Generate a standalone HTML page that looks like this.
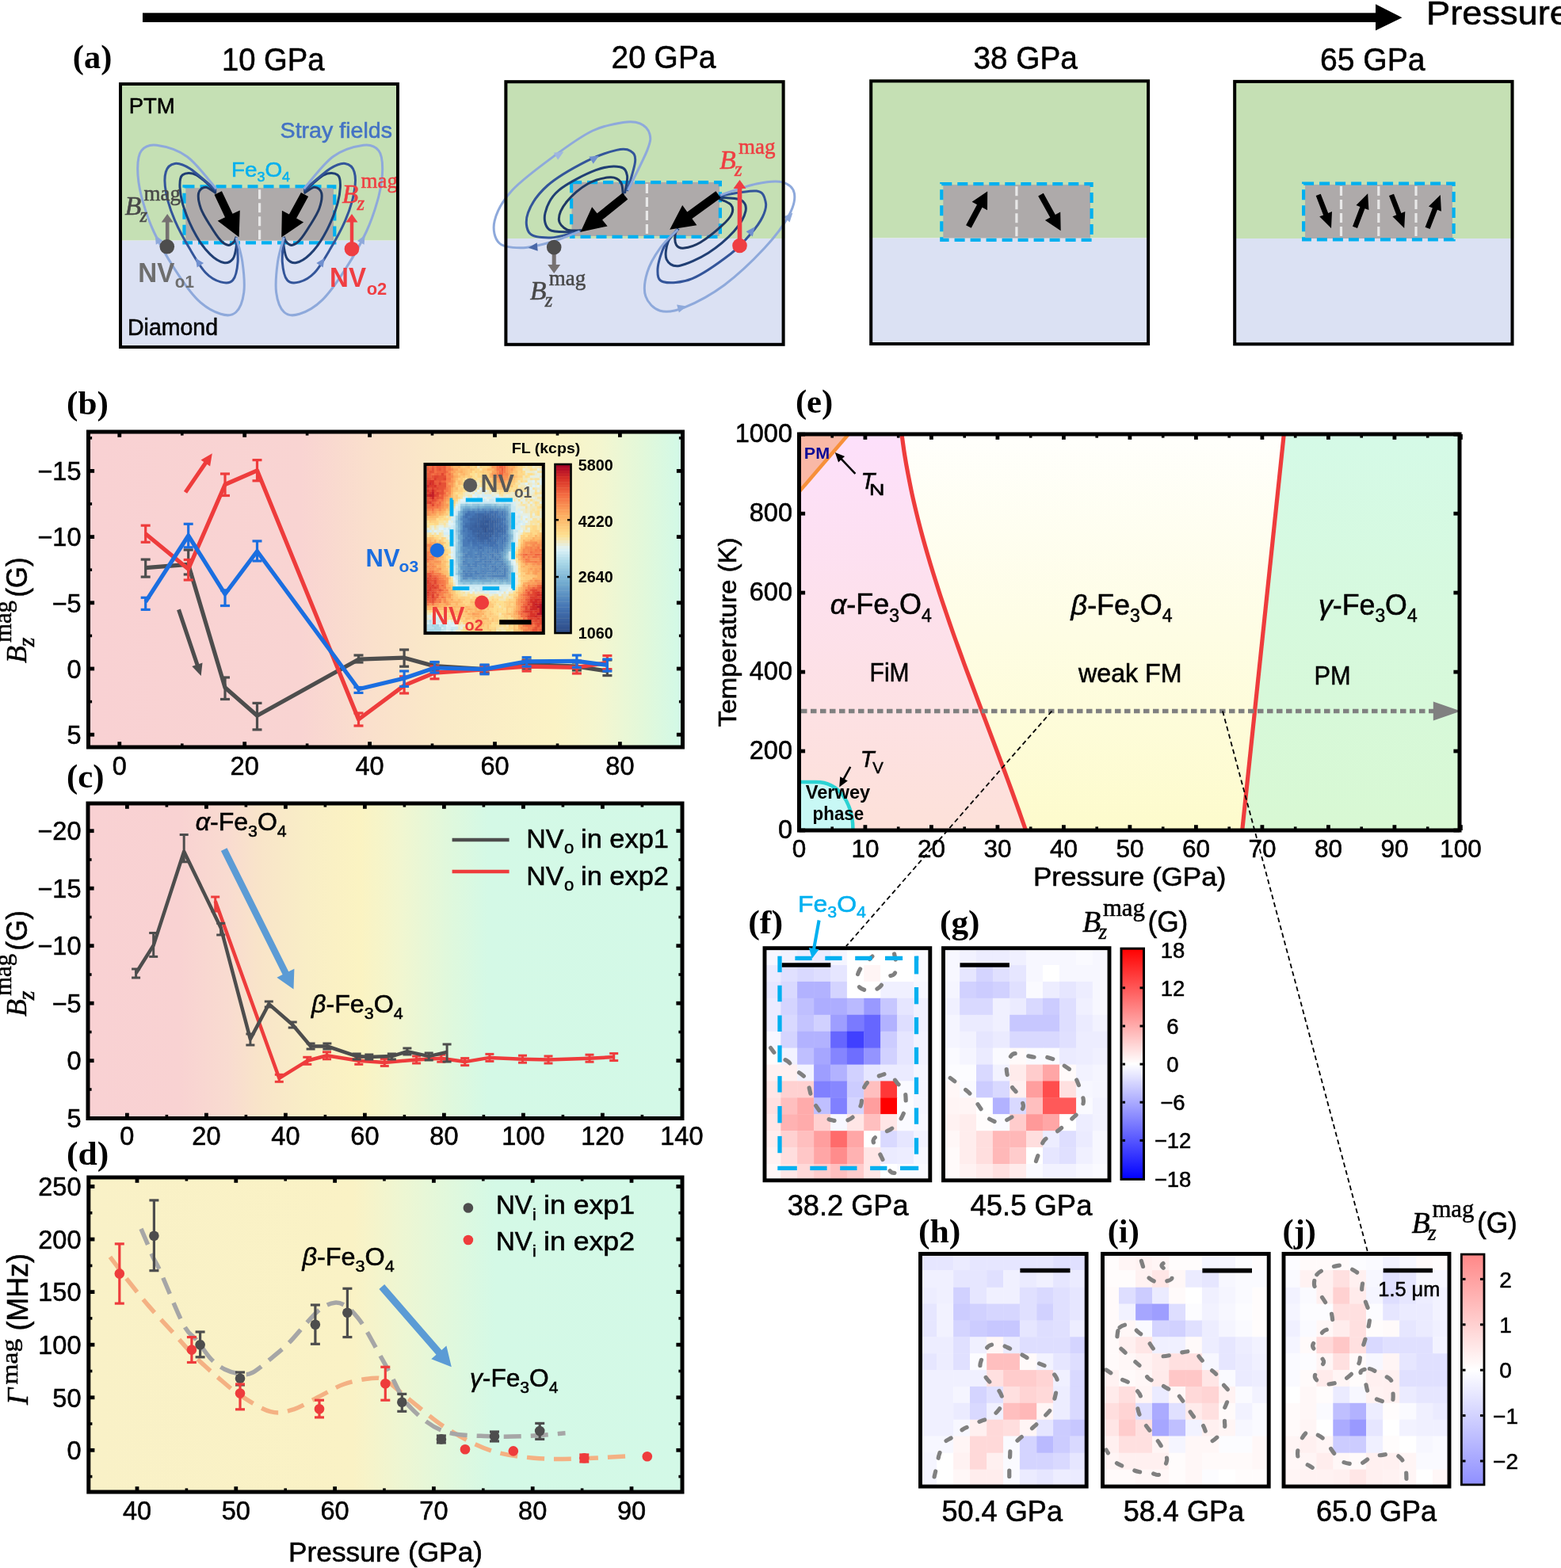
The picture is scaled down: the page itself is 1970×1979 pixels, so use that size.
<!DOCTYPE html>
<html><head><meta charset="utf-8"><title>Fe3O4 figure</title>
<style>html,body{margin:0;padding:0;background:#fff;}svg{display:block;}
</style></head>
<body><svg width="1970" height="1979" viewBox="0 0 1970 1979" font-family='"Liberation Sans", Arial, sans-serif'>
<rect width="1970" height="1979" fill="#fff"/>
<rect x="180.0" y="16.3" width="1557.0" height="11.7" fill="#000"/>
<polygon points="1736.0,5.3 1769.5,22.2 1736.0,38.5" fill="#000" />
<text x="1800.0" y="30.8" font-size="43" textLength="181.0" lengthAdjust="spacingAndGlyphs" stroke="#000" stroke-width="0.55">Pressure</text>
<text x="91.8" y="85.5" font-size="43" font-family='"Liberation Serif", "Times New Roman", serif' font-weight="bold" textLength="49.5" lengthAdjust="spacingAndGlyphs">(a)</text>
<text x="280.0" y="89.0" font-size="40" textLength="129.6" lengthAdjust="spacingAndGlyphs" stroke="#000" stroke-width="0.55">10 GPa</text>
<text x="771.5" y="86.2" font-size="40" textLength="132.0" lengthAdjust="spacingAndGlyphs" stroke="#000" stroke-width="0.55">20 GPa</text>
<text x="1228.4" y="87.3" font-size="40" textLength="131.5" lengthAdjust="spacingAndGlyphs" stroke="#000" stroke-width="0.55">38 GPa</text>
<text x="1666.0" y="89.0" font-size="40" textLength="132.6" lengthAdjust="spacingAndGlyphs" stroke="#000" stroke-width="0.55">65 GPa</text>
<rect x="150.0" y="104.0" width="354.0" height="199.6" fill="#c5e0b4"/>
<rect x="150.0" y="303.6" width="354.0" height="136.4" fill="#dbe1f3"/>
<rect x="636.4" y="101.2" width="354.2" height="199.8" fill="#c5e0b4"/>
<rect x="636.4" y="301.0" width="354.2" height="135.8" fill="#dbe1f3"/>
<rect x="1097.2" y="100.3" width="353.9" height="200.2" fill="#c5e0b4"/>
<rect x="1097.2" y="300.5" width="353.9" height="135.5" fill="#dbe1f3"/>
<rect x="1556.2" y="100.9" width="354.3" height="200.1" fill="#c5e0b4"/>
<rect x="1556.2" y="301.0" width="354.3" height="135.3" fill="#dbe1f3"/>
<rect x="234.3" y="237.2" width="186.7" height="66.4" fill="#aeaaaa"/>
<line x1="327.6" y1="239.2" x2="327.6" y2="303.6" stroke="#e8e8e8" stroke-width="3.2" stroke-dasharray="12 5"/>
<rect x="232.5" y="235.4" width="189.8" height="70.9" fill="none" stroke="#00b0f0" stroke-width="4.2" stroke-dasharray="13 7"/>
<rect x="721.5" y="230.0" width="186.5" height="68.0" fill="#aeaaaa"/>
<line x1="816.4" y1="232.0" x2="816.4" y2="298.0" stroke="#e8e8e8" stroke-width="3.2" stroke-dasharray="12 5"/>
<rect x="721.1" y="230.1" width="187.8" height="68.8" fill="none" stroke="#00b0f0" stroke-width="4.2" stroke-dasharray="13 7"/>
<rect x="1190.3" y="233.2" width="185.7" height="67.3" fill="#aeaaaa"/>
<line x1="1282.9" y1="235.2" x2="1282.9" y2="300.5" stroke="#e8e8e8" stroke-width="3.2" stroke-dasharray="12 5"/>
<rect x="1188.3" y="232.2" width="189.3" height="70.7" fill="none" stroke="#00b0f0" stroke-width="4.2" stroke-dasharray="13 7"/>
<rect x="1647.1" y="233.1" width="185.9" height="67.9" fill="#aeaaaa"/>
<line x1="1692.5" y1="235.1" x2="1692.5" y2="301.0" stroke="#e8e8e8" stroke-width="3.2" stroke-dasharray="12 5"/>
<line x1="1739.8" y1="235.1" x2="1739.8" y2="301.0" stroke="#e8e8e8" stroke-width="3.2" stroke-dasharray="12 5"/>
<line x1="1787.0" y1="235.1" x2="1787.0" y2="301.0" stroke="#e8e8e8" stroke-width="3.2" stroke-dasharray="12 5"/>
<rect x="1645.1" y="231.6" width="189.5" height="70.8" fill="none" stroke="#00b0f0" stroke-width="4.2" stroke-dasharray="13 7"/>
<path d="M272.8,243.9 C270.5,242.7 263.0,236.2 259.3,236.2 C255.6,236.2 251.6,239.4 250.6,243.9 C249.7,248.4 251.1,256.4 253.5,263.2 C255.9,269.9 260.9,277.6 265.1,284.3 C269.2,291.1 274.7,299.4 278.5,303.6 C282.4,307.8 285.3,309.1 288.2,309.4 C291.0,309.6 293.8,306.9 295.5,305.1 C297.1,303.4 297.7,299.8 298.2,298.8" fill="none" stroke="#1f3864" stroke-width="3.0"/>
<path d="M383.6,243.9 C385.9,242.7 393.4,236.2 397.1,236.2 C400.8,236.2 404.8,239.4 405.8,243.9 C406.7,248.4 405.3,256.4 402.9,263.2 C400.5,269.9 395.5,277.6 391.3,284.3 C387.2,291.1 381.7,299.4 377.9,303.6 C374.0,307.8 371.1,309.1 368.2,309.4 C365.4,309.6 362.6,306.9 360.9,305.1 C359.3,303.4 358.7,299.8 358.2,298.8" fill="none" stroke="#1f3864" stroke-width="3.0"/>
<path d="M272.8,242.0 C268.6,238.5 254.8,224.4 247.8,220.8 C240.7,217.3 233.9,218.3 230.4,220.8 C227.0,223.4 226.7,229.2 227.0,236.2 C227.3,243.3 228.9,252.9 232.4,263.2 C235.8,273.4 242.3,288.2 247.8,297.8 C253.2,307.4 259.3,315.3 265.1,320.9 C270.8,326.5 277.6,330.5 282.4,331.5 C287.2,332.4 291.3,330.0 293.9,326.7 C296.6,323.3 297.5,315.8 298.2,311.3 C298.9,306.7 298.2,301.3 298.2,299.4" fill="none" stroke="#203f74" stroke-width="3.0"/>
<path d="M383.6,242.0 C387.8,238.5 401.6,224.4 408.6,220.8 C415.7,217.3 422.5,218.3 426.0,220.8 C429.4,223.4 429.7,229.2 429.4,236.2 C429.1,243.3 427.5,252.9 424.0,263.2 C420.6,273.4 414.1,288.2 408.6,297.8 C403.2,307.4 397.1,315.3 391.3,320.9 C385.6,326.5 378.8,330.5 374.0,331.5 C369.2,332.4 365.1,330.0 362.5,326.7 C359.8,323.3 358.9,315.8 358.2,311.3 C357.5,306.7 358.2,301.3 358.2,299.4" fill="none" stroke="#203f74" stroke-width="3.0"/>
<path d="M272.8,240.1 C267.3,235.6 248.7,218.8 240.1,213.1 C231.4,207.5 225.9,205.8 220.8,206.4 C215.7,207.1 211.1,210.7 209.3,217.0 C207.4,223.2 207.7,233.7 209.7,243.9 C211.6,254.2 215.7,266.7 220.8,278.6 C225.9,290.4 233.6,304.2 240.1,315.1 C246.5,326.0 252.9,337.2 259.3,344.0 C265.7,350.8 272.8,354.3 278.5,355.9 C284.3,357.5 290.3,357.8 293.9,353.6 C297.5,349.4 299.4,339.5 300.1,330.5 C300.8,321.5 298.5,304.9 298.2,299.7" fill="none" stroke="#33559a" stroke-width="3.0"/>
<path d="M383.6,240.1 C389.1,235.6 407.7,218.8 416.3,213.1 C425.0,207.5 430.5,205.8 435.6,206.4 C440.7,207.1 445.3,210.7 447.1,217.0 C449.0,223.2 448.7,233.7 446.7,243.9 C444.8,254.2 440.7,266.7 435.6,278.6 C430.5,290.4 422.8,304.2 416.3,315.1 C409.9,326.0 403.5,337.2 397.1,344.0 C390.7,350.8 383.6,354.3 377.9,355.9 C372.1,357.5 366.1,357.8 362.5,353.6 C358.9,349.4 357.0,339.5 356.3,330.5 C355.6,321.5 357.9,304.9 358.2,299.7" fill="none" stroke="#33559a" stroke-width="3.0"/>
<path d="M272.8,238.2 C266.7,231.4 248.7,206.9 236.2,197.8 C223.7,188.6 207.3,184.6 197.7,183.3 C188.1,182.0 182.5,185.1 178.5,190.1 C174.5,195.0 173.7,203.5 173.7,213.1 C173.7,222.8 175.1,234.6 178.5,247.8 C181.9,260.9 186.8,276.6 193.9,292.0 C200.9,307.4 211.5,325.7 220.8,340.1 C230.1,354.6 240.1,369.3 249.7,378.6 C259.3,388.0 270.5,393.8 278.5,396.3 C286.6,398.9 292.9,398.6 297.8,394.0 C302.7,389.5 306.4,379.6 307.8,369.0 C309.1,358.4 307.5,342.1 305.9,330.5 C304.3,319.0 299.5,304.9 298.2,299.7" fill="none" stroke="#8ea9db" stroke-width="3.0"/>
<path d="M383.6,238.2 C389.7,231.4 407.7,206.9 420.2,197.8 C432.7,188.6 449.1,184.6 458.7,183.3 C468.3,182.0 473.9,185.1 477.9,190.1 C481.9,195.0 482.7,203.5 482.7,213.1 C482.7,222.8 481.3,234.6 477.9,247.8 C474.5,260.9 469.6,276.6 462.5,292.0 C455.5,307.4 444.9,325.7 435.6,340.1 C426.3,354.6 416.3,369.3 406.7,378.6 C397.1,388.0 385.9,393.8 377.9,396.3 C369.8,398.9 363.5,398.6 358.6,394.0 C353.7,389.5 350.0,379.6 348.6,369.0 C347.3,358.4 348.9,342.1 350.5,330.5 C352.1,319.0 356.9,304.9 358.2,299.7" fill="none" stroke="#8ea9db" stroke-width="3.0"/>
<polygon points="205.5,303.9 195.8,296.8 196.8,308.8" fill="#8ea9db" />
<polygon points="459.6,308.8 460.6,296.8 450.9,303.9" fill="#8ea9db" />
<polygon points="257.1,332.1 246.8,325.7 248.7,337.6" fill="#6f8fcf" />
<polygon points="407.7,337.6 409.6,325.7 399.3,332.1" fill="#6f8fcf" />
<polygon points="270.5,245.7 284.0,274.3 274.7,278.7 301.6,299.2 302.8,265.5 293.5,269.8 279.9,241.3" fill="#000" />
<polygon points="379.9,243.0 364.9,270.6 355.9,265.7 355.2,299.5 383.1,280.5 374.1,275.6 389.1,248.0" fill="#000" />
<polygon points="213.5,303.0 213.5,280.6 218.7,280.6 211.2,270.0 203.7,280.6 208.9,280.6 208.9,303.0" fill="#767171" />
<circle cx="210.8" cy="311.3" r="9.3" fill="#4d4d4d"/>
<polygon points="446.2,306.0 446.2,280.6 451.5,280.6 444.0,270.0 436.5,280.6 441.8,280.6 441.8,306.0" fill="#ef3e42" />
<circle cx="444.0" cy="314.2" r="9.3" fill="#ef3e42"/>
<text x="162.7" y="142.9" font-size="28" textLength="58.0" lengthAdjust="spacingAndGlyphs" stroke="#000" stroke-width="0.55">PTM</text>
<text x="353.6" y="173.7" font-size="28.5" fill="#4472c4" textLength="141.4" lengthAdjust="spacingAndGlyphs" stroke="#4472c4" stroke-width="0.55">Stray fields</text>
<text x="292.0" y="222.8" font-size="26.5" fill="#00b0f0" textLength="74.0" lengthAdjust="spacingAndGlyphs" stroke="#00b0f0" stroke-width="0.55">Fe<tspan font-size="17" dy="6">3</tspan><tspan dy="-6">O</tspan><tspan font-size="17" dy="6">4</tspan></text>
<text x="161.0" y="422.9" font-size="29" textLength="114.0" lengthAdjust="spacingAndGlyphs" stroke="#000" stroke-width="0.55">Diamond</text>
<text x="174.3" y="355.5" font-size="35" font-weight="bold" fill="#6e6e6e" textLength="46.0" lengthAdjust="spacingAndGlyphs">NV</text>
<text x="220.8" y="363.2" font-size="21.5" font-weight="bold" fill="#6e6e6e" textLength="24.1" lengthAdjust="spacingAndGlyphs">o1</text>
<text x="416.1" y="362.3" font-size="35" font-weight="bold" fill="#ef3e42" textLength="46.0" lengthAdjust="spacingAndGlyphs">NV</text>
<text x="462.7" y="371.9" font-size="21.5" font-weight="bold" fill="#ef3e42" textLength="25.6" lengthAdjust="spacingAndGlyphs">o2</text>
<text x="157.5" y="270.9" font-size="34" font-family='"Liberation Serif", "Times New Roman", serif' font-style="italic" fill="#484848" stroke="#484848" stroke-width="0.5">B</text>
<text x="176.5" y="280.2" font-size="24.5" font-family='"Liberation Serif", "Times New Roman", serif' font-style="italic" fill="#484848" stroke="#484848" stroke-width="0.5">z</text>
<text x="181.5" y="252.6" font-size="28" font-family='"Liberation Serif", "Times New Roman", serif' fill="#484848" textLength="46.5" lengthAdjust="spacingAndGlyphs" stroke="#484848" stroke-width="0.5">mag</text>
<text x="431.5" y="255.5" font-size="34" font-family='"Liberation Serif", "Times New Roman", serif' font-style="italic" fill="#ef3e42" stroke="#ef3e42" stroke-width="0.5">B</text>
<text x="450.5" y="264.8" font-size="24.5" font-family='"Liberation Serif", "Times New Roman", serif' font-style="italic" fill="#ef3e42" stroke="#ef3e42" stroke-width="0.5">z</text>
<text x="455.5" y="237.2" font-size="28" font-family='"Liberation Serif", "Times New Roman", serif' fill="#ef3e42" textLength="46.5" lengthAdjust="spacingAndGlyphs" stroke="#ef3e42" stroke-width="0.5">mag</text>
<path d="M786.4,246.2 C785.9,243.5 786.1,233.6 783.4,229.9 C780.7,226.2 777.1,223.5 770.2,223.8 C763.3,224.2 750.9,226.9 741.8,232.0 C732.7,237.0 721.5,246.8 715.5,254.3 C709.4,261.7 705.3,270.7 705.3,276.6 C705.3,282.5 710.7,287.4 715.5,289.8 C720.2,292.1 730.7,290.6 733.7,290.8" fill="none" stroke="#1f3864" stroke-width="3.0"/>
<path d="M788.5,244.1 C789.0,240.4 792.5,227.4 791.5,221.8 C790.5,216.2 789.0,211.8 782.4,210.7 C775.8,209.5 764.8,209.8 752.0,214.7 C739.1,219.6 716.0,231.1 705.3,240.1 C694.7,249.0 690.1,260.2 688.1,268.5 C686.0,276.7 687.9,285.7 693.1,289.8 C698.4,293.8 712.8,292.6 719.5,292.8 C726.3,293.0 731.3,291.1 733.7,290.8" fill="none" stroke="#203f74" stroke-width="3.0"/>
<path d="M791.5,241.1 C793.2,234.8 801.0,212.0 801.6,203.6 C802.3,195.1 799.4,192.8 795.6,190.4 C791.7,188.0 787.6,187.2 778.3,189.4 C769.0,191.6 754.3,196.1 739.8,203.6 C725.3,211.0 703.4,223.2 691.1,234.0 C678.9,244.8 670.1,258.3 666.4,268.5 C662.7,278.6 664.0,289.6 668.8,294.8 C673.6,300.1 686.0,300.1 695.2,299.9 C704.3,299.7 718.8,294.8 723.6,293.8" fill="none" stroke="#33559a" stroke-width="3.0"/>
<path d="M792.5,240.1 C796.6,231.6 812.3,201.2 816.9,189.4 C821.4,177.5 821.4,174.7 819.9,169.1 C818.4,163.5 813.3,158.3 807.7,155.9 C802.2,153.5 796.4,153.0 786.4,154.5 C776.5,156.0 762.1,158.2 747.9,165.0 C733.7,171.9 718.2,182.9 701.3,195.5 C684.4,208.0 659.3,226.2 646.5,240.1 C633.7,253.9 626.9,267.4 624.2,278.6 C621.5,289.8 624.2,301.3 630.3,307.0 C636.4,312.7 649.5,313.0 660.7,312.7 C671.9,312.3 685.4,308.4 697.2,305.0 C709.0,301.5 725.9,294.0 731.7,291.8" fill="none" stroke="#8ea9db" stroke-width="3.0"/>
<path d="M906.1,250.2 C908.8,251.6 919.4,254.9 922.3,258.3 C925.2,261.7 925.4,265.9 923.3,270.5 C921.3,275.1 916.7,279.8 910.1,285.7 C903.6,291.6 891.6,301.4 883.8,306.0 C876.0,310.5 868.6,312.6 863.5,313.1 C858.4,313.6 855.2,312.1 853.4,309.0 C851.5,306.0 851.8,298.2 852.3,294.8 C852.9,291.4 855.7,289.8 856.4,288.7" fill="none" stroke="#1f3864" stroke-width="3.0"/>
<path d="M907.1,249.2 C911.7,249.7 928.8,249.4 934.5,252.2 C940.1,255.1 942.3,259.8 941.0,266.4 C939.6,273.0 934.2,283.0 926.4,291.8 C918.5,300.6 905.4,311.9 893.9,319.2 C882.4,326.4 866.2,334.0 857.4,335.4 C848.6,336.7 843.6,332.3 841.2,327.3 C838.8,322.2 840.8,311.4 843.2,305.0 C845.7,298.5 853.7,291.4 855.8,288.7" fill="none" stroke="#203f74" stroke-width="3.0"/>
<path d="M908.1,247.2 C915.9,246.2 945.1,239.7 954.8,241.1 C964.5,242.4 965.0,249.9 966.3,255.3 C967.6,260.7 965.6,266.9 962.5,273.5 C959.4,280.1 954.4,287.1 947.7,294.8 C941.0,302.6 934.6,310.7 922.3,320.2 C910.0,329.6 887.8,345.7 873.6,351.6 C859.4,357.5 844.4,357.7 837.1,355.7 C829.9,353.6 829.7,347.2 830.0,339.4 C830.4,331.7 834.9,317.3 839.2,309.0 C843.4,300.7 852.7,293.0 855.4,289.8" fill="none" stroke="#33559a" stroke-width="3.0"/>
<path d="M909.1,246.2 C916.7,243.8 941.7,234.7 954.8,232.0 C967.8,229.3 979.3,227.9 987.2,229.9 C995.1,232.0 1001.1,237.0 1002.4,244.1 C1003.8,251.2 1001.6,261.0 995.3,272.5 C989.1,284.0 978.4,298.5 964.9,313.1 C951.4,327.6 931.1,347.2 914.2,359.7 C897.3,372.2 877.0,382.7 863.5,388.1 C850.0,393.5 841.2,394.5 833.1,392.2 C825.0,389.8 817.5,382.0 814.8,373.9 C812.1,365.8 813.8,353.6 816.9,343.5 C819.9,333.4 826.7,322.0 833.1,313.1 C839.5,304.1 851.7,293.6 855.4,289.8" fill="none" stroke="#8ea9db" stroke-width="3.0"/>
<polygon points="704.1,201.7 711.4,191.4 698.8,192.7" fill="#9fb6e0" />
<polygon points="748.7,206.8 756.0,196.5 743.4,197.7" fill="#6f8fcf" />
<polygon points="677.7,306.3 666.8,312.7 678.7,316.8" fill="#4a68a8" />
<polygon points="949.8,298.6 952.7,286.3 941.5,292.2" fill="#6f8fcf" />
<polygon points="856.9,394.6 866.5,386.5 854.1,384.5" fill="#8ea9db" />
<polygon points="996.6,280.5 1000.4,268.5 988.8,273.5" fill="#8ea9db" />
<polygon points="785.7,243.4 753.6,269.3 747.1,261.3 732.7,292.8 766.6,285.4 760.1,277.5 792.3,251.6" fill="#000" />
<polygon points="903.4,241.2 867.3,267.4 861.2,259.1 845.2,289.8 879.4,284.2 873.4,275.9 909.6,249.8" fill="#000" />
<polygon points="696.7,318.0 696.7,334.0 691.2,334.0 699.2,345.0 707.2,334.0 701.7,334.0 701.7,318.0" fill="#767171" />
<circle cx="699.2" cy="312.1" r="9.3" fill="#4d4d4d"/>
<polygon points="936.3,305.0 936.3,237.9 941.5,237.9 933.5,226.9 925.5,237.9 930.7,237.9 930.7,305.0" fill="#ef3e42" />
<circle cx="933.5" cy="310.0" r="9.3" fill="#ef3e42"/>
<text x="668.8" y="378.0" font-size="34" font-family='"Liberation Serif", "Times New Roman", serif' font-style="italic" fill="#484848" stroke="#484848" stroke-width="0.5">B</text>
<text x="687.8" y="387.3" font-size="24.5" font-family='"Liberation Serif", "Times New Roman", serif' font-style="italic" fill="#484848" stroke="#484848" stroke-width="0.5">z</text>
<text x="692.8" y="359.7" font-size="28" font-family='"Liberation Serif", "Times New Roman", serif' fill="#484848" textLength="46.5" lengthAdjust="spacingAndGlyphs" stroke="#484848" stroke-width="0.5">mag</text>
<text x="908.1" y="212.7" font-size="34" font-family='"Liberation Serif", "Times New Roman", serif' font-style="italic" fill="#ef3e42" stroke="#ef3e42" stroke-width="0.5">B</text>
<text x="927.1" y="222.0" font-size="24.5" font-family='"Liberation Serif", "Times New Roman", serif' font-style="italic" fill="#ef3e42" stroke="#ef3e42" stroke-width="0.5">z</text>
<text x="932.1" y="194.4" font-size="28" font-family='"Liberation Serif", "Times New Roman", serif' fill="#ef3e42" textLength="46.5" lengthAdjust="spacingAndGlyphs" stroke="#ef3e42" stroke-width="0.5">mag</text>
<polygon points="1225.7,287.8 1239.6,261.8 1246.0,265.2 1246.2,241.5 1226.6,254.8 1233.0,258.2 1219.1,284.2" fill="#000" />
<polygon points="1310.2,247.4 1325.3,274.6 1318.9,278.1 1338.7,291.2 1338.2,267.5 1331.8,271.0 1316.8,243.8" fill="#000" />
<polygon points="1660.7,247.1 1670.1,271.4 1665.2,273.3 1680.0,287.9 1681.0,267.1 1676.2,269.0 1666.7,244.7" fill="#000" />
<polygon points="1713.0,288.1 1722.5,263.2 1727.4,265.1 1726.2,244.3 1711.5,259.0 1716.4,260.9 1707.0,285.7" fill="#000" />
<polygon points="1753.0,247.1 1762.3,271.3 1757.4,273.2 1772.2,287.9 1773.3,267.1 1768.4,269.0 1759.0,244.7" fill="#000" />
<polygon points="1804.6,289.1 1814.0,264.8 1818.9,266.7 1817.8,245.9 1803.0,260.6 1807.9,262.5 1798.6,286.7" fill="#000" />
<rect x="152.0" y="106.0" width="350.0" height="332.0" fill="none" stroke="#000" stroke-width="4"/>
<rect x="638.4" y="103.2" width="350.2" height="331.6" fill="none" stroke="#000" stroke-width="4"/>
<rect x="1099.2" y="102.3" width="349.9" height="331.7" fill="none" stroke="#000" stroke-width="4"/>
<rect x="1558.2" y="102.9" width="350.3" height="331.4" fill="none" stroke="#000" stroke-width="4"/>
<defs><linearGradient id="gb" gradientUnits="userSpaceOnUse" x1="111.5" y1="0" x2="861.5" y2="0"><stop offset="0.0033" stop-color="#f9d1d3"/><stop offset="0.3580" stop-color="#f9d4d2"/><stop offset="0.4780" stop-color="#fae0cc"/><stop offset="0.5980" stop-color="#faeac7"/><stop offset="0.7847" stop-color="#fbf3c5"/><stop offset="0.8647" stop-color="#f3f6d0"/><stop offset="0.9340" stop-color="#e2f8da"/><stop offset="0.9967" stop-color="#d2f9e7"/></linearGradient></defs>
<rect x="111.5" y="545.0" width="750.0" height="398.0" fill="url(#gb)"/>
<line x1="183.7" y1="706.1" x2="183.7" y2="728.1" stroke="#4d4d4d" stroke-width="3.2" />
<line x1="177.7" y1="706.1" x2="189.7" y2="706.1" stroke="#4d4d4d" stroke-width="3.2" />
<line x1="177.7" y1="728.1" x2="189.7" y2="728.1" stroke="#4d4d4d" stroke-width="3.2" />
<line x1="237.7" y1="694.0" x2="237.7" y2="725.0" stroke="#4d4d4d" stroke-width="3.2" />
<line x1="231.7" y1="694.0" x2="243.7" y2="694.0" stroke="#4d4d4d" stroke-width="3.2" />
<line x1="231.7" y1="725.0" x2="243.7" y2="725.0" stroke="#4d4d4d" stroke-width="3.2" />
<line x1="284.0" y1="855.0" x2="284.0" y2="882.5" stroke="#4d4d4d" stroke-width="3.2" />
<line x1="278.0" y1="855.0" x2="290.0" y2="855.0" stroke="#4d4d4d" stroke-width="3.2" />
<line x1="278.0" y1="882.5" x2="290.0" y2="882.5" stroke="#4d4d4d" stroke-width="3.2" />
<line x1="324.5" y1="887.4" x2="324.5" y2="920.9" stroke="#4d4d4d" stroke-width="3.2" />
<line x1="318.5" y1="887.4" x2="330.5" y2="887.4" stroke="#4d4d4d" stroke-width="3.2" />
<line x1="318.5" y1="920.9" x2="330.5" y2="920.9" stroke="#4d4d4d" stroke-width="3.2" />
<line x1="452.5" y1="827.0" x2="452.5" y2="836.0" stroke="#4d4d4d" stroke-width="3.2" />
<line x1="446.5" y1="827.0" x2="458.5" y2="827.0" stroke="#4d4d4d" stroke-width="3.2" />
<line x1="446.5" y1="836.0" x2="458.5" y2="836.0" stroke="#4d4d4d" stroke-width="3.2" />
<line x1="510.1" y1="820.0" x2="510.1" y2="841.2" stroke="#4d4d4d" stroke-width="3.2" />
<line x1="504.1" y1="820.0" x2="516.1" y2="820.0" stroke="#4d4d4d" stroke-width="3.2" />
<line x1="504.1" y1="841.2" x2="516.1" y2="841.2" stroke="#4d4d4d" stroke-width="3.2" />
<line x1="548.5" y1="836.0" x2="548.5" y2="846.0" stroke="#4d4d4d" stroke-width="3.2" />
<line x1="542.5" y1="836.0" x2="554.5" y2="836.0" stroke="#4d4d4d" stroke-width="3.2" />
<line x1="542.5" y1="846.0" x2="554.5" y2="846.0" stroke="#4d4d4d" stroke-width="3.2" />
<line x1="611.5" y1="840.0" x2="611.5" y2="849.0" stroke="#4d4d4d" stroke-width="3.2" />
<line x1="605.5" y1="840.0" x2="617.5" y2="840.0" stroke="#4d4d4d" stroke-width="3.2" />
<line x1="605.5" y1="849.0" x2="617.5" y2="849.0" stroke="#4d4d4d" stroke-width="3.2" />
<line x1="664.6" y1="833.0" x2="664.6" y2="844.0" stroke="#4d4d4d" stroke-width="3.2" />
<line x1="658.6" y1="833.0" x2="670.6" y2="833.0" stroke="#4d4d4d" stroke-width="3.2" />
<line x1="658.6" y1="844.0" x2="670.6" y2="844.0" stroke="#4d4d4d" stroke-width="3.2" />
<line x1="727.9" y1="836.0" x2="727.9" y2="846.0" stroke="#4d4d4d" stroke-width="3.2" />
<line x1="721.9" y1="836.0" x2="733.9" y2="836.0" stroke="#4d4d4d" stroke-width="3.2" />
<line x1="721.9" y1="846.0" x2="733.9" y2="846.0" stroke="#4d4d4d" stroke-width="3.2" />
<line x1="766.4" y1="833.0" x2="766.4" y2="852.6" stroke="#4d4d4d" stroke-width="3.2" />
<line x1="760.4" y1="833.0" x2="772.4" y2="833.0" stroke="#4d4d4d" stroke-width="3.2" />
<line x1="760.4" y1="852.6" x2="772.4" y2="852.6" stroke="#4d4d4d" stroke-width="3.2" />
<polyline points="183.7,716.7 237.7,712.4 284.0,867.8 324.5,903.2 452.5,832.2 510.1,830.2 548.5,840.7 611.5,844.6 664.6,838.4 727.9,841.2 766.4,846.9" fill="none" stroke="#4d4d4d" stroke-width="5.2" stroke-linejoin="round" />
<line x1="183.7" y1="663.2" x2="183.7" y2="684.3" stroke="#ee3c3c" stroke-width="3.2" />
<line x1="177.7" y1="663.2" x2="189.7" y2="663.2" stroke="#ee3c3c" stroke-width="3.2" />
<line x1="177.7" y1="684.3" x2="189.7" y2="684.3" stroke="#ee3c3c" stroke-width="3.2" />
<line x1="237.7" y1="706.5" x2="237.7" y2="732.0" stroke="#ee3c3c" stroke-width="3.2" />
<line x1="231.7" y1="706.5" x2="243.7" y2="706.5" stroke="#ee3c3c" stroke-width="3.2" />
<line x1="231.7" y1="732.0" x2="243.7" y2="732.0" stroke="#ee3c3c" stroke-width="3.2" />
<line x1="284.0" y1="598.0" x2="284.0" y2="625.5" stroke="#ee3c3c" stroke-width="3.2" />
<line x1="278.0" y1="598.0" x2="290.0" y2="598.0" stroke="#ee3c3c" stroke-width="3.2" />
<line x1="278.0" y1="625.5" x2="290.0" y2="625.5" stroke="#ee3c3c" stroke-width="3.2" />
<line x1="324.5" y1="580.6" x2="324.5" y2="606.8" stroke="#ee3c3c" stroke-width="3.2" />
<line x1="318.5" y1="580.6" x2="330.5" y2="580.6" stroke="#ee3c3c" stroke-width="3.2" />
<line x1="318.5" y1="606.8" x2="330.5" y2="606.8" stroke="#ee3c3c" stroke-width="3.2" />
<line x1="452.5" y1="900.0" x2="452.5" y2="916.0" stroke="#ee3c3c" stroke-width="3.2" />
<line x1="446.5" y1="900.0" x2="458.5" y2="900.0" stroke="#ee3c3c" stroke-width="3.2" />
<line x1="446.5" y1="916.0" x2="458.5" y2="916.0" stroke="#ee3c3c" stroke-width="3.2" />
<line x1="510.1" y1="853.8" x2="510.1" y2="875.0" stroke="#ee3c3c" stroke-width="3.2" />
<line x1="504.1" y1="853.8" x2="516.1" y2="853.8" stroke="#ee3c3c" stroke-width="3.2" />
<line x1="504.1" y1="875.0" x2="516.1" y2="875.0" stroke="#ee3c3c" stroke-width="3.2" />
<line x1="548.5" y1="841.0" x2="548.5" y2="856.8" stroke="#ee3c3c" stroke-width="3.2" />
<line x1="542.5" y1="841.0" x2="554.5" y2="841.0" stroke="#ee3c3c" stroke-width="3.2" />
<line x1="542.5" y1="856.8" x2="554.5" y2="856.8" stroke="#ee3c3c" stroke-width="3.2" />
<line x1="611.5" y1="840.0" x2="611.5" y2="850.0" stroke="#ee3c3c" stroke-width="3.2" />
<line x1="605.5" y1="840.0" x2="617.5" y2="840.0" stroke="#ee3c3c" stroke-width="3.2" />
<line x1="605.5" y1="850.0" x2="617.5" y2="850.0" stroke="#ee3c3c" stroke-width="3.2" />
<line x1="664.6" y1="834.0" x2="664.6" y2="847.0" stroke="#ee3c3c" stroke-width="3.2" />
<line x1="658.6" y1="834.0" x2="670.6" y2="834.0" stroke="#ee3c3c" stroke-width="3.2" />
<line x1="658.6" y1="847.0" x2="670.6" y2="847.0" stroke="#ee3c3c" stroke-width="3.2" />
<line x1="727.9" y1="834.0" x2="727.9" y2="850.0" stroke="#ee3c3c" stroke-width="3.2" />
<line x1="721.9" y1="834.0" x2="733.9" y2="834.0" stroke="#ee3c3c" stroke-width="3.2" />
<line x1="721.9" y1="850.0" x2="733.9" y2="850.0" stroke="#ee3c3c" stroke-width="3.2" />
<line x1="766.4" y1="827.5" x2="766.4" y2="844.6" stroke="#ee3c3c" stroke-width="3.2" />
<line x1="760.4" y1="827.5" x2="772.4" y2="827.5" stroke="#ee3c3c" stroke-width="3.2" />
<line x1="760.4" y1="844.6" x2="772.4" y2="844.6" stroke="#ee3c3c" stroke-width="3.2" />
<polyline points="183.7,673.7 237.7,718.3 284.0,611.5 324.5,593.8 452.5,908.0 510.1,865.2 548.5,849.2 611.5,845.0 664.6,841.2 727.9,842.3 766.4,836.6" fill="none" stroke="#ee3c3c" stroke-width="5.2" stroke-linejoin="round" />
<line x1="183.7" y1="754.3" x2="183.7" y2="769.4" stroke="#1b6ee0" stroke-width="3.2" />
<line x1="177.7" y1="754.3" x2="189.7" y2="754.3" stroke="#1b6ee0" stroke-width="3.2" />
<line x1="177.7" y1="769.4" x2="189.7" y2="769.4" stroke="#1b6ee0" stroke-width="3.2" />
<line x1="237.7" y1="661.3" x2="237.7" y2="690.8" stroke="#1b6ee0" stroke-width="3.2" />
<line x1="231.7" y1="661.3" x2="243.7" y2="661.3" stroke="#1b6ee0" stroke-width="3.2" />
<line x1="231.7" y1="690.8" x2="243.7" y2="690.8" stroke="#1b6ee0" stroke-width="3.2" />
<line x1="284.0" y1="744.9" x2="284.0" y2="764.5" stroke="#1b6ee0" stroke-width="3.2" />
<line x1="278.0" y1="744.9" x2="290.0" y2="744.9" stroke="#1b6ee0" stroke-width="3.2" />
<line x1="278.0" y1="764.5" x2="290.0" y2="764.5" stroke="#1b6ee0" stroke-width="3.2" />
<line x1="324.5" y1="682.9" x2="324.5" y2="708.0" stroke="#1b6ee0" stroke-width="3.2" />
<line x1="318.5" y1="682.9" x2="330.5" y2="682.9" stroke="#1b6ee0" stroke-width="3.2" />
<line x1="318.5" y1="708.0" x2="330.5" y2="708.0" stroke="#1b6ee0" stroke-width="3.2" />
<line x1="452.5" y1="867.5" x2="452.5" y2="874.4" stroke="#1b6ee0" stroke-width="3.2" />
<line x1="446.5" y1="867.5" x2="458.5" y2="867.5" stroke="#1b6ee0" stroke-width="3.2" />
<line x1="446.5" y1="874.4" x2="458.5" y2="874.4" stroke="#1b6ee0" stroke-width="3.2" />
<line x1="510.1" y1="847.0" x2="510.1" y2="866.4" stroke="#1b6ee0" stroke-width="3.2" />
<line x1="504.1" y1="847.0" x2="516.1" y2="847.0" stroke="#1b6ee0" stroke-width="3.2" />
<line x1="504.1" y1="866.4" x2="516.1" y2="866.4" stroke="#1b6ee0" stroke-width="3.2" />
<line x1="548.5" y1="835.5" x2="548.5" y2="849.0" stroke="#1b6ee0" stroke-width="3.2" />
<line x1="542.5" y1="835.5" x2="554.5" y2="835.5" stroke="#1b6ee0" stroke-width="3.2" />
<line x1="542.5" y1="849.0" x2="554.5" y2="849.0" stroke="#1b6ee0" stroke-width="3.2" />
<line x1="611.5" y1="839.0" x2="611.5" y2="850.8" stroke="#1b6ee0" stroke-width="3.2" />
<line x1="605.5" y1="839.0" x2="617.5" y2="839.0" stroke="#1b6ee0" stroke-width="3.2" />
<line x1="605.5" y1="850.8" x2="617.5" y2="850.8" stroke="#1b6ee0" stroke-width="3.2" />
<line x1="664.6" y1="829.7" x2="664.6" y2="841.2" stroke="#1b6ee0" stroke-width="3.2" />
<line x1="658.6" y1="829.7" x2="670.6" y2="829.7" stroke="#1b6ee0" stroke-width="3.2" />
<line x1="658.6" y1="841.2" x2="670.6" y2="841.2" stroke="#1b6ee0" stroke-width="3.2" />
<line x1="727.9" y1="827.0" x2="727.9" y2="842.3" stroke="#1b6ee0" stroke-width="3.2" />
<line x1="721.9" y1="827.0" x2="733.9" y2="827.0" stroke="#1b6ee0" stroke-width="3.2" />
<line x1="721.9" y1="842.3" x2="733.9" y2="842.3" stroke="#1b6ee0" stroke-width="3.2" />
<line x1="766.4" y1="832.0" x2="766.4" y2="847.0" stroke="#1b6ee0" stroke-width="3.2" />
<line x1="760.4" y1="832.0" x2="772.4" y2="832.0" stroke="#1b6ee0" stroke-width="3.2" />
<line x1="760.4" y1="847.0" x2="772.4" y2="847.0" stroke="#1b6ee0" stroke-width="3.2" />
<polyline points="183.7,759.6 237.7,676.0 284.0,749.8 324.5,695.7 452.5,869.7 510.1,856.0 548.5,843.0 611.5,844.6 664.6,834.8 727.9,834.3 766.4,839.4" fill="none" stroke="#1b6ee0" stroke-width="5.2" stroke-linejoin="round" />
<polygon points="236.1,622.8 261.4,586.0 265.1,588.5 267.8,572.2 253.5,580.6 257.2,583.1 231.9,620.0" fill="#ee3c3c" />
<polygon points="223.1,770.2 246.5,839.6 242.3,841.0 253.7,853.0 255.5,836.5 251.3,838.0 227.9,768.6" fill="#4d4d4d" />
<path fill="#f0653f" d="M538.5,588.0h3.33v3.29h-3.33zM556.7,588.0h3.33v3.29h-3.33zM629.3,588.0h3.33v3.29h-3.33zM632.3,588.0h3.33v3.29h-3.33zM541.5,591.0h3.33v3.29h-3.33zM556.7,591.0h3.33v3.29h-3.33zM538.5,594.0h3.33v3.29h-3.33zM550.6,594.0h3.33v3.29h-3.33zM553.6,594.0h3.33v3.29h-3.33zM556.7,594.0h3.33v3.29h-3.33zM632.3,594.0h3.33v3.29h-3.33zM547.6,597.0h3.33v3.29h-3.33zM553.6,597.0h3.33v3.29h-3.33zM559.7,597.0h3.33v3.29h-3.33zM629.3,597.0h3.33v3.29h-3.33zM632.3,597.0h3.33v3.29h-3.33zM556.7,605.9h3.33v3.29h-3.33zM559.7,605.9h3.33v3.29h-3.33zM559.7,620.9h3.33v3.29h-3.33zM550.6,629.8h3.33v3.29h-3.33zM547.6,632.8h3.33v3.29h-3.33zM553.6,632.8h3.33v3.29h-3.33zM541.5,635.8h3.33v3.29h-3.33zM550.6,635.8h3.33v3.29h-3.33zM662.6,698.5h3.33v3.29h-3.33zM674.7,698.5h3.33v3.29h-3.33zM677.7,698.5h3.33v3.29h-3.33zM544.6,725.4h3.33v3.29h-3.33zM547.6,725.4h3.33v3.29h-3.33zM550.6,728.4h3.33v3.29h-3.33zM550.6,731.4h3.33v3.29h-3.33zM550.6,734.4h3.33v3.29h-3.33zM556.7,737.4h3.33v3.29h-3.33zM677.7,737.4h3.33v3.29h-3.33zM680.8,737.4h3.33v3.29h-3.33zM550.6,743.3h3.33v3.29h-3.33zM556.7,743.3h3.33v3.29h-3.33zM662.6,743.3h3.33v3.29h-3.33zM662.6,749.3h3.33v3.29h-3.33zM665.6,752.3h3.33v3.29h-3.33zM538.5,758.3h3.33v3.29h-3.33zM662.6,758.3h3.33v3.29h-3.33zM659.6,761.3h3.33v3.29h-3.33zM662.6,761.3h3.33v3.29h-3.33zM656.6,773.2h3.33v3.29h-3.33zM662.6,773.2h3.33v3.29h-3.33zM659.6,779.2h3.33v3.29h-3.33zM662.6,782.2h3.33v3.29h-3.33zM665.6,785.2h3.33v3.29h-3.33zM671.7,785.2h3.33v3.29h-3.33zM674.7,788.1h3.33v3.29h-3.33zM680.8,788.1h3.33v3.29h-3.33zM671.7,791.1h3.33v3.29h-3.33zM677.7,791.1h3.33v3.29h-3.33zM680.8,791.1h3.33v3.29h-3.33zM677.7,794.1h3.33v3.29h-3.33z"/>
<path fill="#f46f44" d="M541.5,588.0h3.33v3.29h-3.33zM547.6,588.0h3.33v3.29h-3.33zM635.4,588.0h3.33v3.29h-3.33zM547.6,591.0h3.33v3.29h-3.33zM547.6,594.0h3.33v3.29h-3.33zM562.7,594.0h3.33v3.29h-3.33zM629.3,594.0h3.33v3.29h-3.33zM544.6,597.0h3.33v3.29h-3.33zM565.7,597.0h3.33v3.29h-3.33zM629.3,599.9h3.33v3.29h-3.33zM553.6,623.8h3.33v3.29h-3.33zM556.7,629.8h3.33v3.29h-3.33zM538.5,635.8h3.33v3.29h-3.33zM547.6,635.8h3.33v3.29h-3.33zM553.6,635.8h3.33v3.29h-3.33zM538.5,638.8h3.33v3.29h-3.33zM541.5,638.8h3.33v3.29h-3.33zM544.6,638.8h3.33v3.29h-3.33zM550.6,638.8h3.33v3.29h-3.33zM544.6,641.8h3.33v3.29h-3.33zM680.8,692.6h3.33v3.29h-3.33zM668.7,695.5h3.33v3.29h-3.33zM544.6,698.5h3.33v3.29h-3.33zM659.6,698.5h3.33v3.29h-3.33zM680.8,698.5h3.33v3.29h-3.33zM671.7,701.5h3.33v3.29h-3.33zM674.7,701.5h3.33v3.29h-3.33zM538.5,704.5h3.33v3.29h-3.33zM544.6,719.4h3.33v3.29h-3.33zM544.6,722.4h3.33v3.29h-3.33zM550.6,725.4h3.33v3.29h-3.33zM553.6,731.4h3.33v3.29h-3.33zM553.6,734.4h3.33v3.29h-3.33zM674.7,740.3h3.33v3.29h-3.33zM550.6,746.3h3.33v3.29h-3.33zM553.6,746.3h3.33v3.29h-3.33zM662.6,746.3h3.33v3.29h-3.33zM668.7,746.3h3.33v3.29h-3.33zM547.6,749.3h3.33v3.29h-3.33zM659.6,749.3h3.33v3.29h-3.33zM556.7,752.3h3.33v3.29h-3.33zM662.6,752.3h3.33v3.29h-3.33zM547.6,758.3h3.33v3.29h-3.33zM553.6,758.3h3.33v3.29h-3.33zM659.6,758.3h3.33v3.29h-3.33zM656.6,764.2h3.33v3.29h-3.33zM659.6,767.2h3.33v3.29h-3.33zM656.6,770.2h3.33v3.29h-3.33zM659.6,773.2h3.33v3.29h-3.33zM656.6,776.2h3.33v3.29h-3.33zM659.6,776.2h3.33v3.29h-3.33zM665.6,782.2h3.33v3.29h-3.33zM662.6,788.1h3.33v3.29h-3.33zM665.6,788.1h3.33v3.29h-3.33zM668.7,788.1h3.33v3.29h-3.33zM668.7,794.1h3.33v3.29h-3.33z"/>
<path fill="#eb5b3b" d="M544.6,588.0h3.33v3.29h-3.33zM550.6,588.0h3.33v3.29h-3.33zM553.6,588.0h3.33v3.29h-3.33zM559.7,588.0h3.33v3.29h-3.33zM538.5,591.0h3.33v3.29h-3.33zM550.6,591.0h3.33v3.29h-3.33zM559.7,591.0h3.33v3.29h-3.33zM632.3,591.0h3.33v3.29h-3.33zM559.7,594.0h3.33v3.29h-3.33zM538.5,597.0h3.33v3.29h-3.33zM541.5,597.0h3.33v3.29h-3.33zM550.6,597.0h3.33v3.29h-3.33zM538.5,599.9h3.33v3.29h-3.33zM541.5,599.9h3.33v3.29h-3.33zM544.6,602.9h3.33v3.29h-3.33zM547.6,605.9h3.33v3.29h-3.33zM550.6,605.9h3.33v3.29h-3.33zM550.6,608.9h3.33v3.29h-3.33zM559.7,614.9h3.33v3.29h-3.33zM550.6,617.9h3.33v3.29h-3.33zM553.6,617.9h3.33v3.29h-3.33zM556.7,623.8h3.33v3.29h-3.33zM547.6,626.8h3.33v3.29h-3.33zM553.6,626.8h3.33v3.29h-3.33zM556.7,626.8h3.33v3.29h-3.33zM541.5,629.8h3.33v3.29h-3.33zM544.6,632.8h3.33v3.29h-3.33zM538.5,722.4h3.33v3.29h-3.33zM541.5,722.4h3.33v3.29h-3.33zM538.5,725.4h3.33v3.29h-3.33zM544.6,728.4h3.33v3.29h-3.33zM544.6,734.4h3.33v3.29h-3.33zM547.6,737.4h3.33v3.29h-3.33zM671.7,740.3h3.33v3.29h-3.33zM677.7,740.3h3.33v3.29h-3.33zM547.6,743.3h3.33v3.29h-3.33zM677.7,743.3h3.33v3.29h-3.33zM680.8,743.3h3.33v3.29h-3.33zM541.5,752.3h3.33v3.29h-3.33zM547.6,752.3h3.33v3.29h-3.33zM550.6,752.3h3.33v3.29h-3.33zM541.5,755.3h3.33v3.29h-3.33zM547.6,755.3h3.33v3.29h-3.33zM662.6,755.3h3.33v3.29h-3.33zM541.5,758.3h3.33v3.29h-3.33zM659.6,764.2h3.33v3.29h-3.33zM665.6,764.2h3.33v3.29h-3.33zM662.6,776.2h3.33v3.29h-3.33zM668.7,782.2h3.33v3.29h-3.33z"/>
<path fill="#f7814c" d="M562.7,588.0h3.33v3.29h-3.33zM565.7,588.0h3.33v3.29h-3.33zM562.7,591.0h3.33v3.29h-3.33zM562.7,597.0h3.33v3.29h-3.33zM626.3,597.0h3.33v3.29h-3.33zM562.7,599.9h3.33v3.29h-3.33zM565.7,599.9h3.33v3.29h-3.33zM562.7,605.9h3.33v3.29h-3.33zM565.7,605.9h3.33v3.29h-3.33zM562.7,608.9h3.33v3.29h-3.33zM562.7,611.9h3.33v3.29h-3.33zM565.7,611.9h3.33v3.29h-3.33zM562.7,623.8h3.33v3.29h-3.33zM553.6,638.8h3.33v3.29h-3.33zM538.5,641.8h3.33v3.29h-3.33zM541.5,641.8h3.33v3.29h-3.33zM541.5,689.6h3.33v3.29h-3.33zM668.7,689.6h3.33v3.29h-3.33zM668.7,692.6h3.33v3.29h-3.33zM677.7,692.6h3.33v3.29h-3.33zM538.5,695.5h3.33v3.29h-3.33zM541.5,695.5h3.33v3.29h-3.33zM671.7,695.5h3.33v3.29h-3.33zM674.7,695.5h3.33v3.29h-3.33zM677.7,695.5h3.33v3.29h-3.33zM680.8,695.5h3.33v3.29h-3.33zM538.5,698.5h3.33v3.29h-3.33zM665.6,698.5h3.33v3.29h-3.33zM671.7,698.5h3.33v3.29h-3.33zM538.5,701.5h3.33v3.29h-3.33zM677.7,701.5h3.33v3.29h-3.33zM541.5,704.5h3.33v3.29h-3.33zM544.6,704.5h3.33v3.29h-3.33zM665.6,704.5h3.33v3.29h-3.33zM538.5,707.5h3.33v3.29h-3.33zM662.6,707.5h3.33v3.29h-3.33zM665.6,707.5h3.33v3.29h-3.33zM668.7,707.5h3.33v3.29h-3.33zM671.7,707.5h3.33v3.29h-3.33zM680.8,707.5h3.33v3.29h-3.33zM547.6,722.4h3.33v3.29h-3.33zM550.6,722.4h3.33v3.29h-3.33zM553.6,722.4h3.33v3.29h-3.33zM553.6,725.4h3.33v3.29h-3.33zM556.7,728.4h3.33v3.29h-3.33zM559.7,731.4h3.33v3.29h-3.33zM559.7,734.4h3.33v3.29h-3.33zM559.7,737.4h3.33v3.29h-3.33zM665.6,737.4h3.33v3.29h-3.33zM674.7,737.4h3.33v3.29h-3.33zM556.7,740.3h3.33v3.29h-3.33zM562.7,743.3h3.33v3.29h-3.33zM556.7,746.3h3.33v3.29h-3.33zM559.7,746.3h3.33v3.29h-3.33zM556.7,749.3h3.33v3.29h-3.33zM559.7,752.3h3.33v3.29h-3.33zM659.6,752.3h3.33v3.29h-3.33zM550.6,755.3h3.33v3.29h-3.33zM656.6,755.3h3.33v3.29h-3.33zM659.6,755.3h3.33v3.29h-3.33zM550.6,758.3h3.33v3.29h-3.33zM653.5,770.2h3.33v3.29h-3.33zM653.5,773.2h3.33v3.29h-3.33zM662.6,785.2h3.33v3.29h-3.33zM659.6,794.1h3.33v3.29h-3.33zM665.6,794.1h3.33v3.29h-3.33z"/>
<path fill="#fca55d" d="M568.8,588.0h3.33v3.29h-3.33zM641.4,588.0h3.33v3.29h-3.33zM571.8,591.0h3.33v3.29h-3.33zM574.8,591.0h3.33v3.29h-3.33zM641.4,591.0h3.33v3.29h-3.33zM568.8,594.0h3.33v3.29h-3.33zM571.8,594.0h3.33v3.29h-3.33zM620.2,594.0h3.33v3.29h-3.33zM623.3,594.0h3.33v3.29h-3.33zM641.4,594.0h3.33v3.29h-3.33zM641.4,597.0h3.33v3.29h-3.33zM571.8,599.9h3.33v3.29h-3.33zM626.3,602.9h3.33v3.29h-3.33zM641.4,602.9h3.33v3.29h-3.33zM571.8,605.9h3.33v3.29h-3.33zM635.4,605.9h3.33v3.29h-3.33zM632.3,611.9h3.33v3.29h-3.33zM562.7,629.8h3.33v3.29h-3.33zM559.7,638.8h3.33v3.29h-3.33zM562.7,638.8h3.33v3.29h-3.33zM556.7,641.8h3.33v3.29h-3.33zM559.7,641.8h3.33v3.29h-3.33zM553.6,644.8h3.33v3.29h-3.33zM544.6,647.7h3.33v3.29h-3.33zM547.6,647.7h3.33v3.29h-3.33zM668.7,680.6h3.33v3.29h-3.33zM680.8,680.6h3.33v3.29h-3.33zM541.5,683.6h3.33v3.29h-3.33zM544.6,683.6h3.33v3.29h-3.33zM677.7,683.6h3.33v3.29h-3.33zM544.6,686.6h3.33v3.29h-3.33zM659.6,689.6h3.33v3.29h-3.33zM656.6,695.5h3.33v3.29h-3.33zM550.6,698.5h3.33v3.29h-3.33zM553.6,698.5h3.33v3.29h-3.33zM653.5,698.5h3.33v3.29h-3.33zM656.6,701.5h3.33v3.29h-3.33zM656.6,704.5h3.33v3.29h-3.33zM538.5,710.5h3.33v3.29h-3.33zM547.6,710.5h3.33v3.29h-3.33zM550.6,710.5h3.33v3.29h-3.33zM553.6,710.5h3.33v3.29h-3.33zM668.7,710.5h3.33v3.29h-3.33zM671.7,713.5h3.33v3.29h-3.33zM674.7,713.5h3.33v3.29h-3.33zM677.7,713.5h3.33v3.29h-3.33zM680.8,713.5h3.33v3.29h-3.33zM547.6,716.4h3.33v3.29h-3.33zM677.7,716.4h3.33v3.29h-3.33zM671.7,719.4h3.33v3.29h-3.33zM556.7,722.4h3.33v3.29h-3.33zM671.7,722.4h3.33v3.29h-3.33zM671.7,728.4h3.33v3.29h-3.33zM662.6,734.4h3.33v3.29h-3.33zM668.7,734.4h3.33v3.29h-3.33zM562.7,740.3h3.33v3.29h-3.33zM565.7,740.3h3.33v3.29h-3.33zM659.6,740.3h3.33v3.29h-3.33zM562.7,749.3h3.33v3.29h-3.33zM653.5,749.3h3.33v3.29h-3.33zM562.7,752.3h3.33v3.29h-3.33zM653.5,752.3h3.33v3.29h-3.33zM568.8,755.3h3.33v3.29h-3.33zM556.7,758.3h3.33v3.29h-3.33zM650.5,758.3h3.33v3.29h-3.33zM565.7,761.3h3.33v3.29h-3.33zM650.5,761.3h3.33v3.29h-3.33zM547.6,764.2h3.33v3.29h-3.33zM550.6,764.2h3.33v3.29h-3.33zM599.0,773.2h3.33v3.29h-3.33zM602.1,773.2h3.33v3.29h-3.33zM650.5,773.2h3.33v3.29h-3.33zM650.5,782.2h3.33v3.29h-3.33zM653.5,788.1h3.33v3.29h-3.33zM656.6,788.1h3.33v3.29h-3.33z"/>
<path fill="#fdb568" d="M571.8,588.0h3.33v3.29h-3.33zM574.8,588.0h3.33v3.29h-3.33zM580.9,591.0h3.33v3.29h-3.33zM614.2,591.0h3.33v3.29h-3.33zM617.2,591.0h3.33v3.29h-3.33zM620.2,591.0h3.33v3.29h-3.33zM574.8,594.0h3.33v3.29h-3.33zM577.9,594.0h3.33v3.29h-3.33zM571.8,597.0h3.33v3.29h-3.33zM574.8,597.0h3.33v3.29h-3.33zM583.9,597.0h3.33v3.29h-3.33zM617.2,597.0h3.33v3.29h-3.33zM617.2,599.9h3.33v3.29h-3.33zM623.3,599.9h3.33v3.29h-3.33zM641.4,599.9h3.33v3.29h-3.33zM647.5,599.9h3.33v3.29h-3.33zM623.3,602.9h3.33v3.29h-3.33zM638.4,605.9h3.33v3.29h-3.33zM571.8,608.9h3.33v3.29h-3.33zM635.4,608.9h3.33v3.29h-3.33zM571.8,611.9h3.33v3.29h-3.33zM568.8,620.9h3.33v3.29h-3.33zM568.8,629.8h3.33v3.29h-3.33zM562.7,632.8h3.33v3.29h-3.33zM541.5,650.7h3.33v3.29h-3.33zM544.6,650.7h3.33v3.29h-3.33zM674.7,674.6h3.33v3.29h-3.33zM680.8,677.6h3.33v3.29h-3.33zM547.6,680.6h3.33v3.29h-3.33zM659.6,680.6h3.33v3.29h-3.33zM674.7,680.6h3.33v3.29h-3.33zM538.5,683.6h3.33v3.29h-3.33zM659.6,683.6h3.33v3.29h-3.33zM550.6,689.6h3.33v3.29h-3.33zM556.7,689.6h3.33v3.29h-3.33zM553.6,692.6h3.33v3.29h-3.33zM556.7,701.5h3.33v3.29h-3.33zM553.6,704.5h3.33v3.29h-3.33zM653.5,704.5h3.33v3.29h-3.33zM656.6,707.5h3.33v3.29h-3.33zM550.6,713.5h3.33v3.29h-3.33zM665.6,713.5h3.33v3.29h-3.33zM556.7,719.4h3.33v3.29h-3.33zM668.7,719.4h3.33v3.29h-3.33zM662.6,722.4h3.33v3.29h-3.33zM665.6,731.4h3.33v3.29h-3.33zM656.6,740.3h3.33v3.29h-3.33zM565.7,743.3h3.33v3.29h-3.33zM568.8,743.3h3.33v3.29h-3.33zM656.6,743.3h3.33v3.29h-3.33zM565.7,755.3h3.33v3.29h-3.33zM568.8,758.3h3.33v3.29h-3.33zM571.8,758.3h3.33v3.29h-3.33zM574.8,758.3h3.33v3.29h-3.33zM574.8,761.3h3.33v3.29h-3.33zM608.1,761.3h3.33v3.29h-3.33zM544.6,764.2h3.33v3.29h-3.33zM556.7,764.2h3.33v3.29h-3.33zM571.8,764.2h3.33v3.29h-3.33zM586.9,764.2h3.33v3.29h-3.33zM599.0,764.2h3.33v3.29h-3.33zM608.1,764.2h3.33v3.29h-3.33zM538.5,767.2h3.33v3.29h-3.33zM541.5,767.2h3.33v3.29h-3.33zM547.6,767.2h3.33v3.29h-3.33zM593.0,767.2h3.33v3.29h-3.33zM599.0,767.2h3.33v3.29h-3.33zM574.8,770.2h3.33v3.29h-3.33zM580.9,770.2h3.33v3.29h-3.33zM599.0,770.2h3.33v3.29h-3.33zM647.5,770.2h3.33v3.29h-3.33zM593.0,773.2h3.33v3.29h-3.33zM605.1,773.2h3.33v3.29h-3.33zM596.0,776.2h3.33v3.29h-3.33zM605.1,776.2h3.33v3.29h-3.33zM647.5,776.2h3.33v3.29h-3.33zM650.5,776.2h3.33v3.29h-3.33zM596.0,779.2h3.33v3.29h-3.33zM602.1,779.2h3.33v3.29h-3.33zM608.1,779.2h3.33v3.29h-3.33zM611.1,779.2h3.33v3.29h-3.33zM650.5,779.2h3.33v3.29h-3.33zM599.0,782.2h3.33v3.29h-3.33zM602.1,782.2h3.33v3.29h-3.33zM602.1,785.2h3.33v3.29h-3.33zM605.1,788.1h3.33v3.29h-3.33zM605.1,794.1h3.33v3.29h-3.33z"/>
<path fill="#fdae61" d="M577.9,588.0h3.33v3.29h-3.33zM644.4,588.0h3.33v3.29h-3.33zM647.5,588.0h3.33v3.29h-3.33zM580.9,594.0h3.33v3.29h-3.33zM644.4,594.0h3.33v3.29h-3.33zM574.8,599.9h3.33v3.29h-3.33zM620.2,599.9h3.33v3.29h-3.33zM571.8,602.9h3.33v3.29h-3.33zM626.3,605.9h3.33v3.29h-3.33zM632.3,605.9h3.33v3.29h-3.33zM632.3,608.9h3.33v3.29h-3.33zM635.4,611.9h3.33v3.29h-3.33zM568.8,614.9h3.33v3.29h-3.33zM568.8,617.9h3.33v3.29h-3.33zM565.7,626.8h3.33v3.29h-3.33zM565.7,629.8h3.33v3.29h-3.33zM550.6,644.8h3.33v3.29h-3.33zM556.7,644.8h3.33v3.29h-3.33zM553.6,647.7h3.33v3.29h-3.33zM671.7,677.6h3.33v3.29h-3.33zM541.5,680.6h3.33v3.29h-3.33zM671.7,680.6h3.33v3.29h-3.33zM677.7,680.6h3.33v3.29h-3.33zM547.6,683.6h3.33v3.29h-3.33zM547.6,686.6h3.33v3.29h-3.33zM550.6,686.6h3.33v3.29h-3.33zM659.6,686.6h3.33v3.29h-3.33zM665.6,686.6h3.33v3.29h-3.33zM656.6,689.6h3.33v3.29h-3.33zM556.7,692.6h3.33v3.29h-3.33zM656.6,692.6h3.33v3.29h-3.33zM553.6,701.5h3.33v3.29h-3.33zM550.6,704.5h3.33v3.29h-3.33zM665.6,710.5h3.33v3.29h-3.33zM553.6,713.5h3.33v3.29h-3.33zM659.6,713.5h3.33v3.29h-3.33zM668.7,713.5h3.33v3.29h-3.33zM665.6,716.4h3.33v3.29h-3.33zM671.7,716.4h3.33v3.29h-3.33zM553.6,719.4h3.33v3.29h-3.33zM665.6,719.4h3.33v3.29h-3.33zM680.8,719.4h3.33v3.29h-3.33zM665.6,722.4h3.33v3.29h-3.33zM677.7,722.4h3.33v3.29h-3.33zM680.8,722.4h3.33v3.29h-3.33zM677.7,725.4h3.33v3.29h-3.33zM680.8,725.4h3.33v3.29h-3.33zM674.7,728.4h3.33v3.29h-3.33zM677.7,728.4h3.33v3.29h-3.33zM680.8,728.4h3.33v3.29h-3.33zM671.7,731.4h3.33v3.29h-3.33zM659.6,734.4h3.33v3.29h-3.33zM562.7,737.4h3.33v3.29h-3.33zM662.6,737.4h3.33v3.29h-3.33zM565.7,746.3h3.33v3.29h-3.33zM653.5,746.3h3.33v3.29h-3.33zM656.6,746.3h3.33v3.29h-3.33zM568.8,749.3h3.33v3.29h-3.33zM562.7,755.3h3.33v3.29h-3.33zM650.5,755.3h3.33v3.29h-3.33zM565.7,758.3h3.33v3.29h-3.33zM553.6,761.3h3.33v3.29h-3.33zM556.7,761.3h3.33v3.29h-3.33zM559.7,761.3h3.33v3.29h-3.33zM599.0,761.3h3.33v3.29h-3.33zM538.5,764.2h3.33v3.29h-3.33zM541.5,764.2h3.33v3.29h-3.33zM553.6,764.2h3.33v3.29h-3.33zM559.7,764.2h3.33v3.29h-3.33zM650.5,764.2h3.33v3.29h-3.33zM590.0,767.2h3.33v3.29h-3.33zM605.1,767.2h3.33v3.29h-3.33zM650.5,767.2h3.33v3.29h-3.33zM586.9,770.2h3.33v3.29h-3.33zM602.1,770.2h3.33v3.29h-3.33zM605.1,770.2h3.33v3.29h-3.33zM590.0,773.2h3.33v3.29h-3.33zM608.1,773.2h3.33v3.29h-3.33zM647.5,773.2h3.33v3.29h-3.33zM599.0,776.2h3.33v3.29h-3.33zM602.1,776.2h3.33v3.29h-3.33zM653.5,782.2h3.33v3.29h-3.33zM653.5,785.2h3.33v3.29h-3.33zM653.5,791.1h3.33v3.29h-3.33zM656.6,794.1h3.33v3.29h-3.33z"/>
<path fill="#fdc375" d="M580.9,588.0h3.33v3.29h-3.33zM586.9,588.0h3.33v3.29h-3.33zM617.2,588.0h3.33v3.29h-3.33zM650.5,588.0h3.33v3.29h-3.33zM586.9,591.0h3.33v3.29h-3.33zM593.0,591.0h3.33v3.29h-3.33zM586.9,594.0h3.33v3.29h-3.33zM647.5,594.0h3.33v3.29h-3.33zM650.5,594.0h3.33v3.29h-3.33zM586.9,597.0h3.33v3.29h-3.33zM583.9,599.9h3.33v3.29h-3.33zM644.4,599.9h3.33v3.29h-3.33zM650.5,599.9h3.33v3.29h-3.33zM647.5,602.9h3.33v3.29h-3.33zM620.2,605.9h3.33v3.29h-3.33zM626.3,611.9h3.33v3.29h-3.33zM629.3,611.9h3.33v3.29h-3.33zM638.4,611.9h3.33v3.29h-3.33zM644.4,611.9h3.33v3.29h-3.33zM571.8,614.9h3.33v3.29h-3.33zM626.3,614.9h3.33v3.29h-3.33zM629.3,614.9h3.33v3.29h-3.33zM632.3,614.9h3.33v3.29h-3.33zM571.8,617.9h3.33v3.29h-3.33zM565.7,638.8h3.33v3.29h-3.33zM562.7,641.8h3.33v3.29h-3.33zM565.7,641.8h3.33v3.29h-3.33zM538.5,653.7h3.33v3.29h-3.33zM541.5,653.7h3.33v3.29h-3.33zM544.6,653.7h3.33v3.29h-3.33zM547.6,653.7h3.33v3.29h-3.33zM680.8,671.6h3.33v3.29h-3.33zM538.5,677.6h3.33v3.29h-3.33zM544.6,677.6h3.33v3.29h-3.33zM668.7,677.6h3.33v3.29h-3.33zM544.6,680.6h3.33v3.29h-3.33zM553.6,680.6h3.33v3.29h-3.33zM662.6,680.6h3.33v3.29h-3.33zM550.6,683.6h3.33v3.29h-3.33zM556.7,683.6h3.33v3.29h-3.33zM553.6,686.6h3.33v3.29h-3.33zM556.7,686.6h3.33v3.29h-3.33zM553.6,689.6h3.33v3.29h-3.33zM556.7,695.5h3.33v3.29h-3.33zM556.7,698.5h3.33v3.29h-3.33zM556.7,707.5h3.33v3.29h-3.33zM559.7,710.5h3.33v3.29h-3.33zM656.6,710.5h3.33v3.29h-3.33zM559.7,716.4h3.33v3.29h-3.33zM659.6,716.4h3.33v3.29h-3.33zM562.7,719.4h3.33v3.29h-3.33zM562.7,722.4h3.33v3.29h-3.33zM562.7,725.4h3.33v3.29h-3.33zM659.6,725.4h3.33v3.29h-3.33zM668.7,725.4h3.33v3.29h-3.33zM671.7,725.4h3.33v3.29h-3.33zM565.7,728.4h3.33v3.29h-3.33zM662.6,731.4h3.33v3.29h-3.33zM653.5,740.3h3.33v3.29h-3.33zM571.8,743.3h3.33v3.29h-3.33zM568.8,746.3h3.33v3.29h-3.33zM650.5,746.3h3.33v3.29h-3.33zM571.8,755.3h3.33v3.29h-3.33zM599.0,755.3h3.33v3.29h-3.33zM580.9,758.3h3.33v3.29h-3.33zM605.1,758.3h3.33v3.29h-3.33zM614.2,758.3h3.33v3.29h-3.33zM568.8,761.3h3.33v3.29h-3.33zM571.8,761.3h3.33v3.29h-3.33zM596.0,761.3h3.33v3.29h-3.33zM602.1,761.3h3.33v3.29h-3.33zM614.2,761.3h3.33v3.29h-3.33zM562.7,764.2h3.33v3.29h-3.33zM565.7,764.2h3.33v3.29h-3.33zM593.0,764.2h3.33v3.29h-3.33zM596.0,764.2h3.33v3.29h-3.33zM605.1,764.2h3.33v3.29h-3.33zM611.1,764.2h3.33v3.29h-3.33zM620.2,764.2h3.33v3.29h-3.33zM647.5,764.2h3.33v3.29h-3.33zM559.7,767.2h3.33v3.29h-3.33zM568.8,767.2h3.33v3.29h-3.33zM602.1,767.2h3.33v3.29h-3.33zM608.1,767.2h3.33v3.29h-3.33zM614.2,767.2h3.33v3.29h-3.33zM583.9,770.2h3.33v3.29h-3.33zM596.0,770.2h3.33v3.29h-3.33zM611.1,770.2h3.33v3.29h-3.33zM577.9,773.2h3.33v3.29h-3.33zM586.9,773.2h3.33v3.29h-3.33zM617.2,773.2h3.33v3.29h-3.33zM638.4,773.2h3.33v3.29h-3.33zM644.4,773.2h3.33v3.29h-3.33zM574.8,776.2h3.33v3.29h-3.33zM583.9,776.2h3.33v3.29h-3.33zM590.0,776.2h3.33v3.29h-3.33zM599.0,779.2h3.33v3.29h-3.33zM605.1,779.2h3.33v3.29h-3.33zM620.2,779.2h3.33v3.29h-3.33zM608.1,782.2h3.33v3.29h-3.33zM614.2,782.2h3.33v3.29h-3.33zM620.2,782.2h3.33v3.29h-3.33zM644.4,782.2h3.33v3.29h-3.33zM593.0,785.2h3.33v3.29h-3.33zM605.1,785.2h3.33v3.29h-3.33zM617.2,785.2h3.33v3.29h-3.33zM650.5,785.2h3.33v3.29h-3.33zM602.1,788.1h3.33v3.29h-3.33zM608.1,788.1h3.33v3.29h-3.33zM614.2,788.1h3.33v3.29h-3.33zM647.5,788.1h3.33v3.29h-3.33zM596.0,791.1h3.33v3.29h-3.33zM602.1,791.1h3.33v3.29h-3.33zM605.1,791.1h3.33v3.29h-3.33zM614.2,791.1h3.33v3.29h-3.33zM647.5,791.1h3.33v3.29h-3.33zM617.2,794.1h3.33v3.29h-3.33zM647.5,794.1h3.33v3.29h-3.33zM650.5,794.1h3.33v3.29h-3.33z"/>
<path fill="#feca7b" d="M583.9,588.0h3.33v3.29h-3.33zM599.0,588.0h3.33v3.29h-3.33zM590.0,591.0h3.33v3.29h-3.33zM596.0,591.0h3.33v3.29h-3.33zM608.1,591.0h3.33v3.29h-3.33zM611.1,591.0h3.33v3.29h-3.33zM650.5,591.0h3.33v3.29h-3.33zM590.0,594.0h3.33v3.29h-3.33zM593.0,594.0h3.33v3.29h-3.33zM608.1,594.0h3.33v3.29h-3.33zM614.2,594.0h3.33v3.29h-3.33zM617.2,594.0h3.33v3.29h-3.33zM577.9,597.0h3.33v3.29h-3.33zM590.0,597.0h3.33v3.29h-3.33zM647.5,597.0h3.33v3.29h-3.33zM650.5,597.0h3.33v3.29h-3.33zM580.9,599.9h3.33v3.29h-3.33zM590.0,599.9h3.33v3.29h-3.33zM593.0,599.9h3.33v3.29h-3.33zM580.9,602.9h3.33v3.29h-3.33zM614.2,602.9h3.33v3.29h-3.33zM574.8,605.9h3.33v3.29h-3.33zM580.9,605.9h3.33v3.29h-3.33zM617.2,605.9h3.33v3.29h-3.33zM641.4,605.9h3.33v3.29h-3.33zM644.4,605.9h3.33v3.29h-3.33zM647.5,605.9h3.33v3.29h-3.33zM580.9,608.9h3.33v3.29h-3.33zM623.3,608.9h3.33v3.29h-3.33zM574.8,611.9h3.33v3.29h-3.33zM574.8,617.9h3.33v3.29h-3.33zM574.8,623.8h3.33v3.29h-3.33zM574.8,626.8h3.33v3.29h-3.33zM559.7,647.7h3.33v3.29h-3.33zM562.7,647.7h3.33v3.29h-3.33zM541.5,656.7h3.33v3.29h-3.33zM668.7,671.6h3.33v3.29h-3.33zM677.7,671.6h3.33v3.29h-3.33zM665.6,674.6h3.33v3.29h-3.33zM668.7,674.6h3.33v3.29h-3.33zM677.7,674.6h3.33v3.29h-3.33zM662.6,677.6h3.33v3.29h-3.33zM665.6,677.6h3.33v3.29h-3.33zM559.7,683.6h3.33v3.29h-3.33zM656.6,683.6h3.33v3.29h-3.33zM559.7,692.6h3.33v3.29h-3.33zM559.7,698.5h3.33v3.29h-3.33zM562.7,698.5h3.33v3.29h-3.33zM650.5,698.5h3.33v3.29h-3.33zM559.7,701.5h3.33v3.29h-3.33zM650.5,701.5h3.33v3.29h-3.33zM559.7,704.5h3.33v3.29h-3.33zM562.7,707.5h3.33v3.29h-3.33zM562.7,716.4h3.33v3.29h-3.33zM656.6,716.4h3.33v3.29h-3.33zM656.6,719.4h3.33v3.29h-3.33zM565.7,725.4h3.33v3.29h-3.33zM662.6,725.4h3.33v3.29h-3.33zM665.6,725.4h3.33v3.29h-3.33zM662.6,728.4h3.33v3.29h-3.33zM665.6,728.4h3.33v3.29h-3.33zM668.7,728.4h3.33v3.29h-3.33zM656.6,731.4h3.33v3.29h-3.33zM659.6,731.4h3.33v3.29h-3.33zM565.7,734.4h3.33v3.29h-3.33zM568.8,737.4h3.33v3.29h-3.33zM656.6,737.4h3.33v3.29h-3.33zM568.8,740.3h3.33v3.29h-3.33zM571.8,746.3h3.33v3.29h-3.33zM571.8,749.3h3.33v3.29h-3.33zM571.8,752.3h3.33v3.29h-3.33zM574.8,752.3h3.33v3.29h-3.33zM647.5,752.3h3.33v3.29h-3.33zM574.8,755.3h3.33v3.29h-3.33zM580.9,755.3h3.33v3.29h-3.33zM583.9,755.3h3.33v3.29h-3.33zM593.0,755.3h3.33v3.29h-3.33zM605.1,755.3h3.33v3.29h-3.33zM599.0,758.3h3.33v3.29h-3.33zM611.1,758.3h3.33v3.29h-3.33zM617.2,758.3h3.33v3.29h-3.33zM641.4,758.3h3.33v3.29h-3.33zM644.4,758.3h3.33v3.29h-3.33zM647.5,758.3h3.33v3.29h-3.33zM577.9,761.3h3.33v3.29h-3.33zM580.9,761.3h3.33v3.29h-3.33zM583.9,761.3h3.33v3.29h-3.33zM593.0,761.3h3.33v3.29h-3.33zM605.1,761.3h3.33v3.29h-3.33zM611.1,761.3h3.33v3.29h-3.33zM617.2,761.3h3.33v3.29h-3.33zM620.2,761.3h3.33v3.29h-3.33zM641.4,761.3h3.33v3.29h-3.33zM647.5,761.3h3.33v3.29h-3.33zM583.9,764.2h3.33v3.29h-3.33zM614.2,764.2h3.33v3.29h-3.33zM617.2,764.2h3.33v3.29h-3.33zM638.4,764.2h3.33v3.29h-3.33zM641.4,764.2h3.33v3.29h-3.33zM644.4,764.2h3.33v3.29h-3.33zM550.6,767.2h3.33v3.29h-3.33zM562.7,767.2h3.33v3.29h-3.33zM574.8,767.2h3.33v3.29h-3.33zM577.9,767.2h3.33v3.29h-3.33zM580.9,767.2h3.33v3.29h-3.33zM583.9,767.2h3.33v3.29h-3.33zM638.4,767.2h3.33v3.29h-3.33zM565.7,770.2h3.33v3.29h-3.33zM590.0,770.2h3.33v3.29h-3.33zM617.2,770.2h3.33v3.29h-3.33zM638.4,770.2h3.33v3.29h-3.33zM644.4,770.2h3.33v3.29h-3.33zM580.9,773.2h3.33v3.29h-3.33zM583.9,773.2h3.33v3.29h-3.33zM611.1,773.2h3.33v3.29h-3.33zM620.2,773.2h3.33v3.29h-3.33zM586.9,776.2h3.33v3.29h-3.33zM608.1,776.2h3.33v3.29h-3.33zM617.2,776.2h3.33v3.29h-3.33zM580.9,779.2h3.33v3.29h-3.33zM593.0,779.2h3.33v3.29h-3.33zM583.9,782.2h3.33v3.29h-3.33zM586.9,782.2h3.33v3.29h-3.33zM611.1,782.2h3.33v3.29h-3.33zM617.2,782.2h3.33v3.29h-3.33zM647.5,782.2h3.33v3.29h-3.33zM590.0,785.2h3.33v3.29h-3.33zM596.0,785.2h3.33v3.29h-3.33zM611.1,785.2h3.33v3.29h-3.33zM614.2,785.2h3.33v3.29h-3.33zM644.4,785.2h3.33v3.29h-3.33zM593.0,794.1h3.33v3.29h-3.33zM596.0,794.1h3.33v3.29h-3.33zM602.1,794.1h3.33v3.29h-3.33z"/>
<path fill="#fdbc6e" d="M590.0,588.0h3.33v3.29h-3.33zM577.9,591.0h3.33v3.29h-3.33zM583.9,591.0h3.33v3.29h-3.33zM647.5,591.0h3.33v3.29h-3.33zM583.9,594.0h3.33v3.29h-3.33zM580.9,597.0h3.33v3.29h-3.33zM644.4,597.0h3.33v3.29h-3.33zM577.9,599.9h3.33v3.29h-3.33zM574.8,602.9h3.33v3.29h-3.33zM620.2,602.9h3.33v3.29h-3.33zM644.4,602.9h3.33v3.29h-3.33zM577.9,605.9h3.33v3.29h-3.33zM623.3,605.9h3.33v3.29h-3.33zM577.9,608.9h3.33v3.29h-3.33zM626.3,608.9h3.33v3.29h-3.33zM629.3,608.9h3.33v3.29h-3.33zM638.4,608.9h3.33v3.29h-3.33zM641.4,608.9h3.33v3.29h-3.33zM574.8,614.9h3.33v3.29h-3.33zM568.8,623.8h3.33v3.29h-3.33zM568.8,626.8h3.33v3.29h-3.33zM565.7,632.8h3.33v3.29h-3.33zM568.8,632.8h3.33v3.29h-3.33zM565.7,635.8h3.33v3.29h-3.33zM559.7,644.8h3.33v3.29h-3.33zM550.6,647.7h3.33v3.29h-3.33zM556.7,647.7h3.33v3.29h-3.33zM538.5,650.7h3.33v3.29h-3.33zM547.6,650.7h3.33v3.29h-3.33zM550.6,650.7h3.33v3.29h-3.33zM680.8,674.6h3.33v3.29h-3.33zM541.5,677.6h3.33v3.29h-3.33zM674.7,677.6h3.33v3.29h-3.33zM677.7,677.6h3.33v3.29h-3.33zM538.5,680.6h3.33v3.29h-3.33zM665.6,680.6h3.33v3.29h-3.33zM553.6,683.6h3.33v3.29h-3.33zM656.6,686.6h3.33v3.29h-3.33zM653.5,692.6h3.33v3.29h-3.33zM553.6,695.5h3.33v3.29h-3.33zM653.5,695.5h3.33v3.29h-3.33zM653.5,701.5h3.33v3.29h-3.33zM556.7,704.5h3.33v3.29h-3.33zM559.7,707.5h3.33v3.29h-3.33zM556.7,710.5h3.33v3.29h-3.33zM659.6,710.5h3.33v3.29h-3.33zM556.7,713.5h3.33v3.29h-3.33zM559.7,713.5h3.33v3.29h-3.33zM656.6,713.5h3.33v3.29h-3.33zM662.6,713.5h3.33v3.29h-3.33zM556.7,716.4h3.33v3.29h-3.33zM662.6,716.4h3.33v3.29h-3.33zM559.7,719.4h3.33v3.29h-3.33zM659.6,719.4h3.33v3.29h-3.33zM662.6,719.4h3.33v3.29h-3.33zM559.7,722.4h3.33v3.29h-3.33zM668.7,722.4h3.33v3.29h-3.33zM674.7,725.4h3.33v3.29h-3.33zM565.7,737.4h3.33v3.29h-3.33zM653.5,743.3h3.33v3.29h-3.33zM568.8,752.3h3.33v3.29h-3.33zM650.5,752.3h3.33v3.29h-3.33zM577.9,755.3h3.33v3.29h-3.33zM577.9,758.3h3.33v3.29h-3.33zM593.0,758.3h3.33v3.29h-3.33zM596.0,758.3h3.33v3.29h-3.33zM602.1,758.3h3.33v3.29h-3.33zM568.8,764.2h3.33v3.29h-3.33zM574.8,764.2h3.33v3.29h-3.33zM577.9,764.2h3.33v3.29h-3.33zM580.9,764.2h3.33v3.29h-3.33zM590.0,764.2h3.33v3.29h-3.33zM602.1,764.2h3.33v3.29h-3.33zM544.6,767.2h3.33v3.29h-3.33zM553.6,767.2h3.33v3.29h-3.33zM556.7,767.2h3.33v3.29h-3.33zM571.8,767.2h3.33v3.29h-3.33zM586.9,767.2h3.33v3.29h-3.33zM596.0,767.2h3.33v3.29h-3.33zM647.5,767.2h3.33v3.29h-3.33zM571.8,770.2h3.33v3.29h-3.33zM577.9,770.2h3.33v3.29h-3.33zM593.0,770.2h3.33v3.29h-3.33zM608.1,770.2h3.33v3.29h-3.33zM571.8,773.2h3.33v3.29h-3.33zM574.8,773.2h3.33v3.29h-3.33zM641.4,773.2h3.33v3.29h-3.33zM593.0,776.2h3.33v3.29h-3.33zM611.1,776.2h3.33v3.29h-3.33zM644.4,776.2h3.33v3.29h-3.33zM586.9,779.2h3.33v3.29h-3.33zM590.0,779.2h3.33v3.29h-3.33zM614.2,779.2h3.33v3.29h-3.33zM647.5,779.2h3.33v3.29h-3.33zM605.1,782.2h3.33v3.29h-3.33zM608.1,785.2h3.33v3.29h-3.33zM653.5,794.1h3.33v3.29h-3.33z"/>
<path fill="#fed182" d="M593.0,588.0h3.33v3.29h-3.33zM605.1,588.0h3.33v3.29h-3.33zM614.2,588.0h3.33v3.29h-3.33zM653.5,588.0h3.33v3.29h-3.33zM653.5,591.0h3.33v3.29h-3.33zM656.6,591.0h3.33v3.29h-3.33zM599.0,594.0h3.33v3.29h-3.33zM605.1,594.0h3.33v3.29h-3.33zM611.1,594.0h3.33v3.29h-3.33zM656.6,594.0h3.33v3.29h-3.33zM608.1,597.0h3.33v3.29h-3.33zM611.1,597.0h3.33v3.29h-3.33zM614.2,597.0h3.33v3.29h-3.33zM586.9,599.9h3.33v3.29h-3.33zM653.5,599.9h3.33v3.29h-3.33zM656.6,599.9h3.33v3.29h-3.33zM577.9,602.9h3.33v3.29h-3.33zM590.0,602.9h3.33v3.29h-3.33zM617.2,602.9h3.33v3.29h-3.33zM650.5,602.9h3.33v3.29h-3.33zM586.9,605.9h3.33v3.29h-3.33zM590.0,605.9h3.33v3.29h-3.33zM574.8,608.9h3.33v3.29h-3.33zM583.9,608.9h3.33v3.29h-3.33zM617.2,608.9h3.33v3.29h-3.33zM620.2,608.9h3.33v3.29h-3.33zM644.4,608.9h3.33v3.29h-3.33zM647.5,608.9h3.33v3.29h-3.33zM577.9,611.9h3.33v3.29h-3.33zM620.2,611.9h3.33v3.29h-3.33zM623.3,611.9h3.33v3.29h-3.33zM641.4,611.9h3.33v3.29h-3.33zM580.9,614.9h3.33v3.29h-3.33zM620.2,614.9h3.33v3.29h-3.33zM623.3,614.9h3.33v3.29h-3.33zM635.4,614.9h3.33v3.29h-3.33zM577.9,617.9h3.33v3.29h-3.33zM580.9,617.9h3.33v3.29h-3.33zM641.4,617.9h3.33v3.29h-3.33zM647.5,617.9h3.33v3.29h-3.33zM571.8,620.9h3.33v3.29h-3.33zM571.8,623.8h3.33v3.29h-3.33zM571.8,626.8h3.33v3.29h-3.33zM571.8,629.8h3.33v3.29h-3.33zM571.8,632.8h3.33v3.29h-3.33zM562.7,644.8h3.33v3.29h-3.33zM553.6,650.7h3.33v3.29h-3.33zM556.7,650.7h3.33v3.29h-3.33zM544.6,656.7h3.33v3.29h-3.33zM547.6,656.7h3.33v3.29h-3.33zM674.7,668.7h3.33v3.29h-3.33zM677.7,668.7h3.33v3.29h-3.33zM544.6,674.6h3.33v3.29h-3.33zM659.6,674.6h3.33v3.29h-3.33zM671.7,674.6h3.33v3.29h-3.33zM547.6,677.6h3.33v3.29h-3.33zM556.7,677.6h3.33v3.29h-3.33zM656.6,677.6h3.33v3.29h-3.33zM659.6,677.6h3.33v3.29h-3.33zM550.6,680.6h3.33v3.29h-3.33zM556.7,680.6h3.33v3.29h-3.33zM656.6,680.6h3.33v3.29h-3.33zM559.7,689.6h3.33v3.29h-3.33zM559.7,695.5h3.33v3.29h-3.33zM653.5,707.5h3.33v3.29h-3.33zM562.7,713.5h3.33v3.29h-3.33zM656.6,722.4h3.33v3.29h-3.33zM659.6,722.4h3.33v3.29h-3.33zM656.6,725.4h3.33v3.29h-3.33zM659.6,728.4h3.33v3.29h-3.33zM565.7,731.4h3.33v3.29h-3.33zM568.8,734.4h3.33v3.29h-3.33zM656.6,734.4h3.33v3.29h-3.33zM574.8,749.3h3.33v3.29h-3.33zM647.5,749.3h3.33v3.29h-3.33zM650.5,749.3h3.33v3.29h-3.33zM580.9,752.3h3.33v3.29h-3.33zM583.9,752.3h3.33v3.29h-3.33zM605.1,752.3h3.33v3.29h-3.33zM596.0,755.3h3.33v3.29h-3.33zM620.2,755.3h3.33v3.29h-3.33zM641.4,755.3h3.33v3.29h-3.33zM647.5,755.3h3.33v3.29h-3.33zM586.9,758.3h3.33v3.29h-3.33zM608.1,758.3h3.33v3.29h-3.33zM623.3,758.3h3.33v3.29h-3.33zM635.4,758.3h3.33v3.29h-3.33zM638.4,758.3h3.33v3.29h-3.33zM590.0,761.3h3.33v3.29h-3.33zM638.4,761.3h3.33v3.29h-3.33zM565.7,767.2h3.33v3.29h-3.33zM611.1,767.2h3.33v3.29h-3.33zM644.4,767.2h3.33v3.29h-3.33zM550.6,770.2h3.33v3.29h-3.33zM553.6,770.2h3.33v3.29h-3.33zM556.7,770.2h3.33v3.29h-3.33zM562.7,770.2h3.33v3.29h-3.33zM568.8,770.2h3.33v3.29h-3.33zM614.2,770.2h3.33v3.29h-3.33zM626.3,770.2h3.33v3.29h-3.33zM556.7,773.2h3.33v3.29h-3.33zM568.8,773.2h3.33v3.29h-3.33zM614.2,773.2h3.33v3.29h-3.33zM632.3,773.2h3.33v3.29h-3.33zM635.4,773.2h3.33v3.29h-3.33zM577.9,776.2h3.33v3.29h-3.33zM580.9,776.2h3.33v3.29h-3.33zM614.2,776.2h3.33v3.29h-3.33zM620.2,776.2h3.33v3.29h-3.33zM623.3,776.2h3.33v3.29h-3.33zM626.3,776.2h3.33v3.29h-3.33zM635.4,776.2h3.33v3.29h-3.33zM638.4,776.2h3.33v3.29h-3.33zM623.3,779.2h3.33v3.29h-3.33zM626.3,779.2h3.33v3.29h-3.33zM638.4,779.2h3.33v3.29h-3.33zM593.0,782.2h3.33v3.29h-3.33zM596.0,782.2h3.33v3.29h-3.33zM623.3,782.2h3.33v3.29h-3.33zM626.3,782.2h3.33v3.29h-3.33zM641.4,782.2h3.33v3.29h-3.33zM586.9,785.2h3.33v3.29h-3.33zM599.0,785.2h3.33v3.29h-3.33zM638.4,785.2h3.33v3.29h-3.33zM641.4,785.2h3.33v3.29h-3.33zM599.0,788.1h3.33v3.29h-3.33zM611.1,788.1h3.33v3.29h-3.33zM641.4,788.1h3.33v3.29h-3.33zM650.5,788.1h3.33v3.29h-3.33zM599.0,791.1h3.33v3.29h-3.33zM608.1,791.1h3.33v3.29h-3.33zM611.1,791.1h3.33v3.29h-3.33zM623.3,791.1h3.33v3.29h-3.33zM650.5,791.1h3.33v3.29h-3.33zM599.0,794.1h3.33v3.29h-3.33zM608.1,794.1h3.33v3.29h-3.33zM614.2,794.1h3.33v3.29h-3.33zM623.3,794.1h3.33v3.29h-3.33z"/>
<path fill="#fed888" d="M596.0,588.0h3.33v3.29h-3.33zM608.1,588.0h3.33v3.29h-3.33zM611.1,588.0h3.33v3.29h-3.33zM656.6,588.0h3.33v3.29h-3.33zM599.0,591.0h3.33v3.29h-3.33zM602.1,591.0h3.33v3.29h-3.33zM602.1,594.0h3.33v3.29h-3.33zM653.5,594.0h3.33v3.29h-3.33zM602.1,597.0h3.33v3.29h-3.33zM653.5,597.0h3.33v3.29h-3.33zM656.6,597.0h3.33v3.29h-3.33zM659.6,597.0h3.33v3.29h-3.33zM602.1,599.9h3.33v3.29h-3.33zM605.1,599.9h3.33v3.29h-3.33zM614.2,599.9h3.33v3.29h-3.33zM583.9,602.9h3.33v3.29h-3.33zM611.1,602.9h3.33v3.29h-3.33zM653.5,602.9h3.33v3.29h-3.33zM596.0,605.9h3.33v3.29h-3.33zM605.1,605.9h3.33v3.29h-3.33zM608.1,605.9h3.33v3.29h-3.33zM614.2,605.9h3.33v3.29h-3.33zM650.5,605.9h3.33v3.29h-3.33zM656.6,605.9h3.33v3.29h-3.33zM590.0,608.9h3.33v3.29h-3.33zM608.1,608.9h3.33v3.29h-3.33zM577.9,614.9h3.33v3.29h-3.33zM583.9,614.9h3.33v3.29h-3.33zM617.2,614.9h3.33v3.29h-3.33zM650.5,614.9h3.33v3.29h-3.33zM629.3,617.9h3.33v3.29h-3.33zM632.3,617.9h3.33v3.29h-3.33zM635.4,617.9h3.33v3.29h-3.33zM650.5,617.9h3.33v3.29h-3.33zM577.9,620.9h3.33v3.29h-3.33zM629.3,620.9h3.33v3.29h-3.33zM577.9,626.8h3.33v3.29h-3.33zM574.8,629.8h3.33v3.29h-3.33zM568.8,635.8h3.33v3.29h-3.33zM680.8,638.8h3.33v3.29h-3.33zM565.7,644.8h3.33v3.29h-3.33zM553.6,653.7h3.33v3.29h-3.33zM559.7,653.7h3.33v3.29h-3.33zM550.6,656.7h3.33v3.29h-3.33zM547.6,659.7h3.33v3.29h-3.33zM550.6,659.7h3.33v3.29h-3.33zM680.8,659.7h3.33v3.29h-3.33zM671.7,662.7h3.33v3.29h-3.33zM674.7,662.7h3.33v3.29h-3.33zM680.8,662.7h3.33v3.29h-3.33zM671.7,665.7h3.33v3.29h-3.33zM674.7,665.7h3.33v3.29h-3.33zM668.7,668.7h3.33v3.29h-3.33zM671.7,668.7h3.33v3.29h-3.33zM662.6,671.6h3.33v3.29h-3.33zM665.6,671.6h3.33v3.29h-3.33zM671.7,671.6h3.33v3.29h-3.33zM674.7,671.6h3.33v3.29h-3.33zM541.5,674.6h3.33v3.29h-3.33zM656.6,674.6h3.33v3.29h-3.33zM550.6,677.6h3.33v3.29h-3.33zM559.7,677.6h3.33v3.29h-3.33zM653.5,689.6h3.33v3.29h-3.33zM562.7,692.6h3.33v3.29h-3.33zM562.7,695.5h3.33v3.29h-3.33zM562.7,704.5h3.33v3.29h-3.33zM562.7,710.5h3.33v3.29h-3.33zM653.5,710.5h3.33v3.29h-3.33zM653.5,716.4h3.33v3.29h-3.33zM565.7,722.4h3.33v3.29h-3.33zM656.6,728.4h3.33v3.29h-3.33zM641.4,749.3h3.33v3.29h-3.33zM577.9,752.3h3.33v3.29h-3.33zM586.9,752.3h3.33v3.29h-3.33zM590.0,752.3h3.33v3.29h-3.33zM596.0,752.3h3.33v3.29h-3.33zM599.0,752.3h3.33v3.29h-3.33zM602.1,752.3h3.33v3.29h-3.33zM608.1,752.3h3.33v3.29h-3.33zM586.9,755.3h3.33v3.29h-3.33zM590.0,755.3h3.33v3.29h-3.33zM602.1,755.3h3.33v3.29h-3.33zM611.1,755.3h3.33v3.29h-3.33zM626.3,755.3h3.33v3.29h-3.33zM644.4,755.3h3.33v3.29h-3.33zM583.9,758.3h3.33v3.29h-3.33zM590.0,758.3h3.33v3.29h-3.33zM620.2,758.3h3.33v3.29h-3.33zM586.9,761.3h3.33v3.29h-3.33zM623.3,761.3h3.33v3.29h-3.33zM629.3,761.3h3.33v3.29h-3.33zM635.4,761.3h3.33v3.29h-3.33zM644.4,761.3h3.33v3.29h-3.33zM635.4,764.2h3.33v3.29h-3.33zM617.2,767.2h3.33v3.29h-3.33zM620.2,767.2h3.33v3.29h-3.33zM626.3,767.2h3.33v3.29h-3.33zM632.3,767.2h3.33v3.29h-3.33zM641.4,767.2h3.33v3.29h-3.33zM541.5,770.2h3.33v3.29h-3.33zM544.6,770.2h3.33v3.29h-3.33zM559.7,770.2h3.33v3.29h-3.33zM620.2,770.2h3.33v3.29h-3.33zM641.4,770.2h3.33v3.29h-3.33zM623.3,773.2h3.33v3.29h-3.33zM565.7,776.2h3.33v3.29h-3.33zM641.4,776.2h3.33v3.29h-3.33zM568.8,779.2h3.33v3.29h-3.33zM583.9,779.2h3.33v3.29h-3.33zM617.2,779.2h3.33v3.29h-3.33zM635.4,779.2h3.33v3.29h-3.33zM644.4,779.2h3.33v3.29h-3.33zM580.9,782.2h3.33v3.29h-3.33zM590.0,782.2h3.33v3.29h-3.33zM629.3,782.2h3.33v3.29h-3.33zM632.3,782.2h3.33v3.29h-3.33zM635.4,782.2h3.33v3.29h-3.33zM583.9,785.2h3.33v3.29h-3.33zM623.3,785.2h3.33v3.29h-3.33zM626.3,785.2h3.33v3.29h-3.33zM632.3,785.2h3.33v3.29h-3.33zM647.5,785.2h3.33v3.29h-3.33zM593.0,788.1h3.33v3.29h-3.33zM596.0,788.1h3.33v3.29h-3.33zM617.2,788.1h3.33v3.29h-3.33zM590.0,791.1h3.33v3.29h-3.33zM617.2,791.1h3.33v3.29h-3.33zM620.2,791.1h3.33v3.29h-3.33zM641.4,791.1h3.33v3.29h-3.33zM644.4,791.1h3.33v3.29h-3.33zM586.9,794.1h3.33v3.29h-3.33zM611.1,794.1h3.33v3.29h-3.33zM620.2,794.1h3.33v3.29h-3.33z"/>
<path fill="#f3e7b7" d="M602.1,588.0h3.33v3.29h-3.33zM662.6,588.0h3.33v3.29h-3.33zM674.7,588.0h3.33v3.29h-3.33zM677.7,588.0h3.33v3.29h-3.33zM662.6,591.0h3.33v3.29h-3.33zM665.6,591.0h3.33v3.29h-3.33zM662.6,597.0h3.33v3.29h-3.33zM659.6,599.9h3.33v3.29h-3.33zM680.8,599.9h3.33v3.29h-3.33zM659.6,602.9h3.33v3.29h-3.33zM662.6,602.9h3.33v3.29h-3.33zM671.7,602.9h3.33v3.29h-3.33zM593.0,605.9h3.33v3.29h-3.33zM599.0,605.9h3.33v3.29h-3.33zM602.1,605.9h3.33v3.29h-3.33zM653.5,605.9h3.33v3.29h-3.33zM674.7,605.9h3.33v3.29h-3.33zM586.9,608.9h3.33v3.29h-3.33zM599.0,608.9h3.33v3.29h-3.33zM665.6,608.9h3.33v3.29h-3.33zM586.9,611.9h3.33v3.29h-3.33zM602.1,611.9h3.33v3.29h-3.33zM611.1,611.9h3.33v3.29h-3.33zM656.6,611.9h3.33v3.29h-3.33zM659.6,611.9h3.33v3.29h-3.33zM596.0,614.9h3.33v3.29h-3.33zM599.0,614.9h3.33v3.29h-3.33zM602.1,614.9h3.33v3.29h-3.33zM608.1,614.9h3.33v3.29h-3.33zM611.1,614.9h3.33v3.29h-3.33zM659.6,614.9h3.33v3.29h-3.33zM662.6,614.9h3.33v3.29h-3.33zM674.7,614.9h3.33v3.29h-3.33zM599.0,617.9h3.33v3.29h-3.33zM656.6,617.9h3.33v3.29h-3.33zM680.8,617.9h3.33v3.29h-3.33zM583.9,620.9h3.33v3.29h-3.33zM596.0,620.9h3.33v3.29h-3.33zM611.1,620.9h3.33v3.29h-3.33zM617.2,620.9h3.33v3.29h-3.33zM626.3,620.9h3.33v3.29h-3.33zM635.4,620.9h3.33v3.29h-3.33zM641.4,620.9h3.33v3.29h-3.33zM665.6,620.9h3.33v3.29h-3.33zM583.9,623.8h3.33v3.29h-3.33zM590.0,623.8h3.33v3.29h-3.33zM593.0,623.8h3.33v3.29h-3.33zM629.3,623.8h3.33v3.29h-3.33zM647.5,623.8h3.33v3.29h-3.33zM659.6,623.8h3.33v3.29h-3.33zM671.7,623.8h3.33v3.29h-3.33zM674.7,623.8h3.33v3.29h-3.33zM644.4,626.8h3.33v3.29h-3.33zM650.5,626.8h3.33v3.29h-3.33zM665.6,626.8h3.33v3.29h-3.33zM647.5,629.8h3.33v3.29h-3.33zM671.7,629.8h3.33v3.29h-3.33zM680.8,629.8h3.33v3.29h-3.33zM574.8,632.8h3.33v3.29h-3.33zM671.7,632.8h3.33v3.29h-3.33zM656.6,635.8h3.33v3.29h-3.33zM662.6,635.8h3.33v3.29h-3.33zM677.7,635.8h3.33v3.29h-3.33zM571.8,638.8h3.33v3.29h-3.33zM668.7,638.8h3.33v3.29h-3.33zM671.7,638.8h3.33v3.29h-3.33zM674.7,638.8h3.33v3.29h-3.33zM662.6,641.8h3.33v3.29h-3.33zM668.7,641.8h3.33v3.29h-3.33zM674.7,641.8h3.33v3.29h-3.33zM680.8,641.8h3.33v3.29h-3.33zM662.6,644.8h3.33v3.29h-3.33zM671.7,644.8h3.33v3.29h-3.33zM562.7,650.7h3.33v3.29h-3.33zM565.7,653.7h3.33v3.29h-3.33zM662.6,653.7h3.33v3.29h-3.33zM559.7,656.7h3.33v3.29h-3.33zM553.6,659.7h3.33v3.29h-3.33zM556.7,659.7h3.33v3.29h-3.33zM671.7,659.7h3.33v3.29h-3.33zM677.7,659.7h3.33v3.29h-3.33zM541.5,662.7h3.33v3.29h-3.33zM559.7,662.7h3.33v3.29h-3.33zM541.5,665.7h3.33v3.29h-3.33zM547.6,665.7h3.33v3.29h-3.33zM659.6,668.7h3.33v3.29h-3.33zM538.5,671.6h3.33v3.29h-3.33zM556.7,671.6h3.33v3.29h-3.33zM556.7,674.6h3.33v3.29h-3.33zM565.7,686.6h3.33v3.29h-3.33zM565.7,689.6h3.33v3.29h-3.33zM650.5,689.6h3.33v3.29h-3.33zM647.5,695.5h3.33v3.29h-3.33zM647.5,698.5h3.33v3.29h-3.33zM565.7,710.5h3.33v3.29h-3.33zM565.7,716.4h3.33v3.29h-3.33zM653.5,722.4h3.33v3.29h-3.33zM653.5,728.4h3.33v3.29h-3.33zM653.5,734.4h3.33v3.29h-3.33zM571.8,737.4h3.33v3.29h-3.33zM580.9,746.3h3.33v3.29h-3.33zM590.0,746.3h3.33v3.29h-3.33zM596.0,746.3h3.33v3.29h-3.33zM635.4,746.3h3.33v3.29h-3.33zM641.4,746.3h3.33v3.29h-3.33zM583.9,749.3h3.33v3.29h-3.33zM586.9,749.3h3.33v3.29h-3.33zM599.0,749.3h3.33v3.29h-3.33zM602.1,749.3h3.33v3.29h-3.33zM611.1,749.3h3.33v3.29h-3.33zM614.2,749.3h3.33v3.29h-3.33zM623.3,749.3h3.33v3.29h-3.33zM626.3,749.3h3.33v3.29h-3.33zM632.3,749.3h3.33v3.29h-3.33zM623.3,752.3h3.33v3.29h-3.33zM641.4,752.3h3.33v3.29h-3.33zM629.3,755.3h3.33v3.29h-3.33zM632.3,755.3h3.33v3.29h-3.33zM635.4,755.3h3.33v3.29h-3.33zM629.3,764.2h3.33v3.29h-3.33zM538.5,773.2h3.33v3.29h-3.33zM541.5,773.2h3.33v3.29h-3.33zM629.3,773.2h3.33v3.29h-3.33zM544.6,776.2h3.33v3.29h-3.33zM553.6,779.2h3.33v3.29h-3.33zM559.7,779.2h3.33v3.29h-3.33zM562.7,782.2h3.33v3.29h-3.33zM577.9,782.2h3.33v3.29h-3.33zM580.9,785.2h3.33v3.29h-3.33zM586.9,788.1h3.33v3.29h-3.33zM590.0,788.1h3.33v3.29h-3.33zM638.4,788.1h3.33v3.29h-3.33zM577.9,791.1h3.33v3.29h-3.33zM629.3,791.1h3.33v3.29h-3.33zM632.3,791.1h3.33v3.29h-3.33zM626.3,794.1h3.33v3.29h-3.33zM632.3,794.1h3.33v3.29h-3.33zM635.4,794.1h3.33v3.29h-3.33z"/>
<path fill="#fa9c59" d="M620.2,588.0h3.33v3.29h-3.33zM623.3,588.0h3.33v3.29h-3.33zM623.3,591.0h3.33v3.29h-3.33zM644.4,591.0h3.33v3.29h-3.33zM620.2,597.0h3.33v3.29h-3.33zM568.8,602.9h3.33v3.29h-3.33zM638.4,602.9h3.33v3.29h-3.33zM565.7,608.9h3.33v3.29h-3.33zM568.8,608.9h3.33v3.29h-3.33zM568.8,611.9h3.33v3.29h-3.33zM565.7,623.8h3.33v3.29h-3.33zM562.7,626.8h3.33v3.29h-3.33zM559.7,632.8h3.33v3.29h-3.33zM559.7,635.8h3.33v3.29h-3.33zM562.7,635.8h3.33v3.29h-3.33zM550.6,641.8h3.33v3.29h-3.33zM541.5,644.8h3.33v3.29h-3.33zM547.6,644.8h3.33v3.29h-3.33zM541.5,647.7h3.33v3.29h-3.33zM662.6,683.6h3.33v3.29h-3.33zM665.6,683.6h3.33v3.29h-3.33zM680.8,683.6h3.33v3.29h-3.33zM662.6,686.6h3.33v3.29h-3.33zM668.7,686.6h3.33v3.29h-3.33zM674.7,686.6h3.33v3.29h-3.33zM538.5,689.6h3.33v3.29h-3.33zM544.6,689.6h3.33v3.29h-3.33zM680.8,689.6h3.33v3.29h-3.33zM538.5,692.6h3.33v3.29h-3.33zM550.6,692.6h3.33v3.29h-3.33zM547.6,695.5h3.33v3.29h-3.33zM547.6,701.5h3.33v3.29h-3.33zM547.6,704.5h3.33v3.29h-3.33zM544.6,707.5h3.33v3.29h-3.33zM553.6,707.5h3.33v3.29h-3.33zM659.6,707.5h3.33v3.29h-3.33zM662.6,710.5h3.33v3.29h-3.33zM674.7,710.5h3.33v3.29h-3.33zM538.5,716.4h3.33v3.29h-3.33zM550.6,716.4h3.33v3.29h-3.33zM668.7,716.4h3.33v3.29h-3.33zM674.7,716.4h3.33v3.29h-3.33zM550.6,719.4h3.33v3.29h-3.33zM674.7,719.4h3.33v3.29h-3.33zM677.7,719.4h3.33v3.29h-3.33zM674.7,722.4h3.33v3.29h-3.33zM562.7,728.4h3.33v3.29h-3.33zM562.7,731.4h3.33v3.29h-3.33zM668.7,731.4h3.33v3.29h-3.33zM680.8,731.4h3.33v3.29h-3.33zM562.7,734.4h3.33v3.29h-3.33zM665.6,734.4h3.33v3.29h-3.33zM671.7,734.4h3.33v3.29h-3.33zM674.7,734.4h3.33v3.29h-3.33zM659.6,737.4h3.33v3.29h-3.33zM659.6,743.3h3.33v3.29h-3.33zM559.7,749.3h3.33v3.29h-3.33zM565.7,749.3h3.33v3.29h-3.33zM565.7,752.3h3.33v3.29h-3.33zM556.7,755.3h3.33v3.29h-3.33zM562.7,758.3h3.33v3.29h-3.33zM547.6,761.3h3.33v3.29h-3.33zM550.6,761.3h3.33v3.29h-3.33zM562.7,761.3h3.33v3.29h-3.33zM653.5,764.2h3.33v3.29h-3.33zM653.5,767.2h3.33v3.29h-3.33zM650.5,770.2h3.33v3.29h-3.33zM596.0,773.2h3.33v3.29h-3.33zM653.5,776.2h3.33v3.29h-3.33zM653.5,779.2h3.33v3.29h-3.33zM656.6,779.2h3.33v3.29h-3.33z"/>
<path fill="#f67848" d="M626.3,588.0h3.33v3.29h-3.33zM565.7,591.0h3.33v3.29h-3.33zM626.3,591.0h3.33v3.29h-3.33zM629.3,591.0h3.33v3.29h-3.33zM635.4,591.0h3.33v3.29h-3.33zM635.4,594.0h3.33v3.29h-3.33zM632.3,599.9h3.33v3.29h-3.33zM562.7,602.9h3.33v3.29h-3.33zM565.7,602.9h3.33v3.29h-3.33zM562.7,614.9h3.33v3.29h-3.33zM559.7,617.9h3.33v3.29h-3.33zM562.7,617.9h3.33v3.29h-3.33zM559.7,623.8h3.33v3.29h-3.33zM553.6,629.8h3.33v3.29h-3.33zM550.6,632.8h3.33v3.29h-3.33zM547.6,638.8h3.33v3.29h-3.33zM677.7,689.6h3.33v3.29h-3.33zM674.7,692.6h3.33v3.29h-3.33zM668.7,698.5h3.33v3.29h-3.33zM541.5,701.5h3.33v3.29h-3.33zM544.6,701.5h3.33v3.29h-3.33zM659.6,701.5h3.33v3.29h-3.33zM665.6,701.5h3.33v3.29h-3.33zM680.8,701.5h3.33v3.29h-3.33zM662.6,704.5h3.33v3.29h-3.33zM680.8,704.5h3.33v3.29h-3.33zM674.7,707.5h3.33v3.29h-3.33zM541.5,719.4h3.33v3.29h-3.33zM553.6,728.4h3.33v3.29h-3.33zM556.7,731.4h3.33v3.29h-3.33zM556.7,734.4h3.33v3.29h-3.33zM553.6,737.4h3.33v3.29h-3.33zM553.6,740.3h3.33v3.29h-3.33zM559.7,740.3h3.33v3.29h-3.33zM665.6,740.3h3.33v3.29h-3.33zM668.7,740.3h3.33v3.29h-3.33zM665.6,743.3h3.33v3.29h-3.33zM553.6,749.3h3.33v3.29h-3.33zM553.6,755.3h3.33v3.29h-3.33zM656.6,758.3h3.33v3.29h-3.33zM538.5,761.3h3.33v3.29h-3.33zM544.6,761.3h3.33v3.29h-3.33zM656.6,767.2h3.33v3.29h-3.33zM662.6,779.2h3.33v3.29h-3.33zM656.6,782.2h3.33v3.29h-3.33zM659.6,782.2h3.33v3.29h-3.33zM659.6,788.1h3.33v3.29h-3.33zM671.7,788.1h3.33v3.29h-3.33zM665.6,791.1h3.33v3.29h-3.33zM668.7,791.1h3.33v3.29h-3.33zM662.6,794.1h3.33v3.29h-3.33z"/>
<path fill="#f99354" d="M638.4,588.0h3.33v3.29h-3.33zM638.4,591.0h3.33v3.29h-3.33zM638.4,594.0h3.33v3.29h-3.33zM568.8,597.0h3.33v3.29h-3.33zM623.3,597.0h3.33v3.29h-3.33zM635.4,599.9h3.33v3.29h-3.33zM638.4,599.9h3.33v3.29h-3.33zM635.4,602.9h3.33v3.29h-3.33zM568.8,605.9h3.33v3.29h-3.33zM629.3,605.9h3.33v3.29h-3.33zM562.7,620.9h3.33v3.29h-3.33zM559.7,629.8h3.33v3.29h-3.33zM556.7,638.8h3.33v3.29h-3.33zM547.6,641.8h3.33v3.29h-3.33zM538.5,644.8h3.33v3.29h-3.33zM538.5,647.7h3.33v3.29h-3.33zM668.7,683.6h3.33v3.29h-3.33zM671.7,683.6h3.33v3.29h-3.33zM680.8,686.6h3.33v3.29h-3.33zM547.6,689.6h3.33v3.29h-3.33zM671.7,689.6h3.33v3.29h-3.33zM662.6,692.6h3.33v3.29h-3.33zM544.6,695.5h3.33v3.29h-3.33zM550.6,695.5h3.33v3.29h-3.33zM662.6,695.5h3.33v3.29h-3.33zM547.6,698.5h3.33v3.29h-3.33zM550.6,701.5h3.33v3.29h-3.33zM662.6,701.5h3.33v3.29h-3.33zM659.6,704.5h3.33v3.29h-3.33zM668.7,704.5h3.33v3.29h-3.33zM671.7,704.5h3.33v3.29h-3.33zM674.7,704.5h3.33v3.29h-3.33zM677.7,704.5h3.33v3.29h-3.33zM541.5,707.5h3.33v3.29h-3.33zM547.6,707.5h3.33v3.29h-3.33zM550.6,707.5h3.33v3.29h-3.33zM544.6,710.5h3.33v3.29h-3.33zM671.7,710.5h3.33v3.29h-3.33zM680.8,710.5h3.33v3.29h-3.33zM541.5,713.5h3.33v3.29h-3.33zM547.6,713.5h3.33v3.29h-3.33zM544.6,716.4h3.33v3.29h-3.33zM553.6,716.4h3.33v3.29h-3.33zM680.8,716.4h3.33v3.29h-3.33zM547.6,719.4h3.33v3.29h-3.33zM559.7,725.4h3.33v3.29h-3.33zM559.7,728.4h3.33v3.29h-3.33zM677.7,731.4h3.33v3.29h-3.33zM668.7,737.4h3.33v3.29h-3.33zM662.6,740.3h3.33v3.29h-3.33zM562.7,746.3h3.33v3.29h-3.33zM656.6,752.3h3.33v3.29h-3.33zM653.5,755.3h3.33v3.29h-3.33zM653.5,758.3h3.33v3.29h-3.33zM541.5,761.3h3.33v3.29h-3.33zM653.5,761.3h3.33v3.29h-3.33zM659.6,785.2h3.33v3.29h-3.33zM656.6,791.1h3.33v3.29h-3.33zM659.6,791.1h3.33v3.29h-3.33z"/>
<path fill="#f9e3a1" d="M659.6,588.0h3.33v3.29h-3.33zM665.6,588.0h3.33v3.29h-3.33zM668.7,588.0h3.33v3.29h-3.33zM680.8,588.0h3.33v3.29h-3.33zM605.1,591.0h3.33v3.29h-3.33zM671.7,591.0h3.33v3.29h-3.33zM674.7,591.0h3.33v3.29h-3.33zM677.7,594.0h3.33v3.29h-3.33zM680.8,594.0h3.33v3.29h-3.33zM599.0,597.0h3.33v3.29h-3.33zM671.7,597.0h3.33v3.29h-3.33zM599.0,599.9h3.33v3.29h-3.33zM608.1,599.9h3.33v3.29h-3.33zM665.6,599.9h3.33v3.29h-3.33zM586.9,602.9h3.33v3.29h-3.33zM593.0,602.9h3.33v3.29h-3.33zM602.1,602.9h3.33v3.29h-3.33zM605.1,602.9h3.33v3.29h-3.33zM668.7,602.9h3.33v3.29h-3.33zM674.7,602.9h3.33v3.29h-3.33zM677.7,602.9h3.33v3.29h-3.33zM611.1,605.9h3.33v3.29h-3.33zM659.6,605.9h3.33v3.29h-3.33zM605.1,608.9h3.33v3.29h-3.33zM611.1,608.9h3.33v3.29h-3.33zM650.5,608.9h3.33v3.29h-3.33zM653.5,608.9h3.33v3.29h-3.33zM677.7,608.9h3.33v3.29h-3.33zM583.9,611.9h3.33v3.29h-3.33zM605.1,611.9h3.33v3.29h-3.33zM608.1,611.9h3.33v3.29h-3.33zM614.2,611.9h3.33v3.29h-3.33zM647.5,614.9h3.33v3.29h-3.33zM653.5,614.9h3.33v3.29h-3.33zM656.6,614.9h3.33v3.29h-3.33zM671.7,614.9h3.33v3.29h-3.33zM586.9,617.9h3.33v3.29h-3.33zM617.2,617.9h3.33v3.29h-3.33zM620.2,617.9h3.33v3.29h-3.33zM626.3,617.9h3.33v3.29h-3.33zM638.4,617.9h3.33v3.29h-3.33zM644.4,617.9h3.33v3.29h-3.33zM659.6,617.9h3.33v3.29h-3.33zM662.6,617.9h3.33v3.29h-3.33zM674.7,617.9h3.33v3.29h-3.33zM632.3,620.9h3.33v3.29h-3.33zM638.4,620.9h3.33v3.29h-3.33zM677.7,620.9h3.33v3.29h-3.33zM680.8,620.9h3.33v3.29h-3.33zM577.9,623.8h3.33v3.29h-3.33zM580.9,623.8h3.33v3.29h-3.33zM632.3,623.8h3.33v3.29h-3.33zM662.6,623.8h3.33v3.29h-3.33zM665.6,623.8h3.33v3.29h-3.33zM580.9,626.8h3.33v3.29h-3.33zM656.6,626.8h3.33v3.29h-3.33zM662.6,626.8h3.33v3.29h-3.33zM677.7,626.8h3.33v3.29h-3.33zM680.8,626.8h3.33v3.29h-3.33zM653.5,629.8h3.33v3.29h-3.33zM662.6,629.8h3.33v3.29h-3.33zM656.6,632.8h3.33v3.29h-3.33zM665.6,632.8h3.33v3.29h-3.33zM677.7,632.8h3.33v3.29h-3.33zM659.6,635.8h3.33v3.29h-3.33zM668.7,635.8h3.33v3.29h-3.33zM674.7,635.8h3.33v3.29h-3.33zM680.8,635.8h3.33v3.29h-3.33zM662.6,638.8h3.33v3.29h-3.33zM671.7,641.8h3.33v3.29h-3.33zM677.7,641.8h3.33v3.29h-3.33zM668.7,644.8h3.33v3.29h-3.33zM674.7,644.8h3.33v3.29h-3.33zM565.7,647.7h3.33v3.29h-3.33zM668.7,647.7h3.33v3.29h-3.33zM674.7,647.7h3.33v3.29h-3.33zM565.7,650.7h3.33v3.29h-3.33zM668.7,650.7h3.33v3.29h-3.33zM671.7,653.7h3.33v3.29h-3.33zM674.7,653.7h3.33v3.29h-3.33zM680.8,653.7h3.33v3.29h-3.33zM553.6,656.7h3.33v3.29h-3.33zM556.7,656.7h3.33v3.29h-3.33zM562.7,656.7h3.33v3.29h-3.33zM668.7,656.7h3.33v3.29h-3.33zM671.7,656.7h3.33v3.29h-3.33zM674.7,656.7h3.33v3.29h-3.33zM680.8,656.7h3.33v3.29h-3.33zM538.5,659.7h3.33v3.29h-3.33zM559.7,659.7h3.33v3.29h-3.33zM668.7,659.7h3.33v3.29h-3.33zM674.7,659.7h3.33v3.29h-3.33zM547.6,662.7h3.33v3.29h-3.33zM662.6,662.7h3.33v3.29h-3.33zM665.6,662.7h3.33v3.29h-3.33zM677.7,662.7h3.33v3.29h-3.33zM662.6,665.7h3.33v3.29h-3.33zM677.7,665.7h3.33v3.29h-3.33zM680.8,668.7h3.33v3.29h-3.33zM541.5,671.6h3.33v3.29h-3.33zM547.6,671.6h3.33v3.29h-3.33zM553.6,671.6h3.33v3.29h-3.33zM538.5,674.6h3.33v3.29h-3.33zM547.6,674.6h3.33v3.29h-3.33zM553.6,674.6h3.33v3.29h-3.33zM553.6,677.6h3.33v3.29h-3.33zM559.7,680.6h3.33v3.29h-3.33zM562.7,680.6h3.33v3.29h-3.33zM562.7,683.6h3.33v3.29h-3.33zM565.7,683.6h3.33v3.29h-3.33zM653.5,683.6h3.33v3.29h-3.33zM562.7,689.6h3.33v3.29h-3.33zM565.7,692.6h3.33v3.29h-3.33zM650.5,692.6h3.33v3.29h-3.33zM650.5,704.5h3.33v3.29h-3.33zM565.7,707.5h3.33v3.29h-3.33zM650.5,707.5h3.33v3.29h-3.33zM565.7,719.4h3.33v3.29h-3.33zM568.8,728.4h3.33v3.29h-3.33zM653.5,731.4h3.33v3.29h-3.33zM650.5,740.3h3.33v3.29h-3.33zM574.8,743.3h3.33v3.29h-3.33zM577.9,743.3h3.33v3.29h-3.33zM577.9,746.3h3.33v3.29h-3.33zM583.9,746.3h3.33v3.29h-3.33zM580.9,749.3h3.33v3.29h-3.33zM596.0,749.3h3.33v3.29h-3.33zM605.1,749.3h3.33v3.29h-3.33zM608.1,749.3h3.33v3.29h-3.33zM593.0,752.3h3.33v3.29h-3.33zM611.1,752.3h3.33v3.29h-3.33zM617.2,752.3h3.33v3.29h-3.33zM626.3,752.3h3.33v3.29h-3.33zM629.3,752.3h3.33v3.29h-3.33zM632.3,752.3h3.33v3.29h-3.33zM638.4,752.3h3.33v3.29h-3.33zM644.4,752.3h3.33v3.29h-3.33zM614.2,755.3h3.33v3.29h-3.33zM617.2,755.3h3.33v3.29h-3.33zM626.3,761.3h3.33v3.29h-3.33zM635.4,767.2h3.33v3.29h-3.33zM538.5,770.2h3.33v3.29h-3.33zM547.6,770.2h3.33v3.29h-3.33zM559.7,773.2h3.33v3.29h-3.33zM562.7,773.2h3.33v3.29h-3.33zM556.7,776.2h3.33v3.29h-3.33zM562.7,776.2h3.33v3.29h-3.33zM568.8,776.2h3.33v3.29h-3.33zM629.3,776.2h3.33v3.29h-3.33zM565.7,779.2h3.33v3.29h-3.33zM571.8,779.2h3.33v3.29h-3.33zM574.8,779.2h3.33v3.29h-3.33zM577.9,779.2h3.33v3.29h-3.33zM638.4,782.2h3.33v3.29h-3.33zM574.8,785.2h3.33v3.29h-3.33zM635.4,785.2h3.33v3.29h-3.33zM626.3,788.1h3.33v3.29h-3.33zM632.3,788.1h3.33v3.29h-3.33zM586.9,791.1h3.33v3.29h-3.33zM626.3,791.1h3.33v3.29h-3.33zM635.4,791.1h3.33v3.29h-3.33zM638.4,791.1h3.33v3.29h-3.33zM580.9,794.1h3.33v3.29h-3.33zM590.0,794.1h3.33v3.29h-3.33zM629.3,794.1h3.33v3.29h-3.33zM644.4,794.1h3.33v3.29h-3.33z"/>
<path fill="#ecebcd" d="M671.7,588.0h3.33v3.29h-3.33zM659.6,591.0h3.33v3.29h-3.33zM680.8,591.0h3.33v3.29h-3.33zM662.6,594.0h3.33v3.29h-3.33zM665.6,594.0h3.33v3.29h-3.33zM668.7,594.0h3.33v3.29h-3.33zM671.7,594.0h3.33v3.29h-3.33zM674.7,597.0h3.33v3.29h-3.33zM665.6,602.9h3.33v3.29h-3.33zM593.0,608.9h3.33v3.29h-3.33zM602.1,608.9h3.33v3.29h-3.33zM656.6,608.9h3.33v3.29h-3.33zM659.6,608.9h3.33v3.29h-3.33zM668.7,608.9h3.33v3.29h-3.33zM674.7,608.9h3.33v3.29h-3.33zM593.0,611.9h3.33v3.29h-3.33zM596.0,611.9h3.33v3.29h-3.33zM653.5,611.9h3.33v3.29h-3.33zM662.6,611.9h3.33v3.29h-3.33zM668.7,611.9h3.33v3.29h-3.33zM680.8,611.9h3.33v3.29h-3.33zM586.9,614.9h3.33v3.29h-3.33zM665.6,614.9h3.33v3.29h-3.33zM677.7,614.9h3.33v3.29h-3.33zM680.8,614.9h3.33v3.29h-3.33zM605.1,617.9h3.33v3.29h-3.33zM614.2,617.9h3.33v3.29h-3.33zM653.5,617.9h3.33v3.29h-3.33zM665.6,617.9h3.33v3.29h-3.33zM586.9,620.9h3.33v3.29h-3.33zM590.0,620.9h3.33v3.29h-3.33zM602.1,620.9h3.33v3.29h-3.33zM605.1,620.9h3.33v3.29h-3.33zM614.2,620.9h3.33v3.29h-3.33zM623.3,620.9h3.33v3.29h-3.33zM644.4,620.9h3.33v3.29h-3.33zM647.5,620.9h3.33v3.29h-3.33zM653.5,620.9h3.33v3.29h-3.33zM671.7,620.9h3.33v3.29h-3.33zM586.9,623.8h3.33v3.29h-3.33zM620.2,623.8h3.33v3.29h-3.33zM635.4,623.8h3.33v3.29h-3.33zM641.4,623.8h3.33v3.29h-3.33zM644.4,623.8h3.33v3.29h-3.33zM653.5,623.8h3.33v3.29h-3.33zM656.6,623.8h3.33v3.29h-3.33zM668.7,623.8h3.33v3.29h-3.33zM677.7,623.8h3.33v3.29h-3.33zM680.8,623.8h3.33v3.29h-3.33zM590.0,626.8h3.33v3.29h-3.33zM593.0,626.8h3.33v3.29h-3.33zM635.4,626.8h3.33v3.29h-3.33zM638.4,626.8h3.33v3.29h-3.33zM641.4,626.8h3.33v3.29h-3.33zM647.5,626.8h3.33v3.29h-3.33zM668.7,626.8h3.33v3.29h-3.33zM674.7,626.8h3.33v3.29h-3.33zM577.9,629.8h3.33v3.29h-3.33zM665.6,629.8h3.33v3.29h-3.33zM674.7,629.8h3.33v3.29h-3.33zM677.7,629.8h3.33v3.29h-3.33zM662.6,632.8h3.33v3.29h-3.33zM653.5,635.8h3.33v3.29h-3.33zM671.7,635.8h3.33v3.29h-3.33zM665.6,638.8h3.33v3.29h-3.33zM656.6,641.8h3.33v3.29h-3.33zM659.6,641.8h3.33v3.29h-3.33zM665.6,641.8h3.33v3.29h-3.33zM568.8,644.8h3.33v3.29h-3.33zM659.6,644.8h3.33v3.29h-3.33zM665.6,644.8h3.33v3.29h-3.33zM680.8,644.8h3.33v3.29h-3.33zM680.8,647.7h3.33v3.29h-3.33zM656.6,650.7h3.33v3.29h-3.33zM671.7,650.7h3.33v3.29h-3.33zM674.7,650.7h3.33v3.29h-3.33zM677.7,650.7h3.33v3.29h-3.33zM680.8,650.7h3.33v3.29h-3.33zM656.6,653.7h3.33v3.29h-3.33zM677.7,653.7h3.33v3.29h-3.33zM665.6,656.7h3.33v3.29h-3.33zM562.7,659.7h3.33v3.29h-3.33zM662.6,659.7h3.33v3.29h-3.33zM665.6,659.7h3.33v3.29h-3.33zM544.6,662.7h3.33v3.29h-3.33zM550.6,662.7h3.33v3.29h-3.33zM562.7,662.7h3.33v3.29h-3.33zM656.6,662.7h3.33v3.29h-3.33zM659.6,662.7h3.33v3.29h-3.33zM538.5,665.7h3.33v3.29h-3.33zM550.6,665.7h3.33v3.29h-3.33zM659.6,665.7h3.33v3.29h-3.33zM544.6,668.7h3.33v3.29h-3.33zM556.7,668.7h3.33v3.29h-3.33zM662.6,668.7h3.33v3.29h-3.33zM665.6,668.7h3.33v3.29h-3.33zM544.6,671.6h3.33v3.29h-3.33zM656.6,671.6h3.33v3.29h-3.33zM565.7,674.6h3.33v3.29h-3.33zM653.5,674.6h3.33v3.29h-3.33zM562.7,677.6h3.33v3.29h-3.33zM653.5,677.6h3.33v3.29h-3.33zM565.7,680.6h3.33v3.29h-3.33zM565.7,698.5h3.33v3.29h-3.33zM647.5,701.5h3.33v3.29h-3.33zM565.7,704.5h3.33v3.29h-3.33zM647.5,704.5h3.33v3.29h-3.33zM650.5,710.5h3.33v3.29h-3.33zM568.8,722.4h3.33v3.29h-3.33zM650.5,722.4h3.33v3.29h-3.33zM568.8,725.4h3.33v3.29h-3.33zM571.8,734.4h3.33v3.29h-3.33zM650.5,737.4h3.33v3.29h-3.33zM574.8,740.3h3.33v3.29h-3.33zM580.9,743.3h3.33v3.29h-3.33zM647.5,743.3h3.33v3.29h-3.33zM586.9,746.3h3.33v3.29h-3.33zM602.1,746.3h3.33v3.29h-3.33zM644.4,746.3h3.33v3.29h-3.33zM620.2,749.3h3.33v3.29h-3.33zM635.4,749.3h3.33v3.29h-3.33zM638.4,749.3h3.33v3.29h-3.33zM614.2,752.3h3.33v3.29h-3.33zM635.4,752.3h3.33v3.29h-3.33zM547.6,773.2h3.33v3.29h-3.33zM550.6,773.2h3.33v3.29h-3.33zM547.6,776.2h3.33v3.29h-3.33zM553.6,776.2h3.33v3.29h-3.33zM538.5,779.2h3.33v3.29h-3.33zM559.7,782.2h3.33v3.29h-3.33zM568.8,782.2h3.33v3.29h-3.33zM571.8,782.2h3.33v3.29h-3.33zM577.9,788.1h3.33v3.29h-3.33zM580.9,788.1h3.33v3.29h-3.33zM583.9,788.1h3.33v3.29h-3.33zM574.8,794.1h3.33v3.29h-3.33zM577.9,794.1h3.33v3.29h-3.33z"/>
<path fill="#e65136" d="M544.6,591.0h3.33v3.29h-3.33zM553.6,591.0h3.33v3.29h-3.33zM541.5,594.0h3.33v3.29h-3.33zM544.6,594.0h3.33v3.29h-3.33zM544.6,599.9h3.33v3.29h-3.33zM553.6,599.9h3.33v3.29h-3.33zM556.7,599.9h3.33v3.29h-3.33zM559.7,599.9h3.33v3.29h-3.33zM538.5,602.9h3.33v3.29h-3.33zM541.5,602.9h3.33v3.29h-3.33zM550.6,602.9h3.33v3.29h-3.33zM553.6,602.9h3.33v3.29h-3.33zM556.7,602.9h3.33v3.29h-3.33zM553.6,605.9h3.33v3.29h-3.33zM547.6,608.9h3.33v3.29h-3.33zM556.7,608.9h3.33v3.29h-3.33zM559.7,608.9h3.33v3.29h-3.33zM550.6,611.9h3.33v3.29h-3.33zM553.6,611.9h3.33v3.29h-3.33zM556.7,611.9h3.33v3.29h-3.33zM559.7,611.9h3.33v3.29h-3.33zM541.5,614.9h3.33v3.29h-3.33zM547.6,614.9h3.33v3.29h-3.33zM553.6,614.9h3.33v3.29h-3.33zM556.7,614.9h3.33v3.29h-3.33zM556.7,617.9h3.33v3.29h-3.33zM547.6,620.9h3.33v3.29h-3.33zM553.6,620.9h3.33v3.29h-3.33zM556.7,620.9h3.33v3.29h-3.33zM538.5,626.8h3.33v3.29h-3.33zM550.6,626.8h3.33v3.29h-3.33zM538.5,629.8h3.33v3.29h-3.33zM547.6,629.8h3.33v3.29h-3.33zM541.5,728.4h3.33v3.29h-3.33zM547.6,728.4h3.33v3.29h-3.33zM541.5,731.4h3.33v3.29h-3.33zM544.6,731.4h3.33v3.29h-3.33zM550.6,737.4h3.33v3.29h-3.33zM550.6,740.3h3.33v3.29h-3.33zM680.8,740.3h3.33v3.29h-3.33zM544.6,743.3h3.33v3.29h-3.33zM553.6,743.3h3.33v3.29h-3.33zM668.7,743.3h3.33v3.29h-3.33zM541.5,746.3h3.33v3.29h-3.33zM547.6,746.3h3.33v3.29h-3.33zM665.6,746.3h3.33v3.29h-3.33zM541.5,749.3h3.33v3.29h-3.33zM550.6,749.3h3.33v3.29h-3.33zM665.6,749.3h3.33v3.29h-3.33zM538.5,755.3h3.33v3.29h-3.33zM544.6,755.3h3.33v3.29h-3.33zM665.6,755.3h3.33v3.29h-3.33zM544.6,758.3h3.33v3.29h-3.33zM668.7,761.3h3.33v3.29h-3.33zM665.6,767.2h3.33v3.29h-3.33zM659.6,770.2h3.33v3.29h-3.33zM665.6,773.2h3.33v3.29h-3.33zM671.7,782.2h3.33v3.29h-3.33zM677.7,782.2h3.33v3.29h-3.33zM674.7,785.2h3.33v3.29h-3.33zM674.7,791.1h3.33v3.29h-3.33zM671.7,794.1h3.33v3.29h-3.33zM674.7,794.1h3.33v3.29h-3.33zM680.8,794.1h3.33v3.29h-3.33z"/>
<path fill="#f88a50" d="M568.8,591.0h3.33v3.29h-3.33zM565.7,594.0h3.33v3.29h-3.33zM626.3,594.0h3.33v3.29h-3.33zM635.4,597.0h3.33v3.29h-3.33zM638.4,597.0h3.33v3.29h-3.33zM568.8,599.9h3.33v3.29h-3.33zM626.3,599.9h3.33v3.29h-3.33zM629.3,602.9h3.33v3.29h-3.33zM632.3,602.9h3.33v3.29h-3.33zM565.7,614.9h3.33v3.29h-3.33zM565.7,617.9h3.33v3.29h-3.33zM565.7,620.9h3.33v3.29h-3.33zM559.7,626.8h3.33v3.29h-3.33zM556.7,632.8h3.33v3.29h-3.33zM556.7,635.8h3.33v3.29h-3.33zM553.6,641.8h3.33v3.29h-3.33zM544.6,644.8h3.33v3.29h-3.33zM674.7,683.6h3.33v3.29h-3.33zM538.5,686.6h3.33v3.29h-3.33zM541.5,686.6h3.33v3.29h-3.33zM671.7,686.6h3.33v3.29h-3.33zM677.7,686.6h3.33v3.29h-3.33zM662.6,689.6h3.33v3.29h-3.33zM665.6,689.6h3.33v3.29h-3.33zM674.7,689.6h3.33v3.29h-3.33zM541.5,692.6h3.33v3.29h-3.33zM544.6,692.6h3.33v3.29h-3.33zM547.6,692.6h3.33v3.29h-3.33zM659.6,692.6h3.33v3.29h-3.33zM665.6,692.6h3.33v3.29h-3.33zM671.7,692.6h3.33v3.29h-3.33zM659.6,695.5h3.33v3.29h-3.33zM665.6,695.5h3.33v3.29h-3.33zM541.5,698.5h3.33v3.29h-3.33zM656.6,698.5h3.33v3.29h-3.33zM668.7,701.5h3.33v3.29h-3.33zM677.7,707.5h3.33v3.29h-3.33zM541.5,710.5h3.33v3.29h-3.33zM677.7,710.5h3.33v3.29h-3.33zM538.5,713.5h3.33v3.29h-3.33zM544.6,713.5h3.33v3.29h-3.33zM541.5,716.4h3.33v3.29h-3.33zM538.5,719.4h3.33v3.29h-3.33zM556.7,725.4h3.33v3.29h-3.33zM674.7,731.4h3.33v3.29h-3.33zM677.7,734.4h3.33v3.29h-3.33zM680.8,734.4h3.33v3.29h-3.33zM671.7,737.4h3.33v3.29h-3.33zM559.7,743.3h3.33v3.29h-3.33zM659.6,746.3h3.33v3.29h-3.33zM656.6,749.3h3.33v3.29h-3.33zM553.6,752.3h3.33v3.29h-3.33zM559.7,755.3h3.33v3.29h-3.33zM559.7,758.3h3.33v3.29h-3.33zM656.6,761.3h3.33v3.29h-3.33zM656.6,785.2h3.33v3.29h-3.33zM662.6,791.1h3.33v3.29h-3.33z"/>
<path fill="#fedf8f" d="M668.7,591.0h3.33v3.29h-3.33zM596.0,594.0h3.33v3.29h-3.33zM659.6,594.0h3.33v3.29h-3.33zM593.0,597.0h3.33v3.29h-3.33zM596.0,597.0h3.33v3.29h-3.33zM605.1,597.0h3.33v3.29h-3.33zM665.6,597.0h3.33v3.29h-3.33zM668.7,597.0h3.33v3.29h-3.33zM596.0,599.9h3.33v3.29h-3.33zM611.1,599.9h3.33v3.29h-3.33zM662.6,599.9h3.33v3.29h-3.33zM596.0,602.9h3.33v3.29h-3.33zM599.0,602.9h3.33v3.29h-3.33zM608.1,602.9h3.33v3.29h-3.33zM656.6,602.9h3.33v3.29h-3.33zM583.9,605.9h3.33v3.29h-3.33zM662.6,605.9h3.33v3.29h-3.33zM596.0,608.9h3.33v3.29h-3.33zM614.2,608.9h3.33v3.29h-3.33zM580.9,611.9h3.33v3.29h-3.33zM590.0,611.9h3.33v3.29h-3.33zM617.2,611.9h3.33v3.29h-3.33zM647.5,611.9h3.33v3.29h-3.33zM650.5,611.9h3.33v3.29h-3.33zM590.0,614.9h3.33v3.29h-3.33zM593.0,614.9h3.33v3.29h-3.33zM614.2,614.9h3.33v3.29h-3.33zM638.4,614.9h3.33v3.29h-3.33zM641.4,614.9h3.33v3.29h-3.33zM644.4,614.9h3.33v3.29h-3.33zM583.9,617.9h3.33v3.29h-3.33zM623.3,617.9h3.33v3.29h-3.33zM574.8,620.9h3.33v3.29h-3.33zM580.9,620.9h3.33v3.29h-3.33zM650.5,620.9h3.33v3.29h-3.33zM656.6,620.9h3.33v3.29h-3.33zM674.7,620.9h3.33v3.29h-3.33zM668.7,629.8h3.33v3.29h-3.33zM674.7,632.8h3.33v3.29h-3.33zM571.8,635.8h3.33v3.29h-3.33zM568.8,638.8h3.33v3.29h-3.33zM677.7,638.8h3.33v3.29h-3.33zM568.8,641.8h3.33v3.29h-3.33zM677.7,644.8h3.33v3.29h-3.33zM677.7,647.7h3.33v3.29h-3.33zM559.7,650.7h3.33v3.29h-3.33zM550.6,653.7h3.33v3.29h-3.33zM556.7,653.7h3.33v3.29h-3.33zM562.7,653.7h3.33v3.29h-3.33zM538.5,656.7h3.33v3.29h-3.33zM677.7,656.7h3.33v3.29h-3.33zM541.5,659.7h3.33v3.29h-3.33zM544.6,659.7h3.33v3.29h-3.33zM538.5,662.7h3.33v3.29h-3.33zM668.7,662.7h3.33v3.29h-3.33zM668.7,665.7h3.33v3.29h-3.33zM680.8,665.7h3.33v3.29h-3.33zM659.6,671.6h3.33v3.29h-3.33zM550.6,674.6h3.33v3.29h-3.33zM662.6,674.6h3.33v3.29h-3.33zM653.5,680.6h3.33v3.29h-3.33zM559.7,686.6h3.33v3.29h-3.33zM562.7,686.6h3.33v3.29h-3.33zM653.5,686.6h3.33v3.29h-3.33zM565.7,695.5h3.33v3.29h-3.33zM650.5,695.5h3.33v3.29h-3.33zM562.7,701.5h3.33v3.29h-3.33zM565.7,701.5h3.33v3.29h-3.33zM565.7,713.5h3.33v3.29h-3.33zM653.5,713.5h3.33v3.29h-3.33zM653.5,719.4h3.33v3.29h-3.33zM653.5,725.4h3.33v3.29h-3.33zM568.8,731.4h3.33v3.29h-3.33zM653.5,737.4h3.33v3.29h-3.33zM571.8,740.3h3.33v3.29h-3.33zM650.5,743.3h3.33v3.29h-3.33zM574.8,746.3h3.33v3.29h-3.33zM647.5,746.3h3.33v3.29h-3.33zM577.9,749.3h3.33v3.29h-3.33zM590.0,749.3h3.33v3.29h-3.33zM593.0,749.3h3.33v3.29h-3.33zM644.4,749.3h3.33v3.29h-3.33zM620.2,752.3h3.33v3.29h-3.33zM608.1,755.3h3.33v3.29h-3.33zM623.3,755.3h3.33v3.29h-3.33zM638.4,755.3h3.33v3.29h-3.33zM626.3,758.3h3.33v3.29h-3.33zM629.3,758.3h3.33v3.29h-3.33zM632.3,758.3h3.33v3.29h-3.33zM632.3,761.3h3.33v3.29h-3.33zM623.3,764.2h3.33v3.29h-3.33zM626.3,764.2h3.33v3.29h-3.33zM632.3,764.2h3.33v3.29h-3.33zM623.3,767.2h3.33v3.29h-3.33zM629.3,767.2h3.33v3.29h-3.33zM623.3,770.2h3.33v3.29h-3.33zM629.3,770.2h3.33v3.29h-3.33zM632.3,770.2h3.33v3.29h-3.33zM635.4,770.2h3.33v3.29h-3.33zM553.6,773.2h3.33v3.29h-3.33zM565.7,773.2h3.33v3.29h-3.33zM626.3,773.2h3.33v3.29h-3.33zM559.7,776.2h3.33v3.29h-3.33zM571.8,776.2h3.33v3.29h-3.33zM632.3,776.2h3.33v3.29h-3.33zM562.7,779.2h3.33v3.29h-3.33zM629.3,779.2h3.33v3.29h-3.33zM632.3,779.2h3.33v3.29h-3.33zM641.4,779.2h3.33v3.29h-3.33zM574.8,782.2h3.33v3.29h-3.33zM577.9,785.2h3.33v3.29h-3.33zM620.2,785.2h3.33v3.29h-3.33zM629.3,785.2h3.33v3.29h-3.33zM620.2,788.1h3.33v3.29h-3.33zM623.3,788.1h3.33v3.29h-3.33zM629.3,788.1h3.33v3.29h-3.33zM635.4,788.1h3.33v3.29h-3.33zM644.4,788.1h3.33v3.29h-3.33zM583.9,791.1h3.33v3.29h-3.33zM593.0,791.1h3.33v3.29h-3.33zM583.9,794.1h3.33v3.29h-3.33zM638.4,794.1h3.33v3.29h-3.33zM641.4,794.1h3.33v3.29h-3.33z"/>
<path fill="#e6efe2" d="M677.7,591.0h3.33v3.29h-3.33zM674.7,594.0h3.33v3.29h-3.33zM677.7,597.0h3.33v3.29h-3.33zM680.8,597.0h3.33v3.29h-3.33zM668.7,599.9h3.33v3.29h-3.33zM671.7,599.9h3.33v3.29h-3.33zM674.7,599.9h3.33v3.29h-3.33zM677.7,599.9h3.33v3.29h-3.33zM680.8,602.9h3.33v3.29h-3.33zM665.6,605.9h3.33v3.29h-3.33zM668.7,605.9h3.33v3.29h-3.33zM677.7,605.9h3.33v3.29h-3.33zM671.7,608.9h3.33v3.29h-3.33zM599.0,611.9h3.33v3.29h-3.33zM665.6,611.9h3.33v3.29h-3.33zM674.7,611.9h3.33v3.29h-3.33zM590.0,617.9h3.33v3.29h-3.33zM593.0,617.9h3.33v3.29h-3.33zM596.0,617.9h3.33v3.29h-3.33zM668.7,617.9h3.33v3.29h-3.33zM671.7,617.9h3.33v3.29h-3.33zM677.7,617.9h3.33v3.29h-3.33zM593.0,620.9h3.33v3.29h-3.33zM620.2,620.9h3.33v3.29h-3.33zM659.6,620.9h3.33v3.29h-3.33zM662.6,620.9h3.33v3.29h-3.33zM668.7,620.9h3.33v3.29h-3.33zM599.0,623.8h3.33v3.29h-3.33zM623.3,623.8h3.33v3.29h-3.33zM638.4,623.8h3.33v3.29h-3.33zM650.5,623.8h3.33v3.29h-3.33zM583.9,626.8h3.33v3.29h-3.33zM608.1,626.8h3.33v3.29h-3.33zM614.2,626.8h3.33v3.29h-3.33zM617.2,626.8h3.33v3.29h-3.33zM632.3,626.8h3.33v3.29h-3.33zM653.5,626.8h3.33v3.29h-3.33zM659.6,626.8h3.33v3.29h-3.33zM671.7,626.8h3.33v3.29h-3.33zM586.9,629.8h3.33v3.29h-3.33zM650.5,629.8h3.33v3.29h-3.33zM656.6,629.8h3.33v3.29h-3.33zM659.6,629.8h3.33v3.29h-3.33zM577.9,632.8h3.33v3.29h-3.33zM650.5,632.8h3.33v3.29h-3.33zM653.5,632.8h3.33v3.29h-3.33zM659.6,632.8h3.33v3.29h-3.33zM668.7,632.8h3.33v3.29h-3.33zM680.8,632.8h3.33v3.29h-3.33zM574.8,635.8h3.33v3.29h-3.33zM650.5,635.8h3.33v3.29h-3.33zM665.6,635.8h3.33v3.29h-3.33zM650.5,638.8h3.33v3.29h-3.33zM653.5,638.8h3.33v3.29h-3.33zM656.6,638.8h3.33v3.29h-3.33zM659.6,638.8h3.33v3.29h-3.33zM571.8,641.8h3.33v3.29h-3.33zM650.5,641.8h3.33v3.29h-3.33zM653.5,644.8h3.33v3.29h-3.33zM568.8,647.7h3.33v3.29h-3.33zM656.6,647.7h3.33v3.29h-3.33zM659.6,647.7h3.33v3.29h-3.33zM662.6,647.7h3.33v3.29h-3.33zM665.6,647.7h3.33v3.29h-3.33zM671.7,647.7h3.33v3.29h-3.33zM568.8,650.7h3.33v3.29h-3.33zM665.6,650.7h3.33v3.29h-3.33zM665.6,653.7h3.33v3.29h-3.33zM668.7,653.7h3.33v3.29h-3.33zM568.8,656.7h3.33v3.29h-3.33zM659.6,656.7h3.33v3.29h-3.33zM553.6,662.7h3.33v3.29h-3.33zM556.7,662.7h3.33v3.29h-3.33zM565.7,662.7h3.33v3.29h-3.33zM544.6,665.7h3.33v3.29h-3.33zM656.6,665.7h3.33v3.29h-3.33zM665.6,665.7h3.33v3.29h-3.33zM550.6,668.7h3.33v3.29h-3.33zM553.6,668.7h3.33v3.29h-3.33zM653.5,668.7h3.33v3.29h-3.33zM550.6,671.6h3.33v3.29h-3.33zM653.5,671.6h3.33v3.29h-3.33zM559.7,674.6h3.33v3.29h-3.33zM562.7,674.6h3.33v3.29h-3.33zM650.5,683.6h3.33v3.29h-3.33zM650.5,686.6h3.33v3.29h-3.33zM568.8,695.5h3.33v3.29h-3.33zM644.4,698.5h3.33v3.29h-3.33zM568.8,701.5h3.33v3.29h-3.33zM568.8,704.5h3.33v3.29h-3.33zM568.8,710.5h3.33v3.29h-3.33zM650.5,713.5h3.33v3.29h-3.33zM650.5,716.4h3.33v3.29h-3.33zM568.8,719.4h3.33v3.29h-3.33zM650.5,719.4h3.33v3.29h-3.33zM650.5,728.4h3.33v3.29h-3.33zM571.8,731.4h3.33v3.29h-3.33zM650.5,731.4h3.33v3.29h-3.33zM650.5,734.4h3.33v3.29h-3.33zM647.5,740.3h3.33v3.29h-3.33zM638.4,743.3h3.33v3.29h-3.33zM644.4,743.3h3.33v3.29h-3.33zM599.0,746.3h3.33v3.29h-3.33zM605.1,746.3h3.33v3.29h-3.33zM608.1,746.3h3.33v3.29h-3.33zM614.2,746.3h3.33v3.29h-3.33zM629.3,746.3h3.33v3.29h-3.33zM617.2,749.3h3.33v3.29h-3.33zM544.6,773.2h3.33v3.29h-3.33zM538.5,776.2h3.33v3.29h-3.33zM541.5,779.2h3.33v3.29h-3.33zM556.7,782.2h3.33v3.29h-3.33zM574.8,788.1h3.33v3.29h-3.33zM580.9,791.1h3.33v3.29h-3.33z"/>
<path fill="#e24631" d="M556.7,597.0h3.33v3.29h-3.33zM547.6,599.9h3.33v3.29h-3.33zM550.6,599.9h3.33v3.29h-3.33zM559.7,602.9h3.33v3.29h-3.33zM538.5,614.9h3.33v3.29h-3.33zM550.6,614.9h3.33v3.29h-3.33zM541.5,617.9h3.33v3.29h-3.33zM547.6,617.9h3.33v3.29h-3.33zM538.5,620.9h3.33v3.29h-3.33zM550.6,623.8h3.33v3.29h-3.33zM541.5,626.8h3.33v3.29h-3.33zM544.6,629.8h3.33v3.29h-3.33zM538.5,632.8h3.33v3.29h-3.33zM544.6,635.8h3.33v3.29h-3.33zM541.5,725.4h3.33v3.29h-3.33zM538.5,728.4h3.33v3.29h-3.33zM547.6,731.4h3.33v3.29h-3.33zM541.5,734.4h3.33v3.29h-3.33zM547.6,734.4h3.33v3.29h-3.33zM538.5,737.4h3.33v3.29h-3.33zM541.5,737.4h3.33v3.29h-3.33zM538.5,740.3h3.33v3.29h-3.33zM544.6,740.3h3.33v3.29h-3.33zM671.7,743.3h3.33v3.29h-3.33zM674.7,743.3h3.33v3.29h-3.33zM544.6,746.3h3.33v3.29h-3.33zM671.7,746.3h3.33v3.29h-3.33zM680.8,746.3h3.33v3.29h-3.33zM668.7,749.3h3.33v3.29h-3.33zM671.7,749.3h3.33v3.29h-3.33zM538.5,752.3h3.33v3.29h-3.33zM677.7,752.3h3.33v3.29h-3.33zM665.6,758.3h3.33v3.29h-3.33zM662.6,764.2h3.33v3.29h-3.33zM662.6,767.2h3.33v3.29h-3.33zM671.7,770.2h3.33v3.29h-3.33zM665.6,779.2h3.33v3.29h-3.33zM671.7,779.2h3.33v3.29h-3.33zM674.7,779.2h3.33v3.29h-3.33zM680.8,779.2h3.33v3.29h-3.33zM674.7,782.2h3.33v3.29h-3.33zM680.8,782.2h3.33v3.29h-3.33zM668.7,785.2h3.33v3.29h-3.33zM677.7,785.2h3.33v3.29h-3.33zM680.8,785.2h3.33v3.29h-3.33zM677.7,788.1h3.33v3.29h-3.33z"/>
<path fill="#dd3c2d" d="M547.6,602.9h3.33v3.29h-3.33zM538.5,605.9h3.33v3.29h-3.33zM538.5,608.9h3.33v3.29h-3.33zM553.6,608.9h3.33v3.29h-3.33zM541.5,611.9h3.33v3.29h-3.33zM544.6,611.9h3.33v3.29h-3.33zM544.6,614.9h3.33v3.29h-3.33zM550.6,620.9h3.33v3.29h-3.33zM547.6,623.8h3.33v3.29h-3.33zM541.5,632.8h3.33v3.29h-3.33zM538.5,731.4h3.33v3.29h-3.33zM538.5,734.4h3.33v3.29h-3.33zM544.6,737.4h3.33v3.29h-3.33zM541.5,740.3h3.33v3.29h-3.33zM547.6,740.3h3.33v3.29h-3.33zM538.5,743.3h3.33v3.29h-3.33zM541.5,743.3h3.33v3.29h-3.33zM674.7,746.3h3.33v3.29h-3.33zM538.5,749.3h3.33v3.29h-3.33zM544.6,749.3h3.33v3.29h-3.33zM674.7,749.3h3.33v3.29h-3.33zM544.6,752.3h3.33v3.29h-3.33zM668.7,752.3h3.33v3.29h-3.33zM671.7,752.3h3.33v3.29h-3.33zM674.7,752.3h3.33v3.29h-3.33zM680.8,752.3h3.33v3.29h-3.33zM671.7,755.3h3.33v3.29h-3.33zM665.6,761.3h3.33v3.29h-3.33zM677.7,767.2h3.33v3.29h-3.33zM662.6,770.2h3.33v3.29h-3.33zM665.6,770.2h3.33v3.29h-3.33zM677.7,770.2h3.33v3.29h-3.33zM674.7,773.2h3.33v3.29h-3.33zM665.6,776.2h3.33v3.29h-3.33zM677.7,776.2h3.33v3.29h-3.33zM680.8,776.2h3.33v3.29h-3.33zM668.7,779.2h3.33v3.29h-3.33z"/>
<path fill="#d83228" d="M541.5,605.9h3.33v3.29h-3.33zM544.6,605.9h3.33v3.29h-3.33zM544.6,608.9h3.33v3.29h-3.33zM547.6,611.9h3.33v3.29h-3.33zM538.5,617.9h3.33v3.29h-3.33zM541.5,620.9h3.33v3.29h-3.33zM538.5,746.3h3.33v3.29h-3.33zM677.7,746.3h3.33v3.29h-3.33zM680.8,749.3h3.33v3.29h-3.33zM668.7,755.3h3.33v3.29h-3.33zM680.8,755.3h3.33v3.29h-3.33zM668.7,758.3h3.33v3.29h-3.33zM677.7,758.3h3.33v3.29h-3.33zM668.7,764.2h3.33v3.29h-3.33zM668.7,770.2h3.33v3.29h-3.33zM674.7,770.2h3.33v3.29h-3.33zM668.7,773.2h3.33v3.29h-3.33zM671.7,773.2h3.33v3.29h-3.33zM668.7,776.2h3.33v3.29h-3.33zM671.7,776.2h3.33v3.29h-3.33zM677.7,779.2h3.33v3.29h-3.33z"/>
<path fill="#e0f3f8" d="M671.7,605.9h3.33v3.29h-3.33zM680.8,605.9h3.33v3.29h-3.33zM662.6,608.9h3.33v3.29h-3.33zM680.8,608.9h3.33v3.29h-3.33zM671.7,611.9h3.33v3.29h-3.33zM677.7,611.9h3.33v3.29h-3.33zM605.1,614.9h3.33v3.29h-3.33zM668.7,614.9h3.33v3.29h-3.33zM602.1,617.9h3.33v3.29h-3.33zM608.1,617.9h3.33v3.29h-3.33zM611.1,617.9h3.33v3.29h-3.33zM596.0,623.8h3.33v3.29h-3.33zM605.1,623.8h3.33v3.29h-3.33zM626.3,623.8h3.33v3.29h-3.33zM586.9,626.8h3.33v3.29h-3.33zM596.0,626.8h3.33v3.29h-3.33zM599.0,626.8h3.33v3.29h-3.33zM611.1,626.8h3.33v3.29h-3.33zM629.3,626.8h3.33v3.29h-3.33zM580.9,629.8h3.33v3.29h-3.33zM583.9,629.8h3.33v3.29h-3.33zM590.0,629.8h3.33v3.29h-3.33zM614.2,629.8h3.33v3.29h-3.33zM629.3,629.8h3.33v3.29h-3.33zM635.4,629.8h3.33v3.29h-3.33zM638.4,629.8h3.33v3.29h-3.33zM641.4,629.8h3.33v3.29h-3.33zM644.4,629.8h3.33v3.29h-3.33zM574.8,638.8h3.33v3.29h-3.33zM571.8,644.8h3.33v3.29h-3.33zM656.6,644.8h3.33v3.29h-3.33zM571.8,647.7h3.33v3.29h-3.33zM650.5,647.7h3.33v3.29h-3.33zM659.6,650.7h3.33v3.29h-3.33zM662.6,650.7h3.33v3.29h-3.33zM659.6,653.7h3.33v3.29h-3.33zM565.7,656.7h3.33v3.29h-3.33zM662.6,656.7h3.33v3.29h-3.33zM565.7,659.7h3.33v3.29h-3.33zM568.8,659.7h3.33v3.29h-3.33zM656.6,659.7h3.33v3.29h-3.33zM553.6,665.7h3.33v3.29h-3.33zM556.7,665.7h3.33v3.29h-3.33zM562.7,665.7h3.33v3.29h-3.33zM547.6,668.7h3.33v3.29h-3.33zM559.7,668.7h3.33v3.29h-3.33zM562.7,668.7h3.33v3.29h-3.33zM565.7,668.7h3.33v3.29h-3.33zM656.6,668.7h3.33v3.29h-3.33zM565.7,671.6h3.33v3.29h-3.33zM568.8,671.6h3.33v3.29h-3.33zM650.5,671.6h3.33v3.29h-3.33zM568.8,674.6h3.33v3.29h-3.33zM650.5,674.6h3.33v3.29h-3.33zM565.7,677.6h3.33v3.29h-3.33zM650.5,677.6h3.33v3.29h-3.33zM568.8,680.6h3.33v3.29h-3.33zM650.5,680.6h3.33v3.29h-3.33zM568.8,683.6h3.33v3.29h-3.33zM568.8,686.6h3.33v3.29h-3.33zM568.8,689.6h3.33v3.29h-3.33zM647.5,689.6h3.33v3.29h-3.33zM568.8,692.6h3.33v3.29h-3.33zM647.5,692.6h3.33v3.29h-3.33zM568.8,698.5h3.33v3.29h-3.33zM644.4,701.5h3.33v3.29h-3.33zM568.8,707.5h3.33v3.29h-3.33zM647.5,707.5h3.33v3.29h-3.33zM647.5,710.5h3.33v3.29h-3.33zM568.8,713.5h3.33v3.29h-3.33zM568.8,716.4h3.33v3.29h-3.33zM650.5,725.4h3.33v3.29h-3.33zM571.8,728.4h3.33v3.29h-3.33zM574.8,737.4h3.33v3.29h-3.33zM577.9,740.3h3.33v3.29h-3.33zM580.9,740.3h3.33v3.29h-3.33zM641.4,740.3h3.33v3.29h-3.33zM583.9,743.3h3.33v3.29h-3.33zM586.9,743.3h3.33v3.29h-3.33zM590.0,743.3h3.33v3.29h-3.33zM596.0,743.3h3.33v3.29h-3.33zM641.4,743.3h3.33v3.29h-3.33zM593.0,746.3h3.33v3.29h-3.33zM626.3,746.3h3.33v3.29h-3.33zM632.3,746.3h3.33v3.29h-3.33zM638.4,746.3h3.33v3.29h-3.33zM629.3,749.3h3.33v3.29h-3.33zM550.6,776.2h3.33v3.29h-3.33zM556.7,779.2h3.33v3.29h-3.33zM544.6,782.2h3.33v3.29h-3.33zM565.7,782.2h3.33v3.29h-3.33zM553.6,785.2h3.33v3.29h-3.33zM556.7,785.2h3.33v3.29h-3.33zM565.7,785.2h3.33v3.29h-3.33zM571.8,785.2h3.33v3.29h-3.33zM562.7,788.1h3.33v3.29h-3.33zM568.8,788.1h3.33v3.29h-3.33zM571.8,788.1h3.33v3.29h-3.33zM562.7,794.1h3.33v3.29h-3.33z"/>
<path fill="#cf2827" d="M541.5,608.9h3.33v3.29h-3.33zM538.5,611.9h3.33v3.29h-3.33zM544.6,617.9h3.33v3.29h-3.33zM538.5,623.8h3.33v3.29h-3.33zM544.6,626.8h3.33v3.29h-3.33zM677.7,749.3h3.33v3.29h-3.33zM674.7,755.3h3.33v3.29h-3.33zM677.7,755.3h3.33v3.29h-3.33zM671.7,758.3h3.33v3.29h-3.33zM674.7,758.3h3.33v3.29h-3.33zM680.8,758.3h3.33v3.29h-3.33zM671.7,761.3h3.33v3.29h-3.33zM677.7,761.3h3.33v3.29h-3.33zM671.7,764.2h3.33v3.29h-3.33zM674.7,764.2h3.33v3.29h-3.33zM668.7,767.2h3.33v3.29h-3.33zM671.7,767.2h3.33v3.29h-3.33zM674.7,767.2h3.33v3.29h-3.33zM674.7,776.2h3.33v3.29h-3.33z"/>
<path fill="#c41e27" d="M544.6,620.9h3.33v3.29h-3.33zM541.5,623.8h3.33v3.29h-3.33zM544.6,623.8h3.33v3.29h-3.33zM674.7,761.3h3.33v3.29h-3.33z"/>
<path fill="#d5eef5" d="M599.0,620.9h3.33v3.29h-3.33zM608.1,620.9h3.33v3.29h-3.33zM602.1,623.8h3.33v3.29h-3.33zM608.1,623.8h3.33v3.29h-3.33zM611.1,623.8h3.33v3.29h-3.33zM614.2,623.8h3.33v3.29h-3.33zM617.2,623.8h3.33v3.29h-3.33zM605.1,626.8h3.33v3.29h-3.33zM620.2,626.8h3.33v3.29h-3.33zM623.3,626.8h3.33v3.29h-3.33zM626.3,626.8h3.33v3.29h-3.33zM593.0,629.8h3.33v3.29h-3.33zM599.0,629.8h3.33v3.29h-3.33zM602.1,629.8h3.33v3.29h-3.33zM605.1,629.8h3.33v3.29h-3.33zM611.1,629.8h3.33v3.29h-3.33zM623.3,629.8h3.33v3.29h-3.33zM626.3,629.8h3.33v3.29h-3.33zM632.3,629.8h3.33v3.29h-3.33zM580.9,632.8h3.33v3.29h-3.33zM583.9,632.8h3.33v3.29h-3.33zM590.0,632.8h3.33v3.29h-3.33zM593.0,632.8h3.33v3.29h-3.33zM623.3,632.8h3.33v3.29h-3.33zM629.3,632.8h3.33v3.29h-3.33zM638.4,632.8h3.33v3.29h-3.33zM641.4,632.8h3.33v3.29h-3.33zM644.4,632.8h3.33v3.29h-3.33zM647.5,632.8h3.33v3.29h-3.33zM577.9,635.8h3.33v3.29h-3.33zM647.5,635.8h3.33v3.29h-3.33zM574.8,641.8h3.33v3.29h-3.33zM653.5,641.8h3.33v3.29h-3.33zM647.5,644.8h3.33v3.29h-3.33zM650.5,644.8h3.33v3.29h-3.33zM653.5,647.7h3.33v3.29h-3.33zM571.8,650.7h3.33v3.29h-3.33zM650.5,650.7h3.33v3.29h-3.33zM568.8,653.7h3.33v3.29h-3.33zM571.8,653.7h3.33v3.29h-3.33zM650.5,653.7h3.33v3.29h-3.33zM653.5,653.7h3.33v3.29h-3.33zM650.5,656.7h3.33v3.29h-3.33zM656.6,656.7h3.33v3.29h-3.33zM571.8,659.7h3.33v3.29h-3.33zM653.5,659.7h3.33v3.29h-3.33zM659.6,659.7h3.33v3.29h-3.33zM568.8,662.7h3.33v3.29h-3.33zM650.5,662.7h3.33v3.29h-3.33zM653.5,662.7h3.33v3.29h-3.33zM559.7,665.7h3.33v3.29h-3.33zM568.8,665.7h3.33v3.29h-3.33zM650.5,665.7h3.33v3.29h-3.33zM653.5,665.7h3.33v3.29h-3.33zM541.5,668.7h3.33v3.29h-3.33zM568.8,668.7h3.33v3.29h-3.33zM559.7,671.6h3.33v3.29h-3.33zM562.7,671.6h3.33v3.29h-3.33zM568.8,677.6h3.33v3.29h-3.33zM571.8,683.6h3.33v3.29h-3.33zM647.5,683.6h3.33v3.29h-3.33zM647.5,686.6h3.33v3.29h-3.33zM571.8,689.6h3.33v3.29h-3.33zM571.8,692.6h3.33v3.29h-3.33zM644.4,692.6h3.33v3.29h-3.33zM571.8,695.5h3.33v3.29h-3.33zM644.4,695.5h3.33v3.29h-3.33zM571.8,698.5h3.33v3.29h-3.33zM571.8,701.5h3.33v3.29h-3.33zM571.8,704.5h3.33v3.29h-3.33zM644.4,704.5h3.33v3.29h-3.33zM644.4,707.5h3.33v3.29h-3.33zM571.8,713.5h3.33v3.29h-3.33zM647.5,713.5h3.33v3.29h-3.33zM571.8,716.4h3.33v3.29h-3.33zM647.5,716.4h3.33v3.29h-3.33zM571.8,719.4h3.33v3.29h-3.33zM647.5,719.4h3.33v3.29h-3.33zM571.8,722.4h3.33v3.29h-3.33zM647.5,722.4h3.33v3.29h-3.33zM571.8,725.4h3.33v3.29h-3.33zM647.5,725.4h3.33v3.29h-3.33zM574.8,731.4h3.33v3.29h-3.33zM647.5,731.4h3.33v3.29h-3.33zM574.8,734.4h3.33v3.29h-3.33zM647.5,734.4h3.33v3.29h-3.33zM647.5,737.4h3.33v3.29h-3.33zM583.9,740.3h3.33v3.29h-3.33zM586.9,740.3h3.33v3.29h-3.33zM590.0,740.3h3.33v3.29h-3.33zM593.0,740.3h3.33v3.29h-3.33zM599.0,740.3h3.33v3.29h-3.33zM602.1,740.3h3.33v3.29h-3.33zM614.2,740.3h3.33v3.29h-3.33zM629.3,740.3h3.33v3.29h-3.33zM632.3,740.3h3.33v3.29h-3.33zM635.4,740.3h3.33v3.29h-3.33zM638.4,740.3h3.33v3.29h-3.33zM644.4,740.3h3.33v3.29h-3.33zM593.0,743.3h3.33v3.29h-3.33zM602.1,743.3h3.33v3.29h-3.33zM611.1,743.3h3.33v3.29h-3.33zM617.2,743.3h3.33v3.29h-3.33zM620.2,743.3h3.33v3.29h-3.33zM623.3,743.3h3.33v3.29h-3.33zM626.3,743.3h3.33v3.29h-3.33zM632.3,743.3h3.33v3.29h-3.33zM635.4,743.3h3.33v3.29h-3.33zM611.1,746.3h3.33v3.29h-3.33zM617.2,746.3h3.33v3.29h-3.33zM620.2,746.3h3.33v3.29h-3.33zM623.3,746.3h3.33v3.29h-3.33zM541.5,776.2h3.33v3.29h-3.33zM550.6,779.2h3.33v3.29h-3.33zM547.6,782.2h3.33v3.29h-3.33zM550.6,782.2h3.33v3.29h-3.33zM538.5,785.2h3.33v3.29h-3.33zM544.6,785.2h3.33v3.29h-3.33zM550.6,785.2h3.33v3.29h-3.33zM562.7,785.2h3.33v3.29h-3.33zM568.8,785.2h3.33v3.29h-3.33zM565.7,788.1h3.33v3.29h-3.33zM556.7,791.1h3.33v3.29h-3.33zM562.7,791.1h3.33v3.29h-3.33zM565.7,791.1h3.33v3.29h-3.33zM565.7,794.1h3.33v3.29h-3.33zM571.8,794.1h3.33v3.29h-3.33z"/>
<path fill="#cae8f2" d="M602.1,626.8h3.33v3.29h-3.33zM596.0,629.8h3.33v3.29h-3.33zM608.1,629.8h3.33v3.29h-3.33zM617.2,629.8h3.33v3.29h-3.33zM620.2,629.8h3.33v3.29h-3.33zM586.9,632.8h3.33v3.29h-3.33zM596.0,632.8h3.33v3.29h-3.33zM599.0,632.8h3.33v3.29h-3.33zM602.1,632.8h3.33v3.29h-3.33zM605.1,632.8h3.33v3.29h-3.33zM608.1,632.8h3.33v3.29h-3.33zM611.1,632.8h3.33v3.29h-3.33zM614.2,632.8h3.33v3.29h-3.33zM617.2,632.8h3.33v3.29h-3.33zM620.2,632.8h3.33v3.29h-3.33zM626.3,632.8h3.33v3.29h-3.33zM632.3,632.8h3.33v3.29h-3.33zM635.4,632.8h3.33v3.29h-3.33zM644.4,635.8h3.33v3.29h-3.33zM577.9,638.8h3.33v3.29h-3.33zM644.4,638.8h3.33v3.29h-3.33zM647.5,638.8h3.33v3.29h-3.33zM577.9,641.8h3.33v3.29h-3.33zM644.4,641.8h3.33v3.29h-3.33zM647.5,641.8h3.33v3.29h-3.33zM574.8,644.8h3.33v3.29h-3.33zM644.4,644.8h3.33v3.29h-3.33zM574.8,647.7h3.33v3.29h-3.33zM647.5,647.7h3.33v3.29h-3.33zM647.5,650.7h3.33v3.29h-3.33zM653.5,650.7h3.33v3.29h-3.33zM647.5,653.7h3.33v3.29h-3.33zM571.8,656.7h3.33v3.29h-3.33zM647.5,656.7h3.33v3.29h-3.33zM653.5,656.7h3.33v3.29h-3.33zM647.5,659.7h3.33v3.29h-3.33zM650.5,659.7h3.33v3.29h-3.33zM571.8,662.7h3.33v3.29h-3.33zM647.5,662.7h3.33v3.29h-3.33zM565.7,665.7h3.33v3.29h-3.33zM571.8,665.7h3.33v3.29h-3.33zM647.5,665.7h3.33v3.29h-3.33zM538.5,668.7h3.33v3.29h-3.33zM571.8,668.7h3.33v3.29h-3.33zM647.5,668.7h3.33v3.29h-3.33zM650.5,668.7h3.33v3.29h-3.33zM571.8,671.6h3.33v3.29h-3.33zM647.5,671.6h3.33v3.29h-3.33zM571.8,674.6h3.33v3.29h-3.33zM647.5,674.6h3.33v3.29h-3.33zM571.8,677.6h3.33v3.29h-3.33zM647.5,677.6h3.33v3.29h-3.33zM571.8,680.6h3.33v3.29h-3.33zM647.5,680.6h3.33v3.29h-3.33zM571.8,686.6h3.33v3.29h-3.33zM644.4,689.6h3.33v3.29h-3.33zM641.4,695.5h3.33v3.29h-3.33zM641.4,698.5h3.33v3.29h-3.33zM641.4,701.5h3.33v3.29h-3.33zM641.4,704.5h3.33v3.29h-3.33zM571.8,707.5h3.33v3.29h-3.33zM571.8,710.5h3.33v3.29h-3.33zM644.4,710.5h3.33v3.29h-3.33zM574.8,725.4h3.33v3.29h-3.33zM574.8,728.4h3.33v3.29h-3.33zM647.5,728.4h3.33v3.29h-3.33zM577.9,737.4h3.33v3.29h-3.33zM580.9,737.4h3.33v3.29h-3.33zM583.9,737.4h3.33v3.29h-3.33zM586.9,737.4h3.33v3.29h-3.33zM590.0,737.4h3.33v3.29h-3.33zM593.0,737.4h3.33v3.29h-3.33zM596.0,737.4h3.33v3.29h-3.33zM599.0,737.4h3.33v3.29h-3.33zM602.1,737.4h3.33v3.29h-3.33zM605.1,737.4h3.33v3.29h-3.33zM608.1,737.4h3.33v3.29h-3.33zM611.1,737.4h3.33v3.29h-3.33zM614.2,737.4h3.33v3.29h-3.33zM617.2,737.4h3.33v3.29h-3.33zM620.2,737.4h3.33v3.29h-3.33zM623.3,737.4h3.33v3.29h-3.33zM626.3,737.4h3.33v3.29h-3.33zM629.3,737.4h3.33v3.29h-3.33zM632.3,737.4h3.33v3.29h-3.33zM635.4,737.4h3.33v3.29h-3.33zM638.4,737.4h3.33v3.29h-3.33zM641.4,737.4h3.33v3.29h-3.33zM644.4,737.4h3.33v3.29h-3.33zM596.0,740.3h3.33v3.29h-3.33zM605.1,740.3h3.33v3.29h-3.33zM608.1,740.3h3.33v3.29h-3.33zM611.1,740.3h3.33v3.29h-3.33zM617.2,740.3h3.33v3.29h-3.33zM620.2,740.3h3.33v3.29h-3.33zM623.3,740.3h3.33v3.29h-3.33zM626.3,740.3h3.33v3.29h-3.33zM599.0,743.3h3.33v3.29h-3.33zM605.1,743.3h3.33v3.29h-3.33zM614.2,743.3h3.33v3.29h-3.33zM629.3,743.3h3.33v3.29h-3.33zM544.6,779.2h3.33v3.29h-3.33zM547.6,779.2h3.33v3.29h-3.33zM538.5,782.2h3.33v3.29h-3.33zM553.6,782.2h3.33v3.29h-3.33zM547.6,785.2h3.33v3.29h-3.33zM559.7,785.2h3.33v3.29h-3.33zM553.6,788.1h3.33v3.29h-3.33zM568.8,791.1h3.33v3.29h-3.33zM571.8,791.1h3.33v3.29h-3.33zM574.8,791.1h3.33v3.29h-3.33zM559.7,794.1h3.33v3.29h-3.33z"/>
<path fill="#a2d2e5" d="M580.9,635.8h3.33v3.29h-3.33zM583.9,635.8h3.33v3.29h-3.33zM593.0,635.8h3.33v3.29h-3.33zM629.3,635.8h3.33v3.29h-3.33zM632.3,635.8h3.33v3.29h-3.33zM644.4,647.7h3.33v3.29h-3.33zM574.8,650.7h3.33v3.29h-3.33zM574.8,653.7h3.33v3.29h-3.33zM574.8,662.7h3.33v3.29h-3.33zM574.8,674.6h3.33v3.29h-3.33zM574.8,677.6h3.33v3.29h-3.33zM574.8,683.6h3.33v3.29h-3.33zM644.4,683.6h3.33v3.29h-3.33zM574.8,686.6h3.33v3.29h-3.33zM574.8,710.5h3.33v3.29h-3.33zM644.4,713.5h3.33v3.29h-3.33zM574.8,716.4h3.33v3.29h-3.33zM644.4,725.4h3.33v3.29h-3.33zM577.9,734.4h3.33v3.29h-3.33zM544.6,788.1h3.33v3.29h-3.33zM550.6,788.1h3.33v3.29h-3.33zM547.6,791.1h3.33v3.29h-3.33zM541.5,794.1h3.33v3.29h-3.33zM544.6,794.1h3.33v3.29h-3.33z"/>
<path fill="#93c5de" d="M586.9,635.8h3.33v3.29h-3.33zM596.0,635.8h3.33v3.29h-3.33zM599.0,635.8h3.33v3.29h-3.33zM635.4,635.8h3.33v3.29h-3.33zM577.9,644.8h3.33v3.29h-3.33zM574.8,656.7h3.33v3.29h-3.33zM644.4,665.7h3.33v3.29h-3.33zM574.8,668.7h3.33v3.29h-3.33zM641.4,692.6h3.33v3.29h-3.33zM574.8,695.5h3.33v3.29h-3.33zM574.8,698.5h3.33v3.29h-3.33zM638.4,698.5h3.33v3.29h-3.33zM574.8,701.5h3.33v3.29h-3.33zM641.4,707.5h3.33v3.29h-3.33zM641.4,710.5h3.33v3.29h-3.33zM577.9,725.4h3.33v3.29h-3.33zM577.9,731.4h3.33v3.29h-3.33zM586.9,734.4h3.33v3.29h-3.33zM590.0,734.4h3.33v3.29h-3.33zM596.0,734.4h3.33v3.29h-3.33zM599.0,734.4h3.33v3.29h-3.33zM605.1,734.4h3.33v3.29h-3.33zM611.1,734.4h3.33v3.29h-3.33zM614.2,734.4h3.33v3.29h-3.33zM620.2,734.4h3.33v3.29h-3.33zM623.3,734.4h3.33v3.29h-3.33zM626.3,734.4h3.33v3.29h-3.33z"/>
<path fill="#9acce2" d="M590.0,635.8h3.33v3.29h-3.33zM605.1,635.8h3.33v3.29h-3.33zM608.1,635.8h3.33v3.29h-3.33zM620.2,635.8h3.33v3.29h-3.33zM626.3,635.8h3.33v3.29h-3.33zM638.4,635.8h3.33v3.29h-3.33zM641.4,635.8h3.33v3.29h-3.33zM641.4,638.8h3.33v3.29h-3.33zM644.4,653.7h3.33v3.29h-3.33zM574.8,659.7h3.33v3.29h-3.33zM644.4,659.7h3.33v3.29h-3.33zM574.8,665.7h3.33v3.29h-3.33zM644.4,668.7h3.33v3.29h-3.33zM574.8,671.6h3.33v3.29h-3.33zM644.4,671.6h3.33v3.29h-3.33zM644.4,680.6h3.33v3.29h-3.33zM644.4,686.6h3.33v3.29h-3.33zM574.8,689.6h3.33v3.29h-3.33zM574.8,692.6h3.33v3.29h-3.33zM638.4,701.5h3.33v3.29h-3.33zM574.8,704.5h3.33v3.29h-3.33zM574.8,707.5h3.33v3.29h-3.33zM644.4,716.4h3.33v3.29h-3.33zM644.4,719.4h3.33v3.29h-3.33zM574.8,722.4h3.33v3.29h-3.33zM644.4,722.4h3.33v3.29h-3.33zM577.9,728.4h3.33v3.29h-3.33zM644.4,728.4h3.33v3.29h-3.33zM644.4,731.4h3.33v3.29h-3.33zM580.9,734.4h3.33v3.29h-3.33zM635.4,734.4h3.33v3.29h-3.33zM644.4,734.4h3.33v3.29h-3.33z"/>
<path fill="#8bbfdb" d="M602.1,635.8h3.33v3.29h-3.33zM611.1,635.8h3.33v3.29h-3.33zM614.2,635.8h3.33v3.29h-3.33zM617.2,635.8h3.33v3.29h-3.33zM623.3,635.8h3.33v3.29h-3.33zM580.9,638.8h3.33v3.29h-3.33zM580.9,641.8h3.33v3.29h-3.33zM641.4,641.8h3.33v3.29h-3.33zM641.4,644.8h3.33v3.29h-3.33zM644.4,650.7h3.33v3.29h-3.33zM644.4,656.7h3.33v3.29h-3.33zM644.4,677.6h3.33v3.29h-3.33zM577.9,698.5h3.33v3.29h-3.33zM638.4,704.5h3.33v3.29h-3.33zM577.9,716.4h3.33v3.29h-3.33zM583.9,734.4h3.33v3.29h-3.33zM602.1,734.4h3.33v3.29h-3.33zM617.2,734.4h3.33v3.29h-3.33zM632.3,734.4h3.33v3.29h-3.33zM638.4,734.4h3.33v3.29h-3.33zM641.4,734.4h3.33v3.29h-3.33z"/>
<path fill="#83b9d8" d="M583.9,638.8h3.33v3.29h-3.33zM593.0,638.8h3.33v3.29h-3.33zM596.0,638.8h3.33v3.29h-3.33zM632.3,638.8h3.33v3.29h-3.33zM577.9,647.7h3.33v3.29h-3.33zM644.4,662.7h3.33v3.29h-3.33zM577.9,665.7h3.33v3.29h-3.33zM577.9,671.6h3.33v3.29h-3.33zM644.4,674.6h3.33v3.29h-3.33zM577.9,680.6h3.33v3.29h-3.33zM577.9,686.6h3.33v3.29h-3.33zM641.4,686.6h3.33v3.29h-3.33zM577.9,689.6h3.33v3.29h-3.33zM641.4,689.6h3.33v3.29h-3.33zM577.9,692.6h3.33v3.29h-3.33zM638.4,695.5h3.33v3.29h-3.33zM577.9,704.5h3.33v3.29h-3.33zM577.9,707.5h3.33v3.29h-3.33zM593.0,734.4h3.33v3.29h-3.33zM608.1,734.4h3.33v3.29h-3.33zM629.3,734.4h3.33v3.29h-3.33z"/>
<path fill="#74add1" d="M586.9,638.8h3.33v3.29h-3.33zM590.0,638.8h3.33v3.29h-3.33zM608.1,638.8h3.33v3.29h-3.33zM620.2,638.8h3.33v3.29h-3.33zM629.3,638.8h3.33v3.29h-3.33zM635.4,638.8h3.33v3.29h-3.33zM638.4,641.8h3.33v3.29h-3.33zM580.9,647.7h3.33v3.29h-3.33zM577.9,653.7h3.33v3.29h-3.33zM641.4,653.7h3.33v3.29h-3.33zM641.4,656.7h3.33v3.29h-3.33zM641.4,659.7h3.33v3.29h-3.33zM641.4,662.7h3.33v3.29h-3.33zM577.9,668.7h3.33v3.29h-3.33zM577.9,674.6h3.33v3.29h-3.33zM577.9,677.6h3.33v3.29h-3.33zM641.4,680.6h3.33v3.29h-3.33zM580.9,698.5h3.33v3.29h-3.33zM638.4,707.5h3.33v3.29h-3.33zM638.4,710.5h3.33v3.29h-3.33zM580.9,719.4h3.33v3.29h-3.33zM641.4,719.4h3.33v3.29h-3.33zM641.4,722.4h3.33v3.29h-3.33zM580.9,728.4h3.33v3.29h-3.33zM580.9,731.4h3.33v3.29h-3.33zM586.9,731.4h3.33v3.29h-3.33zM590.0,731.4h3.33v3.29h-3.33zM593.0,731.4h3.33v3.29h-3.33zM596.0,731.4h3.33v3.29h-3.33zM602.1,731.4h3.33v3.29h-3.33zM605.1,731.4h3.33v3.29h-3.33zM629.3,731.4h3.33v3.29h-3.33z"/>
<path fill="#7cb3d4" d="M599.0,638.8h3.33v3.29h-3.33zM605.1,638.8h3.33v3.29h-3.33zM626.3,638.8h3.33v3.29h-3.33zM638.4,638.8h3.33v3.29h-3.33zM641.4,647.7h3.33v3.29h-3.33zM577.9,650.7h3.33v3.29h-3.33zM641.4,650.7h3.33v3.29h-3.33zM577.9,656.7h3.33v3.29h-3.33zM577.9,659.7h3.33v3.29h-3.33zM577.9,662.7h3.33v3.29h-3.33zM641.4,665.7h3.33v3.29h-3.33zM641.4,668.7h3.33v3.29h-3.33zM641.4,671.6h3.33v3.29h-3.33zM577.9,683.6h3.33v3.29h-3.33zM641.4,683.6h3.33v3.29h-3.33zM638.4,692.6h3.33v3.29h-3.33zM577.9,695.5h3.33v3.29h-3.33zM577.9,701.5h3.33v3.29h-3.33zM635.4,701.5h3.33v3.29h-3.33zM577.9,710.5h3.33v3.29h-3.33zM577.9,713.5h3.33v3.29h-3.33zM641.4,713.5h3.33v3.29h-3.33zM641.4,716.4h3.33v3.29h-3.33zM577.9,719.4h3.33v3.29h-3.33zM577.9,722.4h3.33v3.29h-3.33zM641.4,725.4h3.33v3.29h-3.33zM641.4,728.4h3.33v3.29h-3.33zM583.9,731.4h3.33v3.29h-3.33zM599.0,731.4h3.33v3.29h-3.33zM620.2,731.4h3.33v3.29h-3.33zM626.3,731.4h3.33v3.29h-3.33zM635.4,731.4h3.33v3.29h-3.33zM641.4,731.4h3.33v3.29h-3.33z"/>
<path fill="#6fa7ce" d="M602.1,638.8h3.33v3.29h-3.33zM611.1,638.8h3.33v3.29h-3.33zM614.2,638.8h3.33v3.29h-3.33zM617.2,638.8h3.33v3.29h-3.33zM623.3,638.8h3.33v3.29h-3.33zM580.9,644.8h3.33v3.29h-3.33zM641.4,674.6h3.33v3.29h-3.33zM641.4,677.6h3.33v3.29h-3.33zM580.9,686.6h3.33v3.29h-3.33zM638.4,689.6h3.33v3.29h-3.33zM635.4,698.5h3.33v3.29h-3.33zM635.4,704.5h3.33v3.29h-3.33zM580.9,707.5h3.33v3.29h-3.33zM608.1,731.4h3.33v3.29h-3.33zM611.1,731.4h3.33v3.29h-3.33zM614.2,731.4h3.33v3.29h-3.33zM617.2,731.4h3.33v3.29h-3.33zM623.3,731.4h3.33v3.29h-3.33zM632.3,731.4h3.33v3.29h-3.33zM638.4,731.4h3.33v3.29h-3.33z"/>
<path fill="#6aa1cb" d="M583.9,641.8h3.33v3.29h-3.33zM593.0,641.8h3.33v3.29h-3.33zM580.9,656.7h3.33v3.29h-3.33zM580.9,674.6h3.33v3.29h-3.33zM580.9,677.6h3.33v3.29h-3.33zM580.9,683.6h3.33v3.29h-3.33zM638.4,686.6h3.33v3.29h-3.33zM635.4,692.6h3.33v3.29h-3.33zM580.9,695.5h3.33v3.29h-3.33zM635.4,695.5h3.33v3.29h-3.33zM580.9,701.5h3.33v3.29h-3.33zM580.9,704.5h3.33v3.29h-3.33zM635.4,707.5h3.33v3.29h-3.33zM580.9,710.5h3.33v3.29h-3.33zM580.9,725.4h3.33v3.29h-3.33zM590.0,728.4h3.33v3.29h-3.33zM614.2,728.4h3.33v3.29h-3.33zM623.3,728.4h3.33v3.29h-3.33z"/>
<path fill="#649ac7" d="M586.9,641.8h3.33v3.29h-3.33zM599.0,641.8h3.33v3.29h-3.33zM605.1,641.8h3.33v3.29h-3.33zM623.3,641.8h3.33v3.29h-3.33zM632.3,641.8h3.33v3.29h-3.33zM635.4,641.8h3.33v3.29h-3.33zM638.4,644.8h3.33v3.29h-3.33zM580.9,650.7h3.33v3.29h-3.33zM638.4,650.7h3.33v3.29h-3.33zM638.4,653.7h3.33v3.29h-3.33zM580.9,662.7h3.33v3.29h-3.33zM580.9,665.7h3.33v3.29h-3.33zM580.9,680.6h3.33v3.29h-3.33zM638.4,683.6h3.33v3.29h-3.33zM580.9,689.6h3.33v3.29h-3.33zM580.9,692.6h3.33v3.29h-3.33zM632.3,695.5h3.33v3.29h-3.33zM632.3,698.5h3.33v3.29h-3.33zM632.3,701.5h3.33v3.29h-3.33zM580.9,713.5h3.33v3.29h-3.33zM638.4,713.5h3.33v3.29h-3.33zM580.9,716.4h3.33v3.29h-3.33zM580.9,722.4h3.33v3.29h-3.33zM638.4,722.4h3.33v3.29h-3.33zM638.4,725.4h3.33v3.29h-3.33zM593.0,728.4h3.33v3.29h-3.33zM602.1,728.4h3.33v3.29h-3.33zM617.2,728.4h3.33v3.29h-3.33zM626.3,728.4h3.33v3.29h-3.33zM635.4,728.4h3.33v3.29h-3.33zM638.4,728.4h3.33v3.29h-3.33z"/>
<path fill="#5f94c4" d="M590.0,641.8h3.33v3.29h-3.33zM596.0,641.8h3.33v3.29h-3.33zM614.2,641.8h3.33v3.29h-3.33zM629.3,641.8h3.33v3.29h-3.33zM638.4,647.7h3.33v3.29h-3.33zM580.9,659.7h3.33v3.29h-3.33zM638.4,659.7h3.33v3.29h-3.33zM638.4,668.7h3.33v3.29h-3.33zM638.4,671.6h3.33v3.29h-3.33zM638.4,677.6h3.33v3.29h-3.33zM635.4,689.6h3.33v3.29h-3.33zM583.9,698.5h3.33v3.29h-3.33zM583.9,704.5h3.33v3.29h-3.33zM632.3,704.5h3.33v3.29h-3.33zM583.9,713.5h3.33v3.29h-3.33zM583.9,716.4h3.33v3.29h-3.33zM638.4,716.4h3.33v3.29h-3.33zM638.4,719.4h3.33v3.29h-3.33zM608.1,728.4h3.33v3.29h-3.33zM611.1,728.4h3.33v3.29h-3.33zM620.2,728.4h3.33v3.29h-3.33zM629.3,728.4h3.33v3.29h-3.33zM632.3,728.4h3.33v3.29h-3.33z"/>
<path fill="#5588be" d="M602.1,641.8h3.33v3.29h-3.33zM608.1,641.8h3.33v3.29h-3.33zM617.2,641.8h3.33v3.29h-3.33zM586.9,644.8h3.33v3.29h-3.33zM629.3,644.8h3.33v3.29h-3.33zM635.4,644.8h3.33v3.29h-3.33zM638.4,662.7h3.33v3.29h-3.33zM638.4,665.7h3.33v3.29h-3.33zM638.4,674.6h3.33v3.29h-3.33zM583.9,677.6h3.33v3.29h-3.33zM635.4,683.6h3.33v3.29h-3.33zM593.0,686.6h3.33v3.29h-3.33zM635.4,686.6h3.33v3.29h-3.33zM586.9,689.6h3.33v3.29h-3.33zM583.9,692.6h3.33v3.29h-3.33zM586.9,692.6h3.33v3.29h-3.33zM596.0,692.6h3.33v3.29h-3.33zM605.1,692.6h3.33v3.29h-3.33zM611.1,692.6h3.33v3.29h-3.33zM617.2,692.6h3.33v3.29h-3.33zM629.3,692.6h3.33v3.29h-3.33zM583.9,695.5h3.33v3.29h-3.33zM596.0,695.5h3.33v3.29h-3.33zM608.1,695.5h3.33v3.29h-3.33zM611.1,695.5h3.33v3.29h-3.33zM617.2,695.5h3.33v3.29h-3.33zM620.2,695.5h3.33v3.29h-3.33zM596.0,698.5h3.33v3.29h-3.33zM611.1,698.5h3.33v3.29h-3.33zM614.2,698.5h3.33v3.29h-3.33zM626.3,698.5h3.33v3.29h-3.33zM629.3,698.5h3.33v3.29h-3.33zM583.9,701.5h3.33v3.29h-3.33zM590.0,701.5h3.33v3.29h-3.33zM596.0,701.5h3.33v3.29h-3.33zM602.1,701.5h3.33v3.29h-3.33zM608.1,701.5h3.33v3.29h-3.33zM614.2,701.5h3.33v3.29h-3.33zM586.9,704.5h3.33v3.29h-3.33zM596.0,704.5h3.33v3.29h-3.33zM599.0,704.5h3.33v3.29h-3.33zM614.2,704.5h3.33v3.29h-3.33zM620.2,704.5h3.33v3.29h-3.33zM586.9,707.5h3.33v3.29h-3.33zM596.0,707.5h3.33v3.29h-3.33zM623.3,707.5h3.33v3.29h-3.33zM626.3,707.5h3.33v3.29h-3.33zM629.3,707.5h3.33v3.29h-3.33zM632.3,707.5h3.33v3.29h-3.33zM583.9,710.5h3.33v3.29h-3.33zM586.9,710.5h3.33v3.29h-3.33zM602.1,710.5h3.33v3.29h-3.33zM605.1,710.5h3.33v3.29h-3.33zM614.2,710.5h3.33v3.29h-3.33zM617.2,710.5h3.33v3.29h-3.33zM620.2,710.5h3.33v3.29h-3.33zM623.3,710.5h3.33v3.29h-3.33zM593.0,713.5h3.33v3.29h-3.33zM596.0,713.5h3.33v3.29h-3.33zM605.1,713.5h3.33v3.29h-3.33zM614.2,713.5h3.33v3.29h-3.33zM635.4,713.5h3.33v3.29h-3.33zM590.0,716.4h3.33v3.29h-3.33zM605.1,716.4h3.33v3.29h-3.33zM608.1,716.4h3.33v3.29h-3.33zM611.1,716.4h3.33v3.29h-3.33zM620.2,716.4h3.33v3.29h-3.33zM632.3,716.4h3.33v3.29h-3.33zM593.0,719.4h3.33v3.29h-3.33zM596.0,719.4h3.33v3.29h-3.33zM605.1,719.4h3.33v3.29h-3.33zM611.1,719.4h3.33v3.29h-3.33zM614.2,719.4h3.33v3.29h-3.33zM617.2,719.4h3.33v3.29h-3.33zM626.3,719.4h3.33v3.29h-3.33zM590.0,722.4h3.33v3.29h-3.33zM605.1,722.4h3.33v3.29h-3.33zM608.1,722.4h3.33v3.29h-3.33zM611.1,722.4h3.33v3.29h-3.33zM620.2,722.4h3.33v3.29h-3.33zM626.3,722.4h3.33v3.29h-3.33zM632.3,722.4h3.33v3.29h-3.33zM583.9,725.4h3.33v3.29h-3.33zM599.0,725.4h3.33v3.29h-3.33zM614.2,725.4h3.33v3.29h-3.33zM617.2,725.4h3.33v3.29h-3.33z"/>
<path fill="#5a8ec1" d="M611.1,641.8h3.33v3.29h-3.33zM620.2,641.8h3.33v3.29h-3.33zM626.3,641.8h3.33v3.29h-3.33zM583.9,644.8h3.33v3.29h-3.33zM583.9,647.7h3.33v3.29h-3.33zM580.9,653.7h3.33v3.29h-3.33zM638.4,656.7h3.33v3.29h-3.33zM580.9,668.7h3.33v3.29h-3.33zM580.9,671.6h3.33v3.29h-3.33zM638.4,680.6h3.33v3.29h-3.33zM583.9,689.6h3.33v3.29h-3.33zM590.0,692.6h3.33v3.29h-3.33zM586.9,695.5h3.33v3.29h-3.33zM599.0,695.5h3.33v3.29h-3.33zM629.3,695.5h3.33v3.29h-3.33zM623.3,698.5h3.33v3.29h-3.33zM617.2,701.5h3.33v3.29h-3.33zM626.3,701.5h3.33v3.29h-3.33zM590.0,704.5h3.33v3.29h-3.33zM593.0,704.5h3.33v3.29h-3.33zM602.1,704.5h3.33v3.29h-3.33zM629.3,704.5h3.33v3.29h-3.33zM590.0,707.5h3.33v3.29h-3.33zM593.0,707.5h3.33v3.29h-3.33zM608.1,707.5h3.33v3.29h-3.33zM620.2,707.5h3.33v3.29h-3.33zM593.0,710.5h3.33v3.29h-3.33zM626.3,710.5h3.33v3.29h-3.33zM629.3,710.5h3.33v3.29h-3.33zM635.4,710.5h3.33v3.29h-3.33zM586.9,713.5h3.33v3.29h-3.33zM602.1,713.5h3.33v3.29h-3.33zM608.1,713.5h3.33v3.29h-3.33zM617.2,713.5h3.33v3.29h-3.33zM626.3,713.5h3.33v3.29h-3.33zM632.3,713.5h3.33v3.29h-3.33zM586.9,716.4h3.33v3.29h-3.33zM596.0,716.4h3.33v3.29h-3.33zM599.0,716.4h3.33v3.29h-3.33zM602.1,716.4h3.33v3.29h-3.33zM617.2,716.4h3.33v3.29h-3.33zM629.3,716.4h3.33v3.29h-3.33zM586.9,719.4h3.33v3.29h-3.33zM602.1,719.4h3.33v3.29h-3.33zM632.3,719.4h3.33v3.29h-3.33zM583.9,722.4h3.33v3.29h-3.33zM596.0,722.4h3.33v3.29h-3.33zM614.2,722.4h3.33v3.29h-3.33zM617.2,722.4h3.33v3.29h-3.33zM623.3,722.4h3.33v3.29h-3.33zM629.3,722.4h3.33v3.29h-3.33zM596.0,725.4h3.33v3.29h-3.33zM602.1,725.4h3.33v3.29h-3.33zM605.1,725.4h3.33v3.29h-3.33zM611.1,725.4h3.33v3.29h-3.33zM583.9,728.4h3.33v3.29h-3.33zM586.9,728.4h3.33v3.29h-3.33zM596.0,728.4h3.33v3.29h-3.33zM599.0,728.4h3.33v3.29h-3.33zM605.1,728.4h3.33v3.29h-3.33z"/>
<path fill="#4575b4" d="M590.0,644.8h3.33v3.29h-3.33zM596.0,644.8h3.33v3.29h-3.33zM623.3,644.8h3.33v3.29h-3.33zM626.3,644.8h3.33v3.29h-3.33zM593.0,647.7h3.33v3.29h-3.33zM596.0,647.7h3.33v3.29h-3.33zM620.2,647.7h3.33v3.29h-3.33zM626.3,647.7h3.33v3.29h-3.33zM632.3,647.7h3.33v3.29h-3.33zM593.0,650.7h3.33v3.29h-3.33zM626.3,650.7h3.33v3.29h-3.33zM629.3,650.7h3.33v3.29h-3.33zM635.4,653.7h3.33v3.29h-3.33zM590.0,656.7h3.33v3.29h-3.33zM632.3,656.7h3.33v3.29h-3.33zM583.9,662.7h3.33v3.29h-3.33zM632.3,662.7h3.33v3.29h-3.33zM635.4,665.7h3.33v3.29h-3.33zM583.9,668.7h3.33v3.29h-3.33zM590.0,671.6h3.33v3.29h-3.33zM629.3,671.6h3.33v3.29h-3.33zM635.4,671.6h3.33v3.29h-3.33zM593.0,674.6h3.33v3.29h-3.33zM586.9,677.6h3.33v3.29h-3.33zM596.0,677.6h3.33v3.29h-3.33zM623.3,677.6h3.33v3.29h-3.33zM635.4,677.6h3.33v3.29h-3.33zM593.0,680.6h3.33v3.29h-3.33zM626.3,680.6h3.33v3.29h-3.33zM632.3,680.6h3.33v3.29h-3.33zM590.0,683.6h3.33v3.29h-3.33zM602.1,683.6h3.33v3.29h-3.33zM611.1,683.6h3.33v3.29h-3.33zM632.3,683.6h3.33v3.29h-3.33zM596.0,686.6h3.33v3.29h-3.33zM599.0,686.6h3.33v3.29h-3.33zM602.1,686.6h3.33v3.29h-3.33zM608.1,686.6h3.33v3.29h-3.33zM611.1,686.6h3.33v3.29h-3.33zM614.2,686.6h3.33v3.29h-3.33zM623.3,686.6h3.33v3.29h-3.33zM626.3,686.6h3.33v3.29h-3.33zM602.1,689.6h3.33v3.29h-3.33z"/>
<path fill="#4a7bb7" d="M593.0,644.8h3.33v3.29h-3.33zM602.1,644.8h3.33v3.29h-3.33zM605.1,644.8h3.33v3.29h-3.33zM608.1,644.8h3.33v3.29h-3.33zM614.2,644.8h3.33v3.29h-3.33zM632.3,644.8h3.33v3.29h-3.33zM629.3,647.7h3.33v3.29h-3.33zM583.9,650.7h3.33v3.29h-3.33zM590.0,650.7h3.33v3.29h-3.33zM586.9,653.7h3.33v3.29h-3.33zM583.9,656.7h3.33v3.29h-3.33zM586.9,656.7h3.33v3.29h-3.33zM635.4,659.7h3.33v3.29h-3.33zM583.9,665.7h3.33v3.29h-3.33zM586.9,665.7h3.33v3.29h-3.33zM586.9,668.7h3.33v3.29h-3.33zM586.9,671.6h3.33v3.29h-3.33zM586.9,674.6h3.33v3.29h-3.33zM632.3,674.6h3.33v3.29h-3.33zM590.0,677.6h3.33v3.29h-3.33zM629.3,677.6h3.33v3.29h-3.33zM632.3,677.6h3.33v3.29h-3.33zM583.9,680.6h3.33v3.29h-3.33zM586.9,680.6h3.33v3.29h-3.33zM629.3,680.6h3.33v3.29h-3.33zM635.4,680.6h3.33v3.29h-3.33zM583.9,683.6h3.33v3.29h-3.33zM586.9,683.6h3.33v3.29h-3.33zM629.3,683.6h3.33v3.29h-3.33zM583.9,686.6h3.33v3.29h-3.33zM586.9,686.6h3.33v3.29h-3.33zM590.0,686.6h3.33v3.29h-3.33zM605.1,686.6h3.33v3.29h-3.33zM596.0,689.6h3.33v3.29h-3.33zM608.1,689.6h3.33v3.29h-3.33zM614.2,689.6h3.33v3.29h-3.33zM620.2,689.6h3.33v3.29h-3.33zM623.3,689.6h3.33v3.29h-3.33zM626.3,689.6h3.33v3.29h-3.33zM602.1,692.6h3.33v3.29h-3.33zM608.1,692.6h3.33v3.29h-3.33zM620.2,692.6h3.33v3.29h-3.33zM626.3,692.6h3.33v3.29h-3.33zM605.1,695.5h3.33v3.29h-3.33zM614.2,695.5h3.33v3.29h-3.33zM626.3,695.5h3.33v3.29h-3.33zM605.1,698.5h3.33v3.29h-3.33zM620.2,698.5h3.33v3.29h-3.33zM599.0,701.5h3.33v3.29h-3.33zM605.1,701.5h3.33v3.29h-3.33zM620.2,701.5h3.33v3.29h-3.33zM626.3,704.5h3.33v3.29h-3.33zM611.1,707.5h3.33v3.29h-3.33zM617.2,707.5h3.33v3.29h-3.33zM620.2,713.5h3.33v3.29h-3.33z"/>
<path fill="#4f81ba" d="M599.0,644.8h3.33v3.29h-3.33zM635.4,647.7h3.33v3.29h-3.33zM632.3,650.7h3.33v3.29h-3.33zM635.4,650.7h3.33v3.29h-3.33zM583.9,653.7h3.33v3.29h-3.33zM635.4,656.7h3.33v3.29h-3.33zM583.9,659.7h3.33v3.29h-3.33zM583.9,671.6h3.33v3.29h-3.33zM583.9,674.6h3.33v3.29h-3.33zM635.4,674.6h3.33v3.29h-3.33zM593.0,683.6h3.33v3.29h-3.33zM626.3,683.6h3.33v3.29h-3.33zM629.3,686.6h3.33v3.29h-3.33zM632.3,686.6h3.33v3.29h-3.33zM590.0,689.6h3.33v3.29h-3.33zM593.0,689.6h3.33v3.29h-3.33zM599.0,689.6h3.33v3.29h-3.33zM611.1,689.6h3.33v3.29h-3.33zM617.2,689.6h3.33v3.29h-3.33zM629.3,689.6h3.33v3.29h-3.33zM632.3,689.6h3.33v3.29h-3.33zM593.0,692.6h3.33v3.29h-3.33zM599.0,692.6h3.33v3.29h-3.33zM614.2,692.6h3.33v3.29h-3.33zM623.3,692.6h3.33v3.29h-3.33zM632.3,692.6h3.33v3.29h-3.33zM590.0,695.5h3.33v3.29h-3.33zM593.0,695.5h3.33v3.29h-3.33zM602.1,695.5h3.33v3.29h-3.33zM623.3,695.5h3.33v3.29h-3.33zM586.9,698.5h3.33v3.29h-3.33zM590.0,698.5h3.33v3.29h-3.33zM593.0,698.5h3.33v3.29h-3.33zM599.0,698.5h3.33v3.29h-3.33zM602.1,698.5h3.33v3.29h-3.33zM608.1,698.5h3.33v3.29h-3.33zM617.2,698.5h3.33v3.29h-3.33zM586.9,701.5h3.33v3.29h-3.33zM593.0,701.5h3.33v3.29h-3.33zM611.1,701.5h3.33v3.29h-3.33zM623.3,701.5h3.33v3.29h-3.33zM629.3,701.5h3.33v3.29h-3.33zM605.1,704.5h3.33v3.29h-3.33zM608.1,704.5h3.33v3.29h-3.33zM611.1,704.5h3.33v3.29h-3.33zM617.2,704.5h3.33v3.29h-3.33zM623.3,704.5h3.33v3.29h-3.33zM583.9,707.5h3.33v3.29h-3.33zM599.0,707.5h3.33v3.29h-3.33zM602.1,707.5h3.33v3.29h-3.33zM605.1,707.5h3.33v3.29h-3.33zM614.2,707.5h3.33v3.29h-3.33zM590.0,710.5h3.33v3.29h-3.33zM596.0,710.5h3.33v3.29h-3.33zM599.0,710.5h3.33v3.29h-3.33zM608.1,710.5h3.33v3.29h-3.33zM611.1,710.5h3.33v3.29h-3.33zM632.3,710.5h3.33v3.29h-3.33zM590.0,713.5h3.33v3.29h-3.33zM599.0,713.5h3.33v3.29h-3.33zM611.1,713.5h3.33v3.29h-3.33zM623.3,713.5h3.33v3.29h-3.33zM629.3,713.5h3.33v3.29h-3.33zM593.0,716.4h3.33v3.29h-3.33zM614.2,716.4h3.33v3.29h-3.33zM623.3,716.4h3.33v3.29h-3.33zM626.3,716.4h3.33v3.29h-3.33zM635.4,716.4h3.33v3.29h-3.33zM583.9,719.4h3.33v3.29h-3.33zM590.0,719.4h3.33v3.29h-3.33zM599.0,719.4h3.33v3.29h-3.33zM608.1,719.4h3.33v3.29h-3.33zM620.2,719.4h3.33v3.29h-3.33zM623.3,719.4h3.33v3.29h-3.33zM629.3,719.4h3.33v3.29h-3.33zM635.4,719.4h3.33v3.29h-3.33zM586.9,722.4h3.33v3.29h-3.33zM593.0,722.4h3.33v3.29h-3.33zM599.0,722.4h3.33v3.29h-3.33zM602.1,722.4h3.33v3.29h-3.33zM635.4,722.4h3.33v3.29h-3.33zM586.9,725.4h3.33v3.29h-3.33zM590.0,725.4h3.33v3.29h-3.33zM593.0,725.4h3.33v3.29h-3.33zM608.1,725.4h3.33v3.29h-3.33zM620.2,725.4h3.33v3.29h-3.33zM623.3,725.4h3.33v3.29h-3.33zM626.3,725.4h3.33v3.29h-3.33zM629.3,725.4h3.33v3.29h-3.33zM632.3,725.4h3.33v3.29h-3.33zM635.4,725.4h3.33v3.29h-3.33z"/>
<path fill="#4270af" d="M611.1,644.8h3.33v3.29h-3.33zM617.2,644.8h3.33v3.29h-3.33zM620.2,644.8h3.33v3.29h-3.33zM586.9,647.7h3.33v3.29h-3.33zM590.0,647.7h3.33v3.29h-3.33zM586.9,650.7h3.33v3.29h-3.33zM590.0,653.7h3.33v3.29h-3.33zM632.3,653.7h3.33v3.29h-3.33zM586.9,659.7h3.33v3.29h-3.33zM590.0,659.7h3.33v3.29h-3.33zM629.3,659.7h3.33v3.29h-3.33zM632.3,659.7h3.33v3.29h-3.33zM635.4,662.7h3.33v3.29h-3.33zM590.0,668.7h3.33v3.29h-3.33zM593.0,668.7h3.33v3.29h-3.33zM635.4,668.7h3.33v3.29h-3.33zM593.0,671.6h3.33v3.29h-3.33zM632.3,671.6h3.33v3.29h-3.33zM590.0,674.6h3.33v3.29h-3.33zM620.2,674.6h3.33v3.29h-3.33zM629.3,674.6h3.33v3.29h-3.33zM593.0,677.6h3.33v3.29h-3.33zM617.2,677.6h3.33v3.29h-3.33zM620.2,677.6h3.33v3.29h-3.33zM626.3,677.6h3.33v3.29h-3.33zM590.0,680.6h3.33v3.29h-3.33zM599.0,680.6h3.33v3.29h-3.33zM611.1,680.6h3.33v3.29h-3.33zM620.2,680.6h3.33v3.29h-3.33zM596.0,683.6h3.33v3.29h-3.33zM599.0,683.6h3.33v3.29h-3.33zM605.1,683.6h3.33v3.29h-3.33zM617.2,683.6h3.33v3.29h-3.33zM620.2,683.6h3.33v3.29h-3.33zM623.3,683.6h3.33v3.29h-3.33zM617.2,686.6h3.33v3.29h-3.33zM620.2,686.6h3.33v3.29h-3.33zM605.1,689.6h3.33v3.29h-3.33z"/>
<path fill="#406caa" d="M599.0,647.7h3.33v3.29h-3.33zM611.1,647.7h3.33v3.29h-3.33zM617.2,647.7h3.33v3.29h-3.33zM623.3,647.7h3.33v3.29h-3.33zM596.0,650.7h3.33v3.29h-3.33zM599.0,650.7h3.33v3.29h-3.33zM617.2,650.7h3.33v3.29h-3.33zM623.3,650.7h3.33v3.29h-3.33zM620.2,653.7h3.33v3.29h-3.33zM623.3,653.7h3.33v3.29h-3.33zM629.3,653.7h3.33v3.29h-3.33zM593.0,656.7h3.33v3.29h-3.33zM596.0,656.7h3.33v3.29h-3.33zM629.3,656.7h3.33v3.29h-3.33zM626.3,659.7h3.33v3.29h-3.33zM586.9,662.7h3.33v3.29h-3.33zM590.0,662.7h3.33v3.29h-3.33zM626.3,662.7h3.33v3.29h-3.33zM590.0,665.7h3.33v3.29h-3.33zM629.3,665.7h3.33v3.29h-3.33zM632.3,665.7h3.33v3.29h-3.33zM623.3,668.7h3.33v3.29h-3.33zM632.3,668.7h3.33v3.29h-3.33zM599.0,671.6h3.33v3.29h-3.33zM623.3,671.6h3.33v3.29h-3.33zM626.3,671.6h3.33v3.29h-3.33zM596.0,674.6h3.33v3.29h-3.33zM623.3,674.6h3.33v3.29h-3.33zM626.3,674.6h3.33v3.29h-3.33zM599.0,677.6h3.33v3.29h-3.33zM596.0,680.6h3.33v3.29h-3.33zM602.1,680.6h3.33v3.29h-3.33zM623.3,680.6h3.33v3.29h-3.33zM608.1,683.6h3.33v3.29h-3.33zM614.2,683.6h3.33v3.29h-3.33z"/>
<path fill="#3d67a5" d="M602.1,647.7h3.33v3.29h-3.33zM605.1,647.7h3.33v3.29h-3.33zM608.1,647.7h3.33v3.29h-3.33zM614.2,647.7h3.33v3.29h-3.33zM602.1,650.7h3.33v3.29h-3.33zM605.1,650.7h3.33v3.29h-3.33zM620.2,650.7h3.33v3.29h-3.33zM593.0,653.7h3.33v3.29h-3.33zM596.0,653.7h3.33v3.29h-3.33zM599.0,653.7h3.33v3.29h-3.33zM605.1,653.7h3.33v3.29h-3.33zM626.3,653.7h3.33v3.29h-3.33zM599.0,656.7h3.33v3.29h-3.33zM626.3,656.7h3.33v3.29h-3.33zM593.0,659.7h3.33v3.29h-3.33zM596.0,659.7h3.33v3.29h-3.33zM602.1,659.7h3.33v3.29h-3.33zM623.3,659.7h3.33v3.29h-3.33zM593.0,662.7h3.33v3.29h-3.33zM623.3,662.7h3.33v3.29h-3.33zM629.3,662.7h3.33v3.29h-3.33zM596.0,665.7h3.33v3.29h-3.33zM623.3,665.7h3.33v3.29h-3.33zM626.3,665.7h3.33v3.29h-3.33zM626.3,668.7h3.33v3.29h-3.33zM629.3,668.7h3.33v3.29h-3.33zM596.0,671.6h3.33v3.29h-3.33zM602.1,671.6h3.33v3.29h-3.33zM608.1,671.6h3.33v3.29h-3.33zM617.2,671.6h3.33v3.29h-3.33zM599.0,674.6h3.33v3.29h-3.33zM602.1,677.6h3.33v3.29h-3.33zM605.1,680.6h3.33v3.29h-3.33zM608.1,680.6h3.33v3.29h-3.33zM614.2,680.6h3.33v3.29h-3.33zM617.2,680.6h3.33v3.29h-3.33z"/>
<path fill="#3a62a0" d="M608.1,650.7h3.33v3.29h-3.33zM614.2,650.7h3.33v3.29h-3.33zM602.1,653.7h3.33v3.29h-3.33zM611.1,653.7h3.33v3.29h-3.33zM614.2,653.7h3.33v3.29h-3.33zM617.2,653.7h3.33v3.29h-3.33zM602.1,656.7h3.33v3.29h-3.33zM617.2,656.7h3.33v3.29h-3.33zM623.3,656.7h3.33v3.29h-3.33zM599.0,659.7h3.33v3.29h-3.33zM611.1,659.7h3.33v3.29h-3.33zM617.2,659.7h3.33v3.29h-3.33zM620.2,659.7h3.33v3.29h-3.33zM596.0,662.7h3.33v3.29h-3.33zM602.1,662.7h3.33v3.29h-3.33zM617.2,662.7h3.33v3.29h-3.33zM620.2,662.7h3.33v3.29h-3.33zM593.0,665.7h3.33v3.29h-3.33zM599.0,665.7h3.33v3.29h-3.33zM602.1,665.7h3.33v3.29h-3.33zM605.1,665.7h3.33v3.29h-3.33zM617.2,665.7h3.33v3.29h-3.33zM596.0,668.7h3.33v3.29h-3.33zM599.0,668.7h3.33v3.29h-3.33zM605.1,668.7h3.33v3.29h-3.33zM611.1,671.6h3.33v3.29h-3.33zM614.2,671.6h3.33v3.29h-3.33zM620.2,671.6h3.33v3.29h-3.33zM605.1,674.6h3.33v3.29h-3.33zM608.1,674.6h3.33v3.29h-3.33zM614.2,674.6h3.33v3.29h-3.33zM605.1,677.6h3.33v3.29h-3.33zM608.1,677.6h3.33v3.29h-3.33zM611.1,677.6h3.33v3.29h-3.33zM614.2,677.6h3.33v3.29h-3.33z"/>
<path fill="#385e9b" d="M611.1,650.7h3.33v3.29h-3.33zM608.1,653.7h3.33v3.29h-3.33zM605.1,656.7h3.33v3.29h-3.33zM608.1,656.7h3.33v3.29h-3.33zM620.2,656.7h3.33v3.29h-3.33zM605.1,659.7h3.33v3.29h-3.33zM614.2,659.7h3.33v3.29h-3.33zM599.0,662.7h3.33v3.29h-3.33zM614.2,665.7h3.33v3.29h-3.33zM620.2,665.7h3.33v3.29h-3.33zM602.1,668.7h3.33v3.29h-3.33zM608.1,668.7h3.33v3.29h-3.33zM614.2,668.7h3.33v3.29h-3.33zM617.2,668.7h3.33v3.29h-3.33zM620.2,668.7h3.33v3.29h-3.33zM605.1,671.6h3.33v3.29h-3.33zM602.1,674.6h3.33v3.29h-3.33zM611.1,674.6h3.33v3.29h-3.33zM617.2,674.6h3.33v3.29h-3.33z"/>
<path fill="#355996" d="M611.1,656.7h3.33v3.29h-3.33zM614.2,656.7h3.33v3.29h-3.33zM608.1,659.7h3.33v3.29h-3.33zM605.1,662.7h3.33v3.29h-3.33zM608.1,662.7h3.33v3.29h-3.33zM611.1,662.7h3.33v3.29h-3.33zM614.2,662.7h3.33v3.29h-3.33zM608.1,665.7h3.33v3.29h-3.33z"/>
<path fill="#325491" d="M611.1,665.7h3.33v3.29h-3.33zM611.1,668.7h3.33v3.29h-3.33z"/>
<path fill="#a9d8e8" d="M574.8,680.6h3.33v3.29h-3.33zM574.8,713.5h3.33v3.29h-3.33zM574.8,719.4h3.33v3.29h-3.33zM547.6,788.1h3.33v3.29h-3.33zM550.6,791.1h3.33v3.29h-3.33zM553.6,791.1h3.33v3.29h-3.33zM538.5,794.1h3.33v3.29h-3.33zM547.6,794.1h3.33v3.29h-3.33zM550.6,794.1h3.33v3.29h-3.33zM553.6,794.1h3.33v3.29h-3.33z"/>
<path fill="#bfe3ef" d="M608.1,743.3h3.33v3.29h-3.33zM541.5,785.2h3.33v3.29h-3.33zM559.7,788.1h3.33v3.29h-3.33zM559.7,791.1h3.33v3.29h-3.33zM556.7,794.1h3.33v3.29h-3.33zM568.8,794.1h3.33v3.29h-3.33z"/>
<path fill="#ba1426" d="M680.8,761.3h3.33v3.29h-3.33zM677.7,764.2h3.33v3.29h-3.33zM680.8,764.2h3.33v3.29h-3.33zM680.8,767.2h3.33v3.29h-3.33zM680.8,770.2h3.33v3.29h-3.33zM677.7,773.2h3.33v3.29h-3.33zM680.8,773.2h3.33v3.29h-3.33z"/>
<path fill="#b4ddec" d="M541.5,782.2h3.33v3.29h-3.33zM538.5,788.1h3.33v3.29h-3.33zM541.5,788.1h3.33v3.29h-3.33zM556.7,788.1h3.33v3.29h-3.33zM538.5,791.1h3.33v3.29h-3.33zM541.5,791.1h3.33v3.29h-3.33zM544.6,791.1h3.33v3.29h-3.33z"/>
<rect x="570.0" y="631.0" width="77.6" height="111.7" fill="none" stroke="#00b0f0" stroke-width="4.8" stroke-dasharray="21.2 16.6" stroke-dashoffset="20"/>
<line x1="630.2" y1="785.2" x2="670.5" y2="785.2" stroke="#000" stroke-width="6" />
<rect x="536.5" y="586.0" width="149.3" height="213.1" fill="none" stroke="#000" stroke-width="4"/>
<circle cx="593.4" cy="612.4" r="8.8" fill="#595959"/>
<text x="606.4" y="620.7" font-size="31" font-weight="bold" fill="#595959" textLength="42.5" lengthAdjust="spacingAndGlyphs">NV</text>
<text x="648.9" y="628.2" font-size="20" font-weight="bold" fill="#595959" textLength="22.4" lengthAdjust="spacingAndGlyphs">o1</text>
<circle cx="551.8" cy="694.5" r="9" fill="#1b6ee0"/>
<text x="461.6" y="714.8" font-size="31" font-weight="bold" fill="#1b6ee0" textLength="43.0" lengthAdjust="spacingAndGlyphs">NV</text>
<text x="503.5" y="722.2" font-size="20" font-weight="bold" fill="#1b6ee0" textLength="24.7" lengthAdjust="spacingAndGlyphs">o3</text>
<circle cx="608.1" cy="760.5" r="9" fill="#ee3c3c"/>
<text x="544.0" y="788.0" font-size="31" font-weight="bold" fill="#ee3c3c" textLength="42.5" lengthAdjust="spacingAndGlyphs">NV</text>
<text x="586.5" y="795.5" font-size="20" font-weight="bold" fill="#ee3c3c" textLength="23.2" lengthAdjust="spacingAndGlyphs">o2</text>
<rect x="701.5" y="587.00" width="18" height="3.92" fill="#aa0526"/>
<rect x="701.5" y="590.52" width="18" height="3.92" fill="#b50f26"/>
<rect x="701.5" y="594.03" width="18" height="3.92" fill="#bf1927"/>
<rect x="701.5" y="597.55" width="18" height="3.92" fill="#c92327"/>
<rect x="701.5" y="601.07" width="18" height="3.92" fill="#d42d27"/>
<rect x="701.5" y="604.58" width="18" height="3.92" fill="#da372a"/>
<rect x="701.5" y="608.10" width="18" height="3.92" fill="#df412f"/>
<rect x="701.5" y="611.62" width="18" height="3.92" fill="#e44b34"/>
<rect x="701.5" y="615.13" width="18" height="3.92" fill="#e95638"/>
<rect x="701.5" y="618.65" width="18" height="3.92" fill="#ee603d"/>
<rect x="701.5" y="622.17" width="18" height="3.92" fill="#f36a42"/>
<rect x="701.5" y="625.68" width="18" height="3.92" fill="#f57346"/>
<rect x="701.5" y="629.20" width="18" height="3.92" fill="#f67c4a"/>
<rect x="701.5" y="632.72" width="18" height="3.92" fill="#f7854e"/>
<rect x="701.5" y="636.23" width="18" height="3.92" fill="#f98e52"/>
<rect x="701.5" y="639.75" width="18" height="3.92" fill="#fa9757"/>
<rect x="701.5" y="643.27" width="18" height="3.92" fill="#fba05b"/>
<rect x="701.5" y="646.78" width="18" height="3.92" fill="#fca95f"/>
<rect x="701.5" y="650.30" width="18" height="3.92" fill="#fdb164"/>
<rect x="701.5" y="653.82" width="18" height="3.92" fill="#fdb86b"/>
<rect x="701.5" y="657.33" width="18" height="3.92" fill="#fdbf71"/>
<rect x="701.5" y="660.85" width="18" height="3.92" fill="#fdc678"/>
<rect x="701.5" y="664.37" width="18" height="3.92" fill="#fecd7e"/>
<rect x="701.5" y="667.88" width="18" height="3.92" fill="#fed485"/>
<rect x="701.5" y="671.40" width="18" height="3.92" fill="#fedb8b"/>
<rect x="701.5" y="674.92" width="18" height="3.92" fill="#fce196"/>
<rect x="701.5" y="678.43" width="18" height="3.92" fill="#f6e5ac"/>
<rect x="701.5" y="681.95" width="18" height="3.92" fill="#f0e9c2"/>
<rect x="701.5" y="685.47" width="18" height="3.92" fill="#e9edd7"/>
<rect x="701.5" y="688.98" width="18" height="3.92" fill="#e3f1ed"/>
<rect x="701.5" y="692.50" width="18" height="3.92" fill="#daf0f6"/>
<rect x="701.5" y="696.02" width="18" height="3.92" fill="#cfebf3"/>
<rect x="701.5" y="699.53" width="18" height="3.92" fill="#c4e5f0"/>
<rect x="701.5" y="703.05" width="18" height="3.92" fill="#b9e0ed"/>
<rect x="701.5" y="706.57" width="18" height="3.92" fill="#aedbea"/>
<rect x="701.5" y="710.08" width="18" height="3.92" fill="#a6d5e7"/>
<rect x="701.5" y="713.60" width="18" height="3.92" fill="#9ecfe3"/>
<rect x="701.5" y="717.12" width="18" height="3.92" fill="#96c8e0"/>
<rect x="701.5" y="720.63" width="18" height="3.92" fill="#8fc2dd"/>
<rect x="701.5" y="724.15" width="18" height="3.92" fill="#87bcd9"/>
<rect x="701.5" y="727.67" width="18" height="3.92" fill="#7fb6d6"/>
<rect x="701.5" y="731.18" width="18" height="3.92" fill="#78b0d3"/>
<rect x="701.5" y="734.70" width="18" height="3.92" fill="#71aacf"/>
<rect x="701.5" y="738.22" width="18" height="3.92" fill="#6ca4cc"/>
<rect x="701.5" y="741.73" width="18" height="3.92" fill="#679dc9"/>
<rect x="701.5" y="745.25" width="18" height="3.92" fill="#6297c6"/>
<rect x="701.5" y="748.77" width="18" height="3.92" fill="#5c91c2"/>
<rect x="701.5" y="752.28" width="18" height="3.92" fill="#578bbf"/>
<rect x="701.5" y="755.80" width="18" height="3.92" fill="#5285bc"/>
<rect x="701.5" y="759.32" width="18" height="3.92" fill="#4d7eb9"/>
<rect x="701.5" y="762.83" width="18" height="3.92" fill="#4878b6"/>
<rect x="701.5" y="766.35" width="18" height="3.92" fill="#4473b2"/>
<rect x="701.5" y="769.87" width="18" height="3.92" fill="#416eac"/>
<rect x="701.5" y="773.38" width="18" height="3.92" fill="#3e69a8"/>
<rect x="701.5" y="776.90" width="18" height="3.92" fill="#3c65a2"/>
<rect x="701.5" y="780.42" width="18" height="3.92" fill="#39609e"/>
<rect x="701.5" y="783.93" width="18" height="3.92" fill="#365b98"/>
<rect x="701.5" y="787.45" width="18" height="3.92" fill="#345794"/>
<rect x="701.5" y="790.97" width="18" height="3.92" fill="#31528e"/>
<rect x="701.5" y="794.48" width="18" height="3.92" fill="#2e4d8a"/>
<rect x="700.5" y="586.0" width="20.0" height="213.0" fill="none" stroke="#000" stroke-width="2.6"/>
<line x1="700.5" y1="656.2" x2="705.0" y2="656.2" stroke="#000" stroke-width="2.5" />
<line x1="720.5" y1="656.2" x2="716.0" y2="656.2" stroke="#000" stroke-width="2.5" />
<line x1="700.5" y1="728.1" x2="705.0" y2="728.1" stroke="#000" stroke-width="2.5" />
<line x1="720.5" y1="728.1" x2="716.0" y2="728.1" stroke="#000" stroke-width="2.5" />
<text x="729.7" y="593.6" font-size="19.5" font-weight="bold" textLength="44.0" lengthAdjust="spacingAndGlyphs">5800</text>
<text x="729.7" y="664.6" font-size="19.5" font-weight="bold" textLength="44.0" lengthAdjust="spacingAndGlyphs">4220</text>
<text x="729.7" y="735.3" font-size="19.5" font-weight="bold" textLength="44.0" lengthAdjust="spacingAndGlyphs">2640</text>
<text x="729.7" y="806.3" font-size="19.5" font-weight="bold" textLength="44.0" lengthAdjust="spacingAndGlyphs">1060</text>
<text x="645.7" y="572.3" font-size="17.5" font-weight="bold" textLength="86.6" lengthAdjust="spacingAndGlyphs">FL (kcps)</text>
<line x1="150.8" y1="943.0" x2="150.8" y2="936.2" stroke="#000" stroke-width="4.8" />
<line x1="150.8" y1="545.0" x2="150.8" y2="551.8" stroke="#000" stroke-width="4.8" />
<line x1="308.7" y1="943.0" x2="308.7" y2="936.2" stroke="#000" stroke-width="4.8" />
<line x1="308.7" y1="545.0" x2="308.7" y2="551.8" stroke="#000" stroke-width="4.8" />
<line x1="466.6" y1="943.0" x2="466.6" y2="936.2" stroke="#000" stroke-width="4.8" />
<line x1="466.6" y1="545.0" x2="466.6" y2="551.8" stroke="#000" stroke-width="4.8" />
<line x1="624.5" y1="943.0" x2="624.5" y2="936.2" stroke="#000" stroke-width="4.8" />
<line x1="624.5" y1="545.0" x2="624.5" y2="551.8" stroke="#000" stroke-width="4.8" />
<line x1="782.4" y1="943.0" x2="782.4" y2="936.2" stroke="#000" stroke-width="4.8" />
<line x1="782.4" y1="545.0" x2="782.4" y2="551.8" stroke="#000" stroke-width="4.8" />
<line x1="229.8" y1="943.0" x2="229.8" y2="938.4" stroke="#000" stroke-width="3.6" />
<line x1="229.8" y1="545.0" x2="229.8" y2="549.6" stroke="#000" stroke-width="3.6" />
<line x1="387.6" y1="943.0" x2="387.6" y2="938.4" stroke="#000" stroke-width="3.6" />
<line x1="387.6" y1="545.0" x2="387.6" y2="549.6" stroke="#000" stroke-width="3.6" />
<line x1="545.5" y1="943.0" x2="545.5" y2="938.4" stroke="#000" stroke-width="3.6" />
<line x1="545.5" y1="545.0" x2="545.5" y2="549.6" stroke="#000" stroke-width="3.6" />
<line x1="703.5" y1="943.0" x2="703.5" y2="938.4" stroke="#000" stroke-width="3.6" />
<line x1="703.5" y1="545.0" x2="703.5" y2="549.6" stroke="#000" stroke-width="3.6" />
<line x1="111.5" y1="594.4" x2="119.1" y2="594.4" stroke="#000" stroke-width="4.8" />
<line x1="861.5" y1="594.4" x2="853.9" y2="594.4" stroke="#000" stroke-width="4.8" />
<line x1="111.5" y1="677.6" x2="119.1" y2="677.6" stroke="#000" stroke-width="4.8" />
<line x1="861.5" y1="677.6" x2="853.9" y2="677.6" stroke="#000" stroke-width="4.8" />
<line x1="111.5" y1="760.8" x2="119.1" y2="760.8" stroke="#000" stroke-width="4.8" />
<line x1="861.5" y1="760.8" x2="853.9" y2="760.8" stroke="#000" stroke-width="4.8" />
<line x1="111.5" y1="844.0" x2="119.1" y2="844.0" stroke="#000" stroke-width="4.8" />
<line x1="861.5" y1="844.0" x2="853.9" y2="844.0" stroke="#000" stroke-width="4.8" />
<line x1="111.5" y1="927.2" x2="119.1" y2="927.2" stroke="#000" stroke-width="4.8" />
<line x1="861.5" y1="927.2" x2="853.9" y2="927.2" stroke="#000" stroke-width="4.8" />
<line x1="111.5" y1="552.8" x2="116.1" y2="552.8" stroke="#000" stroke-width="3.6" />
<line x1="861.5" y1="552.8" x2="856.9" y2="552.8" stroke="#000" stroke-width="3.6" />
<line x1="111.5" y1="636.0" x2="116.1" y2="636.0" stroke="#000" stroke-width="3.6" />
<line x1="861.5" y1="636.0" x2="856.9" y2="636.0" stroke="#000" stroke-width="3.6" />
<line x1="111.5" y1="719.2" x2="116.1" y2="719.2" stroke="#000" stroke-width="3.6" />
<line x1="861.5" y1="719.2" x2="856.9" y2="719.2" stroke="#000" stroke-width="3.6" />
<line x1="111.5" y1="802.4" x2="116.1" y2="802.4" stroke="#000" stroke-width="3.6" />
<line x1="861.5" y1="802.4" x2="856.9" y2="802.4" stroke="#000" stroke-width="3.6" />
<line x1="111.5" y1="885.6" x2="116.1" y2="885.6" stroke="#000" stroke-width="3.6" />
<line x1="861.5" y1="885.6" x2="856.9" y2="885.6" stroke="#000" stroke-width="3.6" />
<rect x="111.5" y="545.0" width="750.0" height="398.0" fill="none" stroke="#000" stroke-width="5"/>
<text x="102.5" y="606.1" font-size="32.5" text-anchor="end" stroke="#000" stroke-width="0.55">−15</text>
<text x="102.5" y="689.3" font-size="32.5" text-anchor="end" stroke="#000" stroke-width="0.55">−10</text>
<text x="102.5" y="772.5" font-size="32.5" text-anchor="end" stroke="#000" stroke-width="0.55">−5</text>
<text x="102.5" y="855.7" font-size="32.5" text-anchor="end" stroke="#000" stroke-width="0.55">0</text>
<text x="102.5" y="938.9" font-size="32.5" text-anchor="end" stroke="#000" stroke-width="0.55">5</text>
<text x="150.8" y="978.2" font-size="32.5" text-anchor="middle" stroke="#000" stroke-width="0.55">0</text>
<text x="308.7" y="978.2" font-size="32.5" text-anchor="middle" stroke="#000" stroke-width="0.55">20</text>
<text x="466.6" y="978.2" font-size="32.5" text-anchor="middle" stroke="#000" stroke-width="0.55">40</text>
<text x="624.5" y="978.2" font-size="32.5" text-anchor="middle" stroke="#000" stroke-width="0.55">60</text>
<text x="782.4" y="978.2" font-size="32.5" text-anchor="middle" stroke="#000" stroke-width="0.55">80</text>
<text x="84.0" y="522.6" font-size="43" font-family='"Liberation Serif", "Times New Roman", serif' font-weight="bold" textLength="52.8" lengthAdjust="spacingAndGlyphs">(b)</text>
<g transform="translate(33.1,837.1) rotate(-90)">
<text x="0.0" y="0.0" font-size="36" font-family='"Liberation Serif", "Times New Roman", serif' font-style="italic" stroke="#000" stroke-width="0.5">B</text>
<text x="20.8" y="9.6" font-size="30" font-family='"Liberation Serif", "Times New Roman", serif' font-style="italic" stroke="#000" stroke-width="0.5">z</text>
<text x="26.1" y="-19.4" font-size="30.8" font-family='"Liberation Serif", "Times New Roman", serif' textLength="53.0" lengthAdjust="spacingAndGlyphs" stroke="#000" stroke-width="0.5">mag</text>
<text x="83.3" y="0.9" font-size="37" textLength="50.5" lengthAdjust="spacingAndGlyphs" stroke="#000" stroke-width="0.55">(G)</text>
</g>
<defs><linearGradient id="gc" gradientUnits="userSpaceOnUse" x1="111" y1="0" x2="861" y2="0"><stop offset="0.0027" stop-color="#f9d1d3"/><stop offset="0.1520" stop-color="#f9d2d2"/><stop offset="0.2360" stop-color="#f9dbd0"/><stop offset="0.2880" stop-color="#f9e4c9"/><stop offset="0.3680" stop-color="#f9eec6"/><stop offset="0.4573" stop-color="#fbf3c2"/><stop offset="0.5253" stop-color="#f1f6d0"/><stop offset="0.6053" stop-color="#e0f8dc"/><stop offset="0.6733" stop-color="#d4f9e6"/><stop offset="0.9973" stop-color="#d3f9e7"/></linearGradient></defs>
<rect x="111.0" y="1014.0" width="750.0" height="397.5" fill="url(#gc)"/>
<line x1="271.7" y1="1132.0" x2="271.7" y2="1150.0" stroke="#ee3c3c" stroke-width="3" />
<line x1="266.2" y1="1132.0" x2="277.2" y2="1132.0" stroke="#ee3c3c" stroke-width="3" />
<line x1="266.2" y1="1150.0" x2="277.2" y2="1150.0" stroke="#ee3c3c" stroke-width="3" />
<line x1="352.3" y1="1356.3" x2="352.3" y2="1365.3" stroke="#ee3c3c" stroke-width="3" />
<line x1="346.8" y1="1356.3" x2="357.8" y2="1356.3" stroke="#ee3c3c" stroke-width="3" />
<line x1="346.8" y1="1365.3" x2="357.8" y2="1365.3" stroke="#ee3c3c" stroke-width="3" />
<line x1="387.8" y1="1334.3" x2="387.8" y2="1343.3" stroke="#ee3c3c" stroke-width="3" />
<line x1="382.3" y1="1334.3" x2="393.3" y2="1334.3" stroke="#ee3c3c" stroke-width="3" />
<line x1="382.3" y1="1343.3" x2="393.3" y2="1343.3" stroke="#ee3c3c" stroke-width="3" />
<line x1="412.5" y1="1327.8" x2="412.5" y2="1336.8" stroke="#ee3c3c" stroke-width="3" />
<line x1="407.0" y1="1327.8" x2="418.0" y2="1327.8" stroke="#ee3c3c" stroke-width="3" />
<line x1="407.0" y1="1336.8" x2="418.0" y2="1336.8" stroke="#ee3c3c" stroke-width="3" />
<line x1="452.8" y1="1334.3" x2="452.8" y2="1343.3" stroke="#ee3c3c" stroke-width="3" />
<line x1="447.3" y1="1334.3" x2="458.3" y2="1334.3" stroke="#ee3c3c" stroke-width="3" />
<line x1="447.3" y1="1343.3" x2="458.3" y2="1343.3" stroke="#ee3c3c" stroke-width="3" />
<line x1="485.3" y1="1336.4" x2="485.3" y2="1345.4" stroke="#ee3c3c" stroke-width="3" />
<line x1="479.8" y1="1336.4" x2="490.8" y2="1336.4" stroke="#ee3c3c" stroke-width="3" />
<line x1="479.8" y1="1345.4" x2="490.8" y2="1345.4" stroke="#ee3c3c" stroke-width="3" />
<line x1="525.6" y1="1333.0" x2="525.6" y2="1342.0" stroke="#ee3c3c" stroke-width="3" />
<line x1="520.1" y1="1333.0" x2="531.1" y2="1333.0" stroke="#ee3c3c" stroke-width="3" />
<line x1="520.1" y1="1342.0" x2="531.1" y2="1342.0" stroke="#ee3c3c" stroke-width="3" />
<line x1="556.8" y1="1331.2" x2="556.8" y2="1340.2" stroke="#ee3c3c" stroke-width="3" />
<line x1="551.3" y1="1331.2" x2="562.3" y2="1331.2" stroke="#ee3c3c" stroke-width="3" />
<line x1="551.3" y1="1340.2" x2="562.3" y2="1340.2" stroke="#ee3c3c" stroke-width="3" />
<line x1="586.7" y1="1335.6" x2="586.7" y2="1344.6" stroke="#ee3c3c" stroke-width="3" />
<line x1="581.2" y1="1335.6" x2="592.2" y2="1335.6" stroke="#ee3c3c" stroke-width="3" />
<line x1="581.2" y1="1344.6" x2="592.2" y2="1344.6" stroke="#ee3c3c" stroke-width="3" />
<line x1="617.9" y1="1330.4" x2="617.9" y2="1339.4" stroke="#ee3c3c" stroke-width="3" />
<line x1="612.4" y1="1330.4" x2="623.4" y2="1330.4" stroke="#ee3c3c" stroke-width="3" />
<line x1="612.4" y1="1339.4" x2="623.4" y2="1339.4" stroke="#ee3c3c" stroke-width="3" />
<line x1="659.5" y1="1332.2" x2="659.5" y2="1341.2" stroke="#ee3c3c" stroke-width="3" />
<line x1="654.0" y1="1332.2" x2="665.0" y2="1332.2" stroke="#ee3c3c" stroke-width="3" />
<line x1="654.0" y1="1341.2" x2="665.0" y2="1341.2" stroke="#ee3c3c" stroke-width="3" />
<line x1="692.0" y1="1333.0" x2="692.0" y2="1342.0" stroke="#ee3c3c" stroke-width="3" />
<line x1="686.5" y1="1333.0" x2="697.5" y2="1333.0" stroke="#ee3c3c" stroke-width="3" />
<line x1="686.5" y1="1342.0" x2="697.5" y2="1342.0" stroke="#ee3c3c" stroke-width="3" />
<line x1="744.0" y1="1331.2" x2="744.0" y2="1340.2" stroke="#ee3c3c" stroke-width="3" />
<line x1="738.5" y1="1331.2" x2="749.5" y2="1331.2" stroke="#ee3c3c" stroke-width="3" />
<line x1="738.5" y1="1340.2" x2="749.5" y2="1340.2" stroke="#ee3c3c" stroke-width="3" />
<line x1="774.7" y1="1329.6" x2="774.7" y2="1338.6" stroke="#ee3c3c" stroke-width="3" />
<line x1="769.2" y1="1329.6" x2="780.2" y2="1329.6" stroke="#ee3c3c" stroke-width="3" />
<line x1="769.2" y1="1338.6" x2="780.2" y2="1338.6" stroke="#ee3c3c" stroke-width="3" />
<polyline points="271.7,1137.2 352.3,1360.8 387.8,1338.8 412.5,1332.3 452.8,1338.8 485.3,1340.9 525.6,1337.5 556.8,1335.7 586.7,1340.1 617.9,1334.9 659.5,1336.7 692.0,1337.5 744.0,1335.7 774.7,1334.1" fill="none" stroke="#ee3c3c" stroke-width="4.5" stroke-linejoin="round" />
<line x1="171.6" y1="1223.0" x2="171.6" y2="1234.0" stroke="#4d4d4d" stroke-width="3" />
<line x1="166.1" y1="1223.0" x2="177.1" y2="1223.0" stroke="#4d4d4d" stroke-width="3" />
<line x1="166.1" y1="1234.0" x2="177.1" y2="1234.0" stroke="#4d4d4d" stroke-width="3" />
<line x1="193.7" y1="1177.5" x2="193.7" y2="1207.4" stroke="#4d4d4d" stroke-width="3" />
<line x1="188.2" y1="1177.5" x2="199.2" y2="1177.5" stroke="#4d4d4d" stroke-width="3" />
<line x1="188.2" y1="1207.4" x2="199.2" y2="1207.4" stroke="#4d4d4d" stroke-width="3" />
<line x1="232.2" y1="1053.5" x2="232.2" y2="1087.8" stroke="#4d4d4d" stroke-width="3" />
<line x1="226.7" y1="1053.5" x2="237.7" y2="1053.5" stroke="#4d4d4d" stroke-width="3" />
<line x1="226.7" y1="1087.8" x2="237.7" y2="1087.8" stroke="#4d4d4d" stroke-width="3" />
<line x1="278.7" y1="1165.3" x2="278.7" y2="1180.0" stroke="#4d4d4d" stroke-width="3" />
<line x1="273.2" y1="1165.3" x2="284.2" y2="1165.3" stroke="#4d4d4d" stroke-width="3" />
<line x1="273.2" y1="1180.0" x2="284.2" y2="1180.0" stroke="#4d4d4d" stroke-width="3" />
<line x1="315.9" y1="1305.0" x2="315.9" y2="1319.0" stroke="#4d4d4d" stroke-width="3" />
<line x1="310.4" y1="1305.0" x2="321.4" y2="1305.0" stroke="#4d4d4d" stroke-width="3" />
<line x1="310.4" y1="1319.0" x2="321.4" y2="1319.0" stroke="#4d4d4d" stroke-width="3" />
<line x1="339.3" y1="1264.0" x2="339.3" y2="1271.0" stroke="#4d4d4d" stroke-width="3" />
<line x1="333.8" y1="1264.0" x2="344.8" y2="1264.0" stroke="#4d4d4d" stroke-width="3" />
<line x1="333.8" y1="1271.0" x2="344.8" y2="1271.0" stroke="#4d4d4d" stroke-width="3" />
<line x1="369.2" y1="1290.0" x2="369.2" y2="1297.0" stroke="#4d4d4d" stroke-width="3" />
<line x1="363.7" y1="1290.0" x2="374.7" y2="1290.0" stroke="#4d4d4d" stroke-width="3" />
<line x1="363.7" y1="1297.0" x2="374.7" y2="1297.0" stroke="#4d4d4d" stroke-width="3" />
<line x1="392.1" y1="1317.0" x2="392.1" y2="1324.0" stroke="#4d4d4d" stroke-width="3" />
<line x1="386.6" y1="1317.0" x2="397.6" y2="1317.0" stroke="#4d4d4d" stroke-width="3" />
<line x1="386.6" y1="1324.0" x2="397.6" y2="1324.0" stroke="#4d4d4d" stroke-width="3" />
<line x1="412.9" y1="1317.0" x2="412.9" y2="1324.0" stroke="#4d4d4d" stroke-width="3" />
<line x1="407.4" y1="1317.0" x2="418.4" y2="1317.0" stroke="#4d4d4d" stroke-width="3" />
<line x1="407.4" y1="1324.0" x2="418.4" y2="1324.0" stroke="#4d4d4d" stroke-width="3" />
<line x1="450.2" y1="1330.0" x2="450.2" y2="1337.0" stroke="#4d4d4d" stroke-width="3" />
<line x1="444.7" y1="1330.0" x2="455.7" y2="1330.0" stroke="#4d4d4d" stroke-width="3" />
<line x1="444.7" y1="1337.0" x2="455.7" y2="1337.0" stroke="#4d4d4d" stroke-width="3" />
<line x1="465.8" y1="1331.0" x2="465.8" y2="1337.0" stroke="#4d4d4d" stroke-width="3" />
<line x1="460.3" y1="1331.0" x2="471.3" y2="1331.0" stroke="#4d4d4d" stroke-width="3" />
<line x1="460.3" y1="1337.0" x2="471.3" y2="1337.0" stroke="#4d4d4d" stroke-width="3" />
<line x1="494.4" y1="1330.0" x2="494.4" y2="1337.0" stroke="#4d4d4d" stroke-width="3" />
<line x1="488.9" y1="1330.0" x2="499.9" y2="1330.0" stroke="#4d4d4d" stroke-width="3" />
<line x1="488.9" y1="1337.0" x2="499.9" y2="1337.0" stroke="#4d4d4d" stroke-width="3" />
<line x1="513.9" y1="1323.0" x2="513.9" y2="1331.0" stroke="#4d4d4d" stroke-width="3" />
<line x1="508.4" y1="1323.0" x2="519.4" y2="1323.0" stroke="#4d4d4d" stroke-width="3" />
<line x1="508.4" y1="1331.0" x2="519.4" y2="1331.0" stroke="#4d4d4d" stroke-width="3" />
<line x1="541.2" y1="1329.0" x2="541.2" y2="1338.0" stroke="#4d4d4d" stroke-width="3" />
<line x1="535.7" y1="1329.0" x2="546.7" y2="1329.0" stroke="#4d4d4d" stroke-width="3" />
<line x1="535.7" y1="1338.0" x2="546.7" y2="1338.0" stroke="#4d4d4d" stroke-width="3" />
<line x1="564.1" y1="1318.0" x2="564.1" y2="1340.0" stroke="#4d4d4d" stroke-width="3" />
<line x1="558.6" y1="1318.0" x2="569.6" y2="1318.0" stroke="#4d4d4d" stroke-width="3" />
<line x1="558.6" y1="1340.0" x2="569.6" y2="1340.0" stroke="#4d4d4d" stroke-width="3" />
<polyline points="171.6,1228.2 193.7,1193.1 232.2,1074.8 278.7,1171.0 315.9,1311.4 339.3,1267.2 369.2,1293.2 392.1,1320.5 412.9,1320.5 450.2,1333.1 465.8,1334.1 494.4,1333.1 513.9,1327.1 541.2,1333.1 564.1,1327.9" fill="none" stroke="#4d4d4d" stroke-width="4.5" stroke-linejoin="round" />
<polygon points="278.9,1074.0 356.6,1230.1 349.4,1233.7 370.5,1248.5 371.4,1222.7 364.2,1226.3 286.5,1070.2" fill="#5b9bd5" />
<text x="246.7" y="1047.5" font-size="31.5" textLength="115.0" lengthAdjust="spacingAndGlyphs" stroke="#000" stroke-width="0.55"><tspan font-style="italic">α</tspan>-Fe<tspan font-size="21" dy="8">3</tspan><tspan dy="-8">O</tspan><tspan font-size="21" dy="8">4</tspan></text>
<text x="393.0" y="1277.7" font-size="31.5" textLength="115.7" lengthAdjust="spacingAndGlyphs" stroke="#000" stroke-width="0.55"><tspan font-style="italic">β</tspan>-Fe<tspan font-size="21" dy="8">3</tspan><tspan dy="-8">O</tspan><tspan font-size="21" dy="8">4</tspan></text>
<line x1="570.6" y1="1060.1" x2="642.6" y2="1060.1" stroke="#4d4d4d" stroke-width="4.5" />
<line x1="570.6" y1="1100.1" x2="642.6" y2="1100.1" stroke="#ee3c3c" stroke-width="4.5" />
<text x="664.2" y="1069.7" font-size="34" stroke="#000" stroke-width="0.55">NV</text>
<text x="712.0" y="1076.7" font-size="22" stroke="#000" stroke-width="0.55">o</text>
<text x="733.0" y="1069.7" font-size="34" textLength="111.0" lengthAdjust="spacingAndGlyphs" stroke="#000" stroke-width="0.55">in exp1</text>
<text x="664.2" y="1116.5" font-size="34" stroke="#000" stroke-width="0.55">NV</text>
<text x="712.0" y="1123.5" font-size="22" stroke="#000" stroke-width="0.55">o</text>
<text x="733.0" y="1116.5" font-size="34" textLength="111.0" lengthAdjust="spacingAndGlyphs" stroke="#000" stroke-width="0.55">in exp2</text>
<line x1="160.4" y1="1411.5" x2="160.4" y2="1404.7" stroke="#000" stroke-width="4.8" />
<line x1="160.4" y1="1014.0" x2="160.4" y2="1020.8" stroke="#000" stroke-width="4.8" />
<line x1="260.4" y1="1411.5" x2="260.4" y2="1404.7" stroke="#000" stroke-width="4.8" />
<line x1="260.4" y1="1014.0" x2="260.4" y2="1020.8" stroke="#000" stroke-width="4.8" />
<line x1="360.4" y1="1411.5" x2="360.4" y2="1404.7" stroke="#000" stroke-width="4.8" />
<line x1="360.4" y1="1014.0" x2="360.4" y2="1020.8" stroke="#000" stroke-width="4.8" />
<line x1="460.4" y1="1411.5" x2="460.4" y2="1404.7" stroke="#000" stroke-width="4.8" />
<line x1="460.4" y1="1014.0" x2="460.4" y2="1020.8" stroke="#000" stroke-width="4.8" />
<line x1="560.4" y1="1411.5" x2="560.4" y2="1404.7" stroke="#000" stroke-width="4.8" />
<line x1="560.4" y1="1014.0" x2="560.4" y2="1020.8" stroke="#000" stroke-width="4.8" />
<line x1="660.4" y1="1411.5" x2="660.4" y2="1404.7" stroke="#000" stroke-width="4.8" />
<line x1="660.4" y1="1014.0" x2="660.4" y2="1020.8" stroke="#000" stroke-width="4.8" />
<line x1="760.4" y1="1411.5" x2="760.4" y2="1404.7" stroke="#000" stroke-width="4.8" />
<line x1="760.4" y1="1014.0" x2="760.4" y2="1020.8" stroke="#000" stroke-width="4.8" />
<line x1="210.4" y1="1411.5" x2="210.4" y2="1406.9" stroke="#000" stroke-width="3.6" />
<line x1="210.4" y1="1014.0" x2="210.4" y2="1018.6" stroke="#000" stroke-width="3.6" />
<line x1="310.4" y1="1411.5" x2="310.4" y2="1406.9" stroke="#000" stroke-width="3.6" />
<line x1="310.4" y1="1014.0" x2="310.4" y2="1018.6" stroke="#000" stroke-width="3.6" />
<line x1="410.4" y1="1411.5" x2="410.4" y2="1406.9" stroke="#000" stroke-width="3.6" />
<line x1="410.4" y1="1014.0" x2="410.4" y2="1018.6" stroke="#000" stroke-width="3.6" />
<line x1="510.4" y1="1411.5" x2="510.4" y2="1406.9" stroke="#000" stroke-width="3.6" />
<line x1="510.4" y1="1014.0" x2="510.4" y2="1018.6" stroke="#000" stroke-width="3.6" />
<line x1="610.4" y1="1411.5" x2="610.4" y2="1406.9" stroke="#000" stroke-width="3.6" />
<line x1="610.4" y1="1014.0" x2="610.4" y2="1018.6" stroke="#000" stroke-width="3.6" />
<line x1="710.4" y1="1411.5" x2="710.4" y2="1406.9" stroke="#000" stroke-width="3.6" />
<line x1="710.4" y1="1014.0" x2="710.4" y2="1018.6" stroke="#000" stroke-width="3.6" />
<line x1="810.4" y1="1411.5" x2="810.4" y2="1406.9" stroke="#000" stroke-width="3.6" />
<line x1="810.4" y1="1014.0" x2="810.4" y2="1018.6" stroke="#000" stroke-width="3.6" />
<line x1="111.0" y1="1048.7" x2="118.6" y2="1048.7" stroke="#000" stroke-width="4.8" />
<line x1="861.0" y1="1048.7" x2="853.4" y2="1048.7" stroke="#000" stroke-width="4.8" />
<line x1="111.0" y1="1121.2" x2="118.6" y2="1121.2" stroke="#000" stroke-width="4.8" />
<line x1="861.0" y1="1121.2" x2="853.4" y2="1121.2" stroke="#000" stroke-width="4.8" />
<line x1="111.0" y1="1193.7" x2="118.6" y2="1193.7" stroke="#000" stroke-width="4.8" />
<line x1="861.0" y1="1193.7" x2="853.4" y2="1193.7" stroke="#000" stroke-width="4.8" />
<line x1="111.0" y1="1266.2" x2="118.6" y2="1266.2" stroke="#000" stroke-width="4.8" />
<line x1="861.0" y1="1266.2" x2="853.4" y2="1266.2" stroke="#000" stroke-width="4.8" />
<line x1="111.0" y1="1338.7" x2="118.6" y2="1338.7" stroke="#000" stroke-width="4.8" />
<line x1="861.0" y1="1338.7" x2="853.4" y2="1338.7" stroke="#000" stroke-width="4.8" />
<line x1="111.0" y1="1085.0" x2="115.6" y2="1085.0" stroke="#000" stroke-width="3.6" />
<line x1="861.0" y1="1085.0" x2="856.4" y2="1085.0" stroke="#000" stroke-width="3.6" />
<line x1="111.0" y1="1157.5" x2="115.6" y2="1157.5" stroke="#000" stroke-width="3.6" />
<line x1="861.0" y1="1157.5" x2="856.4" y2="1157.5" stroke="#000" stroke-width="3.6" />
<line x1="111.0" y1="1230.0" x2="115.6" y2="1230.0" stroke="#000" stroke-width="3.6" />
<line x1="861.0" y1="1230.0" x2="856.4" y2="1230.0" stroke="#000" stroke-width="3.6" />
<line x1="111.0" y1="1302.5" x2="115.6" y2="1302.5" stroke="#000" stroke-width="3.6" />
<line x1="861.0" y1="1302.5" x2="856.4" y2="1302.5" stroke="#000" stroke-width="3.6" />
<line x1="111.0" y1="1375.0" x2="115.6" y2="1375.0" stroke="#000" stroke-width="3.6" />
<line x1="861.0" y1="1375.0" x2="856.4" y2="1375.0" stroke="#000" stroke-width="3.6" />
<rect x="111.0" y="1014.0" width="750.0" height="397.5" fill="none" stroke="#000" stroke-width="5"/>
<text x="102.5" y="1060.4" font-size="32.5" text-anchor="end" stroke="#000" stroke-width="0.55">−20</text>
<text x="102.5" y="1132.9" font-size="32.5" text-anchor="end" stroke="#000" stroke-width="0.55">−15</text>
<text x="102.5" y="1205.4" font-size="32.5" text-anchor="end" stroke="#000" stroke-width="0.55">−10</text>
<text x="102.5" y="1277.9" font-size="32.5" text-anchor="end" stroke="#000" stroke-width="0.55">−5</text>
<text x="102.5" y="1350.4" font-size="32.5" text-anchor="end" stroke="#000" stroke-width="0.55">0</text>
<text x="102.5" y="1422.9" font-size="32.5" text-anchor="end" stroke="#000" stroke-width="0.55">5</text>
<text x="160.4" y="1445.2" font-size="32.5" text-anchor="middle" stroke="#000" stroke-width="0.55">0</text>
<text x="260.4" y="1445.2" font-size="32.5" text-anchor="middle" stroke="#000" stroke-width="0.55">20</text>
<text x="360.4" y="1445.2" font-size="32.5" text-anchor="middle" stroke="#000" stroke-width="0.55">40</text>
<text x="460.4" y="1445.2" font-size="32.5" text-anchor="middle" stroke="#000" stroke-width="0.55">60</text>
<text x="560.4" y="1445.2" font-size="32.5" text-anchor="middle" stroke="#000" stroke-width="0.55">80</text>
<text x="660.4" y="1445.2" font-size="32.5" text-anchor="middle" stroke="#000" stroke-width="0.55">100</text>
<text x="760.4" y="1445.2" font-size="32.5" text-anchor="middle" stroke="#000" stroke-width="0.55">120</text>
<text x="860.4" y="1445.2" font-size="32.5" text-anchor="middle" stroke="#000" stroke-width="0.55">140</text>
<text x="84.0" y="993.9" font-size="43" font-family='"Liberation Serif", "Times New Roman", serif' font-weight="bold" textLength="47.5" lengthAdjust="spacingAndGlyphs">(c)</text>
<g transform="translate(33.4,1283.0) rotate(-90)">
<text x="0.0" y="0.0" font-size="36" font-family='"Liberation Serif", "Times New Roman", serif' font-style="italic" stroke="#000" stroke-width="0.5">B</text>
<text x="20.8" y="9.6" font-size="30" font-family='"Liberation Serif", "Times New Roman", serif' font-style="italic" stroke="#000" stroke-width="0.5">z</text>
<text x="26.1" y="-19.4" font-size="30.8" font-family='"Liberation Serif", "Times New Roman", serif' textLength="53.0" lengthAdjust="spacingAndGlyphs" stroke="#000" stroke-width="0.5">mag</text>
<text x="83.3" y="0.9" font-size="37" textLength="50.5" lengthAdjust="spacingAndGlyphs" stroke="#000" stroke-width="0.55">(G)</text>
</g>
<defs><linearGradient id="gd" gradientUnits="userSpaceOnUse" x1="111.8" y1="0" x2="861" y2="0"><stop offset="0.0029" stop-color="#f9f1c7"/><stop offset="0.4461" stop-color="#faf2c5"/><stop offset="0.5248" stop-color="#eef6d2"/><stop offset="0.6049" stop-color="#e1f8dc"/><stop offset="0.6837" stop-color="#d4f9e6"/><stop offset="0.9973" stop-color="#d3f9e7"/></linearGradient></defs>
<rect x="111.8" y="1486.0" width="749.2" height="397.0" fill="url(#gd)"/>
<path d="M138.9,1586.4 C142.8,1591.5 153.8,1606.4 162.0,1616.8 C170.2,1627.2 178.8,1638.0 188.0,1648.6 C197.2,1659.2 207.3,1669.8 217.0,1680.4 C226.7,1691.0 236.3,1702.6 246.0,1712.2 C255.7,1721.8 265.3,1730.1 274.9,1738.3 C284.5,1746.5 292.7,1754.2 303.8,1761.4 C314.9,1768.6 330.3,1778.8 341.4,1781.7 C352.5,1784.6 359.8,1782.2 370.4,1778.8 C381.0,1775.4 394.5,1766.7 405.1,1761.4 C415.7,1756.1 423.9,1750.6 434.0,1747.0 C444.1,1743.4 457.0,1740.8 465.7,1740.0 C474.4,1739.2 477.8,1737.8 486.0,1742.0 C494.2,1746.2 501.9,1754.8 515.0,1765.0 C528.0,1775.2 547.0,1792.3 564.3,1803.2 C581.6,1814.1 600.8,1824.4 619.0,1830.6 C637.2,1836.8 655.5,1838.5 673.8,1840.2 C692.1,1841.9 708.1,1841.5 728.6,1841.0 C749.1,1840.5 785.6,1838.1 797.0,1837.5" fill="none" stroke="#f4b183" stroke-width="5.5" stroke-dasharray="22 12"/>
<path d="M178.0,1550.8 C179.2,1553.6 182.6,1561.5 185.2,1567.6 C187.8,1573.7 190.4,1580.9 193.3,1587.2 C196.2,1593.5 196.1,1591.1 202.5,1605.2 C208.9,1619.3 223.8,1657.2 231.5,1671.7 C239.2,1686.2 243.0,1684.8 248.8,1692.0 C254.6,1699.2 260.4,1709.1 266.2,1715.1 C272.0,1721.1 277.3,1725.0 283.6,1728.2 C289.9,1731.4 298.0,1733.3 303.8,1734.0 C309.6,1734.7 312.0,1735.7 318.3,1732.5 C324.6,1729.3 333.7,1721.4 341.4,1715.1 C349.1,1708.8 356.9,1702.6 364.6,1694.9 C372.3,1687.2 380.9,1676.0 387.7,1668.8 C394.4,1661.6 399.3,1655.6 405.1,1651.5 C410.9,1647.4 417.2,1644.7 422.5,1644.2 C427.8,1643.7 432.1,1645.5 436.9,1648.6 C441.7,1651.7 447.0,1657.7 451.4,1663.0 C455.8,1668.3 458.7,1673.2 463.0,1680.4 C467.3,1687.7 472.6,1697.8 477.4,1706.5 C482.2,1715.2 485.6,1721.4 491.9,1732.5 C498.2,1743.6 503.9,1760.8 515.0,1773.1 C526.1,1785.3 541.5,1799.4 558.8,1806.0 C576.1,1812.6 599.8,1811.8 619.0,1812.8 C638.2,1813.8 658.0,1812.7 673.8,1812.0 C689.5,1811.3 706.9,1809.2 713.5,1808.7" fill="none" stroke="#a6a6a6" stroke-width="5.5" stroke-dasharray="22 12"/>
<line x1="194.4" y1="1514.9" x2="194.4" y2="1603.7" stroke="#4d4d4d" stroke-width="3.2" />
<line x1="188.4" y1="1514.9" x2="200.4" y2="1514.9" stroke="#4d4d4d" stroke-width="3.2" />
<line x1="188.4" y1="1603.7" x2="200.4" y2="1603.7" stroke="#4d4d4d" stroke-width="3.2" />
<circle cx="194.4" cy="1559.8" r="6.3" fill="#4d4d4d"/>
<line x1="252.6" y1="1681.0" x2="252.6" y2="1712.8" stroke="#4d4d4d" stroke-width="3.2" />
<line x1="246.6" y1="1681.0" x2="258.6" y2="1681.0" stroke="#4d4d4d" stroke-width="3.2" />
<line x1="246.6" y1="1712.8" x2="258.6" y2="1712.8" stroke="#4d4d4d" stroke-width="3.2" />
<circle cx="252.6" cy="1697.2" r="6.3" fill="#4d4d4d"/>
<line x1="303.0" y1="1732.0" x2="303.0" y2="1748.0" stroke="#4d4d4d" stroke-width="3.2" />
<line x1="297.0" y1="1732.0" x2="309.0" y2="1732.0" stroke="#4d4d4d" stroke-width="3.2" />
<line x1="297.0" y1="1748.0" x2="309.0" y2="1748.0" stroke="#4d4d4d" stroke-width="3.2" />
<circle cx="303.0" cy="1739.7" r="6.3" fill="#4d4d4d"/>
<line x1="397.9" y1="1647.0" x2="397.9" y2="1696.3" stroke="#4d4d4d" stroke-width="3.2" />
<line x1="391.9" y1="1647.0" x2="403.9" y2="1647.0" stroke="#4d4d4d" stroke-width="3.2" />
<line x1="391.9" y1="1696.3" x2="403.9" y2="1696.3" stroke="#4d4d4d" stroke-width="3.2" />
<circle cx="397.9" cy="1671.7" r="6.3" fill="#4d4d4d"/>
<line x1="438.4" y1="1626.3" x2="438.4" y2="1687.6" stroke="#4d4d4d" stroke-width="3.2" />
<line x1="432.4" y1="1626.3" x2="444.4" y2="1626.3" stroke="#4d4d4d" stroke-width="3.2" />
<line x1="432.4" y1="1687.6" x2="444.4" y2="1687.6" stroke="#4d4d4d" stroke-width="3.2" />
<circle cx="438.4" cy="1656.7" r="6.3" fill="#4d4d4d"/>
<line x1="507.3" y1="1759.4" x2="507.3" y2="1781.3" stroke="#4d4d4d" stroke-width="3.2" />
<line x1="501.3" y1="1759.4" x2="513.3" y2="1759.4" stroke="#4d4d4d" stroke-width="3.2" />
<line x1="501.3" y1="1781.3" x2="513.3" y2="1781.3" stroke="#4d4d4d" stroke-width="3.2" />
<circle cx="507.3" cy="1769.8" r="6.3" fill="#4d4d4d"/>
<line x1="556.9" y1="1812.0" x2="556.9" y2="1821.0" stroke="#4d4d4d" stroke-width="3.2" />
<line x1="550.9" y1="1812.0" x2="562.9" y2="1812.0" stroke="#4d4d4d" stroke-width="3.2" />
<line x1="550.9" y1="1821.0" x2="562.9" y2="1821.0" stroke="#4d4d4d" stroke-width="3.2" />
<circle cx="556.9" cy="1816.4" r="6.3" fill="#4d4d4d"/>
<line x1="624.0" y1="1807.0" x2="624.0" y2="1819.0" stroke="#4d4d4d" stroke-width="3.2" />
<line x1="618.0" y1="1807.0" x2="630.0" y2="1807.0" stroke="#4d4d4d" stroke-width="3.2" />
<line x1="618.0" y1="1819.0" x2="630.0" y2="1819.0" stroke="#4d4d4d" stroke-width="3.2" />
<circle cx="624.0" cy="1812.8" r="6.3" fill="#4d4d4d"/>
<line x1="681.2" y1="1796.4" x2="681.2" y2="1816.4" stroke="#4d4d4d" stroke-width="3.2" />
<line x1="675.2" y1="1796.4" x2="687.2" y2="1796.4" stroke="#4d4d4d" stroke-width="3.2" />
<line x1="675.2" y1="1816.4" x2="687.2" y2="1816.4" stroke="#4d4d4d" stroke-width="3.2" />
<circle cx="681.2" cy="1806.0" r="6.3" fill="#4d4d4d"/>
<line x1="150.8" y1="1569.9" x2="150.8" y2="1645.1" stroke="#ee3c3c" stroke-width="3.2" />
<line x1="144.8" y1="1569.9" x2="156.8" y2="1569.9" stroke="#ee3c3c" stroke-width="3.2" />
<line x1="144.8" y1="1645.1" x2="156.8" y2="1645.1" stroke="#ee3c3c" stroke-width="3.2" />
<circle cx="150.8" cy="1607.5" r="6.3" fill="#ee3c3c"/>
<line x1="241.9" y1="1687.6" x2="241.9" y2="1719.5" stroke="#ee3c3c" stroke-width="3.2" />
<line x1="235.9" y1="1687.6" x2="247.9" y2="1687.6" stroke="#ee3c3c" stroke-width="3.2" />
<line x1="235.9" y1="1719.5" x2="247.9" y2="1719.5" stroke="#ee3c3c" stroke-width="3.2" />
<circle cx="241.9" cy="1703.6" r="6.3" fill="#ee3c3c"/>
<line x1="303.0" y1="1747.0" x2="303.0" y2="1778.8" stroke="#ee3c3c" stroke-width="3.2" />
<line x1="297.0" y1="1747.0" x2="309.0" y2="1747.0" stroke="#ee3c3c" stroke-width="3.2" />
<line x1="297.0" y1="1778.8" x2="309.0" y2="1778.8" stroke="#ee3c3c" stroke-width="3.2" />
<circle cx="303.0" cy="1758.5" r="6.3" fill="#ee3c3c"/>
<line x1="403.0" y1="1767.2" x2="403.0" y2="1788.9" stroke="#ee3c3c" stroke-width="3.2" />
<line x1="397.0" y1="1767.2" x2="409.0" y2="1767.2" stroke="#ee3c3c" stroke-width="3.2" />
<line x1="397.0" y1="1788.9" x2="409.0" y2="1788.9" stroke="#ee3c3c" stroke-width="3.2" />
<circle cx="403.0" cy="1778.2" r="6.3" fill="#ee3c3c"/>
<line x1="486.3" y1="1725.3" x2="486.3" y2="1767.2" stroke="#ee3c3c" stroke-width="3.2" />
<line x1="480.3" y1="1725.3" x2="492.3" y2="1725.3" stroke="#ee3c3c" stroke-width="3.2" />
<line x1="480.3" y1="1767.2" x2="492.3" y2="1767.2" stroke="#ee3c3c" stroke-width="3.2" />
<circle cx="486.3" cy="1746.3" r="6.3" fill="#ee3c3c"/>
<circle cx="587.0" cy="1829.2" r="6.3" fill="#ee3c3c"/>
<circle cx="647.8" cy="1831.4" r="6.3" fill="#ee3c3c"/>
<line x1="737.3" y1="1836.0" x2="737.3" y2="1845.0" stroke="#ee3c3c" stroke-width="3.2" />
<line x1="731.3" y1="1836.0" x2="743.3" y2="1836.0" stroke="#ee3c3c" stroke-width="3.2" />
<line x1="731.3" y1="1845.0" x2="743.3" y2="1845.0" stroke="#ee3c3c" stroke-width="3.2" />
<circle cx="737.3" cy="1840.2" r="6.3" fill="#ee3c3c"/>
<circle cx="816.8" cy="1838.3" r="6.3" fill="#ee3c3c"/>
<polygon points="478.4,1627.0 550.5,1709.8 544.3,1715.2 569.8,1725.2 563.4,1698.5 557.3,1703.9 485.2,1621.0" fill="#5b9bd5" />
<text x="381.4" y="1596.5" font-size="31.5" textLength="116.3" lengthAdjust="spacingAndGlyphs" stroke="#000" stroke-width="0.55"><tspan font-style="italic">β</tspan>-Fe<tspan font-size="21" dy="8">3</tspan><tspan dy="-8">O</tspan><tspan font-size="21" dy="8">4</tspan></text>
<text x="593.0" y="1749.8" font-size="31.5" textLength="111.5" lengthAdjust="spacingAndGlyphs" stroke="#000" stroke-width="0.55"><tspan font-style="italic">γ</tspan>-Fe<tspan font-size="21" dy="8">3</tspan><tspan dy="-8">O</tspan><tspan font-size="21" dy="8">4</tspan></text>
<circle cx="590.9" cy="1524.5" r="6.3" fill="#4d4d4d"/>
<circle cx="590.9" cy="1565.0" r="6.3" fill="#ee3c3c"/>
<text x="625.9" y="1532.1" font-size="33" stroke="#000" stroke-width="0.55">NV</text>
<text x="672.0" y="1540.1" font-size="21" stroke="#000" stroke-width="0.55">i</text>
<text x="686.0" y="1532.1" font-size="33" textLength="115.0" lengthAdjust="spacingAndGlyphs" stroke="#000" stroke-width="0.55">in exp1</text>
<text x="625.9" y="1578.1" font-size="33" stroke="#000" stroke-width="0.55">NV</text>
<text x="672.0" y="1586.1" font-size="21" stroke="#000" stroke-width="0.55">i</text>
<text x="686.0" y="1578.1" font-size="33" textLength="115.0" lengthAdjust="spacingAndGlyphs" stroke="#000" stroke-width="0.55">in exp2</text>
<line x1="173.0" y1="1883.0" x2="173.0" y2="1876.2" stroke="#000" stroke-width="4.8" />
<line x1="173.0" y1="1486.0" x2="173.0" y2="1492.8" stroke="#000" stroke-width="4.8" />
<line x1="297.8" y1="1883.0" x2="297.8" y2="1876.2" stroke="#000" stroke-width="4.8" />
<line x1="297.8" y1="1486.0" x2="297.8" y2="1492.8" stroke="#000" stroke-width="4.8" />
<line x1="422.6" y1="1883.0" x2="422.6" y2="1876.2" stroke="#000" stroke-width="4.8" />
<line x1="422.6" y1="1486.0" x2="422.6" y2="1492.8" stroke="#000" stroke-width="4.8" />
<line x1="547.4" y1="1883.0" x2="547.4" y2="1876.2" stroke="#000" stroke-width="4.8" />
<line x1="547.4" y1="1486.0" x2="547.4" y2="1492.8" stroke="#000" stroke-width="4.8" />
<line x1="672.2" y1="1883.0" x2="672.2" y2="1876.2" stroke="#000" stroke-width="4.8" />
<line x1="672.2" y1="1486.0" x2="672.2" y2="1492.8" stroke="#000" stroke-width="4.8" />
<line x1="797.0" y1="1883.0" x2="797.0" y2="1876.2" stroke="#000" stroke-width="4.8" />
<line x1="797.0" y1="1486.0" x2="797.0" y2="1492.8" stroke="#000" stroke-width="4.8" />
<line x1="235.4" y1="1883.0" x2="235.4" y2="1878.4" stroke="#000" stroke-width="3.6" />
<line x1="235.4" y1="1486.0" x2="235.4" y2="1490.6" stroke="#000" stroke-width="3.6" />
<line x1="360.2" y1="1883.0" x2="360.2" y2="1878.4" stroke="#000" stroke-width="3.6" />
<line x1="360.2" y1="1486.0" x2="360.2" y2="1490.6" stroke="#000" stroke-width="3.6" />
<line x1="485.0" y1="1883.0" x2="485.0" y2="1878.4" stroke="#000" stroke-width="3.6" />
<line x1="485.0" y1="1486.0" x2="485.0" y2="1490.6" stroke="#000" stroke-width="3.6" />
<line x1="609.8" y1="1883.0" x2="609.8" y2="1878.4" stroke="#000" stroke-width="3.6" />
<line x1="609.8" y1="1486.0" x2="609.8" y2="1490.6" stroke="#000" stroke-width="3.6" />
<line x1="734.6" y1="1883.0" x2="734.6" y2="1878.4" stroke="#000" stroke-width="3.6" />
<line x1="734.6" y1="1486.0" x2="734.6" y2="1490.6" stroke="#000" stroke-width="3.6" />
<line x1="111.8" y1="1830.3" x2="119.4" y2="1830.3" stroke="#000" stroke-width="4.8" />
<line x1="861.0" y1="1830.3" x2="853.4" y2="1830.3" stroke="#000" stroke-width="4.8" />
<line x1="111.8" y1="1763.8" x2="119.4" y2="1763.8" stroke="#000" stroke-width="4.8" />
<line x1="861.0" y1="1763.8" x2="853.4" y2="1763.8" stroke="#000" stroke-width="4.8" />
<line x1="111.8" y1="1697.2" x2="119.4" y2="1697.2" stroke="#000" stroke-width="4.8" />
<line x1="861.0" y1="1697.2" x2="853.4" y2="1697.2" stroke="#000" stroke-width="4.8" />
<line x1="111.8" y1="1630.6" x2="119.4" y2="1630.6" stroke="#000" stroke-width="4.8" />
<line x1="861.0" y1="1630.6" x2="853.4" y2="1630.6" stroke="#000" stroke-width="4.8" />
<line x1="111.8" y1="1564.1" x2="119.4" y2="1564.1" stroke="#000" stroke-width="4.8" />
<line x1="861.0" y1="1564.1" x2="853.4" y2="1564.1" stroke="#000" stroke-width="4.8" />
<line x1="111.8" y1="1497.5" x2="119.4" y2="1497.5" stroke="#000" stroke-width="4.8" />
<line x1="861.0" y1="1497.5" x2="853.4" y2="1497.5" stroke="#000" stroke-width="4.8" />
<line x1="111.8" y1="1863.6" x2="116.4" y2="1863.6" stroke="#000" stroke-width="3.6" />
<line x1="861.0" y1="1863.6" x2="856.4" y2="1863.6" stroke="#000" stroke-width="3.6" />
<line x1="111.8" y1="1797.0" x2="116.4" y2="1797.0" stroke="#000" stroke-width="3.6" />
<line x1="861.0" y1="1797.0" x2="856.4" y2="1797.0" stroke="#000" stroke-width="3.6" />
<line x1="111.8" y1="1730.5" x2="116.4" y2="1730.5" stroke="#000" stroke-width="3.6" />
<line x1="861.0" y1="1730.5" x2="856.4" y2="1730.5" stroke="#000" stroke-width="3.6" />
<line x1="111.8" y1="1663.9" x2="116.4" y2="1663.9" stroke="#000" stroke-width="3.6" />
<line x1="861.0" y1="1663.9" x2="856.4" y2="1663.9" stroke="#000" stroke-width="3.6" />
<line x1="111.8" y1="1597.4" x2="116.4" y2="1597.4" stroke="#000" stroke-width="3.6" />
<line x1="861.0" y1="1597.4" x2="856.4" y2="1597.4" stroke="#000" stroke-width="3.6" />
<line x1="111.8" y1="1530.8" x2="116.4" y2="1530.8" stroke="#000" stroke-width="3.6" />
<line x1="861.0" y1="1530.8" x2="856.4" y2="1530.8" stroke="#000" stroke-width="3.6" />
<rect x="111.8" y="1486.0" width="749.2" height="397.0" fill="none" stroke="#000" stroke-width="5"/>
<text x="102.5" y="1842.0" font-size="32.5" text-anchor="end" stroke="#000" stroke-width="0.55">0</text>
<text x="102.5" y="1775.5" font-size="32.5" text-anchor="end" stroke="#000" stroke-width="0.55">50</text>
<text x="102.5" y="1708.9" font-size="32.5" text-anchor="end" stroke="#000" stroke-width="0.55">100</text>
<text x="102.5" y="1642.3" font-size="32.5" text-anchor="end" stroke="#000" stroke-width="0.55">150</text>
<text x="102.5" y="1575.8" font-size="32.5" text-anchor="end" stroke="#000" stroke-width="0.55">200</text>
<text x="102.5" y="1509.2" font-size="32.5" text-anchor="end" stroke="#000" stroke-width="0.55">250</text>
<text x="173.0" y="1918.3" font-size="32.5" text-anchor="middle" stroke="#000" stroke-width="0.55">40</text>
<text x="297.8" y="1918.3" font-size="32.5" text-anchor="middle" stroke="#000" stroke-width="0.55">50</text>
<text x="422.6" y="1918.3" font-size="32.5" text-anchor="middle" stroke="#000" stroke-width="0.55">60</text>
<text x="547.4" y="1918.3" font-size="32.5" text-anchor="middle" stroke="#000" stroke-width="0.55">70</text>
<text x="672.2" y="1918.3" font-size="32.5" text-anchor="middle" stroke="#000" stroke-width="0.55">80</text>
<text x="797.0" y="1918.3" font-size="32.5" text-anchor="middle" stroke="#000" stroke-width="0.55">90</text>
<text x="84.0" y="1470.0" font-size="43" font-family='"Liberation Serif", "Times New Roman", serif' font-weight="bold" textLength="53.3" lengthAdjust="spacingAndGlyphs">(d)</text>
<text x="364.0" y="1971.0" font-size="35" textLength="245.0" lengthAdjust="spacingAndGlyphs" stroke="#000" stroke-width="0.55">Pressure (GPa)</text>
<g transform="translate(35.1,1773.1) rotate(-90)">
<text x="0.0" y="0.0" font-size="37" font-family='"Liberation Serif", "Times New Roman", serif' font-style="italic" stroke="#000" stroke-width="0.5">Γ</text>
<text x="25.6" y="-13.6" font-size="30" font-family='"Liberation Serif", "Times New Roman", serif' textLength="57.7" lengthAdjust="spacingAndGlyphs" stroke="#000" stroke-width="0.5">mag</text>
<text x="93.5" y="0.0" font-size="36" textLength="97.6" lengthAdjust="spacingAndGlyphs" stroke="#000" stroke-width="0.55">(MHz)</text>
</g>
<defs><linearGradient id="ea" gradientUnits="userSpaceOnUse" x1="0" y1="548" x2="0" y2="1048"><stop offset="0" stop-color="#fde0fb"/><stop offset="1" stop-color="#fde1d9"/></linearGradient></defs>
<defs><linearGradient id="eb" gradientUnits="userSpaceOnUse" x1="0" y1="548" x2="0" y2="1048"><stop offset="0" stop-color="#fffffc"/><stop offset="1" stop-color="#fdfbcc"/></linearGradient></defs>
<defs><linearGradient id="ec" gradientUnits="userSpaceOnUse" x1="0" y1="548" x2="0" y2="1048"><stop offset="0" stop-color="#d5fae7"/><stop offset="1" stop-color="#d8f8d3"/></linearGradient></defs>
<rect x="1008.5" y="548.0" width="833.5" height="500.0" fill="url(#eb)"/>
<path d="M1008.5,548 L1138,548 C1138.6,552.2 1140.2,564.7 1141.5,573.0 C1142.8,581.3 1144.3,589.7 1145.9,598.0 C1147.5,606.3 1149.1,614.7 1150.9,623.0 C1152.7,631.3 1154.7,639.7 1156.7,648.0 C1158.7,656.3 1160.9,664.7 1163.1,673.0 C1165.3,681.3 1167.7,689.7 1170.1,698.0 C1172.5,706.3 1175.0,714.7 1177.6,723.0 C1180.2,731.3 1182.8,739.7 1185.5,748.0 C1188.2,756.3 1191.1,764.7 1193.9,773.0 C1196.7,781.3 1199.6,789.7 1202.5,798.0 C1205.4,806.3 1208.5,814.7 1211.5,823.0 C1214.5,831.3 1217.5,839.7 1220.6,848.0 C1223.7,856.3 1226.9,864.7 1230.0,873.0 C1233.1,881.3 1236.3,889.7 1239.4,898.0 C1242.5,906.3 1245.7,914.7 1248.8,923.0 C1251.9,931.3 1255.1,939.7 1258.2,948.0 C1261.3,956.3 1264.5,964.7 1267.6,973.0 C1270.7,981.3 1273.8,989.7 1276.8,998.0 C1279.8,1006.3 1282.8,1014.7 1285.8,1023.0 C1288.8,1031.3 1293.1,1043.8 1294.6,1048.0 L1008.5,1048 Z" fill="url(#ea)"/>
<polygon points="1620.4,548.0 1842.0,548.0 1842.0,1048.0 1567.6,1048.0" fill="url(#ec)" />
<polygon points="1008.5,548.0 1071.7,548.0 1008.5,621.3" fill="#f9b8a6" />
<line x1="1008.0" y1="621.3" x2="1071.7" y2="547.0" stroke="#f7903a" stroke-width="4.5" />
<path d="M1010,987 L1030,987 C1058,987 1076.5,1012 1076.5,1048 L1010,1048 Z" fill="#c8f8f5"/>
<path d="M1010,987 L1030,987 C1058,987 1076.5,1012 1076.5,1048" fill="none" stroke="#2bd3d3" stroke-width="4.5"/>
<path d="M1138.0,548.0 C1138.6,552.2 1140.2,564.7 1141.5,573.0 C1142.8,581.3 1144.3,589.7 1145.9,598.0 C1147.5,606.3 1149.1,614.7 1150.9,623.0 C1152.7,631.3 1154.7,639.7 1156.7,648.0 C1158.7,656.3 1160.9,664.7 1163.1,673.0 C1165.3,681.3 1167.7,689.7 1170.1,698.0 C1172.5,706.3 1175.0,714.7 1177.6,723.0 C1180.2,731.3 1182.8,739.7 1185.5,748.0 C1188.2,756.3 1191.1,764.7 1193.9,773.0 C1196.7,781.3 1199.6,789.7 1202.5,798.0 C1205.4,806.3 1208.5,814.7 1211.5,823.0 C1214.5,831.3 1217.5,839.7 1220.6,848.0 C1223.7,856.3 1226.9,864.7 1230.0,873.0 C1233.1,881.3 1236.3,889.7 1239.4,898.0 C1242.5,906.3 1245.7,914.7 1248.8,923.0 C1251.9,931.3 1255.1,939.7 1258.2,948.0 C1261.3,956.3 1264.5,964.7 1267.6,973.0 C1270.7,981.3 1273.8,989.7 1276.8,998.0 C1279.8,1006.3 1282.8,1014.7 1285.8,1023.0 C1288.8,1031.3 1293.1,1043.8 1294.6,1048.0" fill="none" stroke="#ee3c3c" stroke-width="5.2"/>
<line x1="1620.4" y1="547.0" x2="1567.6" y2="1049.0" stroke="#ee3c3c" stroke-width="5.2" />
<line x1="1011.0" y1="897.5" x2="1812.0" y2="897.5" stroke="#808080" stroke-width="5.5" stroke-dasharray="7.5 4.5"/>
<polygon points="1808.8,885.5 1843.5,897.5 1808.8,909.5" fill="#808080" />
<text x="1047.7" y="775.2" font-size="36" textLength="128.0" lengthAdjust="spacingAndGlyphs" stroke="#000" stroke-width="0.55"><tspan font-style="italic">α</tspan>-Fe<tspan font-size="23" dy="9.4">3</tspan><tspan dy="-9.4">O</tspan><tspan font-size="23" dy="9.4">4</tspan></text>
<text x="1351.6" y="776.0" font-size="36" textLength="128.0" lengthAdjust="spacingAndGlyphs" stroke="#000" stroke-width="0.55"><tspan font-style="italic">β</tspan>-Fe<tspan font-size="23" dy="9.4">3</tspan><tspan dy="-9.4">O</tspan><tspan font-size="23" dy="9.4">4</tspan></text>
<text x="1664.0" y="776.0" font-size="36" textLength="124.6" lengthAdjust="spacingAndGlyphs" stroke="#000" stroke-width="0.55"><tspan font-style="italic">γ</tspan>-Fe<tspan font-size="23" dy="9.4">3</tspan><tspan dy="-9.4">O</tspan><tspan font-size="23" dy="9.4">4</tspan></text>
<text x="1097.6" y="859.5" font-size="32.5" textLength="49.9" lengthAdjust="spacingAndGlyphs" stroke="#000" stroke-width="0.55">FiM</text>
<text x="1361.0" y="860.9" font-size="32.5" textLength="130.5" lengthAdjust="spacingAndGlyphs" stroke="#000" stroke-width="0.55">weak FM</text>
<text x="1658.4" y="863.6" font-size="32.5" textLength="46.1" lengthAdjust="spacingAndGlyphs" stroke="#000" stroke-width="0.55">PM</text>
<text x="1014.8" y="579.0" font-size="21" font-weight="bold" fill="#0a0a96" textLength="32.3" lengthAdjust="spacingAndGlyphs">PM</text>
<text x="1086.5" y="616.7" font-size="29" font-style="italic" stroke="#000" stroke-width="0.55">T</text>
<text x="1096.9" y="624.8" font-size="20" textLength="19.4" lengthAdjust="spacingAndGlyphs" stroke="#000" stroke-width="0.55">N</text>
<polygon points="1080.3,597.0 1063.0,578.8 1066.1,575.9 1053.8,571.0 1058.1,583.5 1061.1,580.6 1078.5,598.8" fill="#000" />
<text x="1085.7" y="968.2" font-size="29" font-style="italic" stroke="#000" stroke-width="0.55">T</text>
<text x="1101.2" y="976.3" font-size="21" textLength="13.5" lengthAdjust="spacingAndGlyphs" stroke="#000" stroke-width="0.55">V</text>
<polygon points="1072.1,967.3 1063.8,982.3 1060.2,980.2 1059.2,993.4 1069.8,985.5 1066.1,983.5 1074.3,968.5" fill="#000" />
<text x="1016.7" y="1008.2" font-size="23" font-weight="bold" textLength="81.5" lengthAdjust="spacingAndGlyphs">Verwey</text>
<text x="1025.6" y="1035.2" font-size="23" font-weight="bold" textLength="64.6" lengthAdjust="spacingAndGlyphs">phase</text>
<line x1="1008.4" y1="1048.0" x2="1008.4" y2="1041.2" stroke="#000" stroke-width="4.8" />
<line x1="1008.4" y1="548.0" x2="1008.4" y2="554.8" stroke="#000" stroke-width="4.8" />
<line x1="1091.9" y1="1048.0" x2="1091.9" y2="1041.2" stroke="#000" stroke-width="4.8" />
<line x1="1091.9" y1="548.0" x2="1091.9" y2="554.8" stroke="#000" stroke-width="4.8" />
<line x1="1175.4" y1="1048.0" x2="1175.4" y2="1041.2" stroke="#000" stroke-width="4.8" />
<line x1="1175.4" y1="548.0" x2="1175.4" y2="554.8" stroke="#000" stroke-width="4.8" />
<line x1="1258.9" y1="1048.0" x2="1258.9" y2="1041.2" stroke="#000" stroke-width="4.8" />
<line x1="1258.9" y1="548.0" x2="1258.9" y2="554.8" stroke="#000" stroke-width="4.8" />
<line x1="1342.4" y1="1048.0" x2="1342.4" y2="1041.2" stroke="#000" stroke-width="4.8" />
<line x1="1342.4" y1="548.0" x2="1342.4" y2="554.8" stroke="#000" stroke-width="4.8" />
<line x1="1425.9" y1="1048.0" x2="1425.9" y2="1041.2" stroke="#000" stroke-width="4.8" />
<line x1="1425.9" y1="548.0" x2="1425.9" y2="554.8" stroke="#000" stroke-width="4.8" />
<line x1="1509.4" y1="1048.0" x2="1509.4" y2="1041.2" stroke="#000" stroke-width="4.8" />
<line x1="1509.4" y1="548.0" x2="1509.4" y2="554.8" stroke="#000" stroke-width="4.8" />
<line x1="1592.9" y1="1048.0" x2="1592.9" y2="1041.2" stroke="#000" stroke-width="4.8" />
<line x1="1592.9" y1="548.0" x2="1592.9" y2="554.8" stroke="#000" stroke-width="4.8" />
<line x1="1676.4" y1="1048.0" x2="1676.4" y2="1041.2" stroke="#000" stroke-width="4.8" />
<line x1="1676.4" y1="548.0" x2="1676.4" y2="554.8" stroke="#000" stroke-width="4.8" />
<line x1="1759.9" y1="1048.0" x2="1759.9" y2="1041.2" stroke="#000" stroke-width="4.8" />
<line x1="1759.9" y1="548.0" x2="1759.9" y2="554.8" stroke="#000" stroke-width="4.8" />
<line x1="1843.4" y1="1048.0" x2="1843.4" y2="1041.2" stroke="#000" stroke-width="4.8" />
<line x1="1843.4" y1="548.0" x2="1843.4" y2="554.8" stroke="#000" stroke-width="4.8" />
<line x1="1050.2" y1="1048.0" x2="1050.2" y2="1043.4" stroke="#000" stroke-width="3.6" />
<line x1="1050.2" y1="548.0" x2="1050.2" y2="552.6" stroke="#000" stroke-width="3.6" />
<line x1="1133.7" y1="1048.0" x2="1133.7" y2="1043.4" stroke="#000" stroke-width="3.6" />
<line x1="1133.7" y1="548.0" x2="1133.7" y2="552.6" stroke="#000" stroke-width="3.6" />
<line x1="1217.2" y1="1048.0" x2="1217.2" y2="1043.4" stroke="#000" stroke-width="3.6" />
<line x1="1217.2" y1="548.0" x2="1217.2" y2="552.6" stroke="#000" stroke-width="3.6" />
<line x1="1300.7" y1="1048.0" x2="1300.7" y2="1043.4" stroke="#000" stroke-width="3.6" />
<line x1="1300.7" y1="548.0" x2="1300.7" y2="552.6" stroke="#000" stroke-width="3.6" />
<line x1="1384.2" y1="1048.0" x2="1384.2" y2="1043.4" stroke="#000" stroke-width="3.6" />
<line x1="1384.2" y1="548.0" x2="1384.2" y2="552.6" stroke="#000" stroke-width="3.6" />
<line x1="1467.7" y1="1048.0" x2="1467.7" y2="1043.4" stroke="#000" stroke-width="3.6" />
<line x1="1467.7" y1="548.0" x2="1467.7" y2="552.6" stroke="#000" stroke-width="3.6" />
<line x1="1551.2" y1="1048.0" x2="1551.2" y2="1043.4" stroke="#000" stroke-width="3.6" />
<line x1="1551.2" y1="548.0" x2="1551.2" y2="552.6" stroke="#000" stroke-width="3.6" />
<line x1="1634.7" y1="1048.0" x2="1634.7" y2="1043.4" stroke="#000" stroke-width="3.6" />
<line x1="1634.7" y1="548.0" x2="1634.7" y2="552.6" stroke="#000" stroke-width="3.6" />
<line x1="1718.2" y1="1048.0" x2="1718.2" y2="1043.4" stroke="#000" stroke-width="3.6" />
<line x1="1718.2" y1="548.0" x2="1718.2" y2="552.6" stroke="#000" stroke-width="3.6" />
<line x1="1801.7" y1="1048.0" x2="1801.7" y2="1043.4" stroke="#000" stroke-width="3.6" />
<line x1="1801.7" y1="548.0" x2="1801.7" y2="552.6" stroke="#000" stroke-width="3.6" />
<line x1="1008.5" y1="1048.0" x2="1016.1" y2="1048.0" stroke="#000" stroke-width="4.8" />
<line x1="1842.0" y1="1048.0" x2="1834.4" y2="1048.0" stroke="#000" stroke-width="4.8" />
<line x1="1008.5" y1="948.0" x2="1016.1" y2="948.0" stroke="#000" stroke-width="4.8" />
<line x1="1842.0" y1="948.0" x2="1834.4" y2="948.0" stroke="#000" stroke-width="4.8" />
<line x1="1008.5" y1="848.1" x2="1016.1" y2="848.1" stroke="#000" stroke-width="4.8" />
<line x1="1842.0" y1="848.1" x2="1834.4" y2="848.1" stroke="#000" stroke-width="4.8" />
<line x1="1008.5" y1="748.1" x2="1016.1" y2="748.1" stroke="#000" stroke-width="4.8" />
<line x1="1842.0" y1="748.1" x2="1834.4" y2="748.1" stroke="#000" stroke-width="4.8" />
<line x1="1008.5" y1="648.2" x2="1016.1" y2="648.2" stroke="#000" stroke-width="4.8" />
<line x1="1842.0" y1="648.2" x2="1834.4" y2="648.2" stroke="#000" stroke-width="4.8" />
<line x1="1008.5" y1="548.2" x2="1016.1" y2="548.2" stroke="#000" stroke-width="4.8" />
<line x1="1842.0" y1="548.2" x2="1834.4" y2="548.2" stroke="#000" stroke-width="4.8" />
<rect x="1008.5" y="548.0" width="833.5" height="500.0" fill="none" stroke="#000" stroke-width="5"/>
<text x="1000.0" y="1057.7" font-size="32.5" text-anchor="end" stroke="#000" stroke-width="0.55">0</text>
<text x="1000.0" y="957.7" font-size="32.5" text-anchor="end" stroke="#000" stroke-width="0.55">200</text>
<text x="1000.0" y="857.8" font-size="32.5" text-anchor="end" stroke="#000" stroke-width="0.55">400</text>
<text x="1000.0" y="757.8" font-size="32.5" text-anchor="end" stroke="#000" stroke-width="0.55">600</text>
<text x="1000.0" y="657.9" font-size="32.5" text-anchor="end" stroke="#000" stroke-width="0.55">800</text>
<text x="1000.0" y="557.9" font-size="32.5" text-anchor="end" stroke="#000" stroke-width="0.55">1000</text>
<text x="1008.4" y="1081.6" font-size="31.5" text-anchor="middle" stroke="#000" stroke-width="0.55">0</text>
<text x="1091.9" y="1081.6" font-size="31.5" text-anchor="middle" stroke="#000" stroke-width="0.55">10</text>
<text x="1175.4" y="1081.6" font-size="31.5" text-anchor="middle" stroke="#000" stroke-width="0.55">20</text>
<text x="1258.9" y="1081.6" font-size="31.5" text-anchor="middle" stroke="#000" stroke-width="0.55">30</text>
<text x="1342.4" y="1081.6" font-size="31.5" text-anchor="middle" stroke="#000" stroke-width="0.55">40</text>
<text x="1425.9" y="1081.6" font-size="31.5" text-anchor="middle" stroke="#000" stroke-width="0.55">50</text>
<text x="1509.4" y="1081.6" font-size="31.5" text-anchor="middle" stroke="#000" stroke-width="0.55">60</text>
<text x="1592.9" y="1081.6" font-size="31.5" text-anchor="middle" stroke="#000" stroke-width="0.55">70</text>
<text x="1676.4" y="1081.6" font-size="31.5" text-anchor="middle" stroke="#000" stroke-width="0.55">80</text>
<text x="1759.9" y="1081.6" font-size="31.5" text-anchor="middle" stroke="#000" stroke-width="0.55">90</text>
<text x="1843.4" y="1081.6" font-size="31.5" text-anchor="middle" stroke="#000" stroke-width="0.55">100</text>
<text x="1003.9" y="520.5" font-size="43" font-family='"Liberation Serif", "Times New Roman", serif' font-weight="bold" textLength="47.4" lengthAdjust="spacingAndGlyphs">(e)</text>
<text x="1304.0" y="1117.6" font-size="33" textLength="243.4" lengthAdjust="spacingAndGlyphs" stroke="#000" stroke-width="0.55">Pressure (GPa)</text>
<g transform="translate(929,917.4) rotate(-90)">
<text x="0.0" y="0.0" font-size="31.5" textLength="239.0" lengthAdjust="spacingAndGlyphs" stroke="#000" stroke-width="0.55">Temperature (K)</text>
</g>
<line x1="1327.4" y1="897.5" x2="1067.9" y2="1194.2" stroke="#000" stroke-width="1.8" stroke-dasharray="6 4"/>
<line x1="1543.0" y1="897.5" x2="1725.7" y2="1578.9" stroke="#000" stroke-width="1.8" stroke-dasharray="6 4"/>
<rect x="966.6" y="1198.7" width="19.1" height="19.8" fill="#f7f7ff"/>
<rect x="985.3" y="1198.7" width="21.2" height="19.8" fill="#f2f2ff"/>
<rect x="1006.1" y="1198.7" width="21.4" height="19.8" fill="#ededff"/>
<rect x="1027.1" y="1198.7" width="21.4" height="19.8" fill="#ebebff"/>
<rect x="1048.1" y="1198.7" width="21.2" height="19.8" fill="#f5f5ff"/>
<rect x="1068.9" y="1198.7" width="21.7" height="19.8" fill="#ffffff"/>
<rect x="1090.2" y="1198.7" width="21.4" height="19.8" fill="#ffffff"/>
<rect x="1111.2" y="1198.7" width="21.2" height="19.8" fill="#ffffff"/>
<rect x="1132.0" y="1198.7" width="21.3" height="19.8" fill="#ffffff"/>
<rect x="1152.9" y="1198.7" width="19.8" height="19.8" fill="#fafaff"/>
<rect x="966.6" y="1218.1" width="19.1" height="21.2" fill="#ebebff"/>
<rect x="985.3" y="1218.1" width="21.2" height="21.2" fill="#e0e0ff"/>
<rect x="1006.1" y="1218.1" width="21.4" height="21.2" fill="#d9d9ff"/>
<rect x="1027.1" y="1218.1" width="21.4" height="21.2" fill="#dedeff"/>
<rect x="1048.1" y="1218.1" width="21.2" height="21.2" fill="#e6e6ff"/>
<rect x="1068.9" y="1218.1" width="21.7" height="21.2" fill="#ffffff"/>
<rect x="1090.2" y="1218.1" width="21.4" height="21.2" fill="#fff5f5"/>
<rect x="1111.2" y="1218.1" width="21.2" height="21.2" fill="#ffffff"/>
<rect x="1132.0" y="1218.1" width="21.3" height="21.2" fill="#ffffff"/>
<rect x="1152.9" y="1218.1" width="19.8" height="21.2" fill="#fafaff"/>
<rect x="966.6" y="1238.9" width="19.1" height="21.3" fill="#e6e6ff"/>
<rect x="985.3" y="1238.9" width="21.2" height="21.3" fill="#d9d9ff"/>
<rect x="1006.1" y="1238.9" width="21.4" height="21.3" fill="#b2b2ff"/>
<rect x="1027.1" y="1238.9" width="21.4" height="21.3" fill="#b2b2ff"/>
<rect x="1048.1" y="1238.9" width="21.2" height="21.3" fill="#d4d4ff"/>
<rect x="1068.9" y="1238.9" width="21.7" height="21.3" fill="#ffffff"/>
<rect x="1090.2" y="1238.9" width="21.4" height="21.3" fill="#ffffff"/>
<rect x="1111.2" y="1238.9" width="21.2" height="21.3" fill="#f0f0ff"/>
<rect x="1132.0" y="1238.9" width="21.3" height="21.3" fill="#f0f0ff"/>
<rect x="1152.9" y="1238.9" width="19.8" height="21.3" fill="#f7f7ff"/>
<rect x="966.6" y="1259.8" width="19.1" height="21.4" fill="#ebebff"/>
<rect x="985.3" y="1259.8" width="21.2" height="21.4" fill="#d4d4ff"/>
<rect x="1006.1" y="1259.8" width="21.4" height="21.4" fill="#bfbfff"/>
<rect x="1027.1" y="1259.8" width="21.4" height="21.4" fill="#adadff"/>
<rect x="1048.1" y="1259.8" width="21.2" height="21.4" fill="#adadff"/>
<rect x="1068.9" y="1259.8" width="21.7" height="21.4" fill="#babaff"/>
<rect x="1090.2" y="1259.8" width="21.4" height="21.4" fill="#9999ff"/>
<rect x="1111.2" y="1259.8" width="21.2" height="21.4" fill="#c7c7ff"/>
<rect x="1132.0" y="1259.8" width="21.3" height="21.4" fill="#e6e6ff"/>
<rect x="1152.9" y="1259.8" width="19.8" height="21.4" fill="#f0f0ff"/>
<rect x="966.6" y="1280.8" width="19.1" height="21.3" fill="#ebebff"/>
<rect x="985.3" y="1280.8" width="21.2" height="21.3" fill="#d9d9ff"/>
<rect x="1006.1" y="1280.8" width="21.4" height="21.3" fill="#c4c4ff"/>
<rect x="1027.1" y="1280.8" width="21.4" height="21.3" fill="#d1d1ff"/>
<rect x="1048.1" y="1280.8" width="21.2" height="21.3" fill="#9e9eff"/>
<rect x="1068.9" y="1280.8" width="21.7" height="21.3" fill="#7a7aff"/>
<rect x="1090.2" y="1280.8" width="21.4" height="21.3" fill="#6666ff"/>
<rect x="1111.2" y="1280.8" width="21.2" height="21.3" fill="#b2b2ff"/>
<rect x="1132.0" y="1280.8" width="21.3" height="21.3" fill="#dedeff"/>
<rect x="1152.9" y="1280.8" width="19.8" height="21.3" fill="#f0f0ff"/>
<rect x="966.6" y="1301.7" width="19.1" height="21.3" fill="#f7f7ff"/>
<rect x="985.3" y="1301.7" width="21.2" height="21.3" fill="#d4d4ff"/>
<rect x="1006.1" y="1301.7" width="21.4" height="21.3" fill="#b2b2ff"/>
<rect x="1027.1" y="1301.7" width="21.4" height="21.3" fill="#b2b2ff"/>
<rect x="1048.1" y="1301.7" width="21.2" height="21.3" fill="#6666ff"/>
<rect x="1068.9" y="1301.7" width="21.7" height="21.3" fill="#4040ff"/>
<rect x="1090.2" y="1301.7" width="21.4" height="21.3" fill="#6666ff"/>
<rect x="1111.2" y="1301.7" width="21.2" height="21.3" fill="#ccccff"/>
<rect x="1132.0" y="1301.7" width="21.3" height="21.3" fill="#e6e6ff"/>
<rect x="1152.9" y="1301.7" width="19.8" height="21.3" fill="#f2f2ff"/>
<rect x="966.6" y="1322.6" width="19.1" height="21.4" fill="#fffcfc"/>
<rect x="985.3" y="1322.6" width="21.2" height="21.4" fill="#f2f2ff"/>
<rect x="1006.1" y="1322.6" width="21.4" height="21.4" fill="#bfbfff"/>
<rect x="1027.1" y="1322.6" width="21.4" height="21.4" fill="#a6a6ff"/>
<rect x="1048.1" y="1322.6" width="21.2" height="21.4" fill="#8585ff"/>
<rect x="1068.9" y="1322.6" width="21.7" height="21.4" fill="#6e6eff"/>
<rect x="1090.2" y="1322.6" width="21.4" height="21.4" fill="#9494ff"/>
<rect x="1111.2" y="1322.6" width="21.2" height="21.4" fill="#d1d1ff"/>
<rect x="1132.0" y="1322.6" width="21.3" height="21.4" fill="#e6e6ff"/>
<rect x="1152.9" y="1322.6" width="19.8" height="21.4" fill="#f2f2ff"/>
<rect x="966.6" y="1343.6" width="19.1" height="21.2" fill="#fff0f0"/>
<rect x="985.3" y="1343.6" width="21.2" height="21.2" fill="#fff0f0"/>
<rect x="1006.1" y="1343.6" width="21.4" height="21.2" fill="#f2f2ff"/>
<rect x="1027.1" y="1343.6" width="21.4" height="21.2" fill="#9e9eff"/>
<rect x="1048.1" y="1343.6" width="21.2" height="21.2" fill="#b2b2ff"/>
<rect x="1068.9" y="1343.6" width="21.7" height="21.2" fill="#d1d1ff"/>
<rect x="1090.2" y="1343.6" width="21.4" height="21.2" fill="#e6e6ff"/>
<rect x="1111.2" y="1343.6" width="21.2" height="21.2" fill="#ebebff"/>
<rect x="1132.0" y="1343.6" width="21.3" height="21.2" fill="#ebebff"/>
<rect x="1152.9" y="1343.6" width="19.8" height="21.2" fill="#f5f5ff"/>
<rect x="966.6" y="1364.4" width="19.1" height="21.4" fill="#ffe6e6"/>
<rect x="985.3" y="1364.4" width="21.2" height="21.4" fill="#ffd1d1"/>
<rect x="1006.1" y="1364.4" width="21.4" height="21.4" fill="#ffd1d1"/>
<rect x="1027.1" y="1364.4" width="21.4" height="21.4" fill="#8080ff"/>
<rect x="1048.1" y="1364.4" width="21.2" height="21.4" fill="#8787ff"/>
<rect x="1068.9" y="1364.4" width="21.7" height="21.4" fill="#ccccff"/>
<rect x="1090.2" y="1364.4" width="21.4" height="21.4" fill="#ffbfbf"/>
<rect x="1111.2" y="1364.4" width="21.2" height="21.4" fill="#ff3838"/>
<rect x="1132.0" y="1364.4" width="21.3" height="21.4" fill="#fafaff"/>
<rect x="1152.9" y="1364.4" width="19.8" height="21.4" fill="#f5f5ff"/>
<rect x="966.6" y="1385.4" width="19.1" height="21.2" fill="#ffe0e0"/>
<rect x="985.3" y="1385.4" width="21.2" height="21.2" fill="#ffbfbf"/>
<rect x="1006.1" y="1385.4" width="21.4" height="21.2" fill="#ffabab"/>
<rect x="1027.1" y="1385.4" width="21.4" height="21.2" fill="#bfbfff"/>
<rect x="1048.1" y="1385.4" width="21.2" height="21.2" fill="#8080ff"/>
<rect x="1068.9" y="1385.4" width="21.7" height="21.2" fill="#d4d4ff"/>
<rect x="1090.2" y="1385.4" width="21.4" height="21.2" fill="#ff9e9e"/>
<rect x="1111.2" y="1385.4" width="21.2" height="21.2" fill="#ff0000"/>
<rect x="1132.0" y="1385.4" width="21.3" height="21.2" fill="#fcfcff"/>
<rect x="1152.9" y="1385.4" width="19.8" height="21.2" fill="#f5f5ff"/>
<rect x="966.6" y="1406.2" width="19.1" height="21.4" fill="#ffe6e6"/>
<rect x="985.3" y="1406.2" width="21.2" height="21.4" fill="#ffb2b2"/>
<rect x="1006.1" y="1406.2" width="21.4" height="21.4" fill="#ffabab"/>
<rect x="1027.1" y="1406.2" width="21.4" height="21.4" fill="#ffd1d1"/>
<rect x="1048.1" y="1406.2" width="21.2" height="21.4" fill="#f7f7ff"/>
<rect x="1068.9" y="1406.2" width="21.7" height="21.4" fill="#ffe6e6"/>
<rect x="1090.2" y="1406.2" width="21.4" height="21.4" fill="#ffbfbf"/>
<rect x="1111.2" y="1406.2" width="21.2" height="21.4" fill="#ffe6e6"/>
<rect x="1132.0" y="1406.2" width="21.3" height="21.4" fill="#fafaff"/>
<rect x="1152.9" y="1406.2" width="19.8" height="21.4" fill="#f7f7ff"/>
<rect x="966.6" y="1427.2" width="19.1" height="21.3" fill="#ffeded"/>
<rect x="985.3" y="1427.2" width="21.2" height="21.3" fill="#ffd1d1"/>
<rect x="1006.1" y="1427.2" width="21.4" height="21.3" fill="#ffbfbf"/>
<rect x="1027.1" y="1427.2" width="21.4" height="21.3" fill="#ff9e9e"/>
<rect x="1048.1" y="1427.2" width="21.2" height="21.3" fill="#ff6b6b"/>
<rect x="1068.9" y="1427.2" width="21.7" height="21.3" fill="#ffa6a6"/>
<rect x="1090.2" y="1427.2" width="21.4" height="21.3" fill="#ffffff"/>
<rect x="1111.2" y="1427.2" width="21.2" height="21.3" fill="#d9d9ff"/>
<rect x="1132.0" y="1427.2" width="21.3" height="21.3" fill="#e6e6ff"/>
<rect x="1152.9" y="1427.2" width="19.8" height="21.3" fill="#f2f2ff"/>
<rect x="966.6" y="1448.1" width="19.1" height="21.3" fill="#fff2f2"/>
<rect x="985.3" y="1448.1" width="21.2" height="21.3" fill="#ffdede"/>
<rect x="1006.1" y="1448.1" width="21.4" height="21.3" fill="#ffc7c7"/>
<rect x="1027.1" y="1448.1" width="21.4" height="21.3" fill="#ffa6a6"/>
<rect x="1048.1" y="1448.1" width="21.2" height="21.3" fill="#ff8c8c"/>
<rect x="1068.9" y="1448.1" width="21.7" height="21.3" fill="#ffb2b2"/>
<rect x="1090.2" y="1448.1" width="21.4" height="21.3" fill="#ffe6e6"/>
<rect x="1111.2" y="1448.1" width="21.2" height="21.3" fill="#ebebff"/>
<rect x="1132.0" y="1448.1" width="21.3" height="21.3" fill="#ededff"/>
<rect x="1152.9" y="1448.1" width="19.8" height="21.3" fill="#f7f7ff"/>
<rect x="966.6" y="1469.0" width="19.1" height="18.9" fill="#fff7f7"/>
<rect x="985.3" y="1469.0" width="21.2" height="18.9" fill="#ffe6e6"/>
<rect x="1006.1" y="1469.0" width="21.4" height="18.9" fill="#ffd9d9"/>
<rect x="1027.1" y="1469.0" width="21.4" height="18.9" fill="#ffcccc"/>
<rect x="1048.1" y="1469.0" width="21.2" height="18.9" fill="#ffbfbf"/>
<rect x="1068.9" y="1469.0" width="21.7" height="18.9" fill="#ffcccc"/>
<rect x="1090.2" y="1469.0" width="21.4" height="18.9" fill="#ffe6e6"/>
<rect x="1111.2" y="1469.0" width="21.2" height="18.9" fill="#ffffff"/>
<rect x="1132.0" y="1469.0" width="21.3" height="18.9" fill="#fafaff"/>
<rect x="1152.9" y="1469.0" width="19.8" height="18.9" fill="#fafaff"/>
<rect x="1192.6" y="1198.7" width="18.9" height="19.8" fill="#f7f7ff"/>
<rect x="1211.1" y="1198.7" width="21.3" height="19.8" fill="#f2f2ff"/>
<rect x="1232.0" y="1198.7" width="21.3" height="19.8" fill="#ededff"/>
<rect x="1252.9" y="1198.7" width="21.7" height="19.8" fill="#ededff"/>
<rect x="1274.2" y="1198.7" width="21.2" height="19.8" fill="#f0f0ff"/>
<rect x="1295.0" y="1198.7" width="21.4" height="19.8" fill="#f7f7ff"/>
<rect x="1316.0" y="1198.7" width="21.4" height="19.8" fill="#f7f7ff"/>
<rect x="1337.0" y="1198.7" width="21.5" height="19.8" fill="#f7f7ff"/>
<rect x="1358.1" y="1198.7" width="21.1" height="19.8" fill="#fafaff"/>
<rect x="1378.8" y="1198.7" width="19.4" height="19.8" fill="#f7f7ff"/>
<rect x="1192.6" y="1218.1" width="18.9" height="21.2" fill="#f7f7ff"/>
<rect x="1211.1" y="1218.1" width="21.3" height="21.2" fill="#e6e6ff"/>
<rect x="1232.0" y="1218.1" width="21.3" height="21.2" fill="#d4d4ff"/>
<rect x="1252.9" y="1218.1" width="21.7" height="21.2" fill="#e0e0ff"/>
<rect x="1274.2" y="1218.1" width="21.2" height="21.2" fill="#e6e6ff"/>
<rect x="1295.0" y="1218.1" width="21.4" height="21.2" fill="#f7f7ff"/>
<rect x="1316.0" y="1218.1" width="21.4" height="21.2" fill="#ffffff"/>
<rect x="1337.0" y="1218.1" width="21.5" height="21.2" fill="#f7f7ff"/>
<rect x="1358.1" y="1218.1" width="21.1" height="21.2" fill="#f7f7ff"/>
<rect x="1378.8" y="1218.1" width="19.4" height="21.2" fill="#f7f7ff"/>
<rect x="1192.6" y="1238.9" width="18.9" height="21.3" fill="#f5f5ff"/>
<rect x="1211.1" y="1238.9" width="21.3" height="21.3" fill="#d1d1ff"/>
<rect x="1232.0" y="1238.9" width="21.3" height="21.3" fill="#ccccff"/>
<rect x="1252.9" y="1238.9" width="21.7" height="21.3" fill="#d1d1ff"/>
<rect x="1274.2" y="1238.9" width="21.2" height="21.3" fill="#e0e0ff"/>
<rect x="1295.0" y="1238.9" width="21.4" height="21.3" fill="#fafaff"/>
<rect x="1316.0" y="1238.9" width="21.4" height="21.3" fill="#ededff"/>
<rect x="1337.0" y="1238.9" width="21.5" height="21.3" fill="#e6e6ff"/>
<rect x="1358.1" y="1238.9" width="21.1" height="21.3" fill="#ededff"/>
<rect x="1378.8" y="1238.9" width="19.4" height="21.3" fill="#f7f7ff"/>
<rect x="1192.6" y="1259.8" width="18.9" height="21.4" fill="#f0f0ff"/>
<rect x="1211.1" y="1259.8" width="21.3" height="21.4" fill="#d9d9ff"/>
<rect x="1232.0" y="1259.8" width="21.3" height="21.4" fill="#d9d9ff"/>
<rect x="1252.9" y="1259.8" width="21.7" height="21.4" fill="#f0f0ff"/>
<rect x="1274.2" y="1259.8" width="21.2" height="21.4" fill="#ebebff"/>
<rect x="1295.0" y="1259.8" width="21.4" height="21.4" fill="#d9d9ff"/>
<rect x="1316.0" y="1259.8" width="21.4" height="21.4" fill="#ccccff"/>
<rect x="1337.0" y="1259.8" width="21.5" height="21.4" fill="#dedeff"/>
<rect x="1358.1" y="1259.8" width="21.1" height="21.4" fill="#f0f0ff"/>
<rect x="1378.8" y="1259.8" width="19.4" height="21.4" fill="#f7f7ff"/>
<rect x="1192.6" y="1280.8" width="18.9" height="21.3" fill="#f5f5ff"/>
<rect x="1211.1" y="1280.8" width="21.3" height="21.3" fill="#ebebff"/>
<rect x="1232.0" y="1280.8" width="21.3" height="21.3" fill="#ebebff"/>
<rect x="1252.9" y="1280.8" width="21.7" height="21.3" fill="#f0f0ff"/>
<rect x="1274.2" y="1280.8" width="21.2" height="21.3" fill="#c7c7ff"/>
<rect x="1295.0" y="1280.8" width="21.4" height="21.3" fill="#c7c7ff"/>
<rect x="1316.0" y="1280.8" width="21.4" height="21.3" fill="#c7c7ff"/>
<rect x="1337.0" y="1280.8" width="21.5" height="21.3" fill="#dedeff"/>
<rect x="1358.1" y="1280.8" width="21.1" height="21.3" fill="#ebebff"/>
<rect x="1378.8" y="1280.8" width="19.4" height="21.3" fill="#f2f2ff"/>
<rect x="1192.6" y="1301.7" width="18.9" height="21.3" fill="#f5f5ff"/>
<rect x="1211.1" y="1301.7" width="21.3" height="21.3" fill="#f2f2ff"/>
<rect x="1232.0" y="1301.7" width="21.3" height="21.3" fill="#e6e6ff"/>
<rect x="1252.9" y="1301.7" width="21.7" height="21.3" fill="#ebebff"/>
<rect x="1274.2" y="1301.7" width="21.2" height="21.3" fill="#d9d9ff"/>
<rect x="1295.0" y="1301.7" width="21.4" height="21.3" fill="#d9d9ff"/>
<rect x="1316.0" y="1301.7" width="21.4" height="21.3" fill="#d9d9ff"/>
<rect x="1337.0" y="1301.7" width="21.5" height="21.3" fill="#e0e0ff"/>
<rect x="1358.1" y="1301.7" width="21.1" height="21.3" fill="#ededff"/>
<rect x="1378.8" y="1301.7" width="19.4" height="21.3" fill="#ededff"/>
<rect x="1192.6" y="1322.6" width="18.9" height="21.4" fill="#fafaff"/>
<rect x="1211.1" y="1322.6" width="21.3" height="21.4" fill="#f5f5ff"/>
<rect x="1232.0" y="1322.6" width="21.3" height="21.4" fill="#ebebff"/>
<rect x="1252.9" y="1322.6" width="21.7" height="21.4" fill="#fafaff"/>
<rect x="1274.2" y="1322.6" width="21.2" height="21.4" fill="#fffafa"/>
<rect x="1295.0" y="1322.6" width="21.4" height="21.4" fill="#fafaff"/>
<rect x="1316.0" y="1322.6" width="21.4" height="21.4" fill="#fafaff"/>
<rect x="1337.0" y="1322.6" width="21.5" height="21.4" fill="#ebebff"/>
<rect x="1358.1" y="1322.6" width="21.1" height="21.4" fill="#ededff"/>
<rect x="1378.8" y="1322.6" width="19.4" height="21.4" fill="#f0f0ff"/>
<rect x="1192.6" y="1343.6" width="18.9" height="21.2" fill="#fcfcff"/>
<rect x="1211.1" y="1343.6" width="21.3" height="21.2" fill="#fcfcff"/>
<rect x="1232.0" y="1343.6" width="21.3" height="21.2" fill="#d9d9ff"/>
<rect x="1252.9" y="1343.6" width="21.7" height="21.2" fill="#f2f2ff"/>
<rect x="1274.2" y="1343.6" width="21.2" height="21.2" fill="#ffebeb"/>
<rect x="1295.0" y="1343.6" width="21.4" height="21.2" fill="#ffcccc"/>
<rect x="1316.0" y="1343.6" width="21.4" height="21.2" fill="#ffa6a6"/>
<rect x="1337.0" y="1343.6" width="21.5" height="21.2" fill="#fffafa"/>
<rect x="1358.1" y="1343.6" width="21.1" height="21.2" fill="#f2f2ff"/>
<rect x="1378.8" y="1343.6" width="19.4" height="21.2" fill="#f5f5ff"/>
<rect x="1192.6" y="1364.4" width="18.9" height="21.4" fill="#fff7f7"/>
<rect x="1211.1" y="1364.4" width="21.3" height="21.4" fill="#fafaff"/>
<rect x="1232.0" y="1364.4" width="21.3" height="21.4" fill="#ccccff"/>
<rect x="1252.9" y="1364.4" width="21.7" height="21.4" fill="#d9d9ff"/>
<rect x="1274.2" y="1364.4" width="21.2" height="21.4" fill="#fff0f0"/>
<rect x="1295.0" y="1364.4" width="21.4" height="21.4" fill="#ff9e9e"/>
<rect x="1316.0" y="1364.4" width="21.4" height="21.4" fill="#ff4d4d"/>
<rect x="1337.0" y="1364.4" width="21.5" height="21.4" fill="#ffe0e0"/>
<rect x="1358.1" y="1364.4" width="21.1" height="21.4" fill="#f7f7ff"/>
<rect x="1378.8" y="1364.4" width="19.4" height="21.4" fill="#f5f5ff"/>
<rect x="1192.6" y="1385.4" width="18.9" height="21.2" fill="#fff5f5"/>
<rect x="1211.1" y="1385.4" width="21.3" height="21.2" fill="#fff5f5"/>
<rect x="1232.0" y="1385.4" width="21.3" height="21.2" fill="#ffffff"/>
<rect x="1252.9" y="1385.4" width="21.7" height="21.2" fill="#b2b2ff"/>
<rect x="1274.2" y="1385.4" width="21.2" height="21.2" fill="#d9d9ff"/>
<rect x="1295.0" y="1385.4" width="21.4" height="21.2" fill="#ffbfbf"/>
<rect x="1316.0" y="1385.4" width="21.4" height="21.2" fill="#ff5959"/>
<rect x="1337.0" y="1385.4" width="21.5" height="21.2" fill="#ff5959"/>
<rect x="1358.1" y="1385.4" width="21.1" height="21.2" fill="#fafaff"/>
<rect x="1378.8" y="1385.4" width="19.4" height="21.2" fill="#f2f2ff"/>
<rect x="1192.6" y="1406.2" width="18.9" height="21.4" fill="#fff2f2"/>
<rect x="1211.1" y="1406.2" width="21.3" height="21.4" fill="#ffeded"/>
<rect x="1232.0" y="1406.2" width="21.3" height="21.4" fill="#fffcfc"/>
<rect x="1252.9" y="1406.2" width="21.7" height="21.4" fill="#fafaff"/>
<rect x="1274.2" y="1406.2" width="21.2" height="21.4" fill="#ffcccc"/>
<rect x="1295.0" y="1406.2" width="21.4" height="21.4" fill="#ff9999"/>
<rect x="1316.0" y="1406.2" width="21.4" height="21.4" fill="#ffa6a6"/>
<rect x="1337.0" y="1406.2" width="21.5" height="21.4" fill="#ffffff"/>
<rect x="1358.1" y="1406.2" width="21.1" height="21.4" fill="#ededff"/>
<rect x="1378.8" y="1406.2" width="19.4" height="21.4" fill="#f2f2ff"/>
<rect x="1192.6" y="1427.2" width="18.9" height="21.3" fill="#fff7f7"/>
<rect x="1211.1" y="1427.2" width="21.3" height="21.3" fill="#ffeded"/>
<rect x="1232.0" y="1427.2" width="21.3" height="21.3" fill="#ffdede"/>
<rect x="1252.9" y="1427.2" width="21.7" height="21.3" fill="#ffb8b8"/>
<rect x="1274.2" y="1427.2" width="21.2" height="21.3" fill="#ffb8b8"/>
<rect x="1295.0" y="1427.2" width="21.4" height="21.3" fill="#ffdede"/>
<rect x="1316.0" y="1427.2" width="21.4" height="21.3" fill="#ededff"/>
<rect x="1337.0" y="1427.2" width="21.5" height="21.3" fill="#dedeff"/>
<rect x="1358.1" y="1427.2" width="21.1" height="21.3" fill="#ebebff"/>
<rect x="1378.8" y="1427.2" width="19.4" height="21.3" fill="#f7f7ff"/>
<rect x="1192.6" y="1448.1" width="18.9" height="21.3" fill="#fffafa"/>
<rect x="1211.1" y="1448.1" width="21.3" height="21.3" fill="#ffeded"/>
<rect x="1232.0" y="1448.1" width="21.3" height="21.3" fill="#ffdede"/>
<rect x="1252.9" y="1448.1" width="21.7" height="21.3" fill="#ffb8b8"/>
<rect x="1274.2" y="1448.1" width="21.2" height="21.3" fill="#ffcccc"/>
<rect x="1295.0" y="1448.1" width="21.4" height="21.3" fill="#ffffff"/>
<rect x="1316.0" y="1448.1" width="21.4" height="21.3" fill="#e6e6ff"/>
<rect x="1337.0" y="1448.1" width="21.5" height="21.3" fill="#e0e0ff"/>
<rect x="1358.1" y="1448.1" width="21.1" height="21.3" fill="#f0f0ff"/>
<rect x="1378.8" y="1448.1" width="19.4" height="21.3" fill="#f7f7ff"/>
<rect x="1192.6" y="1469.0" width="18.9" height="18.9" fill="#fffafa"/>
<rect x="1211.1" y="1469.0" width="21.3" height="18.9" fill="#fff2f2"/>
<rect x="1232.0" y="1469.0" width="21.3" height="18.9" fill="#ffebeb"/>
<rect x="1252.9" y="1469.0" width="21.7" height="18.9" fill="#ffe0e0"/>
<rect x="1274.2" y="1469.0" width="21.2" height="18.9" fill="#ffebeb"/>
<rect x="1295.0" y="1469.0" width="21.4" height="18.9" fill="#fafaff"/>
<rect x="1316.0" y="1469.0" width="21.4" height="18.9" fill="#f2f2ff"/>
<rect x="1337.0" y="1469.0" width="21.5" height="18.9" fill="#f2f2ff"/>
<rect x="1358.1" y="1469.0" width="21.1" height="18.9" fill="#f7f7ff"/>
<rect x="1378.8" y="1469.0" width="19.4" height="18.9" fill="#fafaff"/>
<rect x="1164.1" y="1584.6" width="18.6" height="18.9" fill="#e6e6ff"/>
<rect x="1182.3" y="1584.6" width="21.2" height="18.9" fill="#e6e6ff"/>
<rect x="1203.1" y="1584.6" width="21.3" height="18.9" fill="#ebebff"/>
<rect x="1224.0" y="1584.6" width="21.6" height="18.9" fill="#e6e6ff"/>
<rect x="1245.2" y="1584.6" width="21.3" height="18.9" fill="#e6e6ff"/>
<rect x="1266.1" y="1584.6" width="21.2" height="18.9" fill="#e6e6ff"/>
<rect x="1286.9" y="1584.6" width="21.8" height="18.9" fill="#e6e6ff"/>
<rect x="1308.3" y="1584.6" width="21.2" height="18.9" fill="#e6e6ff"/>
<rect x="1329.1" y="1584.6" width="21.6" height="18.9" fill="#e0e0ff"/>
<rect x="1350.3" y="1584.6" width="19.0" height="18.9" fill="#e0e0ff"/>
<rect x="1164.1" y="1603.1" width="18.6" height="22.1" fill="#f0f0ff"/>
<rect x="1182.3" y="1603.1" width="21.2" height="22.1" fill="#f0f0ff"/>
<rect x="1203.1" y="1603.1" width="21.3" height="22.1" fill="#e6e6ff"/>
<rect x="1224.0" y="1603.1" width="21.6" height="22.1" fill="#e6e6ff"/>
<rect x="1245.2" y="1603.1" width="21.3" height="22.1" fill="#e0e0ff"/>
<rect x="1266.1" y="1603.1" width="21.2" height="22.1" fill="#f0f0ff"/>
<rect x="1286.9" y="1603.1" width="21.8" height="22.1" fill="#ebebff"/>
<rect x="1308.3" y="1603.1" width="21.2" height="22.1" fill="#f0f0ff"/>
<rect x="1329.1" y="1603.1" width="21.6" height="22.1" fill="#e6e6ff"/>
<rect x="1350.3" y="1603.1" width="19.0" height="22.1" fill="#ebebff"/>
<rect x="1164.1" y="1624.8" width="18.6" height="21.2" fill="#ededff"/>
<rect x="1182.3" y="1624.8" width="21.2" height="21.2" fill="#f0f0ff"/>
<rect x="1203.1" y="1624.8" width="21.3" height="21.2" fill="#d1d1ff"/>
<rect x="1224.0" y="1624.8" width="21.6" height="21.2" fill="#e6e6ff"/>
<rect x="1245.2" y="1624.8" width="21.3" height="21.2" fill="#f0f0ff"/>
<rect x="1266.1" y="1624.8" width="21.2" height="21.2" fill="#f0f0ff"/>
<rect x="1286.9" y="1624.8" width="21.8" height="21.2" fill="#e0e0ff"/>
<rect x="1308.3" y="1624.8" width="21.2" height="21.2" fill="#d9d9ff"/>
<rect x="1329.1" y="1624.8" width="21.6" height="21.2" fill="#e0e0ff"/>
<rect x="1350.3" y="1624.8" width="19.0" height="21.2" fill="#e6e6ff"/>
<rect x="1164.1" y="1645.6" width="18.6" height="21.3" fill="#e6e6ff"/>
<rect x="1182.3" y="1645.6" width="21.2" height="21.3" fill="#f2f2ff"/>
<rect x="1203.1" y="1645.6" width="21.3" height="21.3" fill="#ccccff"/>
<rect x="1224.0" y="1645.6" width="21.6" height="21.3" fill="#d1d1ff"/>
<rect x="1245.2" y="1645.6" width="21.3" height="21.3" fill="#d6d6ff"/>
<rect x="1266.1" y="1645.6" width="21.2" height="21.3" fill="#d6d6ff"/>
<rect x="1286.9" y="1645.6" width="21.8" height="21.3" fill="#e0e0ff"/>
<rect x="1308.3" y="1645.6" width="21.2" height="21.3" fill="#d1d1ff"/>
<rect x="1329.1" y="1645.6" width="21.6" height="21.3" fill="#e0e0ff"/>
<rect x="1350.3" y="1645.6" width="19.0" height="21.3" fill="#e6e6ff"/>
<rect x="1164.1" y="1666.5" width="18.6" height="21.2" fill="#e6e6ff"/>
<rect x="1182.3" y="1666.5" width="21.2" height="21.2" fill="#f2f2ff"/>
<rect x="1203.1" y="1666.5" width="21.3" height="21.2" fill="#d4d4ff"/>
<rect x="1224.0" y="1666.5" width="21.6" height="21.2" fill="#ccccff"/>
<rect x="1245.2" y="1666.5" width="21.3" height="21.2" fill="#c7c7ff"/>
<rect x="1266.1" y="1666.5" width="21.2" height="21.2" fill="#c7c7ff"/>
<rect x="1286.9" y="1666.5" width="21.8" height="21.2" fill="#e6e6ff"/>
<rect x="1308.3" y="1666.5" width="21.2" height="21.2" fill="#dedeff"/>
<rect x="1329.1" y="1666.5" width="21.6" height="21.2" fill="#e0e0ff"/>
<rect x="1350.3" y="1666.5" width="19.0" height="21.2" fill="#ededff"/>
<rect x="1164.1" y="1687.3" width="18.6" height="21.3" fill="#ededff"/>
<rect x="1182.3" y="1687.3" width="21.2" height="21.3" fill="#ededff"/>
<rect x="1203.1" y="1687.3" width="21.3" height="21.3" fill="#e0e0ff"/>
<rect x="1224.0" y="1687.3" width="21.6" height="21.3" fill="#f0f0ff"/>
<rect x="1245.2" y="1687.3" width="21.3" height="21.3" fill="#fff7f7"/>
<rect x="1266.1" y="1687.3" width="21.2" height="21.3" fill="#ebebff"/>
<rect x="1286.9" y="1687.3" width="21.8" height="21.3" fill="#dedeff"/>
<rect x="1308.3" y="1687.3" width="21.2" height="21.3" fill="#dedeff"/>
<rect x="1329.1" y="1687.3" width="21.6" height="21.3" fill="#dedeff"/>
<rect x="1350.3" y="1687.3" width="19.0" height="21.3" fill="#d4d4ff"/>
<rect x="1164.1" y="1708.2" width="18.6" height="21.3" fill="#e6e6ff"/>
<rect x="1182.3" y="1708.2" width="21.2" height="21.3" fill="#ededff"/>
<rect x="1203.1" y="1708.2" width="21.3" height="21.3" fill="#e0e0ff"/>
<rect x="1224.0" y="1708.2" width="21.6" height="21.3" fill="#fcfcff"/>
<rect x="1245.2" y="1708.2" width="21.3" height="21.3" fill="#ffbfbf"/>
<rect x="1266.1" y="1708.2" width="21.2" height="21.3" fill="#ffbfbf"/>
<rect x="1286.9" y="1708.2" width="21.8" height="21.3" fill="#fffafa"/>
<rect x="1308.3" y="1708.2" width="21.2" height="21.3" fill="#f2f2ff"/>
<rect x="1329.1" y="1708.2" width="21.6" height="21.3" fill="#e6e6ff"/>
<rect x="1350.3" y="1708.2" width="19.0" height="21.3" fill="#dedeff"/>
<rect x="1164.1" y="1729.1" width="18.6" height="21.2" fill="#f0f0ff"/>
<rect x="1182.3" y="1729.1" width="21.2" height="21.2" fill="#f0f0ff"/>
<rect x="1203.1" y="1729.1" width="21.3" height="21.2" fill="#f0f0ff"/>
<rect x="1224.0" y="1729.1" width="21.6" height="21.2" fill="#f0f0ff"/>
<rect x="1245.2" y="1729.1" width="21.3" height="21.2" fill="#ffe0e0"/>
<rect x="1266.1" y="1729.1" width="21.2" height="21.2" fill="#ffcccc"/>
<rect x="1286.9" y="1729.1" width="21.8" height="21.2" fill="#ffcccc"/>
<rect x="1308.3" y="1729.1" width="21.2" height="21.2" fill="#ffd4d4"/>
<rect x="1329.1" y="1729.1" width="21.6" height="21.2" fill="#f0f0ff"/>
<rect x="1350.3" y="1729.1" width="19.0" height="21.2" fill="#d9d9ff"/>
<rect x="1164.1" y="1749.9" width="18.6" height="21.3" fill="#f0f0ff"/>
<rect x="1182.3" y="1749.9" width="21.2" height="21.3" fill="#f0f0ff"/>
<rect x="1203.1" y="1749.9" width="21.3" height="21.3" fill="#f5f5ff"/>
<rect x="1224.0" y="1749.9" width="21.6" height="21.3" fill="#d4d4ff"/>
<rect x="1245.2" y="1749.9" width="21.3" height="21.3" fill="#e0e0ff"/>
<rect x="1266.1" y="1749.9" width="21.2" height="21.3" fill="#ffe0e0"/>
<rect x="1286.9" y="1749.9" width="21.8" height="21.3" fill="#ffd4d4"/>
<rect x="1308.3" y="1749.9" width="21.2" height="21.3" fill="#ffd9d9"/>
<rect x="1329.1" y="1749.9" width="21.6" height="21.3" fill="#ededff"/>
<rect x="1350.3" y="1749.9" width="19.0" height="21.3" fill="#d9d9ff"/>
<rect x="1164.1" y="1770.8" width="18.6" height="21.3" fill="#f0f0ff"/>
<rect x="1182.3" y="1770.8" width="21.2" height="21.3" fill="#f0f0ff"/>
<rect x="1203.1" y="1770.8" width="21.3" height="21.3" fill="#ebebff"/>
<rect x="1224.0" y="1770.8" width="21.6" height="21.3" fill="#d9d9ff"/>
<rect x="1245.2" y="1770.8" width="21.3" height="21.3" fill="#f0f0ff"/>
<rect x="1266.1" y="1770.8" width="21.2" height="21.3" fill="#ffbfbf"/>
<rect x="1286.9" y="1770.8" width="21.8" height="21.3" fill="#ffb8b8"/>
<rect x="1308.3" y="1770.8" width="21.2" height="21.3" fill="#fff5f5"/>
<rect x="1329.1" y="1770.8" width="21.6" height="21.3" fill="#ededff"/>
<rect x="1350.3" y="1770.8" width="19.0" height="21.3" fill="#d9d9ff"/>
<rect x="1164.1" y="1791.7" width="18.6" height="21.2" fill="#f0f0ff"/>
<rect x="1182.3" y="1791.7" width="21.2" height="21.2" fill="#f0f0ff"/>
<rect x="1203.1" y="1791.7" width="21.3" height="21.2" fill="#f7f7ff"/>
<rect x="1224.0" y="1791.7" width="21.6" height="21.2" fill="#fff0f0"/>
<rect x="1245.2" y="1791.7" width="21.3" height="21.2" fill="#ffd9d9"/>
<rect x="1266.1" y="1791.7" width="21.2" height="21.2" fill="#ffdede"/>
<rect x="1286.9" y="1791.7" width="21.8" height="21.2" fill="#fff5f5"/>
<rect x="1308.3" y="1791.7" width="21.2" height="21.2" fill="#e6e6ff"/>
<rect x="1329.1" y="1791.7" width="21.6" height="21.2" fill="#ccccff"/>
<rect x="1350.3" y="1791.7" width="19.0" height="21.2" fill="#c7c7ff"/>
<rect x="1164.1" y="1812.5" width="18.6" height="21.6" fill="#f7f7ff"/>
<rect x="1182.3" y="1812.5" width="21.2" height="21.6" fill="#f7f7ff"/>
<rect x="1203.1" y="1812.5" width="21.3" height="21.6" fill="#fff5f5"/>
<rect x="1224.0" y="1812.5" width="21.6" height="21.6" fill="#ffd9d9"/>
<rect x="1245.2" y="1812.5" width="21.3" height="21.6" fill="#ffd9d9"/>
<rect x="1266.1" y="1812.5" width="21.2" height="21.6" fill="#fafaff"/>
<rect x="1286.9" y="1812.5" width="21.8" height="21.6" fill="#d4d4ff"/>
<rect x="1308.3" y="1812.5" width="21.2" height="21.6" fill="#babaff"/>
<rect x="1329.1" y="1812.5" width="21.6" height="21.6" fill="#ccccff"/>
<rect x="1350.3" y="1812.5" width="19.0" height="21.6" fill="#d9d9ff"/>
<rect x="1164.1" y="1833.7" width="18.6" height="21.3" fill="#f5f5ff"/>
<rect x="1182.3" y="1833.7" width="21.2" height="21.3" fill="#ffffff"/>
<rect x="1203.1" y="1833.7" width="21.3" height="21.3" fill="#fff2f2"/>
<rect x="1224.0" y="1833.7" width="21.6" height="21.3" fill="#ffd9d9"/>
<rect x="1245.2" y="1833.7" width="21.3" height="21.3" fill="#fff0f0"/>
<rect x="1266.1" y="1833.7" width="21.2" height="21.3" fill="#fafaff"/>
<rect x="1286.9" y="1833.7" width="21.8" height="21.3" fill="#d4d4ff"/>
<rect x="1308.3" y="1833.7" width="21.2" height="21.3" fill="#d4d4ff"/>
<rect x="1329.1" y="1833.7" width="21.6" height="21.3" fill="#d9d9ff"/>
<rect x="1350.3" y="1833.7" width="19.0" height="21.3" fill="#e6e6ff"/>
<rect x="1164.1" y="1854.6" width="18.6" height="19.6" fill="#f5f5ff"/>
<rect x="1182.3" y="1854.6" width="21.2" height="19.6" fill="#ffffff"/>
<rect x="1203.1" y="1854.6" width="21.3" height="19.6" fill="#fff7f7"/>
<rect x="1224.0" y="1854.6" width="21.6" height="19.6" fill="#ffeded"/>
<rect x="1245.2" y="1854.6" width="21.3" height="19.6" fill="#ffeded"/>
<rect x="1266.1" y="1854.6" width="21.2" height="19.6" fill="#fafaff"/>
<rect x="1286.9" y="1854.6" width="21.8" height="19.6" fill="#ebebff"/>
<rect x="1308.3" y="1854.6" width="21.2" height="19.6" fill="#e6e6ff"/>
<rect x="1329.1" y="1854.6" width="21.6" height="19.6" fill="#ededff"/>
<rect x="1350.3" y="1854.6" width="19.0" height="19.6" fill="#ebebff"/>
<rect x="1393.8" y="1584.6" width="18.6" height="18.9" fill="#fffcfc"/>
<rect x="1412.0" y="1584.6" width="21.5" height="18.9" fill="#fff5f5"/>
<rect x="1433.1" y="1584.6" width="21.3" height="18.9" fill="#fff2f2"/>
<rect x="1454.0" y="1584.6" width="21.6" height="18.9" fill="#fff5f5"/>
<rect x="1475.2" y="1584.6" width="21.3" height="18.9" fill="#fffcfc"/>
<rect x="1496.1" y="1584.6" width="21.2" height="18.9" fill="#fffcfc"/>
<rect x="1516.9" y="1584.6" width="21.8" height="18.9" fill="#f5f5ff"/>
<rect x="1538.3" y="1584.6" width="21.2" height="18.9" fill="#f5f5ff"/>
<rect x="1559.1" y="1584.6" width="21.6" height="18.9" fill="#fcfcff"/>
<rect x="1580.3" y="1584.6" width="19.0" height="18.9" fill="#fffcfc"/>
<rect x="1393.8" y="1603.1" width="18.6" height="22.1" fill="#fffcfc"/>
<rect x="1412.0" y="1603.1" width="21.5" height="22.1" fill="#fffcfc"/>
<rect x="1433.1" y="1603.1" width="21.3" height="22.1" fill="#fff2f2"/>
<rect x="1454.0" y="1603.1" width="21.6" height="22.1" fill="#ffe6e6"/>
<rect x="1475.2" y="1603.1" width="21.3" height="22.1" fill="#fff7f7"/>
<rect x="1496.1" y="1603.1" width="21.2" height="22.1" fill="#ebebff"/>
<rect x="1516.9" y="1603.1" width="21.8" height="22.1" fill="#e6e6ff"/>
<rect x="1538.3" y="1603.1" width="21.2" height="22.1" fill="#f7f7ff"/>
<rect x="1559.1" y="1603.1" width="21.6" height="22.1" fill="#fafaff"/>
<rect x="1580.3" y="1603.1" width="19.0" height="22.1" fill="#fafaff"/>
<rect x="1393.8" y="1624.8" width="18.6" height="21.2" fill="#fffafa"/>
<rect x="1412.0" y="1624.8" width="21.5" height="21.2" fill="#dedeff"/>
<rect x="1433.1" y="1624.8" width="21.3" height="21.2" fill="#ccccff"/>
<rect x="1454.0" y="1624.8" width="21.6" height="21.2" fill="#ebebff"/>
<rect x="1475.2" y="1624.8" width="21.3" height="21.2" fill="#fffafa"/>
<rect x="1496.1" y="1624.8" width="21.2" height="21.2" fill="#ffffff"/>
<rect x="1516.9" y="1624.8" width="21.8" height="21.2" fill="#f0f0ff"/>
<rect x="1538.3" y="1624.8" width="21.2" height="21.2" fill="#f5f5ff"/>
<rect x="1559.1" y="1624.8" width="21.6" height="21.2" fill="#fafaff"/>
<rect x="1580.3" y="1624.8" width="19.0" height="21.2" fill="#fffcfc"/>
<rect x="1393.8" y="1645.6" width="18.6" height="21.3" fill="#fffafa"/>
<rect x="1412.0" y="1645.6" width="21.5" height="21.3" fill="#f2f2ff"/>
<rect x="1433.1" y="1645.6" width="21.3" height="21.3" fill="#a6a6ff"/>
<rect x="1454.0" y="1645.6" width="21.6" height="21.3" fill="#9e9eff"/>
<rect x="1475.2" y="1645.6" width="21.3" height="21.3" fill="#dedeff"/>
<rect x="1496.1" y="1645.6" width="21.2" height="21.3" fill="#fcfcff"/>
<rect x="1516.9" y="1645.6" width="21.8" height="21.3" fill="#f2f2ff"/>
<rect x="1538.3" y="1645.6" width="21.2" height="21.3" fill="#f7f7ff"/>
<rect x="1559.1" y="1645.6" width="21.6" height="21.3" fill="#fcfcff"/>
<rect x="1580.3" y="1645.6" width="19.0" height="21.3" fill="#fffcfc"/>
<rect x="1393.8" y="1666.5" width="18.6" height="21.2" fill="#fffafa"/>
<rect x="1412.0" y="1666.5" width="21.5" height="21.2" fill="#fff7f7"/>
<rect x="1433.1" y="1666.5" width="21.3" height="21.2" fill="#fafaff"/>
<rect x="1454.0" y="1666.5" width="21.6" height="21.2" fill="#d4d4ff"/>
<rect x="1475.2" y="1666.5" width="21.3" height="21.2" fill="#d1d1ff"/>
<rect x="1496.1" y="1666.5" width="21.2" height="21.2" fill="#e0e0ff"/>
<rect x="1516.9" y="1666.5" width="21.8" height="21.2" fill="#ededff"/>
<rect x="1538.3" y="1666.5" width="21.2" height="21.2" fill="#f5f5ff"/>
<rect x="1559.1" y="1666.5" width="21.6" height="21.2" fill="#fafaff"/>
<rect x="1580.3" y="1666.5" width="19.0" height="21.2" fill="#fffcfc"/>
<rect x="1393.8" y="1687.3" width="18.6" height="21.3" fill="#fffafa"/>
<rect x="1412.0" y="1687.3" width="21.5" height="21.3" fill="#fff0f0"/>
<rect x="1433.1" y="1687.3" width="21.3" height="21.3" fill="#ffe6e6"/>
<rect x="1454.0" y="1687.3" width="21.6" height="21.3" fill="#f0f0ff"/>
<rect x="1475.2" y="1687.3" width="21.3" height="21.3" fill="#f0f0ff"/>
<rect x="1496.1" y="1687.3" width="21.2" height="21.3" fill="#fffafa"/>
<rect x="1516.9" y="1687.3" width="21.8" height="21.3" fill="#ededff"/>
<rect x="1538.3" y="1687.3" width="21.2" height="21.3" fill="#e6e6ff"/>
<rect x="1559.1" y="1687.3" width="21.6" height="21.3" fill="#ededff"/>
<rect x="1580.3" y="1687.3" width="19.0" height="21.3" fill="#f2f2ff"/>
<rect x="1393.8" y="1708.2" width="18.6" height="21.3" fill="#fffafa"/>
<rect x="1412.0" y="1708.2" width="21.5" height="21.3" fill="#fff7f7"/>
<rect x="1433.1" y="1708.2" width="21.3" height="21.3" fill="#fff2f2"/>
<rect x="1454.0" y="1708.2" width="21.6" height="21.3" fill="#ffebeb"/>
<rect x="1475.2" y="1708.2" width="21.3" height="21.3" fill="#ffe0e0"/>
<rect x="1496.1" y="1708.2" width="21.2" height="21.3" fill="#ffe0e0"/>
<rect x="1516.9" y="1708.2" width="21.8" height="21.3" fill="#f7f7ff"/>
<rect x="1538.3" y="1708.2" width="21.2" height="21.3" fill="#e6e6ff"/>
<rect x="1559.1" y="1708.2" width="21.6" height="21.3" fill="#ebebff"/>
<rect x="1580.3" y="1708.2" width="19.0" height="21.3" fill="#f0f0ff"/>
<rect x="1393.8" y="1729.1" width="18.6" height="21.2" fill="#fff2f2"/>
<rect x="1412.0" y="1729.1" width="21.5" height="21.2" fill="#fffafa"/>
<rect x="1433.1" y="1729.1" width="21.3" height="21.2" fill="#fff7f7"/>
<rect x="1454.0" y="1729.1" width="21.6" height="21.2" fill="#ffebeb"/>
<rect x="1475.2" y="1729.1" width="21.3" height="21.2" fill="#ffc7c7"/>
<rect x="1496.1" y="1729.1" width="21.2" height="21.2" fill="#ffc7c7"/>
<rect x="1516.9" y="1729.1" width="21.8" height="21.2" fill="#ffe6e6"/>
<rect x="1538.3" y="1729.1" width="21.2" height="21.2" fill="#fafaff"/>
<rect x="1559.1" y="1729.1" width="21.6" height="21.2" fill="#ebebff"/>
<rect x="1580.3" y="1729.1" width="19.0" height="21.2" fill="#ededff"/>
<rect x="1393.8" y="1749.9" width="18.6" height="21.3" fill="#ffebeb"/>
<rect x="1412.0" y="1749.9" width="21.5" height="21.3" fill="#ffdede"/>
<rect x="1433.1" y="1749.9" width="21.3" height="21.3" fill="#fff5f5"/>
<rect x="1454.0" y="1749.9" width="21.6" height="21.3" fill="#ebebff"/>
<rect x="1475.2" y="1749.9" width="21.3" height="21.3" fill="#fff7f7"/>
<rect x="1496.1" y="1749.9" width="21.2" height="21.3" fill="#ffd9d9"/>
<rect x="1516.9" y="1749.9" width="21.8" height="21.3" fill="#ffd4d4"/>
<rect x="1538.3" y="1749.9" width="21.2" height="21.3" fill="#fff2f2"/>
<rect x="1559.1" y="1749.9" width="21.6" height="21.3" fill="#fafaff"/>
<rect x="1580.3" y="1749.9" width="19.0" height="21.3" fill="#f2f2ff"/>
<rect x="1393.8" y="1770.8" width="18.6" height="21.3" fill="#ffdede"/>
<rect x="1412.0" y="1770.8" width="21.5" height="21.3" fill="#ffd4d4"/>
<rect x="1433.1" y="1770.8" width="21.3" height="21.3" fill="#dedeff"/>
<rect x="1454.0" y="1770.8" width="21.6" height="21.3" fill="#ababff"/>
<rect x="1475.2" y="1770.8" width="21.3" height="21.3" fill="#e0e0ff"/>
<rect x="1496.1" y="1770.8" width="21.2" height="21.3" fill="#ffebeb"/>
<rect x="1516.9" y="1770.8" width="21.8" height="21.3" fill="#ffe0e0"/>
<rect x="1538.3" y="1770.8" width="21.2" height="21.3" fill="#fffafa"/>
<rect x="1559.1" y="1770.8" width="21.6" height="21.3" fill="#f2f2ff"/>
<rect x="1580.3" y="1770.8" width="19.0" height="21.3" fill="#fafaff"/>
<rect x="1393.8" y="1791.7" width="18.6" height="21.2" fill="#ffe6e6"/>
<rect x="1412.0" y="1791.7" width="21.5" height="21.2" fill="#ffcccc"/>
<rect x="1433.1" y="1791.7" width="21.3" height="21.2" fill="#ffe0e0"/>
<rect x="1454.0" y="1791.7" width="21.6" height="21.2" fill="#a6a6ff"/>
<rect x="1475.2" y="1791.7" width="21.3" height="21.2" fill="#bfbfff"/>
<rect x="1496.1" y="1791.7" width="21.2" height="21.2" fill="#f2f2ff"/>
<rect x="1516.9" y="1791.7" width="21.8" height="21.2" fill="#fff0f0"/>
<rect x="1538.3" y="1791.7" width="21.2" height="21.2" fill="#fff5f5"/>
<rect x="1559.1" y="1791.7" width="21.6" height="21.2" fill="#f7f7ff"/>
<rect x="1580.3" y="1791.7" width="19.0" height="21.2" fill="#fafaff"/>
<rect x="1393.8" y="1812.5" width="18.6" height="21.6" fill="#fff0f0"/>
<rect x="1412.0" y="1812.5" width="21.5" height="21.6" fill="#ffe0e0"/>
<rect x="1433.1" y="1812.5" width="21.3" height="21.6" fill="#ffe0e0"/>
<rect x="1454.0" y="1812.5" width="21.6" height="21.6" fill="#fff5f5"/>
<rect x="1475.2" y="1812.5" width="21.3" height="21.6" fill="#f5f5ff"/>
<rect x="1496.1" y="1812.5" width="21.2" height="21.6" fill="#fff7f7"/>
<rect x="1516.9" y="1812.5" width="21.8" height="21.6" fill="#fff7f7"/>
<rect x="1538.3" y="1812.5" width="21.2" height="21.6" fill="#fcfcff"/>
<rect x="1559.1" y="1812.5" width="21.6" height="21.6" fill="#fcfcff"/>
<rect x="1580.3" y="1812.5" width="19.0" height="21.6" fill="#fff7f7"/>
<rect x="1393.8" y="1833.7" width="18.6" height="21.3" fill="#fff5f5"/>
<rect x="1412.0" y="1833.7" width="21.5" height="21.3" fill="#fff0f0"/>
<rect x="1433.1" y="1833.7" width="21.3" height="21.3" fill="#fff0f0"/>
<rect x="1454.0" y="1833.7" width="21.6" height="21.3" fill="#fff0f0"/>
<rect x="1475.2" y="1833.7" width="21.3" height="21.3" fill="#fffcfc"/>
<rect x="1496.1" y="1833.7" width="21.2" height="21.3" fill="#fff7f7"/>
<rect x="1516.9" y="1833.7" width="21.8" height="21.3" fill="#fffafa"/>
<rect x="1538.3" y="1833.7" width="21.2" height="21.3" fill="#fffafa"/>
<rect x="1559.1" y="1833.7" width="21.6" height="21.3" fill="#fffafa"/>
<rect x="1580.3" y="1833.7" width="19.0" height="21.3" fill="#fff7f7"/>
<rect x="1393.8" y="1854.6" width="18.6" height="19.6" fill="#fffafa"/>
<rect x="1412.0" y="1854.6" width="21.5" height="19.6" fill="#fffafa"/>
<rect x="1433.1" y="1854.6" width="21.3" height="19.6" fill="#fff7f7"/>
<rect x="1454.0" y="1854.6" width="21.6" height="19.6" fill="#fff7f7"/>
<rect x="1475.2" y="1854.6" width="21.3" height="19.6" fill="#fffcfc"/>
<rect x="1496.1" y="1854.6" width="21.2" height="19.6" fill="#fff7f7"/>
<rect x="1516.9" y="1854.6" width="21.8" height="19.6" fill="#fcfcff"/>
<rect x="1538.3" y="1854.6" width="21.2" height="19.6" fill="#ffffff"/>
<rect x="1559.1" y="1854.6" width="21.6" height="19.6" fill="#fffcfc"/>
<rect x="1580.3" y="1854.6" width="19.0" height="19.6" fill="#fffcfc"/>
<rect x="1622.0" y="1584.6" width="19.0" height="18.9" fill="#fcfcff"/>
<rect x="1640.6" y="1584.6" width="21.2" height="18.9" fill="#fffafa"/>
<rect x="1661.4" y="1584.6" width="21.3" height="18.9" fill="#fffafa"/>
<rect x="1682.3" y="1584.6" width="21.3" height="18.9" fill="#fffafa"/>
<rect x="1703.2" y="1584.6" width="21.2" height="18.9" fill="#fcfcff"/>
<rect x="1724.0" y="1584.6" width="21.6" height="18.9" fill="#fafaff"/>
<rect x="1745.2" y="1584.6" width="21.3" height="18.9" fill="#f2f2ff"/>
<rect x="1766.1" y="1584.6" width="21.6" height="18.9" fill="#f7f7ff"/>
<rect x="1787.3" y="1584.6" width="21.2" height="18.9" fill="#fffafa"/>
<rect x="1808.1" y="1584.6" width="19.4" height="18.9" fill="#fffcfc"/>
<rect x="1622.0" y="1603.1" width="19.0" height="22.1" fill="#fafaff"/>
<rect x="1640.6" y="1603.1" width="21.2" height="22.1" fill="#fff2f2"/>
<rect x="1661.4" y="1603.1" width="21.3" height="22.1" fill="#fff0f0"/>
<rect x="1682.3" y="1603.1" width="21.3" height="22.1" fill="#ffe0e0"/>
<rect x="1703.2" y="1603.1" width="21.2" height="22.1" fill="#fff0f0"/>
<rect x="1724.0" y="1603.1" width="21.6" height="22.1" fill="#f7f7ff"/>
<rect x="1745.2" y="1603.1" width="21.3" height="22.1" fill="#e0e0ff"/>
<rect x="1766.1" y="1603.1" width="21.6" height="22.1" fill="#e6e6ff"/>
<rect x="1787.3" y="1603.1" width="21.2" height="22.1" fill="#f7f7ff"/>
<rect x="1808.1" y="1603.1" width="19.4" height="22.1" fill="#f7f7ff"/>
<rect x="1622.0" y="1624.8" width="19.0" height="21.2" fill="#f2f2ff"/>
<rect x="1640.6" y="1624.8" width="21.2" height="21.2" fill="#fafaff"/>
<rect x="1661.4" y="1624.8" width="21.3" height="21.2" fill="#fff0f0"/>
<rect x="1682.3" y="1624.8" width="21.3" height="21.2" fill="#ffd1d1"/>
<rect x="1703.2" y="1624.8" width="21.2" height="21.2" fill="#ffebeb"/>
<rect x="1724.0" y="1624.8" width="21.6" height="21.2" fill="#f5f5ff"/>
<rect x="1745.2" y="1624.8" width="21.3" height="21.2" fill="#dedeff"/>
<rect x="1766.1" y="1624.8" width="21.6" height="21.2" fill="#e6e6ff"/>
<rect x="1787.3" y="1624.8" width="21.2" height="21.2" fill="#ededff"/>
<rect x="1808.1" y="1624.8" width="19.4" height="21.2" fill="#f2f2ff"/>
<rect x="1622.0" y="1645.6" width="19.0" height="21.3" fill="#f5f5ff"/>
<rect x="1640.6" y="1645.6" width="21.2" height="21.3" fill="#fcfcff"/>
<rect x="1661.4" y="1645.6" width="21.3" height="21.3" fill="#fcfcff"/>
<rect x="1682.3" y="1645.6" width="21.3" height="21.3" fill="#ffe0e0"/>
<rect x="1703.2" y="1645.6" width="21.2" height="21.3" fill="#ffe0e0"/>
<rect x="1724.0" y="1645.6" width="21.6" height="21.3" fill="#fcfcff"/>
<rect x="1745.2" y="1645.6" width="21.3" height="21.3" fill="#e6e6ff"/>
<rect x="1766.1" y="1645.6" width="21.6" height="21.3" fill="#ebebff"/>
<rect x="1787.3" y="1645.6" width="21.2" height="21.3" fill="#ebebff"/>
<rect x="1808.1" y="1645.6" width="19.4" height="21.3" fill="#f2f2ff"/>
<rect x="1622.0" y="1666.5" width="19.0" height="21.2" fill="#f0f0ff"/>
<rect x="1640.6" y="1666.5" width="21.2" height="21.2" fill="#fafaff"/>
<rect x="1661.4" y="1666.5" width="21.3" height="21.2" fill="#fff7f7"/>
<rect x="1682.3" y="1666.5" width="21.3" height="21.2" fill="#ffeded"/>
<rect x="1703.2" y="1666.5" width="21.2" height="21.2" fill="#ffe0e0"/>
<rect x="1724.0" y="1666.5" width="21.6" height="21.2" fill="#fffcfc"/>
<rect x="1745.2" y="1666.5" width="21.3" height="21.2" fill="#fffafa"/>
<rect x="1766.1" y="1666.5" width="21.6" height="21.2" fill="#e6e6ff"/>
<rect x="1787.3" y="1666.5" width="21.2" height="21.2" fill="#ebebff"/>
<rect x="1808.1" y="1666.5" width="19.4" height="21.2" fill="#f0f0ff"/>
<rect x="1622.0" y="1687.3" width="19.0" height="21.3" fill="#f5f5ff"/>
<rect x="1640.6" y="1687.3" width="21.2" height="21.3" fill="#fffafa"/>
<rect x="1661.4" y="1687.3" width="21.3" height="21.3" fill="#ffd9d9"/>
<rect x="1682.3" y="1687.3" width="21.3" height="21.3" fill="#ffc7c7"/>
<rect x="1703.2" y="1687.3" width="21.2" height="21.3" fill="#ffe0e0"/>
<rect x="1724.0" y="1687.3" width="21.6" height="21.3" fill="#d9d9ff"/>
<rect x="1745.2" y="1687.3" width="21.3" height="21.3" fill="#e0e0ff"/>
<rect x="1766.1" y="1687.3" width="21.6" height="21.3" fill="#e0e0ff"/>
<rect x="1787.3" y="1687.3" width="21.2" height="21.3" fill="#e0e0ff"/>
<rect x="1808.1" y="1687.3" width="19.4" height="21.3" fill="#f2f2ff"/>
<rect x="1622.0" y="1708.2" width="19.0" height="21.3" fill="#fafaff"/>
<rect x="1640.6" y="1708.2" width="21.2" height="21.3" fill="#fcfcff"/>
<rect x="1661.4" y="1708.2" width="21.3" height="21.3" fill="#fff5f5"/>
<rect x="1682.3" y="1708.2" width="21.3" height="21.3" fill="#ffe0e0"/>
<rect x="1703.2" y="1708.2" width="21.2" height="21.3" fill="#fffafa"/>
<rect x="1724.0" y="1708.2" width="21.6" height="21.3" fill="#f7f7ff"/>
<rect x="1745.2" y="1708.2" width="21.3" height="21.3" fill="#fff5f5"/>
<rect x="1766.1" y="1708.2" width="21.6" height="21.3" fill="#e6e6ff"/>
<rect x="1787.3" y="1708.2" width="21.2" height="21.3" fill="#e0e0ff"/>
<rect x="1808.1" y="1708.2" width="19.4" height="21.3" fill="#e0e0ff"/>
<rect x="1622.0" y="1729.1" width="19.0" height="21.2" fill="#fafaff"/>
<rect x="1640.6" y="1729.1" width="21.2" height="21.2" fill="#fffafa"/>
<rect x="1661.4" y="1729.1" width="21.3" height="21.2" fill="#ffebeb"/>
<rect x="1682.3" y="1729.1" width="21.3" height="21.2" fill="#fff5f5"/>
<rect x="1703.2" y="1729.1" width="21.2" height="21.2" fill="#fffcfc"/>
<rect x="1724.0" y="1729.1" width="21.6" height="21.2" fill="#fff0f0"/>
<rect x="1745.2" y="1729.1" width="21.3" height="21.2" fill="#fff0f0"/>
<rect x="1766.1" y="1729.1" width="21.6" height="21.2" fill="#e0e0ff"/>
<rect x="1787.3" y="1729.1" width="21.2" height="21.2" fill="#e0e0ff"/>
<rect x="1808.1" y="1729.1" width="19.4" height="21.2" fill="#e0e0ff"/>
<rect x="1622.0" y="1749.9" width="19.0" height="21.3" fill="#ffffff"/>
<rect x="1640.6" y="1749.9" width="21.2" height="21.3" fill="#fff7f7"/>
<rect x="1661.4" y="1749.9" width="21.3" height="21.3" fill="#fffcfc"/>
<rect x="1682.3" y="1749.9" width="21.3" height="21.3" fill="#ebebff"/>
<rect x="1703.2" y="1749.9" width="21.2" height="21.3" fill="#f7f7ff"/>
<rect x="1724.0" y="1749.9" width="21.6" height="21.3" fill="#fff2f2"/>
<rect x="1745.2" y="1749.9" width="21.3" height="21.3" fill="#fff0f0"/>
<rect x="1766.1" y="1749.9" width="21.6" height="21.3" fill="#ebebff"/>
<rect x="1787.3" y="1749.9" width="21.2" height="21.3" fill="#e6e6ff"/>
<rect x="1808.1" y="1749.9" width="19.4" height="21.3" fill="#e6e6ff"/>
<rect x="1622.0" y="1770.8" width="19.0" height="21.3" fill="#fffafa"/>
<rect x="1640.6" y="1770.8" width="21.2" height="21.3" fill="#fff7f7"/>
<rect x="1661.4" y="1770.8" width="21.3" height="21.3" fill="#fafaff"/>
<rect x="1682.3" y="1770.8" width="21.3" height="21.3" fill="#bfbfff"/>
<rect x="1703.2" y="1770.8" width="21.2" height="21.3" fill="#b2b2ff"/>
<rect x="1724.0" y="1770.8" width="21.6" height="21.3" fill="#ededff"/>
<rect x="1745.2" y="1770.8" width="21.3" height="21.3" fill="#fffcfc"/>
<rect x="1766.1" y="1770.8" width="21.6" height="21.3" fill="#fafaff"/>
<rect x="1787.3" y="1770.8" width="21.2" height="21.3" fill="#f0f0ff"/>
<rect x="1808.1" y="1770.8" width="19.4" height="21.3" fill="#ebebff"/>
<rect x="1622.0" y="1791.7" width="19.0" height="21.2" fill="#fffafa"/>
<rect x="1640.6" y="1791.7" width="21.2" height="21.2" fill="#fff5f5"/>
<rect x="1661.4" y="1791.7" width="21.3" height="21.2" fill="#ffffff"/>
<rect x="1682.3" y="1791.7" width="21.3" height="21.2" fill="#ababff"/>
<rect x="1703.2" y="1791.7" width="21.2" height="21.2" fill="#9999ff"/>
<rect x="1724.0" y="1791.7" width="21.6" height="21.2" fill="#e6e6ff"/>
<rect x="1745.2" y="1791.7" width="21.3" height="21.2" fill="#ffffff"/>
<rect x="1766.1" y="1791.7" width="21.6" height="21.2" fill="#f2f2ff"/>
<rect x="1787.3" y="1791.7" width="21.2" height="21.2" fill="#f0f0ff"/>
<rect x="1808.1" y="1791.7" width="19.4" height="21.2" fill="#f0f0ff"/>
<rect x="1622.0" y="1812.5" width="19.0" height="21.6" fill="#fff5f5"/>
<rect x="1640.6" y="1812.5" width="21.2" height="21.6" fill="#fff0f0"/>
<rect x="1661.4" y="1812.5" width="21.3" height="21.6" fill="#fff5f5"/>
<rect x="1682.3" y="1812.5" width="21.3" height="21.6" fill="#ccccff"/>
<rect x="1703.2" y="1812.5" width="21.2" height="21.6" fill="#ccccff"/>
<rect x="1724.0" y="1812.5" width="21.6" height="21.6" fill="#f0f0ff"/>
<rect x="1745.2" y="1812.5" width="21.3" height="21.6" fill="#fffcfc"/>
<rect x="1766.1" y="1812.5" width="21.6" height="21.6" fill="#ffffff"/>
<rect x="1787.3" y="1812.5" width="21.2" height="21.6" fill="#f7f7ff"/>
<rect x="1808.1" y="1812.5" width="19.4" height="21.6" fill="#fafaff"/>
<rect x="1622.0" y="1833.7" width="19.0" height="21.3" fill="#fff7f7"/>
<rect x="1640.6" y="1833.7" width="21.2" height="21.3" fill="#fff5f5"/>
<rect x="1661.4" y="1833.7" width="21.3" height="21.3" fill="#ffeded"/>
<rect x="1682.3" y="1833.7" width="21.3" height="21.3" fill="#fff7f7"/>
<rect x="1703.2" y="1833.7" width="21.2" height="21.3" fill="#fffafa"/>
<rect x="1724.0" y="1833.7" width="21.6" height="21.3" fill="#fff0f0"/>
<rect x="1745.2" y="1833.7" width="21.3" height="21.3" fill="#fff0f0"/>
<rect x="1766.1" y="1833.7" width="21.6" height="21.3" fill="#fff5f5"/>
<rect x="1787.3" y="1833.7" width="21.2" height="21.3" fill="#fafaff"/>
<rect x="1808.1" y="1833.7" width="19.4" height="21.3" fill="#fafaff"/>
<rect x="1622.0" y="1854.6" width="19.0" height="19.6" fill="#fff5f5"/>
<rect x="1640.6" y="1854.6" width="21.2" height="19.6" fill="#fff2f2"/>
<rect x="1661.4" y="1854.6" width="21.3" height="19.6" fill="#fff2f2"/>
<rect x="1682.3" y="1854.6" width="21.3" height="19.6" fill="#fff0f0"/>
<rect x="1703.2" y="1854.6" width="21.2" height="19.6" fill="#ffe6e6"/>
<rect x="1724.0" y="1854.6" width="21.6" height="19.6" fill="#fff0f0"/>
<rect x="1745.2" y="1854.6" width="21.3" height="19.6" fill="#fff2f2"/>
<rect x="1766.1" y="1854.6" width="21.6" height="19.6" fill="#fff5f5"/>
<rect x="1787.3" y="1854.6" width="21.2" height="19.6" fill="#ffffff"/>
<rect x="1808.1" y="1854.6" width="19.4" height="19.6" fill="#fff7f7"/>
<path d="M1128.6,1204.0 C1129.0,1206.4 1131.2,1214.2 1131.2,1218.4 C1131.2,1222.7 1130.5,1227.0 1128.5,1229.5 C1126.5,1232.0 1122.5,1230.8 1119.4,1233.5 C1116.3,1236.2 1113.5,1243.1 1109.9,1246.0 C1106.4,1248.9 1102.3,1250.8 1098.1,1250.8 C1093.9,1250.8 1087.5,1248.6 1084.7,1246.0 C1081.9,1243.4 1081.4,1238.8 1081.5,1235.0 C1081.6,1231.2 1083.4,1226.6 1085.5,1223.1 C1087.6,1219.5 1091.6,1216.4 1094.2,1213.7 C1096.8,1211.0 1099.9,1208.1 1101.0,1207.0" stroke="#808080" stroke-width="5.2" stroke-linecap="round" stroke-dasharray="7.2 17" fill="none"/>
<path d="M972.6,1322.6 C973.9,1324.2 976.8,1329.1 980.5,1332.0 C984.2,1334.9 991.0,1337.0 994.7,1339.9 C998.4,1342.8 998.9,1346.0 1002.6,1349.4 C1006.3,1352.8 1013.8,1356.8 1016.8,1360.5 C1019.8,1364.2 1019.5,1367.0 1020.8,1371.5 C1022.1,1376.0 1023.3,1383.3 1024.7,1387.3 C1026.1,1391.2 1026.8,1391.5 1029.4,1395.2 C1032.0,1398.9 1036.8,1406.2 1040.5,1409.4 C1044.2,1412.6 1047.3,1413.2 1051.5,1414.1 C1055.7,1415.0 1061.5,1415.7 1065.7,1414.9 C1069.9,1414.1 1073.4,1412.7 1076.8,1409.4 C1080.2,1406.1 1084.5,1399.2 1086.3,1395.2 C1088.1,1391.2 1087.0,1389.7 1087.8,1385.7 C1088.6,1381.8 1089.3,1375.2 1091.0,1371.5 C1092.7,1367.8 1094.7,1366.0 1098.1,1363.6 C1101.5,1361.2 1107.4,1358.6 1111.5,1357.3 C1115.6,1356.0 1118.9,1353.9 1122.6,1355.7 C1126.3,1357.5 1130.4,1365.2 1133.6,1368.3 C1136.8,1371.4 1139.9,1370.1 1141.5,1374.6 C1143.1,1379.1 1143.4,1389.9 1143.1,1395.2 C1142.8,1400.5 1141.5,1402.5 1139.9,1406.2 C1138.3,1409.9 1136.2,1414.1 1133.6,1417.3 C1131.0,1420.5 1127.8,1422.8 1124.1,1425.2 C1120.4,1427.6 1115.2,1429.1 1111.5,1431.5 C1107.8,1433.9 1102.3,1435.5 1102.0,1439.4 C1101.7,1443.4 1107.5,1450.5 1109.9,1455.2 C1112.3,1459.9 1113.9,1463.8 1116.3,1467.8 C1118.7,1471.8 1122.0,1476.8 1124.1,1478.9 C1126.2,1481.0 1128.1,1480.2 1128.9,1480.4" stroke="#808080" stroke-width="5.2" stroke-linecap="round" stroke-dasharray="7.2 17" fill="none"/>
<line x1="1003.4" y1="1209.4" x2="1024.7" y2="1209.4" stroke="#00b0f0" stroke-width="5.3" />
<line x1="1041.3" y1="1209.4" x2="1062.6" y2="1209.4" stroke="#00b0f0" stroke-width="5.3" />
<line x1="1079.2" y1="1209.4" x2="1100.5" y2="1209.4" stroke="#00b0f0" stroke-width="5.3" />
<line x1="1117.0" y1="1209.4" x2="1139.1" y2="1209.4" stroke="#00b0f0" stroke-width="5.3" />
<line x1="1155.7" y1="1209.4" x2="1159.2" y2="1209.4" stroke="#00b0f0" stroke-width="5.3" />
<line x1="981.3" y1="1474.4" x2="1005.8" y2="1474.4" stroke="#00b0f0" stroke-width="5.3" />
<line x1="1022.3" y1="1474.4" x2="1043.6" y2="1474.4" stroke="#00b0f0" stroke-width="5.3" />
<line x1="1060.2" y1="1474.4" x2="1081.5" y2="1474.4" stroke="#00b0f0" stroke-width="5.3" />
<line x1="1098.1" y1="1474.4" x2="1119.4" y2="1474.4" stroke="#00b0f0" stroke-width="5.3" />
<line x1="1136.0" y1="1474.4" x2="1159.2" y2="1474.4" stroke="#00b0f0" stroke-width="5.3" />
<line x1="984.0" y1="1206.7" x2="984.0" y2="1227.1" stroke="#00b0f0" stroke-width="5.3" />
<line x1="984.0" y1="1243.7" x2="984.0" y2="1264.2" stroke="#00b0f0" stroke-width="5.3" />
<line x1="984.0" y1="1281.5" x2="984.0" y2="1302.0" stroke="#00b0f0" stroke-width="5.3" />
<line x1="984.0" y1="1319.4" x2="984.0" y2="1340.7" stroke="#00b0f0" stroke-width="5.3" />
<line x1="984.0" y1="1358.1" x2="984.0" y2="1378.6" stroke="#00b0f0" stroke-width="5.3" />
<line x1="984.0" y1="1396.0" x2="984.0" y2="1417.3" stroke="#00b0f0" stroke-width="5.3" />
<line x1="984.0" y1="1433.9" x2="984.0" y2="1455.2" stroke="#00b0f0" stroke-width="5.3" />
<line x1="1156.5" y1="1206.7" x2="1156.5" y2="1229.4" stroke="#00b0f0" stroke-width="5.3" />
<line x1="1156.5" y1="1246.0" x2="1156.5" y2="1267.3" stroke="#00b0f0" stroke-width="5.3" />
<line x1="1156.5" y1="1283.9" x2="1156.5" y2="1305.2" stroke="#00b0f0" stroke-width="5.3" />
<line x1="1156.5" y1="1321.8" x2="1156.5" y2="1343.1" stroke="#00b0f0" stroke-width="5.3" />
<line x1="1156.5" y1="1359.7" x2="1156.5" y2="1381.0" stroke="#00b0f0" stroke-width="5.3" />
<line x1="1156.5" y1="1398.3" x2="1156.5" y2="1418.8" stroke="#00b0f0" stroke-width="5.3" />
<line x1="1156.5" y1="1436.2" x2="1156.5" y2="1456.7" stroke="#00b0f0" stroke-width="5.3" />
<path d="M1199.2,1360.5 C1202.8,1363.2 1215.6,1372.8 1220.5,1377.0 C1225.4,1381.2 1225.4,1381.8 1228.4,1385.7 C1231.4,1389.7 1236.1,1396.8 1238.7,1400.7 C1241.3,1404.7 1240.5,1406.6 1244.2,1409.4 C1247.9,1412.2 1256.3,1416.7 1260.8,1417.3 C1265.3,1417.9 1267.1,1415.4 1271.0,1413.3 C1274.9,1411.2 1281.0,1407.6 1284.4,1404.7 C1287.8,1401.8 1291.5,1400.0 1291.5,1396.0 C1291.5,1392.0 1286.9,1385.2 1284.4,1381.0 C1281.9,1376.8 1278.7,1374.9 1276.5,1370.7 C1274.3,1366.5 1271.9,1360.2 1271.0,1355.7 C1270.1,1351.2 1269.8,1348.1 1271.0,1343.9 C1272.2,1339.7 1274.9,1332.6 1278.1,1330.5 C1281.3,1328.4 1285.3,1330.6 1290.0,1331.3 C1294.7,1332.0 1301.8,1334.0 1306.5,1334.4 C1311.2,1334.8 1314.3,1333.4 1318.4,1333.9 C1322.5,1334.4 1327.2,1335.9 1331.0,1337.6 C1334.8,1339.3 1337.6,1341.4 1341.3,1343.9 C1345.0,1346.4 1350.2,1349.4 1353.1,1352.6 C1356.0,1355.8 1356.6,1358.3 1358.6,1362.8 C1360.6,1367.3 1363.5,1374.7 1364.9,1379.4 C1366.4,1384.1 1367.8,1387.2 1367.3,1391.2 C1366.8,1395.2 1364.0,1399.8 1361.8,1403.1 C1359.6,1406.4 1357.3,1407.8 1353.9,1411.0 C1350.5,1414.2 1344.8,1419.0 1341.3,1422.0 C1337.8,1425.0 1336.4,1426.3 1332.6,1429.1 C1328.8,1431.9 1321.6,1435.3 1318.4,1438.6 C1315.2,1441.9 1315.4,1444.3 1313.6,1448.9 C1311.8,1453.5 1308.6,1461.6 1307.3,1466.2 C1306.0,1470.8 1306.0,1474.8 1305.7,1476.5" stroke="#808080" stroke-width="5.2" stroke-linecap="round" stroke-dasharray="7.2 17" fill="none"/>
<path d="M1179.1,1863.9 C1179.8,1861.0 1182.0,1851.0 1183.1,1846.2 C1184.2,1841.4 1184.0,1839.3 1185.5,1835.0 C1187.0,1830.7 1189.2,1824.1 1191.9,1820.6 C1194.6,1817.1 1197.8,1816.8 1201.5,1814.1 C1205.2,1811.4 1210.7,1806.9 1214.4,1804.5 C1218.2,1802.1 1220.0,1801.6 1224.0,1799.7 C1228.0,1797.8 1234.2,1795.0 1238.5,1793.3 C1242.8,1791.6 1246.0,1791.7 1249.7,1789.3 C1253.4,1786.9 1258.2,1782.4 1260.9,1778.8 C1263.6,1775.2 1266.0,1771.9 1265.7,1767.6 C1265.4,1763.3 1262.0,1756.8 1259.3,1753.1 C1256.6,1749.3 1252.6,1748.2 1249.7,1745.1 C1246.8,1742.0 1243.8,1738.3 1241.7,1734.7 C1239.6,1731.1 1236.9,1727.8 1236.9,1723.5 C1236.9,1719.2 1239.8,1713.2 1241.7,1709.0 C1243.6,1704.8 1244.9,1700.6 1248.1,1698.6 C1251.3,1696.5 1256.9,1696.3 1260.9,1696.7 C1264.9,1697.1 1267.9,1699.1 1272.2,1701.0 C1276.5,1702.9 1282.3,1705.9 1286.6,1708.2 C1290.9,1710.5 1293.9,1712.6 1297.8,1714.6 C1301.7,1716.6 1305.9,1718.3 1309.9,1720.2 C1313.9,1722.1 1318.0,1722.8 1321.9,1725.9 C1325.8,1729.0 1331.1,1734.7 1333.1,1738.7 C1335.1,1742.7 1334.3,1745.4 1333.9,1749.9 C1333.5,1754.5 1331.9,1761.3 1330.7,1766.0 C1329.5,1770.7 1329.4,1773.8 1326.7,1778.0 C1324.0,1782.2 1318.2,1787.3 1314.7,1790.9 C1311.2,1794.5 1309.2,1796.6 1305.9,1799.7 C1302.6,1802.8 1297.9,1806.5 1294.6,1809.3 C1291.2,1812.1 1288.9,1813.7 1285.8,1816.5 C1282.7,1819.3 1278.1,1822.6 1276.2,1826.2 C1274.3,1829.8 1275.0,1833.5 1274.6,1838.2 C1274.2,1842.9 1273.9,1849.7 1273.8,1854.3 C1273.7,1858.9 1273.8,1864.0 1273.8,1866.0" stroke="#808080" stroke-width="5.2" stroke-linecap="round" stroke-dasharray="7.2 17" fill="none"/>
<path d="M1440.4,1591.5 C1440.8,1592.9 1442.1,1597.1 1443.0,1600.0 C1443.9,1602.9 1443.8,1606.2 1446.0,1609.0 C1448.2,1611.8 1452.9,1615.5 1456.4,1617.0 C1459.9,1618.5 1463.2,1618.6 1467.0,1618.0 C1470.8,1617.4 1478.1,1615.8 1478.9,1613.5 C1479.7,1611.2 1474.2,1606.7 1472.0,1604.0 C1469.8,1601.3 1466.3,1599.3 1466.0,1597.5 C1465.7,1595.7 1469.3,1593.8 1470.0,1593.0" stroke="#808080" stroke-width="5.2" stroke-linecap="round" stroke-dasharray="7.2 17" fill="none"/>
<path d="M1413.1,1675.3 C1415.6,1673.0 1421.1,1671.0 1425.1,1672.1 C1429.1,1673.2 1433.6,1678.8 1437.2,1681.7 C1440.8,1684.7 1443.6,1686.2 1446.8,1689.8 C1450.0,1693.4 1453.3,1699.8 1456.4,1703.4 C1459.5,1707.0 1461.2,1710.3 1465.2,1711.4 C1469.2,1712.5 1475.8,1710.6 1480.5,1709.8 C1485.2,1709.0 1488.8,1707.3 1493.3,1706.6 C1497.8,1705.9 1504.2,1704.5 1507.8,1705.8 C1511.4,1707.1 1511.8,1711.0 1515.0,1714.6 C1518.2,1718.2 1523.7,1724.2 1527.0,1727.5 C1530.3,1730.8 1532.3,1731.4 1535.1,1734.7 C1537.9,1738.0 1541.2,1743.8 1543.9,1747.5 C1546.6,1751.2 1550.3,1753.6 1551.1,1757.2 C1551.9,1760.8 1549.8,1765.3 1548.7,1769.2 C1547.6,1773.1 1545.2,1776.2 1544.7,1780.4 C1544.2,1784.6 1545.6,1790.1 1545.5,1794.1 C1545.4,1798.1 1546.9,1800.4 1543.9,1804.5 C1541.0,1808.6 1532.1,1819.8 1527.8,1818.9 C1523.5,1818.0 1521.3,1803.4 1518.2,1798.9 C1515.1,1794.4 1512.4,1794.9 1509.4,1791.7 C1506.5,1788.5 1503.0,1783.2 1500.5,1779.6 C1498.0,1776.0 1496.9,1773.7 1494.1,1770.0 C1491.3,1766.3 1487.2,1760.1 1483.7,1757.2 C1480.2,1754.3 1477.3,1754.6 1473.3,1752.4 C1469.3,1750.2 1463.6,1746.5 1459.6,1744.3 C1455.6,1742.1 1452.5,1742.7 1449.2,1739.5 C1445.9,1736.3 1442.7,1728.8 1439.6,1725.1 C1436.5,1721.3 1434.0,1720.1 1430.7,1717.0 C1427.4,1713.9 1422.8,1709.9 1419.5,1706.6 C1416.2,1703.3 1412.3,1700.4 1410.7,1697.0 C1409.1,1693.6 1409.6,1689.6 1410.0,1686.0 C1410.4,1682.4 1410.6,1677.6 1413.1,1675.3Z" stroke="#808080" stroke-width="5.2" stroke-linecap="round" stroke-dasharray="7.2 17" fill="none"/>
<path d="M1396.0,1729.0 C1396.8,1729.5 1398.4,1730.5 1401.0,1732.3 C1403.6,1734.0 1407.8,1737.5 1411.5,1739.5 C1415.2,1741.5 1420.0,1742.2 1423.5,1744.3 C1427.0,1746.4 1429.6,1749.2 1432.3,1752.3 C1435.0,1755.4 1439.0,1759.0 1439.6,1762.8 C1440.1,1766.5 1435.6,1770.4 1435.6,1774.8 C1435.6,1779.2 1437.9,1785.3 1439.6,1789.3 C1441.3,1793.3 1443.2,1795.0 1446.0,1798.9 C1448.8,1802.8 1453.5,1808.6 1456.4,1812.5 C1459.3,1816.4 1461.4,1818.6 1463.6,1822.1 C1465.8,1825.6 1467.8,1829.8 1469.3,1833.4 C1470.8,1837.0 1473.5,1839.2 1472.5,1843.8 C1471.5,1848.3 1466.9,1858.2 1463.6,1860.7 C1460.2,1863.2 1456.8,1859.6 1452.4,1859.1 C1448.0,1858.6 1441.8,1858.5 1437.2,1857.5 C1432.7,1856.5 1429.6,1855.2 1425.1,1853.4 C1420.5,1851.7 1413.9,1849.7 1409.9,1847.0 C1405.9,1844.3 1403.3,1840.2 1401.0,1837.4 C1398.7,1834.6 1396.8,1831.2 1396.0,1830.0" stroke="#808080" stroke-width="5.2" stroke-linecap="round" stroke-dasharray="7.2 17" fill="none"/>
<path d="M1661.8,1608.7 C1664.0,1605.5 1667.7,1604.0 1671.4,1602.3 C1675.1,1600.6 1680.2,1599.1 1684.2,1598.3 C1688.2,1597.5 1691.1,1596.4 1695.5,1597.5 C1699.9,1598.6 1706.7,1602.0 1710.7,1604.7 C1714.7,1607.4 1718.2,1609.6 1719.5,1613.5 C1720.8,1617.4 1718.3,1623.7 1718.7,1628.0 C1719.1,1632.3 1720.4,1634.7 1721.9,1639.2 C1723.4,1643.7 1726.5,1650.7 1727.6,1655.2 C1728.7,1659.8 1728.8,1662.0 1728.4,1666.5 C1728.0,1671.0 1726.2,1678.0 1725.1,1682.5 C1724.0,1687.0 1723.2,1689.5 1721.9,1693.8 C1720.6,1698.1 1718.2,1703.9 1717.1,1708.2 C1716.0,1712.5 1716.7,1716.2 1715.5,1719.4 C1714.3,1722.6 1711.4,1725.2 1709.9,1727.5 C1708.4,1729.8 1709.1,1730.7 1706.7,1733.1 C1704.3,1735.5 1699.4,1739.8 1695.5,1741.9 C1691.6,1744.0 1687.8,1745.1 1683.4,1745.9 C1679.0,1746.7 1673.0,1748.0 1669.0,1746.7 C1665.0,1745.4 1660.0,1741.1 1659.3,1737.9 C1658.6,1734.7 1663.1,1730.6 1665.0,1727.5 C1666.9,1724.4 1670.2,1721.8 1670.6,1719.4 C1671.0,1717.0 1669.7,1716.2 1667.4,1713.0 C1665.1,1709.8 1658.1,1703.7 1656.9,1700.2 C1655.7,1696.7 1657.8,1695.6 1660.1,1692.2 C1662.4,1688.8 1667.1,1683.0 1670.6,1680.1 C1674.1,1677.1 1679.4,1678.4 1681.0,1674.5 C1682.6,1670.6 1681.4,1661.7 1680.2,1656.9 C1679.0,1652.1 1676.3,1649.8 1673.8,1645.6 C1671.3,1641.4 1667.5,1636.0 1665.0,1632.0 C1662.5,1628.0 1659.0,1625.4 1658.5,1621.5 C1658.0,1617.6 1659.6,1611.9 1661.8,1608.7Z" stroke="#808080" stroke-width="5.2" stroke-linecap="round" stroke-dasharray="7.2 17" fill="none"/>
<path d="M1728.4,1727.5 C1732.2,1727.8 1735.3,1731.0 1739.6,1733.1 C1743.9,1735.2 1751.1,1737.6 1754.0,1740.3 C1756.9,1743.0 1756.5,1744.8 1757.2,1749.1 C1757.9,1753.4 1758.5,1762.4 1758.0,1766.0 C1757.5,1769.6 1757.7,1770.9 1754.0,1770.8 C1750.3,1770.7 1740.1,1767.3 1735.6,1765.2 C1731.1,1763.1 1728.9,1761.8 1726.8,1758.0 C1724.7,1754.2 1724.3,1747.1 1722.7,1742.7 C1721.1,1738.3 1716.1,1734.0 1717.1,1731.5 C1718.0,1729.0 1724.7,1727.2 1728.4,1727.5Z" stroke="#808080" stroke-width="5.2" stroke-linecap="round" stroke-dasharray="7.2 17" fill="none"/>
<path d="M1774.9,1866.3 C1774.8,1864.3 1775.0,1858.3 1774.1,1854.3 C1773.2,1850.3 1771.8,1845.4 1769.3,1842.2 C1766.8,1839.0 1763.2,1835.9 1758.8,1835.0 C1754.4,1834.1 1747.3,1836.1 1742.8,1836.6 C1738.3,1837.1 1735.8,1836.5 1731.6,1838.2 C1727.4,1839.9 1722.1,1845.4 1717.9,1847.0 C1713.8,1848.6 1710.7,1848.2 1706.7,1847.8 C1702.7,1847.4 1697.5,1846.7 1693.8,1844.6 C1690.0,1842.5 1687.7,1839.3 1684.2,1835.0 C1680.7,1830.7 1676.3,1822.9 1673.0,1819.0 C1669.7,1815.1 1667.8,1813.7 1664.2,1811.7 C1660.6,1809.7 1654.9,1806.1 1651.3,1806.9 C1647.7,1807.7 1644.8,1812.3 1642.5,1816.5 C1640.2,1820.7 1638.1,1827.4 1637.7,1831.8 C1637.3,1836.2 1637.6,1839.9 1640.1,1843.0 C1642.6,1846.1 1649.2,1847.9 1652.9,1850.2 C1656.7,1852.5 1661.0,1855.5 1662.6,1856.6" stroke="#808080" stroke-width="5.2" stroke-linecap="round" stroke-dasharray="7.2 17" fill="none"/>
<line x1="986.8" y1="1218.0" x2="1048.3" y2="1218.0" stroke="#000" stroke-width="5.6" />
<line x1="1211.5" y1="1218.0" x2="1273.9" y2="1218.0" stroke="#000" stroke-width="5.6" />
<line x1="1287.4" y1="1603.5" x2="1350.5" y2="1603.5" stroke="#000" stroke-width="5.6" />
<line x1="1517.4" y1="1603.6" x2="1580.0" y2="1603.6" stroke="#000" stroke-width="5.6" />
<line x1="1745.7" y1="1603.5" x2="1808.0" y2="1603.5" stroke="#000" stroke-width="5.6" />
<text x="1739.3" y="1635.6" font-size="26" textLength="78.0" lengthAdjust="spacingAndGlyphs" stroke="#000" stroke-width="0.55">1.5 μm</text>
<rect x="965.0" y="1196.7" width="208.8" height="293.1" fill="none" stroke="#000" stroke-width="4.9"/>
<rect x="1190.5" y="1196.7" width="209.5" height="293.1" fill="none" stroke="#000" stroke-width="4.9"/>
<rect x="1161.5" y="1582.5" width="209.7" height="293.6" fill="none" stroke="#000" stroke-width="4.9"/>
<rect x="1391.5" y="1582.5" width="209.7" height="293.6" fill="none" stroke="#000" stroke-width="4.9"/>
<rect x="1620.0" y="1582.5" width="209.0" height="293.6" fill="none" stroke="#000" stroke-width="4.9"/>
<defs><linearGradient id="cb1" x1="0" y1="0" x2="0" y2="1"><stop offset="0" stop-color="#ff0000"/><stop offset="0.5" stop-color="#ffffff"/><stop offset="1" stop-color="#0000ff"/></linearGradient><linearGradient id="cb2" x1="0" y1="0" x2="0" y2="1"><stop offset="0" stop-color="#ff8787"/><stop offset="0.5" stop-color="#ffffff"/><stop offset="1" stop-color="#8f8fff"/></linearGradient></defs>
<rect x="1415.0" y="1197.2" width="28.5" height="291.2" fill="url(#cb1)" stroke="#000" stroke-width="3"/>
<text x="1480.0" y="1208.7" font-size="27.5" text-anchor="middle" stroke="#000" stroke-width="0.55">18</text>
<line x1="1416.5" y1="1246.8" x2="1420.0" y2="1246.8" stroke="#000" stroke-width="3" />
<line x1="1442.0" y1="1246.8" x2="1438.5" y2="1246.8" stroke="#000" stroke-width="3" />
<text x="1480.0" y="1256.8" font-size="27.5" text-anchor="middle" stroke="#000" stroke-width="0.55">12</text>
<line x1="1416.5" y1="1295.0" x2="1420.0" y2="1295.0" stroke="#000" stroke-width="3" />
<line x1="1442.0" y1="1295.0" x2="1438.5" y2="1295.0" stroke="#000" stroke-width="3" />
<text x="1480.0" y="1305.0" font-size="27.5" text-anchor="middle" stroke="#000" stroke-width="0.55">6</text>
<line x1="1416.5" y1="1343.1" x2="1420.0" y2="1343.1" stroke="#000" stroke-width="3" />
<line x1="1442.0" y1="1343.1" x2="1438.5" y2="1343.1" stroke="#000" stroke-width="3" />
<text x="1480.0" y="1353.1" font-size="27.5" text-anchor="middle" stroke="#000" stroke-width="0.55">0</text>
<line x1="1416.5" y1="1391.2" x2="1420.0" y2="1391.2" stroke="#000" stroke-width="3" />
<line x1="1442.0" y1="1391.2" x2="1438.5" y2="1391.2" stroke="#000" stroke-width="3" />
<text x="1480.0" y="1401.2" font-size="27.5" text-anchor="middle" stroke="#000" stroke-width="0.55">−6</text>
<line x1="1416.5" y1="1439.4" x2="1420.0" y2="1439.4" stroke="#000" stroke-width="3" />
<line x1="1442.0" y1="1439.4" x2="1438.5" y2="1439.4" stroke="#000" stroke-width="3" />
<text x="1480.0" y="1449.4" font-size="27.5" text-anchor="middle" stroke="#000" stroke-width="0.55">−12</text>
<text x="1480.0" y="1497.5" font-size="27.5" text-anchor="middle" stroke="#000" stroke-width="0.55">−18</text>
<rect x="1844.4" y="1583.1" width="28.6" height="290.8" fill="url(#cb2)" stroke="#000" stroke-width="2.8"/>
<line x1="1845.7" y1="1614.4" x2="1849.5" y2="1614.4" stroke="#000" stroke-width="3" />
<line x1="1871.8" y1="1614.4" x2="1868.0" y2="1614.4" stroke="#000" stroke-width="3" />
<text x="1900.0" y="1624.6" font-size="28" text-anchor="middle" stroke="#000" stroke-width="0.55">2</text>
<line x1="1845.7" y1="1671.8" x2="1849.5" y2="1671.8" stroke="#000" stroke-width="3" />
<line x1="1871.8" y1="1671.8" x2="1868.0" y2="1671.8" stroke="#000" stroke-width="3" />
<text x="1900.0" y="1682.0" font-size="28" text-anchor="middle" stroke="#000" stroke-width="0.55">1</text>
<line x1="1845.7" y1="1729.2" x2="1849.5" y2="1729.2" stroke="#000" stroke-width="3" />
<line x1="1871.8" y1="1729.2" x2="1868.0" y2="1729.2" stroke="#000" stroke-width="3" />
<text x="1900.0" y="1739.4" font-size="28" text-anchor="middle" stroke="#000" stroke-width="0.55">0</text>
<line x1="1845.7" y1="1786.6" x2="1849.5" y2="1786.6" stroke="#000" stroke-width="3" />
<line x1="1871.8" y1="1786.6" x2="1868.0" y2="1786.6" stroke="#000" stroke-width="3" />
<text x="1900.0" y="1796.8" font-size="28" text-anchor="middle" stroke="#000" stroke-width="0.55">−1</text>
<line x1="1845.7" y1="1844.0" x2="1849.5" y2="1844.0" stroke="#000" stroke-width="3" />
<line x1="1871.8" y1="1844.0" x2="1868.0" y2="1844.0" stroke="#000" stroke-width="3" />
<text x="1900.0" y="1854.2" font-size="28" text-anchor="middle" stroke="#000" stroke-width="0.55">−2</text>
<text x="1366.0" y="1175.6" font-size="38" font-family='"Liberation Serif", "Times New Roman", serif' font-style="italic" stroke="#000" stroke-width="0.5">B</text>
<text x="1386.6" y="1184.9" font-size="27" font-family='"Liberation Serif", "Times New Roman", serif' font-style="italic" stroke="#000" stroke-width="0.5">z</text>
<text x="1391.9" y="1156.0" font-size="30.5" font-family='"Liberation Serif", "Times New Roman", serif' textLength="53.0" lengthAdjust="spacingAndGlyphs" stroke="#000" stroke-width="0.5">mag</text>
<text x="1448.4" y="1175.8" font-size="37" textLength="51.0" lengthAdjust="spacingAndGlyphs" stroke="#000" stroke-width="0.55">(G)</text>
<text x="1781.5" y="1555.7" font-size="38" font-family='"Liberation Serif", "Times New Roman", serif' font-style="italic" stroke="#000" stroke-width="0.5">B</text>
<text x="1802.1" y="1565.0" font-size="27" font-family='"Liberation Serif", "Times New Roman", serif' font-style="italic" stroke="#000" stroke-width="0.5">z</text>
<text x="1807.4" y="1536.1" font-size="30.5" font-family='"Liberation Serif", "Times New Roman", serif' textLength="53.0" lengthAdjust="spacingAndGlyphs" stroke="#000" stroke-width="0.5">mag</text>
<text x="1863.9" y="1555.9" font-size="37" textLength="51.0" lengthAdjust="spacingAndGlyphs" stroke="#000" stroke-width="0.55">(G)</text>
<text x="944.2" y="1178.1" font-size="43" font-family='"Liberation Serif", "Times New Roman", serif' font-weight="bold" textLength="44.0" lengthAdjust="spacingAndGlyphs">(f)</text>
<text x="1186.0" y="1178.1" font-size="43" font-family='"Liberation Serif", "Times New Roman", serif' font-weight="bold" textLength="50.5" lengthAdjust="spacingAndGlyphs">(g)</text>
<text x="1158.9" y="1567.6" font-size="43" font-family='"Liberation Serif", "Times New Roman", serif' font-weight="bold" textLength="53.5" lengthAdjust="spacingAndGlyphs">(h)</text>
<text x="1397.7" y="1567.6" font-size="43" font-family='"Liberation Serif", "Times New Roman", serif' font-weight="bold" textLength="40.1" lengthAdjust="spacingAndGlyphs">(i)</text>
<text x="1618.5" y="1567.6" font-size="43" font-family='"Liberation Serif", "Times New Roman", serif' font-weight="bold" textLength="42.4" lengthAdjust="spacingAndGlyphs">(j)</text>
<text x="993.7" y="1534.3" font-size="36" textLength="152.9" lengthAdjust="spacingAndGlyphs" stroke="#000" stroke-width="0.55">38.2 GPa</text>
<text x="1224.6" y="1534.3" font-size="36" textLength="153.8" lengthAdjust="spacingAndGlyphs" stroke="#000" stroke-width="0.55">45.5 GPa</text>
<text x="1188.4" y="1920.0" font-size="36" textLength="152.6" lengthAdjust="spacingAndGlyphs" stroke="#000" stroke-width="0.55">50.4 GPa</text>
<text x="1417.8" y="1920.0" font-size="36" textLength="152.2" lengthAdjust="spacingAndGlyphs" stroke="#000" stroke-width="0.55">58.4 GPa</text>
<text x="1660.9" y="1920.0" font-size="36" textLength="152.2" lengthAdjust="spacingAndGlyphs" stroke="#000" stroke-width="0.55">65.0 GPa</text>
<text x="1007.0" y="1150.6" font-size="30" fill="#00b0f0" textLength="85.9" lengthAdjust="spacingAndGlyphs" stroke="#00b0f0" stroke-width="0.55">Fe<tspan font-size="20" dy="7">3</tspan><tspan dy="-7">O</tspan><tspan font-size="20" dy="7">4</tspan></text>
<polygon points="1031.6,1161.1 1025.2,1196.7 1020.8,1195.9 1024.9,1209.8 1033.6,1198.2 1029.2,1197.4 1035.6,1161.9" fill="#00b0f0" />
</svg></body></html>
